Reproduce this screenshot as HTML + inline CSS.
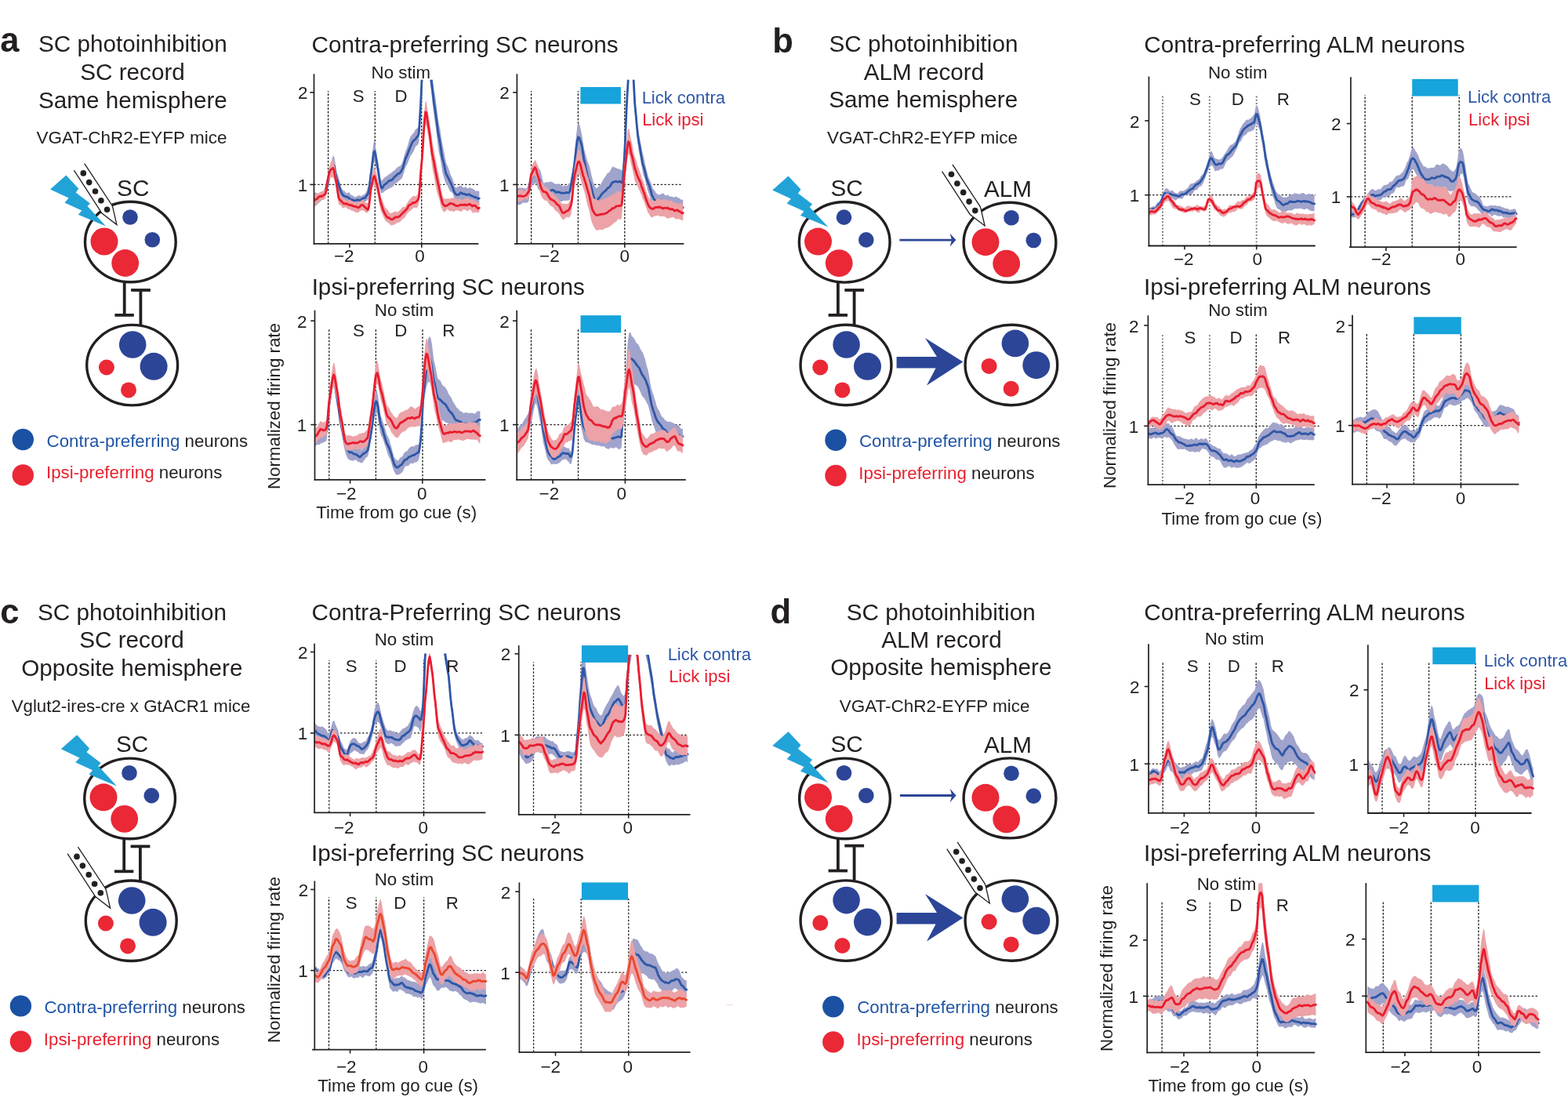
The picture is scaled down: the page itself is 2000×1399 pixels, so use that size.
<!DOCTYPE html>
<html><head><meta charset="utf-8"><title>Figure</title>
<style>html,body{margin:0;padding:0;background:#fff;overflow:hidden}svg{display:block}text{font-family:"Liberation Sans",Arial,Helvetica,sans-serif}</style>
</head><body>
<svg width="2000" height="1399" viewBox="0 0 2000 1399" font-family="Liberation Sans, Arial, Helvetica, sans-serif"><defs><clipPath id="c1"><rect x="400.5" y="101.8" width="219.9" height="209.1"/></clipPath><clipPath id="c2"><rect x="659.4" y="101.8" width="222.9" height="209.1"/></clipPath><clipPath id="c3"><rect x="401.5" y="395.7" width="227.9" height="216.2"/></clipPath><clipPath id="c4"><rect x="659.2" y="395.7" width="225.6" height="216.2"/></clipPath><clipPath id="c5"><rect x="1465.4" y="97.5" width="222.3" height="215.9"/></clipPath><clipPath id="c6"><rect x="1722.9" y="98.2" width="221.7" height="217.0"/></clipPath><clipPath id="c7"><rect x="1464.4" y="402.2" width="222.3" height="215.9"/></clipPath><clipPath id="c8"><rect x="1725.0" y="401.7" width="222.3" height="216.0"/></clipPath><clipPath id="c9"><rect x="401.1" y="833.6" width="228.3" height="202.7"/></clipPath><clipPath id="c10"><rect x="661.7" y="834.9" width="228.7" height="203.9"/></clipPath><clipPath id="c11"><rect x="401.3" y="1123.5" width="228.6" height="215.2"/></clipPath><clipPath id="c12"><rect x="662.4" y="1125.4" width="228.1" height="216.4"/></clipPath><clipPath id="c13"><rect x="1465.0" y="821.2" width="221.6" height="215.7"/></clipPath><clipPath id="c14"><rect x="1744.8" y="822.3" width="218.7" height="214.7"/></clipPath><clipPath id="c15"><rect x="1463.2" y="1126.2" width="224.0" height="216.2"/></clipPath><clipPath id="c16"><rect x="1742.3" y="1126.1" width="232.3" height="216.1"/></clipPath></defs><rect width="2000" height="1399" fill="#fff"/><text x="0.20" y="66.45" font-size="43.5" font-weight="bold" fill="#231f20">a</text>
<text x="48.91" y="66.45" font-size="29.7" fill="#231f20">SC photoinhibition</text>
<text x="102.22" y="102.30" font-size="29.7" fill="#231f20">SC record</text>
<text x="48.92" y="137.50" font-size="29.7" fill="#231f20">Same hemisphere</text>
<text x="46.45" y="183.00" font-size="22.5" fill="#231f20">VGAT-ChR2-EYFP mice</text>
<ellipse cx="166.35" cy="308.50" rx="57.85" ry="51.30" fill="#fff" stroke="#231f20" stroke-width="3.4"/>
<ellipse cx="168.65" cy="465.65" rx="57.95" ry="51.25" fill="#fff" stroke="#231f20" stroke-width="3.4"/>
<line x1="158.70" y1="360.50" x2="158.70" y2="401.90" stroke="#231f20" stroke-width="3.8"/>
<line x1="146.40" y1="401.90" x2="170.80" y2="401.90" stroke="#231f20" stroke-width="3.8"/>
<line x1="179.40" y1="370.00" x2="179.40" y2="414.00" stroke="#231f20" stroke-width="3.8"/>
<line x1="167.10" y1="370.00" x2="191.90" y2="370.00" stroke="#231f20" stroke-width="3.8"/>
<circle cx="133.00" cy="308.00" r="17.50" fill="#ea2836" stroke="none" stroke-width="0"/>
<circle cx="159.70" cy="335.50" r="17.40" fill="#ea2836" stroke="none" stroke-width="0"/>
<circle cx="166.00" cy="277.00" r="9.80" fill="#2c4597" stroke="none" stroke-width="0"/>
<circle cx="194.30" cy="305.80" r="9.80" fill="#2c4597" stroke="none" stroke-width="0"/>
<circle cx="169.20" cy="439.50" r="17.30" fill="#2c4597" stroke="none" stroke-width="0"/>
<circle cx="196.10" cy="467.30" r="17.50" fill="#2c4597" stroke="none" stroke-width="0"/>
<circle cx="135.90" cy="468.50" r="10.00" fill="#ea2836" stroke="none" stroke-width="0"/>
<circle cx="164.00" cy="497.40" r="10.00" fill="#ea2836" stroke="none" stroke-width="0"/>
<polygon points="84.30,223.40 100.30,240.60 96.70,245.50 115.00,259.50 111.50,262.90 135.20,288.60 99.70,273.80 104.30,268.40 82.40,258.50 87.70,252.60 64.00,241.40" fill="#22a3d7" stroke="none" stroke-width="0"/>
<polygon points="94.37,217.15 130.05,272.04 148.90,286.60 144.00,265.20 142.85,261.75 107.75,208.58" fill="#fff" stroke="none" stroke-width="0"/>
<path d="M94.37,217.15 L130.05,272.04 L148.90,286.60 L144.00,265.20 L142.85,261.75 L107.75,208.58" fill="none" stroke="#231f20" stroke-width="1.3" stroke-linejoin="miter"/>
<circle cx="106.30" cy="220.90" r="3.80" fill="#231f20" stroke="none" stroke-width="0"/>
<circle cx="113.70" cy="232.60" r="3.80" fill="#231f20" stroke="none" stroke-width="0"/>
<circle cx="121.50" cy="244.00" r="3.80" fill="#231f20" stroke="none" stroke-width="0"/>
<circle cx="128.90" cy="255.70" r="3.80" fill="#231f20" stroke="none" stroke-width="0"/>
<circle cx="136.60" cy="267.20" r="3.80" fill="#231f20" stroke="none" stroke-width="0"/>
<text x="149.11" y="250.30" font-size="29.7" fill="#231f20">SC</text>
<circle cx="29.30" cy="560.50" r="13.70" fill="#1b51a3" stroke="none" stroke-width="0"/>
<circle cx="29.30" cy="605.90" r="13.70" fill="#ea2836" stroke="none" stroke-width="0"/>
<text x="59.59" y="569.60" font-size="22.3" xml:space="preserve"><tspan fill="#2054a5">Contra-preferring</tspan><tspan fill="#231f20"> neurons</tspan></text>
<text x="58.99" y="610.00" font-size="22.3" xml:space="preserve"><tspan fill="#e8212f">Ipsi-preferring</tspan><tspan fill="#231f20"> neurons</tspan></text>
<text x="397.62" y="66.80" font-size="29.7" fill="#231f20">Contra-preferring SC neurons</text>
<text x="397.63" y="376.30" font-size="29.7" fill="#231f20">Ipsi-preferring SC neurons</text>
<text transform="translate(357.20,517.50) rotate(-90)" x="-106.50" y="0" font-size="22.3" fill="#231f20">Normalized firing rate</text>
<text x="403.25" y="661.10" font-size="22.3" fill="#231f20">Time from go cue (s)</text>
<line x1="418.60" y1="310.90" x2="418.60" y2="115.90" stroke="#1e1e1e" stroke-width="1.3" stroke-dasharray="2.6 1.9"/>
<line x1="478.30" y1="310.90" x2="478.30" y2="115.90" stroke="#1e1e1e" stroke-width="1.3" stroke-dasharray="2.6 1.9"/>
<line x1="537.70" y1="310.90" x2="537.70" y2="115.90" stroke="#1e1e1e" stroke-width="1.3" stroke-dasharray="2.6 1.9"/>
<line x1="400.50" y1="235.40" x2="610.40" y2="235.40" stroke="#1e1e1e" stroke-width="1.3" stroke-dasharray="2.4 2.3"/>
<g clip-path="url(#c1)"><path d="M400.7,245.8 L401.9,245.5 L403.1,245.7 L404.3,246.6 L405.5,247.4 L406.7,247.3 L407.9,247.3 L409.1,246.9 L410.3,247.3 L411.5,245.8 L412.7,244.0 L413.9,240.3 L415.1,235.5 L416.3,230.6 L417.5,227.7 L418.7,223.3 L419.9,217.6 L421.1,211.9 L422.4,207.7 L423.6,202.5 L424.8,198.4 L426.0,199.4 L427.2,205.1 L428.4,213.7 L429.6,220.3 L430.8,223.3 L432.0,226.9 L433.2,232.1 L434.4,236.3 L435.6,240.0 L436.8,241.6 L438.0,243.0 L439.2,243.5 L440.4,244.6 L441.6,246.1 L442.8,246.5 L444.0,245.5 L445.2,245.0 L446.4,246.7 L447.6,248.5 L448.8,249.1 L450.0,249.5 L451.2,250.3 L452.4,251.6 L453.6,251.2 L454.8,250.7 L456.0,249.9 L457.3,249.1 L458.5,249.5 L459.7,249.8 L460.9,250.0 L462.1,249.2 L463.3,248.2 L464.5,248.2 L465.7,246.9 L466.9,244.9 L468.1,241.8 L469.3,238.7 L470.5,233.9 L471.7,223.7 L472.9,213.7 L474.1,205.2 L475.3,191.7 L476.5,182.2 L477.7,179.5 L478.9,185.4 L480.1,193.4 L481.3,201.7 L482.5,207.8 L483.7,217.9 L484.9,226.0 L486.1,230.3 L487.3,230.2 L488.5,228.6 L489.7,227.3 L490.9,226.1 L492.1,225.2 L493.4,224.7 L494.6,223.3 L495.8,222.8 L497.0,221.5 L498.2,221.2 L499.4,220.2 L500.6,219.0 L501.8,218.0 L503.0,217.7 L504.2,215.9 L505.4,215.0 L506.6,213.3 L507.8,212.9 L509.0,212.3 L510.2,211.6 L511.4,210.5 L512.6,208.4 L513.8,205.6 L515.0,201.1 L516.2,196.6 L517.4,192.4 L518.6,190.0 L519.8,186.6 L521.0,182.3 L522.2,178.1 L523.4,174.2 L524.6,172.9 L525.8,171.4 L527.0,170.2 L528.3,168.4 L529.5,166.1 L530.7,164.4 L531.9,163.5 L533.1,163.4 L534.3,158.8 L535.5,136.8 L536.7,116.9 L537.9,89.2 L539.1,76.5 L540.3,64.2 L541.5,52.4 L542.7,43.1 L543.9,40.9 L545.1,44.9 L546.3,54.9 L547.5,66.2 L548.7,75.8 L549.9,82.9 L551.1,93.1 L552.3,104.3 L553.5,114.6 L554.7,120.5 L555.9,128.1 L557.1,137.4 L558.3,147.9 L559.5,156.2 L560.7,161.5 L561.9,167.9 L563.1,177.1 L564.4,184.8 L565.6,189.7 L566.8,196.3 L568.0,202.6 L569.2,208.3 L570.4,210.5 L571.6,213.6 L572.8,216.7 L574.0,220.4 L575.2,224.1 L576.4,225.7 L577.6,229.0 L578.8,232.9 L580.0,237.8 L581.2,239.0 L582.4,239.5 L583.6,238.0 L584.8,238.1 L586.0,237.1 L587.2,237.0 L588.4,236.5 L589.6,237.9 L590.8,239.3 L592.0,239.3 L593.2,238.2 L594.4,238.6 L595.6,239.4 L596.8,240.7 L598.0,239.6 L599.3,239.1 L600.5,239.4 L601.7,240.3 L602.9,240.6 L604.1,241.4 L605.3,242.2 L606.5,244.0 L607.7,243.0 L608.9,243.9 L610.1,243.0 L611.3,244.5 L611.3,262.0 L610.1,262.5 L608.9,261.7 L607.7,261.2 L606.5,260.1 L605.3,259.0 L604.1,259.9 L602.9,258.9 L601.7,258.7 L600.5,257.6 L599.3,258.6 L598.0,259.1 L596.8,258.8 L595.6,256.8 L594.4,256.8 L593.2,257.4 L592.0,257.5 L590.8,257.2 L589.6,255.4 L588.4,255.7 L587.2,254.8 L586.0,255.7 L584.8,256.4 L583.6,257.7 L582.4,258.1 L581.2,257.6 L580.0,254.7 L578.8,250.9 L577.6,247.1 L576.4,245.5 L575.2,244.5 L574.0,244.0 L572.8,241.4 L571.6,239.0 L570.4,236.0 L569.2,234.9 L568.0,232.1 L566.8,228.7 L565.6,224.4 L564.4,219.9 L563.1,212.2 L561.9,203.9 L560.7,198.2 L559.5,192.7 L558.3,183.5 L557.1,173.3 L555.9,163.2 L554.7,155.7 L553.5,147.7 L552.3,137.8 L551.1,126.0 L549.9,116.1 L548.7,108.0 L547.5,97.2 L546.3,83.1 L545.1,70.9 L543.9,63.7 L542.7,66.4 L541.5,76.3 L540.3,90.4 L539.1,102.4 L537.9,115.2 L536.7,143.1 L535.5,161.5 L534.3,181.8 L533.1,184.5 L531.9,185.4 L530.7,186.1 L529.5,188.2 L528.3,191.0 L527.0,194.0 L525.8,195.7 L524.6,197.5 L523.4,199.3 L522.2,202.6 L521.0,205.6 L519.8,208.7 L518.6,210.4 L517.4,213.0 L516.2,216.3 L515.0,220.8 L513.8,224.5 L512.6,227.6 L511.4,228.4 L510.2,229.5 L509.0,230.5 L507.8,231.6 L506.6,232.9 L505.4,233.0 L504.2,234.4 L503.0,235.3 L501.8,237.0 L500.6,238.5 L499.4,239.1 L498.2,239.5 L497.0,240.3 L495.8,240.6 L494.6,241.6 L493.4,242.0 L492.1,242.8 L490.9,243.8 L489.7,244.6 L488.5,246.0 L487.3,246.0 L486.1,246.2 L484.9,242.4 L483.7,235.4 L482.5,226.8 L481.3,221.9 L480.1,215.5 L478.9,209.1 L477.7,205.2 L476.5,208.7 L475.3,216.3 L474.1,226.1 L472.9,232.8 L471.7,242.6 L470.5,251.8 L469.3,255.1 L468.1,255.2 L466.9,256.8 L465.7,257.4 L464.5,258.2 L463.3,258.1 L462.1,258.9 L460.9,260.1 L459.7,261.1 L458.5,260.2 L457.3,259.0 L456.0,258.0 L454.8,259.1 L453.6,258.8 L452.4,258.5 L451.2,257.2 L450.0,257.4 L448.8,257.7 L447.6,258.5 L446.4,258.9 L445.2,259.4 L444.0,258.8 L442.8,259.1 L441.6,258.5 L440.4,258.3 L439.2,256.7 L438.0,256.3 L436.8,255.5 L435.6,254.7 L434.4,252.5 L433.2,248.1 L432.0,244.5 L430.8,240.1 L429.6,237.3 L428.4,232.0 L427.2,227.1 L426.0,222.7 L424.8,221.2 L423.6,221.4 L422.4,224.5 L421.1,226.8 L419.9,232.2 L418.7,237.9 L417.5,243.7 L416.3,246.3 L415.1,250.1 L413.9,252.7 L412.7,254.3 L411.5,254.7 L410.3,255.3 L409.1,256.4 L407.9,257.8 L406.7,258.7 L405.5,259.6 L404.3,261.0 L403.1,262.3 L401.9,262.9 L400.7,262.4Z" fill="#a0a3cb"/><path d="M400.7,255.6 L401.9,255.4 L403.1,254.7 L404.3,254.0 L405.5,252.4 L406.7,251.8 L407.9,251.7 L409.1,251.4 L410.3,250.3 L411.5,249.6 L412.7,249.0 L413.9,247.6 L415.1,243.2 L416.3,239.5 L417.5,236.2 L418.7,231.1 L419.9,225.0 L421.1,219.9 L422.4,217.7 L423.6,213.1 L424.8,210.3 L426.0,210.6 L427.2,216.3 L428.4,223.0 L429.6,228.5 L430.8,231.1 L432.0,234.9 L433.2,239.3 L434.4,243.0 L435.6,246.1 L436.8,247.5 L438.0,249.5 L439.2,249.8 L440.4,250.6 L441.6,250.8 L442.8,251.2 L444.0,251.7 L445.2,252.6 L446.4,253.8 L447.6,254.7 L448.8,254.7 L450.0,255.1 L451.2,255.6 L452.4,255.8 L453.6,255.8 L454.8,254.9 L456.0,255.2 L457.3,254.8 L458.5,255.5 L459.7,255.0 L460.9,254.4 L462.1,253.2 L463.3,253.1 L464.5,252.5 L465.7,252.2 L466.9,250.2 L468.1,248.8 L469.3,247.2 L470.5,243.5 L471.7,233.2 L472.9,223.8 L474.1,215.3 L475.3,204.6 L476.5,195.1 L477.7,192.7 L478.9,196.7 L480.1,203.9 L481.3,211.2 L482.5,217.4 L483.7,226.4 L484.9,234.7 L486.1,239.2 L487.3,240.1 L488.5,238.4 L489.7,236.3 L490.9,235.2 L492.1,234.6 L493.4,233.3 L494.6,232.2 L495.8,230.8 L497.0,230.2 L498.2,230.0 L499.4,230.0 L500.6,228.9 L501.8,227.3 L503.0,225.9 L504.2,224.8 L505.4,223.8 L506.6,222.4 L507.8,221.6 L509.0,221.4 L510.2,220.3 L511.4,219.1 L512.6,216.7 L513.8,214.4 L515.0,210.1 L516.2,205.7 L517.4,201.7 L518.6,199.6 L519.8,196.6 L521.0,193.6 L522.2,190.3 L523.4,187.6 L524.6,184.5 L525.8,181.7 L527.0,179.7 L528.3,178.9 L529.5,177.8 L530.7,176.5 L531.9,174.5 L533.1,173.4 L534.3,169.9 L535.5,150.3 L536.7,131.6 L537.9,104.1 L539.1,90.4 L540.3,77.8 L541.5,63.8 L542.7,54.0 L543.9,51.4 L545.1,57.9 L546.3,69.5 L547.5,82.5 L548.7,92.9 L549.9,99.8 L551.1,109.9 L552.3,120.4 L553.5,131.2 L554.7,137.9 L555.9,146.2 L557.1,155.3 L558.3,165.2 L559.5,172.9 L560.7,178.6 L561.9,185.7 L563.1,194.9 L564.4,202.3 L565.6,206.3 L566.8,211.3 L568.0,217.5 L569.2,222.3 L570.4,224.1 L571.6,226.7 L572.8,229.0 L574.0,231.8 L575.2,233.9 L576.4,236.8 L577.6,239.7 L578.8,243.3 L580.0,245.7 L581.2,247.6 L582.4,248.1 L583.6,248.7 L584.8,248.3 L586.0,247.4 L587.2,246.0 L588.4,245.9 L589.6,246.5 L590.8,247.3 L592.0,247.3 L593.2,247.5 L594.4,248.3 L595.6,248.6 L596.8,248.1 L598.0,247.8 L599.3,248.3 L600.5,249.5 L601.7,249.6 L602.9,250.3 L604.1,250.8 L605.3,251.7 L606.5,251.4 L607.7,252.2 L608.9,252.5 L610.1,253.6 L611.3,252.9" fill="none" stroke="#2e57a7" stroke-width="2.8" stroke-linejoin="round" stroke-linecap="round"/><path d="M400.7,247.6 L401.9,247.4 L403.1,246.2 L404.3,246.9 L405.5,245.9 L406.7,246.4 L407.9,245.1 L409.1,244.7 L410.3,243.9 L411.5,244.0 L412.7,243.3 L413.9,242.3 L415.1,240.3 L416.3,234.0 L417.5,223.9 L418.7,219.4 L419.9,213.8 L421.1,208.8 L422.4,205.9 L423.6,203.1 L424.8,202.6 L426.0,204.3 L427.2,213.9 L428.4,219.2 L429.6,227.5 L430.8,236.1 L432.0,244.6 L433.2,247.4 L434.4,249.4 L435.6,251.1 L436.8,252.0 L438.0,253.2 L439.2,253.2 L440.4,254.5 L441.6,255.3 L442.8,255.8 L444.0,255.4 L445.2,255.0 L446.4,254.3 L447.6,255.4 L448.8,256.2 L450.0,257.6 L451.2,256.9 L452.4,256.9 L453.6,257.3 L454.8,258.2 L456.0,257.7 L457.3,257.0 L458.5,257.0 L459.7,256.7 L460.9,255.7 L462.1,254.4 L463.3,255.1 L464.5,256.9 L465.7,258.1 L466.9,258.7 L468.1,258.8 L469.3,259.0 L470.5,256.1 L471.7,246.0 L472.9,234.7 L474.1,226.7 L475.3,220.8 L476.5,214.6 L477.7,212.8 L478.9,216.7 L480.1,221.3 L481.3,226.0 L482.5,232.6 L483.7,241.5 L484.9,248.9 L486.1,251.9 L487.3,254.1 L488.5,257.6 L489.7,260.7 L490.9,263.9 L492.1,265.5 L493.4,266.5 L494.6,267.9 L495.8,269.5 L497.0,271.4 L498.2,272.0 L499.4,271.8 L500.6,271.3 L501.8,270.5 L503.0,270.1 L504.2,269.6 L505.4,270.2 L506.6,270.3 L507.8,269.9 L509.0,269.0 L510.2,267.8 L511.4,266.7 L512.6,265.0 L513.8,263.9 L515.0,263.8 L516.2,263.9 L517.4,262.4 L518.6,260.5 L519.8,258.3 L521.0,256.5 L522.2,254.6 L523.4,253.2 L524.6,252.3 L525.8,250.8 L527.0,250.1 L528.3,249.7 L529.5,250.3 L530.7,250.4 L531.9,249.1 L533.1,247.3 L534.3,243.8 L535.5,229.8 L536.7,210.0 L537.9,196.9 L539.1,179.9 L540.3,158.0 L541.5,139.1 L542.7,128.7 L543.9,130.1 L545.1,138.6 L546.3,145.7 L547.5,151.6 L548.7,160.6 L549.9,169.0 L551.1,179.0 L552.3,185.7 L553.5,191.7 L554.7,197.4 L555.9,204.2 L557.1,211.2 L558.3,217.9 L559.5,222.3 L560.7,229.1 L561.9,237.1 L563.1,244.5 L564.4,249.8 L565.6,252.7 L566.8,253.3 L568.0,254.1 L569.2,253.0 L570.4,253.7 L571.6,252.6 L572.8,253.8 L574.0,253.3 L575.2,253.3 L576.4,252.3 L577.6,252.6 L578.8,252.6 L580.0,253.0 L581.2,253.0 L582.4,254.2 L583.6,254.1 L584.8,253.9 L586.0,253.1 L587.2,253.7 L588.4,254.8 L589.6,255.2 L590.8,254.2 L592.0,253.7 L593.2,253.2 L594.4,253.0 L595.6,251.7 L596.8,252.3 L598.0,253.5 L599.3,254.6 L600.5,254.4 L601.7,254.3 L602.9,254.1 L604.1,255.5 L605.3,255.6 L606.5,256.8 L607.7,257.0 L608.9,258.2 L610.1,258.2 L611.3,257.5 L611.3,270.4 L610.1,271.3 L608.9,270.9 L607.7,270.9 L606.5,270.2 L605.3,271.2 L604.1,271.6 L602.9,271.3 L601.7,269.8 L600.5,267.8 L599.3,267.2 L598.0,267.9 L596.8,268.8 L595.6,269.4 L594.4,268.2 L593.2,267.5 L592.0,267.3 L590.8,267.4 L589.6,269.1 L588.4,269.4 L587.2,270.0 L586.0,269.0 L584.8,268.6 L583.6,268.4 L582.4,268.3 L581.2,268.5 L580.0,269.3 L578.8,270.1 L577.6,269.6 L576.4,269.2 L575.2,269.1 L574.0,269.6 L572.8,268.5 L571.6,267.2 L570.4,266.4 L569.2,268.3 L568.0,269.5 L566.8,270.8 L565.6,269.6 L564.4,268.4 L563.1,264.8 L561.9,261.1 L560.7,256.1 L559.5,251.8 L558.3,248.2 L557.1,243.9 L555.9,237.9 L554.7,231.2 L553.5,224.2 L552.3,219.3 L551.1,212.2 L549.9,201.8 L548.7,190.2 L547.5,180.3 L546.3,174.1 L545.1,168.3 L543.9,161.0 L542.7,158.8 L541.5,167.4 L540.3,183.9 L539.1,203.7 L537.9,218.3 L536.7,229.5 L535.5,246.0 L534.3,259.5 L533.1,262.9 L531.9,265.2 L530.7,265.3 L529.5,265.0 L528.3,264.7 L527.0,265.2 L525.8,267.0 L524.6,267.5 L523.4,269.1 L522.2,269.4 L521.0,270.8 L519.8,271.9 L518.6,273.3 L517.4,275.8 L516.2,277.4 L515.0,278.7 L513.8,278.9 L512.6,280.5 L511.4,281.4 L510.2,282.9 L509.0,283.6 L507.8,283.7 L506.6,284.6 L505.4,284.6 L504.2,285.9 L503.0,286.4 L501.8,286.5 L500.6,287.5 L499.4,287.0 L498.2,287.4 L497.0,285.4 L495.8,284.5 L494.6,283.6 L493.4,282.7 L492.1,282.2 L490.9,280.1 L489.7,278.1 L488.5,274.9 L487.3,272.3 L486.1,270.0 L484.9,265.9 L483.7,260.1 L482.5,252.3 L481.3,247.1 L480.1,243.0 L478.9,239.8 L477.7,236.4 L476.5,236.0 L475.3,238.6 L474.1,241.8 L472.9,248.7 L471.7,258.5 L470.5,268.0 L469.3,270.8 L468.1,271.5 L466.9,271.5 L465.7,270.3 L464.5,269.2 L463.3,268.0 L462.1,268.5 L460.9,267.9 L459.7,269.0 L458.5,269.6 L457.3,271.3 L456.0,271.2 L454.8,271.1 L453.6,270.4 L452.4,270.5 L451.2,269.0 L450.0,268.9 L448.8,268.6 L447.6,268.3 L446.4,267.3 L445.2,266.8 L444.0,266.7 L442.8,266.0 L441.6,264.5 L440.4,264.2 L439.2,264.8 L438.0,265.8 L436.8,264.9 L435.6,263.1 L434.4,261.6 L433.2,261.7 L432.0,260.1 L430.8,254.1 L429.6,245.5 L428.4,239.5 L427.2,233.4 L426.0,228.2 L424.8,226.6 L423.6,226.4 L422.4,226.0 L421.1,226.3 L419.9,229.6 L418.7,233.5 L417.5,237.7 L416.3,246.2 L415.1,252.4 L413.9,254.2 L412.7,254.5 L411.5,254.9 L410.3,254.8 L409.1,255.6 L407.9,256.5 L406.7,257.0 L405.5,259.1 L404.3,260.2 L403.1,262.2 L401.9,261.9 L400.7,262.7Z" fill="#eca2a7"/><path d="M400.7,254.3 L401.9,255.2 L403.1,253.8 L404.3,253.9 L405.5,252.0 L406.7,251.2 L407.9,250.4 L409.1,250.1 L410.3,250.6 L411.5,249.6 L412.7,248.8 L413.9,248.1 L415.1,247.5 L416.3,241.5 L417.5,232.0 L418.7,226.0 L419.9,220.9 L421.1,217.1 L422.4,216.0 L423.6,215.3 L424.8,214.3 L426.0,217.0 L427.2,223.6 L428.4,229.2 L429.6,235.6 L430.8,244.7 L432.0,252.3 L433.2,254.5 L434.4,255.6 L435.6,256.8 L436.8,258.0 L438.0,259.5 L439.2,259.6 L440.4,259.9 L441.6,259.6 L442.8,260.0 L444.0,260.8 L445.2,261.5 L446.4,261.2 L447.6,261.8 L448.8,261.7 L450.0,262.7 L451.2,262.9 L452.4,263.4 L453.6,263.4 L454.8,263.8 L456.0,264.5 L457.3,264.8 L458.5,264.1 L459.7,262.7 L460.9,261.3 L462.1,261.5 L463.3,261.9 L464.5,263.5 L465.7,264.1 L466.9,265.6 L468.1,266.8 L469.3,267.5 L470.5,264.0 L471.7,253.6 L472.9,242.3 L474.1,235.8 L475.3,230.3 L476.5,225.8 L477.7,224.6 L478.9,228.5 L480.1,233.5 L481.3,237.0 L482.5,242.1 L483.7,248.7 L484.9,255.3 L486.1,259.8 L487.3,263.4 L488.5,267.3 L489.7,270.0 L490.9,272.8 L492.1,274.6 L493.4,276.7 L494.6,277.5 L495.8,277.7 L497.0,278.5 L498.2,279.2 L499.4,279.8 L500.6,279.8 L501.8,279.0 L503.0,277.9 L504.2,277.0 L505.4,277.2 L506.6,276.9 L507.8,276.7 L509.0,276.2 L510.2,275.4 L511.4,274.1 L512.6,272.7 L513.8,271.9 L515.0,270.5 L516.2,269.2 L517.4,268.1 L518.6,266.9 L519.8,265.2 L521.0,262.6 L522.2,261.5 L523.4,261.1 L524.6,260.3 L525.8,259.2 L527.0,258.5 L528.3,258.6 L529.5,258.1 L530.7,257.3 L531.9,256.4 L533.1,254.7 L534.3,251.4 L535.5,237.2 L536.7,219.5 L537.9,207.1 L539.1,191.1 L540.3,170.5 L541.5,153.0 L542.7,143.0 L543.9,143.7 L545.1,152.9 L546.3,160.0 L547.5,166.9 L548.7,175.8 L549.9,186.4 L551.1,195.5 L552.3,201.6 L553.5,206.3 L554.7,213.5 L555.9,219.9 L557.1,226.1 L558.3,231.9 L559.5,236.9 L560.7,243.0 L561.9,248.8 L563.1,254.0 L564.4,258.9 L565.6,260.9 L566.8,262.5 L568.0,262.4 L569.2,262.5 L570.4,262.0 L571.6,261.2 L572.8,260.3 L574.0,259.5 L575.2,259.6 L576.4,259.9 L577.6,259.9 L578.8,260.5 L580.0,261.6 L581.2,262.1 L582.4,262.6 L583.6,262.7 L584.8,262.2 L586.0,261.8 L587.2,261.1 L588.4,261.1 L589.6,261.5 L590.8,261.2 L592.0,261.5 L593.2,260.8 L594.4,261.5 L595.6,261.5 L596.8,261.1 L598.0,260.6 L599.3,260.2 L600.5,261.3 L601.7,262.3 L602.9,262.9 L604.1,262.2 L605.3,261.8 L606.5,262.5 L607.7,264.0 L608.9,265.2 L610.1,266.1 L611.3,265.2" fill="none" stroke="#e91c2e" stroke-width="2.8" stroke-linejoin="round" stroke-linecap="round"/></g>
<line x1="400.50" y1="94.30" x2="400.50" y2="311.70" stroke="#231f20" stroke-width="1.7"/>
<line x1="399.70" y1="310.90" x2="610.40" y2="310.90" stroke="#231f20" stroke-width="1.8"/>
<line x1="395.30" y1="117.90" x2="400.50" y2="117.90" stroke="#231f20" stroke-width="1.6"/>
<line x1="395.30" y1="235.40" x2="400.50" y2="235.40" stroke="#231f20" stroke-width="1.6"/>
<line x1="445.90" y1="310.90" x2="445.90" y2="315.70" stroke="#231f20" stroke-width="1.6"/>
<line x1="537.80" y1="310.90" x2="537.80" y2="315.70" stroke="#231f20" stroke-width="1.6"/>
<text x="380.05" y="126.40" font-size="22.5" fill="#231f20">2</text>
<text x="379.71" y="243.90" font-size="22.5" fill="#231f20">1</text>
<text x="425.88" y="334.20" font-size="22.5" fill="#231f20">−2</text>
<text x="529.20" y="334.20" font-size="22.5" fill="#231f20">0</text>
<text x="473.58" y="99.70" font-size="22.3" fill="#231f20">No stim</text>
<text x="449.83" y="130.40" font-size="22.3" fill="#231f20">S</text>
<text x="503.53" y="130.40" font-size="22.3" fill="#231f20">D</text>
<line x1="677.60" y1="310.90" x2="677.60" y2="115.90" stroke="#1e1e1e" stroke-width="1.3" stroke-dasharray="2.6 1.9"/>
<line x1="737.40" y1="310.90" x2="737.40" y2="115.90" stroke="#1e1e1e" stroke-width="1.3" stroke-dasharray="2.6 1.9"/>
<line x1="796.80" y1="310.90" x2="796.80" y2="115.90" stroke="#1e1e1e" stroke-width="1.3" stroke-dasharray="2.6 1.9"/>
<line x1="659.40" y1="235.40" x2="871.00" y2="235.40" stroke="#1e1e1e" stroke-width="1.3" stroke-dasharray="2.4 2.3"/>
<g clip-path="url(#c2)"><path d="M659.4,240.4 L660.6,239.9 L661.8,239.5 L663.0,239.3 L664.2,239.7 L665.4,239.6 L666.6,239.8 L667.8,239.9 L669.0,240.3 L670.2,240.7 L671.4,240.1 L672.6,238.4 L673.8,236.6 L675.0,230.1 L676.2,222.5 L677.4,218.1 L678.6,216.4 L679.9,213.2 L681.1,210.5 L682.3,209.0 L683.5,207.6 L684.7,208.7 L685.9,210.8 L687.1,214.7 L688.3,216.0 L689.5,218.6 L690.7,223.1 L691.9,228.4 L693.1,233.0 L694.3,233.6 L695.5,233.0 L696.7,232.1 L697.9,232.2 L699.1,232.3 L700.3,232.3 L701.5,231.7 L702.7,231.6 L703.9,232.1 L705.1,232.6 L706.3,233.8 L707.5,234.1 L708.7,235.4 L709.9,234.8 L711.1,234.8 L712.3,235.0 L713.6,235.5 L714.8,235.1 L716.0,235.8 L717.2,236.9 L718.4,237.7 L719.6,236.5 L720.8,236.6 L722.0,237.2 L723.2,237.1 L724.4,235.7 L725.6,234.1 L726.8,233.8 L728.0,228.7 L729.2,222.8 L730.4,215.1 L731.6,208.1 L732.8,196.8 L734.0,182.7 L735.2,170.7 L736.4,161.1 L737.6,156.8 L738.8,157.2 L740.0,162.3 L741.2,167.5 L742.4,173.5 L743.6,180.7 L744.8,189.2 L746.1,193.9 L747.3,198.2 L748.5,202.8 L749.7,206.4 L750.9,209.5 L752.1,212.9 L753.3,218.1 L754.5,223.4 L755.7,227.9 L756.9,233.0 L758.1,235.2 L759.3,238.6 L760.5,239.6 L761.7,239.7 L762.9,238.3 L764.1,237.0 L765.3,235.9 L766.5,234.4 L767.7,232.2 L768.9,229.9 L770.1,227.9 L771.3,226.3 L772.5,224.5 L773.7,222.6 L774.9,220.7 L776.1,220.4 L777.3,219.4 L778.5,217.6 L779.8,214.8 L781.0,212.9 L782.2,212.3 L783.4,213.4 L784.6,213.6 L785.8,214.2 L787.0,214.9 L788.2,215.1 L789.4,215.8 L790.6,215.5 L791.8,217.1 L793.0,216.9 L794.2,215.8 L795.4,200.6 L796.6,183.7 L797.8,159.6 L799.0,130.4 L800.2,108.2 L801.4,89.0 L802.6,73.2 L803.8,70.1 L805.0,68.4 L806.2,69.8 L807.4,76.5 L808.6,99.2 L809.8,121.7 L811.0,134.1 L812.2,148.3 L813.5,161.6 L814.7,169.2 L815.9,174.9 L817.1,182.2 L818.3,189.1 L819.5,194.8 L820.7,198.9 L821.9,204.1 L823.1,210.1 L824.3,215.4 L825.5,219.9 L826.7,224.3 L827.9,227.8 L829.1,230.1 L830.3,233.2 L831.5,236.8 L832.7,240.0 L833.9,242.0 L835.1,242.9 L836.3,245.4 L837.5,246.4 L838.7,247.9 L839.9,248.1 L841.1,248.4 L842.3,248.1 L843.5,247.2 L844.7,246.5 L846.0,246.4 L847.2,247.5 L848.4,248.9 L849.6,249.5 L850.8,248.6 L852.0,248.5 L853.2,249.6 L854.4,251.1 L855.6,250.5 L856.8,250.6 L858.0,250.7 L859.2,251.9 L860.4,251.3 L861.6,250.4 L862.8,250.9 L864.0,251.4 L865.2,252.4 L866.4,252.6 L867.6,253.4 L868.8,254.8 L870.0,254.7 L871.2,254.5 L871.2,276.5 L870.0,275.5 L868.8,275.9 L867.6,275.9 L866.4,274.8 L865.2,273.0 L864.0,272.4 L862.8,273.0 L861.6,273.4 L860.4,272.1 L859.2,271.0 L858.0,270.0 L856.8,271.1 L855.6,271.7 L854.4,272.6 L853.2,271.7 L852.0,271.6 L850.8,270.5 L849.6,270.1 L848.4,269.6 L847.2,269.7 L846.0,269.7 L844.7,268.7 L843.5,269.3 L842.3,268.2 L841.1,267.7 L839.9,266.2 L838.7,266.8 L837.5,267.8 L836.3,267.5 L835.1,265.6 L833.9,263.0 L832.7,261.5 L831.5,259.7 L830.3,255.6 L829.1,251.9 L827.9,247.9 L826.7,245.1 L825.5,240.9 L824.3,235.0 L823.1,230.8 L821.9,226.6 L820.7,224.1 L819.5,218.8 L818.3,210.9 L817.1,204.0 L815.9,197.6 L814.7,193.0 L813.5,183.9 L812.2,170.6 L811.0,155.7 L809.8,145.3 L808.6,123.0 L807.4,100.9 L806.2,93.8 L805.0,92.0 L803.8,93.5 L802.6,95.1 L801.4,110.2 L800.2,129.1 L799.0,152.4 L797.8,183.8 L796.6,208.8 L795.4,228.5 L794.2,245.2 L793.0,247.4 L791.8,248.2 L790.6,247.4 L789.4,248.0 L788.2,247.7 L787.0,249.4 L785.8,248.8 L784.6,249.1 L783.4,249.5 L782.2,250.1 L781.0,251.8 L779.8,253.8 L778.5,255.8 L777.3,257.8 L776.1,258.8 L774.9,260.3 L773.7,261.3 L772.5,261.7 L771.3,261.9 L770.1,262.0 L768.9,262.3 L767.7,263.8 L766.5,264.7 L765.3,266.2 L764.1,267.8 L762.9,268.9 L761.7,270.9 L760.5,271.1 L759.3,270.5 L758.1,268.6 L756.9,264.9 L755.7,261.2 L754.5,257.7 L753.3,253.7 L752.1,250.5 L750.9,247.5 L749.7,244.6 L748.5,237.5 L747.3,229.5 L746.1,224.2 L744.8,219.6 L743.6,211.6 L742.4,204.0 L741.2,199.6 L740.0,196.9 L738.8,193.5 L737.6,193.3 L736.4,196.4 L735.2,203.5 L734.0,212.0 L732.8,221.9 L731.6,230.0 L730.4,235.5 L729.2,241.6 L728.0,248.5 L726.8,254.2 L725.6,255.5 L724.4,255.9 L723.2,255.7 L722.0,256.0 L720.8,255.7 L719.6,256.0 L718.4,255.7 L717.2,257.0 L716.0,256.9 L714.8,256.9 L713.6,256.4 L712.3,256.1 L711.1,255.2 L709.9,253.9 L708.7,252.0 L707.5,251.1 L706.3,250.7 L705.1,251.2 L703.9,251.4 L702.7,251.3 L701.5,251.0 L700.3,252.4 L699.1,254.1 L697.9,255.8 L696.7,255.6 L695.5,255.1 L694.3,254.6 L693.1,253.4 L691.9,251.5 L690.7,248.2 L689.5,245.2 L688.3,243.2 L687.1,242.2 L685.9,239.8 L684.7,235.7 L683.5,234.3 L682.3,233.6 L681.1,235.2 L679.9,235.4 L678.6,236.7 L677.4,239.1 L676.2,244.6 L675.0,253.5 L673.8,258.1 L672.6,258.0 L671.4,259.0 L670.2,258.5 L669.0,258.6 L667.8,258.4 L666.6,258.6 L665.4,259.9 L664.2,260.6 L663.0,261.2 L661.8,261.3 L660.6,261.2 L659.4,261.1Z" fill="#a0a3cb"/><path d="M659.4,251.3 L660.6,250.8 L661.8,249.8 L663.0,249.0 L664.2,249.7 L665.4,249.9 L666.6,249.6 L667.8,248.6 L669.0,248.2 L670.2,248.5 L671.4,248.7 L672.6,248.3 L673.8,247.5 L675.0,241.7 L676.2,233.3 L677.4,228.3 L678.6,226.5 L679.9,224.2 L681.1,223.0 L682.3,221.5 L683.5,220.4 L684.7,221.0 L685.9,224.0 L687.1,227.3 L688.3,229.3 L689.5,231.9 L690.7,235.7 L691.9,239.4 L693.1,243.4 L694.3,245.6 L695.5,245.3 L696.7,244.7 L697.9,244.0 L699.1,244.5 L700.3,244.1 L701.5,243.5 L702.7,242.9 L703.9,242.5 L705.1,242.3 L706.3,242.8 L707.5,243.8 L708.7,245.1 L709.9,245.3 L711.1,244.9 L712.3,244.9 L713.6,245.3 L714.8,245.9 L716.0,246.2 L717.2,246.1 L718.4,246.4 L719.6,246.3 L720.8,246.0 L722.0,245.7 L723.2,245.4 L724.4,246.2 L725.6,245.6 L726.8,244.2 L728.0,238.5 L729.2,231.2 L730.4,224.1 L731.6,218.1 L732.8,208.4 L734.0,197.6 L735.2,186.8 L736.4,179.0 L737.6,175.0 L738.8,175.7 L740.0,179.1 L741.2,182.5 L742.4,186.8 L743.6,194.7 L744.8,203.4 L746.1,208.9 L747.3,214.8 L748.5,220.5 L749.7,226.6 L750.9,229.1 L752.1,232.0 L753.3,235.2 L754.5,239.7 L755.7,245.3 L756.9,249.7 L758.1,253.3 L759.3,254.8 L760.5,256.2 L761.7,255.0 L762.9,253.9 L764.1,252.4 L765.3,250.9 L766.5,249.2 L767.7,247.2 L768.9,246.1 L770.1,244.9 L771.3,244.3 L772.5,242.9 L773.7,241.7 L774.9,239.9 L776.1,239.5 L777.3,238.5 L778.5,237.1 L779.8,234.6 L781.0,232.7 L782.2,232.1 L783.4,232.2 L784.6,231.3 L785.8,231.2 L787.0,231.7 L788.2,232.2 L789.4,231.5 L790.6,231.2 L791.8,232.0 L793.0,232.8 L794.2,231.4 L795.4,216.2 L796.6,197.1 L797.8,172.0 L799.0,141.2 L800.2,118.7 L801.4,99.1 L802.6,83.9 L803.8,81.2 L805.0,79.8 L806.2,80.7 L807.4,87.5 L808.6,111.0 L809.8,133.5 L811.0,145.3 L812.2,159.2 L813.5,172.6 L814.7,180.8 L815.9,185.7 L817.1,193.4 L818.3,200.7 L819.5,208.3 L820.7,211.9 L821.9,215.7 L823.1,220.2 L824.3,225.8 L825.5,230.1 L826.7,233.4 L827.9,235.8 L829.1,240.1 L830.3,243.9 L831.5,248.5 L832.7,251.2 L833.9,253.6 L835.1,254.9 L836.3,256.4 L837.5,257.4 L838.7,257.8 L839.9,257.8 L841.1,258.1 L842.3,258.0 L843.5,258.7 L844.7,259.0 L846.0,259.9 L847.2,259.6 L848.4,259.8 L849.6,260.2 L850.8,260.5 L852.0,260.1 L853.2,259.7 L854.4,260.6 L855.6,260.6 L856.8,260.2 L858.0,259.8 L859.2,260.7 L860.4,261.9 L861.6,261.9 L862.8,262.7 L864.0,262.5 L865.2,263.7 L866.4,263.3 L867.6,263.7 L868.8,263.5 L870.0,264.0 L871.2,264.8" fill="none" stroke="#2e57a7" stroke-width="2.8" stroke-linejoin="round" stroke-linecap="round"/><path d="M659.4,244.2 L660.6,243.5 L661.8,242.3 L663.0,242.1 L664.2,241.6 L665.4,241.6 L666.6,242.5 L667.8,243.5 L669.0,244.0 L670.2,242.7 L671.4,241.3 L672.6,240.5 L673.8,240.2 L675.0,239.3 L676.2,226.2 L677.4,214.6 L678.6,211.4 L679.9,208.4 L681.1,206.6 L682.3,204.1 L683.5,205.3 L684.7,209.1 L685.9,213.3 L687.1,218.1 L688.3,224.7 L689.5,230.8 L690.7,231.5 L691.9,233.2 L693.1,234.8 L694.3,237.4 L695.5,238.3 L696.7,239.0 L697.9,239.8 L699.1,240.9 L700.3,241.6 L701.5,243.0 L702.7,244.4 L703.9,245.9 L705.1,246.2 L706.3,247.8 L707.5,248.7 L708.7,251.2 L709.9,251.1 L711.1,252.9 L712.3,253.7 L713.6,255.7 L714.8,257.6 L716.0,258.6 L717.2,259.9 L718.4,259.8 L719.6,259.8 L720.8,259.9 L722.0,260.1 L723.2,260.2 L724.4,260.0 L725.6,258.0 L726.8,256.3 L728.0,253.6 L729.2,249.2 L730.4,237.5 L731.6,223.4 L732.8,212.6 L734.0,206.0 L735.2,199.6 L736.4,194.5 L737.6,191.1 L738.8,190.5 L740.0,193.5 L741.2,199.2 L742.4,203.4 L743.6,206.5 L744.8,207.9 L746.1,211.7 L747.3,216.3 L748.5,221.0 L749.7,225.3 L750.9,227.8 L752.1,232.7 L753.3,238.1 L754.5,243.8 L755.7,249.3 L756.9,252.4 L758.1,253.7 L759.3,253.4 L760.5,253.5 L761.7,254.7 L762.9,255.5 L764.1,256.2 L765.3,256.2 L766.5,255.4 L767.7,255.0 L768.9,253.3 L770.1,254.1 L771.3,252.8 L772.5,252.8 L773.7,252.4 L774.9,252.0 L776.1,251.0 L777.3,250.0 L778.5,249.5 L779.8,249.8 L781.0,248.3 L782.2,247.6 L783.4,247.0 L784.6,246.2 L785.8,246.0 L787.0,243.8 L788.2,243.8 L789.4,242.6 L790.6,245.0 L791.8,245.1 L793.0,244.0 L794.2,233.4 L795.4,216.9 L796.6,207.1 L797.8,195.5 L799.0,182.3 L800.2,169.5 L801.4,163.4 L802.6,165.1 L803.8,171.7 L805.0,178.4 L806.2,182.9 L807.4,189.2 L808.6,196.2 L809.8,199.9 L811.0,202.8 L812.2,206.5 L813.5,212.1 L814.7,214.7 L815.9,217.9 L817.1,221.2 L818.3,225.4 L819.5,229.1 L820.7,232.2 L821.9,235.8 L823.1,239.6 L824.3,243.4 L825.5,247.6 L826.7,249.8 L827.9,252.4 L829.1,253.5 L830.3,255.5 L831.5,255.4 L832.7,255.6 L833.9,256.1 L835.1,256.3 L836.3,256.1 L837.5,254.4 L838.7,253.5 L839.9,252.4 L841.1,253.9 L842.3,255.0 L843.5,255.1 L844.7,254.6 L846.0,254.2 L847.2,254.2 L848.4,254.0 L849.6,254.5 L850.8,255.6 L852.0,255.5 L853.2,255.8 L854.4,255.4 L855.6,256.1 L856.8,255.8 L858.0,257.3 L859.2,257.8 L860.4,258.7 L861.6,258.3 L862.8,258.2 L864.0,258.8 L865.2,259.4 L866.4,260.4 L867.6,259.8 L868.8,259.3 L870.0,259.5 L871.2,260.6 L871.2,281.8 L870.0,281.2 L868.8,280.3 L867.6,279.9 L866.4,279.4 L865.2,279.0 L864.0,279.4 L862.8,279.6 L861.6,279.3 L860.4,278.1 L859.2,277.5 L858.0,276.6 L856.8,277.8 L855.6,277.2 L854.4,278.5 L853.2,277.9 L852.0,278.8 L850.8,278.5 L849.6,277.4 L848.4,276.6 L847.2,275.8 L846.0,276.0 L844.7,275.8 L843.5,276.0 L842.3,276.3 L841.1,275.4 L839.9,274.8 L838.7,274.7 L837.5,274.9 L836.3,275.7 L835.1,275.2 L833.9,276.2 L832.7,276.4 L831.5,277.7 L830.3,276.5 L829.1,275.3 L827.9,272.7 L826.7,271.7 L825.5,268.3 L824.3,265.1 L823.1,261.5 L821.9,258.0 L820.7,255.3 L819.5,253.1 L818.3,249.3 L817.1,246.9 L815.9,243.1 L814.7,241.5 L813.5,238.2 L812.2,235.5 L811.0,232.7 L809.8,231.2 L808.6,225.7 L807.4,219.4 L806.2,214.0 L805.0,209.7 L803.8,203.4 L802.6,196.7 L801.4,197.0 L800.2,203.5 L799.0,214.9 L797.8,225.9 L796.6,234.5 L795.4,244.9 L794.2,263.6 L793.0,277.2 L791.8,280.2 L790.6,280.3 L789.4,279.2 L788.2,279.6 L787.0,281.4 L785.8,283.0 L784.6,283.1 L783.4,284.3 L782.2,284.9 L781.0,286.6 L779.8,287.0 L778.5,288.3 L777.3,289.3 L776.1,289.8 L774.9,290.5 L773.7,290.8 L772.5,290.8 L771.3,291.4 L770.1,292.0 L768.9,293.6 L767.7,293.1 L766.5,293.1 L765.3,292.6 L764.1,293.3 L762.9,293.4 L761.7,294.0 L760.5,293.4 L759.3,292.2 L758.1,289.9 L756.9,288.2 L755.7,285.4 L754.5,282.2 L753.3,277.0 L752.1,271.6 L750.9,265.9 L749.7,262.8 L748.5,257.9 L747.3,252.4 L746.1,246.8 L744.8,242.4 L743.6,239.1 L742.4,235.1 L741.2,231.1 L740.0,226.4 L738.8,223.4 L737.6,222.7 L736.4,225.2 L735.2,229.0 L734.0,232.9 L732.8,236.2 L731.6,244.2 L730.4,257.8 L729.2,269.3 L728.0,274.6 L726.8,276.4 L725.6,277.6 L724.4,277.1 L723.2,276.8 L722.0,277.0 L720.8,279.0 L719.6,279.6 L718.4,280.2 L717.2,279.5 L716.0,277.5 L714.8,276.0 L713.6,272.9 L712.3,272.1 L711.1,270.2 L709.9,269.6 L708.7,268.8 L707.5,267.5 L706.3,265.6 L705.1,264.0 L703.9,263.4 L702.7,263.0 L701.5,261.5 L700.3,260.3 L699.1,258.2 L697.9,256.6 L696.7,255.6 L695.5,255.6 L694.3,255.5 L693.1,253.7 L691.9,252.8 L690.7,250.3 L689.5,247.9 L688.3,242.7 L687.1,237.0 L685.9,233.0 L684.7,228.6 L683.5,224.9 L682.3,223.9 L681.1,224.7 L679.9,226.1 L678.6,228.7 L677.4,230.5 L676.2,239.5 L675.0,251.0 L673.8,253.4 L672.6,254.7 L671.4,254.4 L670.2,253.5 L669.0,253.8 L667.8,253.9 L666.6,255.4 L665.4,255.5 L664.2,257.0 L663.0,257.0 L661.8,257.2 L660.6,256.6 L659.4,257.2Z" fill="#eca2a7"/><path d="M659.4,250.6 L660.6,250.2 L661.8,250.1 L663.0,249.6 L664.2,249.9 L665.4,250.4 L666.6,250.3 L667.8,250.3 L669.0,250.0 L670.2,249.5 L671.4,248.6 L672.6,246.7 L673.8,245.1 L675.0,242.9 L676.2,231.7 L677.4,222.6 L678.6,221.0 L679.9,217.7 L681.1,215.2 L682.3,213.5 L683.5,215.2 L684.7,219.9 L685.9,223.7 L687.1,227.3 L688.3,232.3 L689.5,237.5 L690.7,240.7 L691.9,242.9 L693.1,244.4 L694.3,244.6 L695.5,244.8 L696.7,245.3 L697.9,247.1 L699.1,248.9 L700.3,251.3 L701.5,252.8 L702.7,254.3 L703.9,254.5 L705.1,255.5 L706.3,256.0 L707.5,257.0 L708.7,258.2 L709.9,259.9 L711.1,261.1 L712.3,261.8 L713.6,263.0 L714.8,265.9 L716.0,268.5 L717.2,271.0 L718.4,271.7 L719.6,271.3 L720.8,270.6 L722.0,269.3 L723.2,269.1 L724.4,268.6 L725.6,267.5 L726.8,265.1 L728.0,262.0 L729.2,257.8 L730.4,246.7 L731.6,232.7 L732.8,223.1 L734.0,219.2 L735.2,214.6 L736.4,209.0 L737.6,206.2 L738.8,206.1 L740.0,209.2 L741.2,213.4 L742.4,218.6 L743.6,223.4 L744.8,226.6 L746.1,230.8 L747.3,234.7 L748.5,239.0 L749.7,243.2 L750.9,246.7 L752.1,251.6 L753.3,257.2 L754.5,262.8 L755.7,267.5 L756.9,269.7 L758.1,271.7 L759.3,273.3 L760.5,274.3 L761.7,274.5 L762.9,274.1 L764.1,274.1 L765.3,273.4 L766.5,273.7 L767.7,272.9 L768.9,273.2 L770.1,273.1 L771.3,272.5 L772.5,272.1 L773.7,271.5 L774.9,271.0 L776.1,269.5 L777.3,268.8 L778.5,268.1 L779.8,267.2 L781.0,265.6 L782.2,265.6 L783.4,265.1 L784.6,264.3 L785.8,263.1 L787.0,263.0 L788.2,262.6 L789.4,262.5 L790.6,262.5 L791.8,262.4 L793.0,261.0 L794.2,250.0 L795.4,232.0 L796.6,219.9 L797.8,209.0 L799.0,197.6 L800.2,186.5 L801.4,180.7 L802.6,181.6 L803.8,188.1 L805.0,195.3 L806.2,198.9 L807.4,203.9 L808.6,209.4 L809.8,215.1 L811.0,217.9 L812.2,222.4 L813.5,225.5 L814.7,228.1 L815.9,230.5 L817.1,233.3 L818.3,237.7 L819.5,240.5 L820.7,244.0 L821.9,247.0 L823.1,251.6 L824.3,254.6 L825.5,258.3 L826.7,260.7 L827.9,263.4 L829.1,264.5 L830.3,265.8 L831.5,266.1 L832.7,266.5 L833.9,265.8 L835.1,264.9 L836.3,264.3 L837.5,264.3 L838.7,264.5 L839.9,263.8 L841.1,264.4 L842.3,264.0 L843.5,265.1 L844.7,265.3 L846.0,266.0 L847.2,265.3 L848.4,265.2 L849.6,265.1 L850.8,265.6 L852.0,265.0 L853.2,266.2 L854.4,266.6 L855.6,267.2 L856.8,266.3 L858.0,266.9 L859.2,267.8 L860.4,268.9 L861.6,268.4 L862.8,268.0 L864.0,267.8 L865.2,269.1 L866.4,269.3 L867.6,270.2 L868.8,270.9 L870.0,272.1 L871.2,271.5" fill="none" stroke="#e91c2e" stroke-width="2.8" stroke-linejoin="round" stroke-linecap="round"/></g>
<rect x="740.40" y="111.00" width="51.50" height="21.50" fill="#17a3db"/>
<line x1="659.40" y1="94.30" x2="659.40" y2="311.70" stroke="#231f20" stroke-width="1.7"/>
<line x1="656.00" y1="310.90" x2="872.30" y2="310.90" stroke="#231f20" stroke-width="1.8"/>
<line x1="654.20" y1="117.90" x2="659.40" y2="117.90" stroke="#231f20" stroke-width="1.6"/>
<line x1="654.20" y1="235.40" x2="659.40" y2="235.40" stroke="#231f20" stroke-width="1.6"/>
<line x1="704.80" y1="310.90" x2="704.80" y2="315.70" stroke="#231f20" stroke-width="1.6"/>
<line x1="796.80" y1="310.90" x2="796.80" y2="315.70" stroke="#231f20" stroke-width="1.6"/>
<text x="637.25" y="126.40" font-size="22.5" fill="#231f20">2</text>
<text x="636.91" y="243.90" font-size="22.5" fill="#231f20">1</text>
<text x="688.12" y="333.75" font-size="22.5" fill="#231f20">−2</text>
<text x="790.60" y="333.75" font-size="22.5" fill="#231f20">0</text>
<text x="818.64" y="131.60" font-size="22.0" fill="#2e57a7">Lick contra</text>
<text x="819.14" y="160.10" font-size="22.0" fill="#e91c2e">Lick ipsi</text>
<line x1="419.80" y1="611.90" x2="419.80" y2="419.30" stroke="#1e1e1e" stroke-width="1.3" stroke-dasharray="2.6 1.9"/>
<line x1="479.40" y1="611.90" x2="479.40" y2="419.30" stroke="#1e1e1e" stroke-width="1.3" stroke-dasharray="2.6 1.9"/>
<line x1="539.00" y1="611.90" x2="539.00" y2="419.30" stroke="#1e1e1e" stroke-width="1.3" stroke-dasharray="2.6 1.9"/>
<line x1="401.50" y1="541.60" x2="612.40" y2="541.60" stroke="#1e1e1e" stroke-width="1.3" stroke-dasharray="2.4 2.3"/>
<g clip-path="url(#c3)"><path d="M401.5,549.1 L402.8,547.4 L404.0,546.5 L405.2,546.0 L406.4,546.2 L407.6,545.2 L408.8,544.0 L410.0,543.7 L411.2,544.1 L412.4,544.3 L413.6,543.0 L414.8,542.0 L416.0,541.9 L417.2,537.1 L418.4,523.5 L419.6,508.0 L420.8,500.1 L422.0,490.9 L423.2,478.4 L424.4,469.0 L425.6,465.6 L426.8,470.8 L428.0,479.9 L429.3,490.2 L430.5,497.6 L431.7,506.3 L432.9,516.3 L434.1,525.6 L435.3,530.4 L436.5,537.6 L437.7,543.5 L438.9,550.4 L440.1,554.5 L441.3,557.9 L442.5,562.1 L443.7,564.4 L444.9,566.7 L446.1,566.2 L447.3,567.0 L448.5,567.5 L449.7,568.3 L450.9,569.0 L452.1,569.0 L453.3,570.3 L454.6,571.8 L455.8,572.7 L457.0,572.0 L458.2,572.3 L459.4,572.5 L460.6,573.8 L461.8,573.3 L463.0,571.7 L464.2,570.2 L465.4,568.4 L466.6,566.8 L467.8,564.6 L469.0,562.2 L470.2,557.6 L471.4,551.1 L472.6,545.0 L473.8,537.2 L475.0,528.0 L476.2,517.7 L477.4,508.4 L478.6,500.9 L479.8,498.0 L481.1,499.6 L482.3,506.6 L483.5,515.7 L484.7,525.7 L485.9,531.1 L487.1,534.0 L488.3,537.6 L489.5,541.1 L490.7,545.3 L491.9,548.9 L493.1,553.7 L494.3,555.7 L495.5,558.4 L496.7,560.8 L497.9,565.8 L499.1,569.6 L500.3,574.6 L501.5,578.7 L502.7,583.0 L503.9,584.4 L505.1,586.1 L506.4,586.8 L507.6,587.6 L508.8,586.3 L510.0,584.1 L511.2,583.5 L512.4,582.5 L513.6,581.6 L514.8,578.7 L516.0,577.1 L517.2,576.0 L518.4,576.0 L519.6,574.4 L520.8,573.0 L522.0,571.2 L523.2,570.3 L524.4,569.7 L525.6,568.8 L526.8,569.6 L528.0,569.1 L529.2,568.8 L530.4,567.1 L531.6,567.4 L532.9,567.0 L534.1,566.9 L535.3,561.1 L536.5,551.7 L537.7,535.0 L538.9,510.5 L540.1,489.3 L541.3,478.1 L542.5,465.2 L543.7,451.4 L544.9,439.4 L546.1,432.6 L547.3,429.4 L548.5,429.6 L549.7,432.4 L550.9,439.0 L552.1,448.7 L553.3,458.3 L554.5,463.8 L555.7,468.8 L556.9,475.9 L558.1,481.7 L559.4,483.7 L560.6,484.4 L561.8,485.5 L563.0,488.5 L564.2,490.8 L565.4,492.0 L566.6,493.3 L567.8,493.4 L569.0,495.9 L570.2,497.2 L571.4,500.8 L572.6,503.0 L573.8,504.7 L575.0,506.3 L576.2,508.4 L577.4,511.5 L578.6,513.6 L579.8,515.1 L581.0,517.2 L582.2,519.5 L583.4,520.4 L584.7,521.6 L585.9,523.1 L587.1,524.6 L588.3,524.8 L589.5,525.2 L590.7,526.7 L591.9,526.8 L593.1,526.4 L594.3,525.6 L595.5,526.6 L596.7,526.5 L597.9,526.9 L599.1,526.4 L600.3,527.1 L601.5,526.2 L602.7,526.8 L603.9,527.2 L605.1,527.7 L606.3,527.2 L607.5,525.3 L608.7,525.2 L609.9,524.0 L611.2,524.4 L612.4,524.0 L612.4,546.5 L611.2,546.3 L609.9,548.3 L608.7,550.6 L607.5,551.7 L606.3,551.7 L605.1,551.0 L603.9,551.2 L602.7,552.9 L601.5,554.0 L600.3,555.3 L599.1,555.2 L597.9,554.4 L596.7,553.8 L595.5,553.6 L594.3,554.5 L593.1,553.9 L591.9,552.9 L590.7,553.0 L589.5,552.7 L588.3,553.3 L587.1,552.5 L585.9,553.6 L584.7,553.3 L583.4,553.3 L582.2,552.6 L581.0,550.7 L579.8,548.4 L578.6,546.1 L577.4,544.5 L576.2,544.7 L575.0,543.7 L573.8,542.9 L572.6,540.4 L571.4,540.3 L570.2,539.1 L569.0,539.4 L567.8,537.9 L566.6,537.5 L565.4,536.3 L564.2,536.5 L563.0,535.7 L561.8,534.5 L560.6,532.7 L559.4,531.5 L558.1,530.6 L556.9,527.0 L555.7,522.3 L554.5,517.2 L553.3,512.2 L552.1,505.3 L550.9,498.4 L549.7,492.4 L548.5,488.7 L547.3,486.7 L546.1,486.9 L544.9,490.1 L543.7,494.9 L542.5,501.9 L541.3,508.3 L540.1,516.5 L538.9,535.0 L537.7,556.4 L536.5,570.8 L535.3,579.9 L534.1,586.2 L532.9,588.3 L531.6,588.8 L530.4,589.5 L529.2,589.4 L528.0,590.5 L526.8,591.2 L525.6,591.2 L524.4,590.6 L523.2,591.4 L522.0,592.7 L520.8,594.3 L519.6,594.3 L518.4,594.2 L517.2,594.6 L516.0,596.0 L514.8,599.1 L513.6,601.5 L512.4,603.0 L511.2,603.5 L510.0,604.8 L508.8,605.1 L507.6,605.6 L506.4,605.8 L505.1,605.2 L503.9,603.5 L502.7,600.8 L501.5,598.0 L500.3,594.4 L499.1,590.0 L497.9,586.3 L496.7,583.7 L495.5,581.4 L494.3,578.6 L493.1,574.5 L491.9,570.1 L490.7,567.1 L489.5,563.1 L488.3,559.7 L487.1,556.9 L485.9,554.7 L484.7,550.6 L483.5,542.4 L482.3,534.8 L481.1,527.6 L479.8,525.8 L478.6,528.2 L477.4,534.2 L476.2,541.6 L475.0,550.2 L473.8,558.3 L472.6,564.9 L471.4,570.5 L470.2,577.5 L469.0,582.2 L467.8,583.0 L466.6,583.8 L465.4,586.0 L464.2,587.3 L463.0,589.5 L461.8,590.1 L460.6,590.8 L459.4,589.5 L458.2,589.3 L457.0,589.3 L455.8,588.6 L454.6,587.1 L453.3,586.1 L452.1,587.4 L450.9,587.2 L449.7,587.8 L448.5,587.3 L447.3,587.4 L446.1,586.6 L444.9,585.9 L443.7,585.1 L442.5,582.7 L441.3,579.5 L440.1,575.4 L438.9,570.5 L437.7,563.9 L436.5,556.8 L435.3,550.1 L434.1,544.9 L432.9,537.3 L431.7,528.6 L430.5,521.6 L429.3,516.2 L428.0,506.6 L426.8,497.2 L425.6,492.8 L424.4,495.4 L423.2,502.7 L422.0,511.2 L420.8,518.6 L419.6,527.4 L418.4,542.8 L417.2,557.6 L416.0,562.5 L414.8,563.2 L413.6,563.5 L412.4,564.2 L411.2,564.9 L410.0,565.6 L408.8,565.7 L407.6,567.0 L406.4,567.2 L405.2,566.9 L404.0,566.9 L402.8,568.5 L401.5,569.6Z" fill="#a0a3cb"/><path d="M401.5,560.4 L402.8,560.3 L404.0,558.7 L405.2,557.5 L406.4,555.5 L407.6,554.2 L408.8,554.3 L410.0,555.1 L411.2,555.6 L412.4,554.6 L413.6,553.3 L414.8,552.0 L416.0,551.0 L417.2,546.9 L418.4,533.0 L419.6,518.1 L420.8,509.2 L422.0,500.1 L423.2,489.6 L424.4,481.5 L425.6,479.9 L426.8,485.0 L428.0,494.2 L429.3,503.5 L430.5,509.5 L431.7,517.4 L432.9,527.8 L434.1,536.8 L435.3,542.1 L436.5,547.8 L437.7,553.9 L438.9,559.6 L440.1,564.5 L441.3,568.3 L442.5,571.1 L443.7,574.1 L444.9,575.8 L446.1,577.1 L447.3,576.6 L448.5,577.1 L449.7,577.5 L450.9,578.8 L452.1,578.9 L453.3,579.6 L454.6,579.7 L455.8,580.7 L457.0,581.6 L458.2,582.8 L459.4,582.6 L460.6,581.6 L461.8,580.2 L463.0,578.9 L464.2,578.4 L465.4,577.6 L466.6,576.9 L467.8,575.6 L469.0,574.3 L470.2,569.3 L471.4,562.1 L472.6,556.5 L473.8,549.1 L475.0,540.3 L476.2,529.8 L477.4,521.5 L478.6,514.6 L479.8,511.7 L481.1,513.8 L482.3,519.7 L483.5,528.9 L484.7,536.7 L485.9,542.1 L487.1,544.7 L488.3,548.1 L489.5,553.2 L490.7,557.2 L491.9,561.2 L493.1,564.8 L494.3,567.0 L495.5,569.7 L496.7,571.8 L497.9,575.7 L499.1,578.9 L500.3,583.8 L501.5,587.8 L502.7,591.9 L503.9,593.6 L505.1,595.5 L506.4,596.2 L507.6,595.9 L508.8,594.8 L510.0,593.9 L511.2,593.2 L512.4,592.5 L513.6,590.4 L514.8,588.6 L516.0,586.9 L517.2,586.1 L518.4,586.0 L519.6,584.7 L520.8,583.6 L522.0,582.6 L523.2,582.4 L524.4,581.6 L525.6,581.2 L526.8,580.4 L528.0,580.6 L529.2,579.7 L530.4,578.9 L531.6,578.1 L532.9,577.1 L534.1,577.1 L535.3,570.8 L536.5,561.6 L537.7,545.0 L538.9,523.0 L540.1,502.7 L541.3,493.5 L542.5,482.8 L543.7,472.4 L544.9,464.0 L546.1,458.8 L547.3,457.3 L548.5,457.5 L549.7,461.7 L550.9,468.8 L552.1,477.4 L553.3,485.0 L554.5,489.7 L555.7,495.6 L556.9,501.6 L558.1,506.2 L559.4,508.5 L560.6,509.0 L561.8,510.1 L563.0,511.3 L564.2,512.5 L565.4,513.8 L566.6,514.4 L567.8,515.6 L569.0,516.8 L570.2,519.0 L571.4,521.0 L572.6,523.6 L573.8,524.4 L575.0,526.4 L576.2,526.7 L577.4,529.1 L578.6,530.6 L579.8,533.5 L581.0,535.0 L582.2,536.2 L583.4,536.2 L584.7,537.0 L585.9,537.5 L587.1,537.7 L588.3,538.4 L589.5,539.4 L590.7,540.5 L591.9,540.6 L593.1,540.1 L594.3,540.1 L595.5,540.4 L596.7,541.4 L597.9,542.0 L599.1,541.1 L600.3,540.7 L601.5,540.0 L602.7,540.2 L603.9,539.3 L605.1,538.6 L606.3,538.4 L607.5,538.1 L608.7,537.3 L609.9,536.1 L611.2,535.3 L612.4,535.4" fill="none" stroke="#2e57a7" stroke-width="2.8" stroke-linejoin="round" stroke-linecap="round"/><path d="M401.5,545.9 L402.8,545.5 L404.0,544.3 L405.2,543.9 L406.4,541.3 L407.6,538.8 L408.8,537.1 L410.0,537.5 L411.2,538.4 L412.4,538.8 L413.6,538.4 L414.8,537.2 L416.0,537.0 L417.2,532.0 L418.4,518.3 L419.6,502.4 L420.8,493.0 L422.0,485.2 L423.2,474.8 L424.4,467.5 L425.6,462.1 L426.8,464.4 L428.0,472.0 L429.3,481.7 L430.5,488.2 L431.7,497.4 L432.9,508.3 L434.1,517.8 L435.3,522.1 L436.5,530.0 L437.7,537.6 L438.9,546.4 L440.1,551.6 L441.3,554.7 L442.5,555.5 L443.7,555.2 L444.9,555.5 L446.1,554.8 L447.3,556.0 L448.5,556.1 L449.7,556.7 L450.9,556.5 L452.1,555.8 L453.3,555.7 L454.6,555.7 L455.8,555.1 L457.0,554.0 L458.2,552.8 L459.4,553.1 L460.6,552.9 L461.8,552.1 L463.0,552.3 L464.2,552.1 L465.4,551.2 L466.6,549.3 L467.8,548.6 L469.0,546.9 L470.2,540.8 L471.4,531.6 L472.6,522.8 L473.8,516.1 L475.0,506.6 L476.2,493.4 L477.4,481.3 L478.6,468.9 L479.8,461.5 L481.1,459.2 L482.3,463.7 L483.5,471.9 L484.7,479.1 L485.9,485.3 L487.1,488.3 L488.3,494.0 L489.5,498.7 L490.7,505.1 L491.9,510.5 L493.1,515.4 L494.3,518.3 L495.5,519.1 L496.7,521.4 L497.9,523.8 L499.1,525.9 L500.3,527.6 L501.5,529.4 L502.7,530.7 L503.9,532.2 L505.1,533.0 L506.4,532.8 L507.6,530.9 L508.8,528.1 L510.0,527.0 L511.2,525.5 L512.4,525.6 L513.6,525.0 L514.8,524.5 L516.0,523.6 L517.2,522.9 L518.4,522.8 L519.6,522.5 L520.8,521.4 L522.0,520.0 L523.2,518.5 L524.4,518.8 L525.6,518.5 L526.8,519.6 L528.0,520.3 L529.2,521.8 L530.4,520.9 L531.6,519.4 L532.9,518.8 L534.1,518.4 L535.3,517.4 L536.5,510.2 L537.7,500.6 L538.9,484.5 L540.1,468.3 L541.3,452.1 L542.5,439.5 L543.7,431.7 L544.9,432.0 L546.1,438.3 L547.3,446.5 L548.5,453.1 L549.7,457.7 L550.9,466.7 L552.1,477.1 L553.3,487.0 L554.5,492.9 L555.7,498.3 L556.9,505.1 L558.1,512.0 L559.4,519.0 L560.6,524.4 L561.8,528.4 L563.0,533.7 L564.2,538.6 L565.4,542.5 L566.6,542.2 L567.8,541.9 L569.0,541.2 L570.2,542.4 L571.4,541.8 L572.6,540.7 L573.8,539.4 L575.0,539.6 L576.2,540.5 L577.4,540.3 L578.6,540.1 L579.8,540.0 L581.0,540.7 L582.2,539.5 L583.4,539.1 L584.7,538.5 L585.9,539.4 L587.1,539.1 L588.3,538.7 L589.5,538.7 L590.7,538.6 L591.9,539.7 L593.1,539.0 L594.3,539.4 L595.5,539.4 L596.7,539.0 L597.9,539.3 L599.1,537.9 L600.3,539.2 L601.5,538.0 L602.7,539.0 L603.9,538.1 L605.1,538.5 L606.3,538.3 L607.5,539.5 L608.7,541.5 L609.9,542.7 L611.2,544.1 L612.4,544.7 L612.4,565.9 L611.2,564.7 L609.9,562.9 L608.7,561.1 L607.5,560.3 L606.3,561.3 L605.1,560.6 L603.9,560.8 L602.7,560.6 L601.5,560.6 L600.3,560.7 L599.1,560.0 L597.9,560.1 L596.7,560.1 L595.5,559.9 L594.3,560.4 L593.1,561.2 L591.9,561.4 L590.7,562.4 L589.5,561.4 L588.3,562.1 L587.1,561.0 L585.9,560.9 L584.7,560.3 L583.4,560.5 L582.2,561.4 L581.0,561.1 L579.8,561.1 L578.6,561.3 L577.4,562.6 L576.2,563.8 L575.0,564.1 L573.8,563.5 L572.6,562.9 L571.4,562.6 L570.2,563.6 L569.0,563.7 L567.8,564.5 L566.6,564.5 L565.4,565.4 L564.2,563.1 L563.0,558.8 L561.8,552.9 L560.6,549.4 L559.4,544.8 L558.1,540.3 L556.9,533.9 L555.7,528.9 L554.5,524.3 L553.3,517.7 L552.1,508.7 L550.9,499.3 L549.7,492.5 L548.5,488.3 L547.3,482.5 L546.1,476.4 L544.9,471.6 L543.7,471.3 L542.5,476.7 L541.3,488.9 L540.1,502.5 L538.9,516.3 L537.7,528.2 L536.5,536.9 L535.3,542.9 L534.1,543.5 L532.9,543.8 L531.6,543.4 L530.4,544.6 L529.2,544.3 L528.0,544.5 L526.8,544.4 L525.6,544.2 L524.4,544.2 L523.2,544.8 L522.0,544.7 L520.8,545.8 L519.6,546.4 L518.4,548.2 L517.2,549.8 L516.0,549.7 L514.8,550.5 L513.6,551.0 L512.4,551.7 L511.2,552.9 L510.0,554.4 L508.8,556.9 L507.6,558.4 L506.4,558.1 L505.1,558.2 L503.9,556.7 L502.7,555.8 L501.5,554.1 L500.3,552.5 L499.1,550.9 L497.9,547.9 L496.7,545.4 L495.5,543.5 L494.3,543.0 L493.1,539.9 L491.9,535.8 L490.7,529.8 L489.5,524.7 L488.3,519.3 L487.1,514.9 L485.9,512.0 L484.7,506.0 L483.5,499.1 L482.3,492.1 L481.1,489.6 L479.8,491.6 L478.6,499.3 L477.4,508.5 L476.2,519.6 L475.0,531.3 L473.8,541.4 L472.6,547.9 L471.4,555.7 L470.2,562.3 L469.0,568.2 L467.8,568.2 L466.6,570.4 L465.4,570.3 L464.2,571.3 L463.0,571.3 L461.8,572.8 L460.6,573.0 L459.4,573.6 L458.2,572.8 L457.0,572.9 L455.8,572.4 L454.6,572.6 L453.3,572.9 L452.1,572.9 L450.9,573.5 L449.7,573.5 L448.5,574.1 L447.3,573.4 L446.1,574.4 L444.9,574.4 L443.7,574.5 L442.5,574.4 L441.3,572.9 L440.1,571.5 L438.9,565.8 L437.7,559.3 L436.5,552.4 L435.3,545.7 L434.1,540.3 L432.9,530.7 L431.7,520.4 L430.5,512.2 L429.3,507.6 L428.0,501.0 L426.8,495.2 L425.6,492.8 L424.4,495.1 L423.2,501.9 L422.0,510.5 L420.8,517.9 L419.6,525.6 L418.4,539.6 L417.2,552.2 L416.0,556.2 L414.8,555.9 L413.6,556.0 L412.4,557.2 L411.2,557.5 L410.0,558.4 L408.8,558.4 L407.6,559.2 L406.4,561.0 L405.2,562.1 L404.0,564.2 L402.8,564.8 L401.5,566.9Z" fill="#eca2a7"/><path d="M401.5,556.6 L402.8,555.9 L404.0,555.2 L405.2,553.2 L406.4,551.0 L407.6,549.3 L408.8,547.3 L410.0,547.8 L411.2,547.9 L412.4,548.9 L413.6,548.7 L414.8,548.3 L416.0,546.6 L417.2,542.0 L418.4,527.9 L419.6,513.5 L420.8,504.7 L422.0,497.7 L423.2,489.0 L424.4,482.0 L425.6,477.9 L426.8,480.1 L428.0,487.3 L429.3,495.6 L430.5,501.5 L431.7,509.6 L432.9,520.7 L434.1,529.5 L435.3,534.3 L436.5,540.3 L437.7,548.3 L438.9,556.5 L440.1,562.2 L441.3,564.7 L442.5,565.8 L443.7,566.4 L444.9,566.1 L446.1,565.4 L447.3,565.4 L448.5,565.2 L449.7,564.7 L450.9,564.5 L452.1,565.0 L453.3,565.0 L454.6,564.9 L455.8,564.9 L457.0,564.5 L458.2,563.6 L459.4,562.8 L460.6,562.8 L461.8,563.3 L463.0,563.5 L464.2,563.0 L465.4,562.1 L466.6,560.8 L467.8,559.6 L469.0,558.1 L470.2,551.6 L471.4,543.2 L472.6,534.1 L473.8,527.5 L475.0,518.5 L476.2,506.4 L477.4,495.2 L478.6,484.3 L479.8,477.7 L481.1,475.5 L482.3,479.3 L483.5,485.6 L484.7,492.8 L485.9,498.2 L487.1,501.7 L488.3,506.7 L489.5,512.2 L490.7,517.8 L491.9,523.1 L493.1,528.2 L494.3,531.0 L495.5,532.4 L496.7,533.1 L497.9,534.9 L499.1,536.5 L500.3,538.9 L501.5,541.5 L502.7,543.8 L503.9,545.5 L505.1,546.0 L506.4,545.8 L507.6,544.4 L508.8,542.0 L510.0,540.2 L511.2,538.6 L512.4,538.8 L513.6,537.8 L514.8,537.3 L516.0,536.1 L517.2,535.7 L518.4,534.7 L519.6,533.5 L520.8,533.2 L522.0,533.2 L523.2,533.6 L524.4,532.7 L525.6,532.3 L526.8,532.6 L528.0,533.7 L529.2,533.8 L530.4,532.7 L531.6,532.4 L532.9,532.1 L534.1,531.8 L535.3,529.9 L536.5,524.1 L537.7,516.2 L538.9,501.8 L540.1,485.8 L541.3,469.9 L542.5,457.7 L543.7,451.5 L544.9,451.6 L546.1,456.7 L547.3,463.8 L548.5,471.0 L549.7,476.2 L550.9,484.3 L552.1,493.2 L553.3,502.6 L554.5,507.6 L555.7,512.4 L556.9,518.3 L558.1,526.0 L559.4,532.9 L560.6,537.5 L561.8,541.2 L563.0,546.0 L564.2,550.4 L565.4,552.8 L566.6,553.5 L567.8,552.9 L569.0,552.4 L570.2,552.1 L571.4,551.8 L572.6,552.1 L573.8,550.8 L575.0,551.3 L576.2,551.2 L577.4,551.4 L578.6,551.0 L579.8,550.2 L581.0,550.7 L582.2,550.9 L583.4,551.3 L584.7,550.7 L585.9,550.7 L587.1,551.1 L588.3,551.6 L589.5,551.9 L590.7,551.0 L591.9,550.6 L593.1,549.8 L594.3,549.9 L595.5,550.2 L596.7,549.9 L597.9,550.2 L599.1,550.1 L600.3,550.9 L601.5,550.2 L602.7,549.5 L603.9,549.0 L605.1,550.3 L606.3,550.4 L607.5,551.7 L608.7,552.3 L609.9,554.1 L611.2,555.3 L612.4,555.6" fill="none" stroke="#e91c2e" stroke-width="2.8" stroke-linejoin="round" stroke-linecap="round"/></g>
<line x1="401.50" y1="395.70" x2="401.50" y2="612.70" stroke="#231f20" stroke-width="1.7"/>
<line x1="400.70" y1="611.90" x2="619.40" y2="611.90" stroke="#231f20" stroke-width="1.8"/>
<line x1="396.30" y1="409.20" x2="401.50" y2="409.20" stroke="#231f20" stroke-width="1.6"/>
<line x1="396.30" y1="541.60" x2="401.50" y2="541.60" stroke="#231f20" stroke-width="1.6"/>
<line x1="446.60" y1="611.90" x2="446.60" y2="616.70" stroke="#231f20" stroke-width="1.6"/>
<line x1="538.80" y1="611.90" x2="538.80" y2="616.70" stroke="#231f20" stroke-width="1.6"/>
<text x="379.00" y="417.70" font-size="22.5" fill="#231f20">2</text>
<text x="378.66" y="550.10" font-size="22.5" fill="#231f20">1</text>
<text x="428.88" y="637.00" font-size="22.5" fill="#231f20">−2</text>
<text x="532.10" y="637.00" font-size="22.5" fill="#231f20">0</text>
<text x="477.83" y="403.20" font-size="22.3" fill="#231f20">No stim</text>
<text x="450.03" y="429.00" font-size="22.3" fill="#231f20">S</text>
<text x="503.13" y="429.00" font-size="22.3" fill="#231f20">D</text>
<text x="564.34" y="429.00" font-size="22.3" fill="#231f20">R</text>
<line x1="677.50" y1="611.90" x2="677.50" y2="419.30" stroke="#1e1e1e" stroke-width="1.3" stroke-dasharray="2.6 1.9"/>
<line x1="737.50" y1="611.90" x2="737.50" y2="419.30" stroke="#1e1e1e" stroke-width="1.3" stroke-dasharray="2.6 1.9"/>
<line x1="797.40" y1="611.90" x2="797.40" y2="419.30" stroke="#1e1e1e" stroke-width="1.3" stroke-dasharray="2.6 1.9"/>
<line x1="659.20" y1="541.60" x2="869.80" y2="541.60" stroke="#1e1e1e" stroke-width="1.3" stroke-dasharray="2.4 2.3"/>
<g clip-path="url(#c4)"><path d="M659.2,547.2 L660.4,545.9 L661.7,544.4 L662.9,543.1 L664.1,542.1 L665.3,541.0 L666.5,539.4 L667.7,537.1 L668.9,534.9 L670.1,533.6 L671.3,531.5 L672.5,529.3 L673.7,527.6 L674.9,521.9 L676.1,514.3 L677.3,505.8 L678.5,502.1 L679.7,495.8 L680.9,487.7 L682.1,480.0 L683.3,474.4 L684.5,475.8 L685.7,482.7 L686.9,492.8 L688.1,501.0 L689.3,505.9 L690.5,513.7 L691.7,524.3 L692.9,533.8 L694.1,540.2 L695.3,545.7 L696.5,553.4 L697.7,559.9 L698.9,564.0 L700.1,565.9 L701.3,568.1 L702.5,571.6 L703.7,573.2 L704.9,574.9 L706.1,575.1 L707.4,576.4 L708.6,575.8 L709.8,574.8 L711.0,572.8 L712.2,572.3 L713.4,572.0 L714.6,571.5 L715.8,571.4 L717.0,570.5 L718.2,570.0 L719.4,569.2 L720.6,569.9 L721.8,570.9 L723.0,571.2 L724.2,571.8 L725.4,571.1 L726.6,573.9 L727.8,575.3 L729.0,576.0 L730.2,568.8 L731.4,554.1 L732.6,537.4 L733.8,527.6 L735.0,516.9 L736.2,504.7 L737.4,494.5 L738.6,494.8 L739.8,504.0 L741.0,514.2 L742.2,519.2 L743.4,526.2 L744.6,531.6 L745.8,533.4 L747.0,535.8 L748.2,537.6 L749.4,538.5 L750.6,538.4 L751.8,538.7 L753.1,540.8 L754.3,542.0 L755.5,542.8 L756.7,542.3 L757.9,542.2 L759.1,542.6 L760.3,543.2 L761.5,544.5 L762.7,545.8 L763.9,546.8 L765.1,547.2 L766.3,547.1 L767.5,546.2 L768.7,544.8 L769.9,543.9 L771.1,544.1 L772.3,544.9 L773.5,545.9 L774.7,546.4 L775.9,546.1 L777.1,545.0 L778.3,545.5 L779.5,545.9 L780.7,545.9 L781.9,544.1 L783.1,544.2 L784.3,543.7 L785.5,544.7 L786.7,542.9 L787.9,543.4 L789.1,542.5 L790.3,543.6 L791.5,542.3 L792.7,540.0 L793.9,520.1 L795.1,500.7 L796.3,491.9 L797.5,478.2 L798.8,461.9 L800.0,445.4 L801.2,432.6 L802.4,424.8 L803.6,423.6 L804.8,425.3 L806.0,429.3 L807.2,429.6 L808.4,431.3 L809.6,432.8 L810.8,435.8 L812.0,437.7 L813.2,438.5 L814.4,439.5 L815.6,442.3 L816.8,445.1 L818.0,446.7 L819.2,449.1 L820.4,450.7 L821.6,454.4 L822.8,457.8 L824.0,463.1 L825.2,467.7 L826.4,471.6 L827.6,477.3 L828.8,484.8 L830.0,491.7 L831.2,496.7 L832.4,500.6 L833.6,503.4 L834.8,508.2 L836.0,511.4 L837.2,516.4 L838.4,520.1 L839.6,522.1 L840.8,523.9 L842.0,526.5 L843.3,529.8 L844.5,531.4 L845.7,532.3 L846.9,533.8 L848.1,535.7 L849.3,536.2 L850.5,537.2 L851.7,537.7 L852.9,538.0 L854.1,537.5 L855.3,538.0 L856.5,538.2 L857.7,538.9 L858.9,539.4 L860.1,540.4 L861.3,540.8 L862.5,541.7 L863.7,541.6 L864.9,542.2 L866.1,543.1 L867.3,545.1 L868.5,546.7 L869.7,546.9 L870.9,546.7 L870.9,567.6 L869.7,568.7 L868.5,569.8 L867.3,569.3 L866.1,567.8 L864.9,568.1 L863.7,568.3 L862.5,569.9 L861.3,568.8 L860.1,568.3 L858.9,567.1 L857.7,568.1 L856.5,567.9 L855.3,568.4 L854.1,566.7 L852.9,566.7 L851.7,565.5 L850.5,565.1 L849.3,562.9 L848.1,561.0 L846.9,560.6 L845.7,560.7 L844.5,560.2 L843.3,557.8 L842.0,556.3 L840.8,556.1 L839.6,556.0 L838.4,555.5 L837.2,553.5 L836.0,549.6 L834.8,546.0 L833.6,542.1 L832.4,539.2 L831.2,535.4 L830.0,530.3 L828.8,525.1 L827.6,520.2 L826.4,516.3 L825.2,514.5 L824.0,511.8 L822.8,509.7 L821.6,507.6 L820.4,506.7 L819.2,504.9 L818.0,503.1 L816.8,499.8 L815.6,497.3 L814.4,494.2 L813.2,492.9 L812.0,491.4 L810.8,491.0 L809.6,489.9 L808.4,489.3 L807.2,487.3 L806.0,486.0 L804.8,486.1 L803.6,488.1 L802.4,491.6 L801.2,496.6 L800.0,504.4 L798.8,514.3 L797.5,523.4 L796.3,530.8 L795.1,536.3 L793.9,552.2 L792.7,570.8 L791.5,572.0 L790.3,572.9 L789.1,573.1 L787.9,571.8 L786.7,571.1 L785.5,570.3 L784.3,571.1 L783.1,571.7 L781.9,571.8 L780.7,571.6 L779.5,570.7 L778.3,571.4 L777.1,572.5 L775.9,572.6 L774.7,572.4 L773.5,571.6 L772.3,571.2 L771.1,569.6 L769.9,569.3 L768.7,569.1 L767.5,569.5 L766.3,569.3 L765.1,568.2 L763.9,568.4 L762.7,567.6 L761.5,568.7 L760.3,567.8 L759.1,567.4 L757.9,567.0 L756.7,567.3 L755.5,566.9 L754.3,566.7 L753.1,565.5 L751.8,565.7 L750.6,564.4 L749.4,564.3 L748.2,564.0 L747.0,564.1 L745.8,562.1 L744.6,559.8 L743.4,554.3 L742.2,548.9 L741.0,543.7 L739.8,531.3 L738.6,517.8 L737.4,516.1 L736.2,523.9 L735.0,535.1 L733.8,544.7 L732.6,554.5 L731.4,570.1 L730.2,583.3 L729.0,590.7 L727.8,591.9 L726.6,591.2 L725.4,588.7 L724.2,588.3 L723.0,586.8 L721.8,585.6 L720.6,585.8 L719.4,585.7 L718.2,586.6 L717.0,586.4 L715.8,588.1 L714.6,589.2 L713.4,590.3 L712.2,591.4 L711.0,591.0 L709.8,592.3 L708.6,591.8 L707.4,592.3 L706.1,591.3 L704.9,592.0 L703.7,592.6 L702.5,591.5 L701.3,589.4 L700.1,587.4 L698.9,586.6 L697.7,584.0 L696.5,579.0 L695.3,573.8 L694.1,568.7 L692.9,564.4 L691.7,556.6 L690.5,548.1 L689.3,539.8 L688.1,534.2 L686.9,528.0 L685.7,520.8 L684.5,516.2 L683.3,514.1 L682.1,517.2 L680.9,522.2 L679.7,529.6 L678.5,535.7 L677.3,539.2 L676.1,544.4 L674.9,550.8 L673.7,556.2 L672.5,559.0 L671.3,560.9 L670.1,562.0 L668.9,563.8 L667.7,565.0 L666.5,566.4 L665.3,568.4 L664.1,569.4 L662.9,570.9 L661.7,571.2 L660.4,573.2 L659.2,574.8Z" fill="#a0a3cb"/><path d="M659.2,562.1 L660.4,560.5 L661.7,558.6 L662.9,557.1 L664.1,555.5 L665.3,554.6 L666.5,552.5 L667.7,551.8 L668.9,550.6 L670.1,549.2 L671.3,547.3 L672.5,544.2 L673.7,542.0 L674.9,536.0 L676.1,529.1 L677.3,522.5 L678.5,518.4 L679.7,512.3 L680.9,504.5 L682.1,498.0 L683.3,494.7 L684.5,495.9 L685.7,501.9 L686.9,510.5 L688.1,517.3 L689.3,523.4 L690.5,530.7 L691.7,540.3 L692.9,548.2 L694.1,554.5 L695.3,560.2 L696.5,566.4 L697.7,571.6 L698.9,575.9 L700.1,578.5 L701.3,580.2 L702.5,581.3 L703.7,582.5 L704.9,584.3 L706.1,585.4 L707.4,585.6 L708.6,585.0 L709.8,584.0 L711.0,583.2 L712.2,582.7 L713.4,581.9 L714.6,581.3 L715.8,579.2 L717.0,578.7 L718.2,577.7 L719.4,577.7 L720.6,578.2 L721.8,578.3 L723.0,578.6 L724.2,578.3 L725.4,578.9 L726.6,581.1 L727.8,582.7 L729.0,581.9 L730.2,576.2 L731.4,562.0 L732.6,546.3 L733.8,536.0 L735.0,526.6 L736.2,515.3 L737.4,505.8 L738.6,505.5 L739.8,516.7 L741.0,528.8 L742.2,534.9 L743.4,540.2 L744.6,544.6 L745.8,546.5 L747.0,549.1 L748.2,551.2 L749.4,551.8 L750.6,551.7 L751.8,551.9 L753.1,552.4 L754.3,553.2 L755.5,553.4 L756.7,554.9 L757.9,555.3 L759.1,555.5 L760.3,555.2 L761.5,555.3 L762.7,555.8 L763.9,556.4 L765.1,556.8 L766.3,557.5 L767.5,557.0 L768.7,557.0 L769.9,557.0 L771.1,557.6 L772.3,558.8 L773.5,558.3 L774.7,558.8 L775.9,558.6 L777.1,559.1 L778.3,558.5 L779.5,558.5 L780.7,558.9 L781.9,559.1 L783.1,558.6 L784.3,558.1 L785.5,557.9 L786.7,557.6 L787.9,556.8 L789.1,556.9 L790.3,557.3 L791.5,557.7 L792.7,556.9 L793.9,538.3 L795.1,519.0 L796.3,509.8 L797.5,498.6 L798.8,486.7 L800.0,474.8 L801.2,465.4 L802.4,460.3 L803.6,457.5 L804.8,457.6 L806.0,457.9 L807.2,458.9 L808.4,460.1 L809.6,461.6 L810.8,463.3 L812.0,465.3 L813.2,466.5 L814.4,468.1 L815.6,469.6 L816.8,472.8 L818.0,475.5 L819.2,477.9 L820.4,479.6 L821.6,481.5 L822.8,483.5 L824.0,486.0 L825.2,489.6 L826.4,492.4 L827.6,497.7 L828.8,504.2 L830.0,510.9 L831.2,517.0 L832.4,520.3 L833.6,524.4 L834.8,527.5 L836.0,531.6 L837.2,534.4 L838.4,536.8 L839.6,538.6 L840.8,539.7 L842.0,541.5 L843.3,542.7 L844.5,545.2 L845.7,546.5 L846.9,547.4 L848.1,548.1 L849.3,549.7 L850.5,551.8 L851.7,552.3 L852.9,552.9 L854.1,552.7 L855.3,553.6 L856.5,553.5 L857.7,553.8 L858.9,554.6 L860.1,555.5 L861.3,556.2 L862.5,556.2 L863.7,556.2 L864.9,555.5 L866.1,554.9 L867.3,555.4 L868.5,556.3 L869.7,557.2 L870.9,556.7" fill="none" stroke="#2e57a7" stroke-width="2.8" stroke-linejoin="round" stroke-linecap="round"/><path d="M659.2,550.3 L660.4,551.2 L661.7,549.9 L662.9,549.9 L664.1,547.7 L665.3,546.0 L666.5,544.5 L667.7,544.0 L668.9,543.5 L670.1,541.9 L671.3,540.1 L672.5,538.9 L673.7,536.4 L674.9,526.9 L676.1,512.7 L677.3,500.7 L678.5,493.9 L679.7,486.8 L680.9,479.6 L682.1,473.3 L683.3,470.3 L684.5,470.1 L685.7,475.5 L686.9,482.9 L688.1,491.1 L689.3,497.2 L690.5,503.6 L691.7,511.9 L692.9,519.6 L694.1,525.7 L695.3,531.4 L696.5,538.6 L697.7,545.3 L698.9,550.6 L700.1,552.6 L701.3,555.3 L702.5,557.7 L703.7,560.1 L704.9,561.3 L706.1,561.4 L707.4,561.4 L708.6,561.1 L709.8,560.5 L711.0,558.7 L712.2,556.7 L713.4,553.4 L714.6,552.8 L715.8,552.2 L717.0,551.5 L718.2,547.8 L719.4,545.5 L720.6,543.1 L721.8,543.5 L723.0,542.4 L724.2,542.2 L725.4,541.1 L726.6,539.4 L727.8,538.4 L729.0,536.3 L730.2,531.5 L731.4,518.8 L732.6,504.5 L733.8,494.7 L735.0,484.3 L736.2,472.4 L737.4,464.6 L738.6,463.8 L739.8,469.8 L741.0,475.5 L742.2,480.1 L743.4,485.6 L744.6,490.5 L745.8,494.1 L747.0,500.1 L748.2,504.1 L749.4,505.1 L750.6,506.7 L751.8,508.9 L753.1,510.5 L754.3,513.1 L755.5,515.4 L756.7,518.4 L757.9,518.8 L759.1,518.9 L760.3,518.0 L761.5,518.6 L762.7,518.3 L763.9,519.4 L765.1,520.7 L766.3,522.3 L767.5,522.5 L768.7,521.9 L769.9,522.7 L771.1,522.7 L772.3,524.0 L773.5,524.1 L774.7,524.4 L775.9,524.8 L777.1,524.5 L778.3,524.6 L779.5,521.9 L780.7,519.5 L781.9,518.5 L783.1,518.6 L784.3,518.5 L785.5,518.0 L786.7,516.4 L787.9,516.1 L789.1,516.5 L790.3,517.4 L791.5,516.0 L792.7,514.8 L793.9,511.6 L795.1,503.9 L796.3,491.1 L797.5,477.7 L798.8,468.6 L800.0,458.5 L801.2,446.7 L802.4,444.5 L803.6,450.0 L804.8,459.3 L806.0,468.8 L807.2,475.3 L808.4,484.1 L809.6,493.9 L810.8,504.0 L812.0,512.7 L813.2,518.3 L814.4,525.6 L815.6,535.1 L816.8,544.2 L818.0,550.4 L819.2,552.3 L820.4,554.2 L821.6,555.4 L822.8,557.9 L824.0,559.1 L825.2,558.9 L826.4,558.5 L827.6,556.4 L828.8,555.2 L830.0,553.3 L831.2,552.9 L832.4,553.6 L833.6,552.8 L834.8,552.3 L836.0,551.3 L837.2,550.8 L838.4,550.7 L839.6,549.6 L840.8,549.2 L842.0,549.4 L843.3,549.0 L844.5,549.0 L845.7,548.4 L846.9,548.7 L848.1,548.9 L849.3,549.9 L850.5,551.6 L851.7,552.3 L852.9,551.0 L854.1,550.3 L855.3,548.5 L856.5,548.6 L857.7,545.9 L858.9,545.9 L860.1,544.3 L861.3,545.6 L862.5,547.4 L863.7,551.1 L864.9,553.5 L866.1,554.5 L867.3,554.6 L868.5,555.2 L869.7,555.4 L870.9,556.6 L870.9,577.6 L869.7,578.1 L868.5,576.2 L867.3,575.6 L866.1,575.6 L864.9,575.6 L863.7,574.5 L862.5,571.7 L861.3,569.2 L860.1,568.0 L858.9,568.3 L857.7,569.9 L856.5,571.5 L855.3,572.9 L854.1,573.3 L852.9,574.7 L851.7,575.4 L850.5,576.3 L849.3,574.5 L848.1,573.0 L846.9,571.8 L845.7,572.2 L844.5,572.6 L843.3,572.0 L842.0,571.9 L840.8,571.2 L839.6,572.5 L838.4,572.9 L837.2,573.9 L836.0,574.3 L834.8,574.3 L833.6,575.4 L832.4,575.5 L831.2,576.9 L830.0,576.4 L828.8,577.4 L827.6,577.6 L826.4,579.0 L825.2,580.4 L824.0,580.4 L822.8,580.8 L821.6,579.5 L820.4,579.8 L819.2,576.8 L818.0,574.7 L816.8,569.4 L815.6,564.2 L814.4,557.3 L813.2,551.6 L812.0,545.7 L810.8,538.1 L809.6,529.5 L808.4,522.9 L807.2,517.3 L806.0,513.9 L804.8,505.7 L803.6,498.4 L802.4,493.8 L801.2,496.9 L800.0,505.2 L798.8,513.7 L797.5,520.8 L796.3,530.6 L795.1,539.7 L793.9,544.7 L792.7,546.9 L791.5,547.4 L790.3,547.2 L789.1,547.5 L787.9,547.3 L786.7,548.7 L785.5,549.0 L784.3,550.5 L783.1,551.7 L781.9,552.8 L780.7,554.2 L779.5,558.8 L778.3,562.3 L777.1,562.6 L775.9,563.3 L774.7,564.1 L773.5,565.7 L772.3,565.2 L771.1,565.0 L769.9,563.7 L768.7,564.3 L767.5,564.6 L766.3,564.8 L765.1,563.3 L763.9,562.9 L762.7,562.7 L761.5,563.4 L760.3,563.0 L759.1,563.2 L757.9,562.4 L756.7,562.7 L755.5,561.4 L754.3,561.9 L753.1,561.5 L751.8,561.8 L750.6,559.4 L749.4,557.6 L748.2,555.7 L747.0,552.4 L745.8,547.6 L744.6,542.7 L743.4,534.6 L742.2,523.8 L741.0,517.3 L739.8,508.4 L738.6,499.0 L737.4,497.1 L736.2,503.8 L735.0,514.9 L733.8,524.6 L732.6,533.2 L731.4,546.2 L730.2,557.5 L729.0,562.2 L727.8,562.1 L726.6,562.6 L725.4,562.5 L724.2,563.6 L723.0,564.2 L721.8,564.8 L720.6,565.9 L719.4,568.3 L718.2,570.0 L717.0,571.9 L715.8,573.1 L714.6,576.1 L713.4,577.8 L712.2,579.8 L711.0,580.9 L709.8,582.4 L708.6,583.6 L707.4,583.7 L706.1,583.6 L704.9,583.6 L703.7,582.4 L702.5,580.5 L701.3,578.1 L700.1,575.5 L698.9,572.3 L697.7,566.8 L696.5,560.5 L695.3,555.2 L694.1,550.2 L692.9,546.0 L691.7,537.5 L690.5,529.4 L689.3,522.0 L688.1,517.6 L686.9,511.9 L685.7,506.4 L684.5,503.0 L683.3,503.2 L682.1,506.0 L680.9,510.1 L679.7,514.7 L678.5,519.9 L677.3,525.4 L676.1,537.8 L674.9,550.1 L673.7,558.9 L672.5,560.9 L671.3,563.4 L670.1,564.9 L668.9,567.6 L667.7,568.8 L666.5,570.6 L665.3,570.6 L664.1,573.0 L662.9,574.4 L661.7,577.0 L660.4,577.5 L659.2,578.0Z" fill="#eca2a7"/><path d="M659.2,564.8 L660.4,564.0 L661.7,563.3 L662.9,562.1 L664.1,560.3 L665.3,558.5 L666.5,557.9 L667.7,556.8 L668.9,555.7 L670.1,553.8 L671.3,552.1 L672.5,550.4 L673.7,547.4 L674.9,539.0 L676.1,525.8 L677.3,514.4 L678.5,508.1 L679.7,501.5 L680.9,494.2 L682.1,488.1 L683.3,485.1 L684.5,486.9 L685.7,493.0 L686.9,499.5 L688.1,505.7 L689.3,510.2 L690.5,517.4 L691.7,525.7 L692.9,532.6 L694.1,537.6 L695.3,542.6 L696.5,550.2 L697.7,557.2 L698.9,562.0 L700.1,564.7 L701.3,567.0 L702.5,569.4 L703.7,570.2 L704.9,571.2 L706.1,572.0 L707.4,572.3 L708.6,572.4 L709.8,571.8 L711.0,570.4 L712.2,568.8 L713.4,566.1 L714.6,564.5 L715.8,563.0 L717.0,561.1 L718.2,558.2 L719.4,555.0 L720.6,553.3 L721.8,553.6 L723.0,553.4 L724.2,552.7 L725.4,551.3 L726.6,550.4 L727.8,549.4 L729.0,547.9 L730.2,543.0 L731.4,531.0 L732.6,517.6 L733.8,508.4 L735.0,499.0 L736.2,488.8 L737.4,481.1 L738.6,480.6 L739.8,487.6 L741.0,495.0 L742.2,501.6 L743.4,510.3 L744.6,518.1 L745.8,522.3 L747.0,526.9 L748.2,529.5 L749.4,531.2 L750.6,533.7 L751.8,535.1 L753.1,535.8 L754.3,536.0 L755.5,537.7 L756.7,539.4 L757.9,540.7 L759.1,541.5 L760.3,541.8 L761.5,541.8 L762.7,542.0 L763.9,541.8 L765.1,542.3 L766.3,542.5 L767.5,543.2 L768.7,543.3 L769.9,544.1 L771.1,543.8 L772.3,544.2 L773.5,544.4 L774.7,545.4 L775.9,545.2 L777.1,545.0 L778.3,543.0 L779.5,541.1 L780.7,536.9 L781.9,535.2 L783.1,533.8 L784.3,532.8 L785.5,533.3 L786.7,532.1 L787.9,531.7 L789.1,530.8 L790.3,530.6 L791.5,530.8 L792.7,530.9 L793.9,529.1 L795.1,522.1 L796.3,511.2 L797.5,499.4 L798.8,491.4 L800.0,482.1 L801.2,473.1 L802.4,471.1 L803.6,475.4 L804.8,482.7 L806.0,490.7 L807.2,495.6 L808.4,502.4 L809.6,511.3 L810.8,520.3 L812.0,528.7 L813.2,533.9 L814.4,541.1 L815.6,548.5 L816.8,556.7 L818.0,561.9 L819.2,565.2 L820.4,566.4 L821.6,568.2 L822.8,568.9 L824.0,569.9 L825.2,569.5 L826.4,568.6 L827.6,567.2 L828.8,566.6 L830.0,565.7 L831.2,565.7 L832.4,564.7 L833.6,564.6 L834.8,563.3 L836.0,562.3 L837.2,561.2 L838.4,561.2 L839.6,560.3 L840.8,560.1 L842.0,559.2 L843.3,559.6 L844.5,559.3 L845.7,559.3 L846.9,559.5 L848.1,561.1 L849.3,562.2 L850.5,563.7 L851.7,563.6 L852.9,563.0 L854.1,561.6 L855.3,559.5 L856.5,558.9 L857.7,557.8 L858.9,557.1 L860.1,556.3 L861.3,557.0 L862.5,559.9 L863.7,562.3 L864.9,565.0 L866.1,565.9 L867.3,566.3 L868.5,566.7 L869.7,567.4 L870.9,567.9" fill="none" stroke="#e91c2e" stroke-width="2.8" stroke-linejoin="round" stroke-linecap="round"/></g>
<rect x="740.50" y="402.20" width="51.70" height="22.10" fill="#17a3db"/>
<line x1="659.20" y1="395.70" x2="659.20" y2="612.70" stroke="#231f20" stroke-width="1.7"/>
<line x1="658.40" y1="611.90" x2="874.80" y2="611.90" stroke="#231f20" stroke-width="1.8"/>
<line x1="654.00" y1="409.20" x2="659.20" y2="409.20" stroke="#231f20" stroke-width="1.6"/>
<line x1="654.00" y1="541.60" x2="659.20" y2="541.60" stroke="#231f20" stroke-width="1.6"/>
<line x1="705.10" y1="611.90" x2="705.10" y2="616.70" stroke="#231f20" stroke-width="1.6"/>
<line x1="797.40" y1="611.90" x2="797.40" y2="616.70" stroke="#231f20" stroke-width="1.6"/>
<text x="637.30" y="417.70" font-size="22.5" fill="#231f20">2</text>
<text x="636.96" y="550.10" font-size="22.5" fill="#231f20">1</text>
<text x="687.62" y="637.00" font-size="22.5" fill="#231f20">−2</text>
<text x="786.60" y="637.00" font-size="22.5" fill="#231f20">0</text>
<text x="985.16" y="66.80" font-size="43.5" font-weight="bold" fill="#231f20">b</text>
<text x="1057.51" y="66.40" font-size="29.7" fill="#231f20">SC photoinhibition</text>
<text x="1101.77" y="101.60" font-size="29.7" fill="#231f20">ALM record</text>
<text x="1057.22" y="137.00" font-size="29.7" fill="#231f20">Same hemisphere</text>
<text x="1054.95" y="183.00" font-size="22.5" fill="#231f20">VGAT-ChR2-EYFP mice</text>
<ellipse cx="1077.20" cy="308.80" rx="57.85" ry="51.30" fill="#fff" stroke="#231f20" stroke-width="3.4"/>
<ellipse cx="1079.00" cy="465.50" rx="57.95" ry="51.25" fill="#fff" stroke="#231f20" stroke-width="3.4"/>
<ellipse cx="1288.00" cy="309.30" rx="58.90" ry="51.00" fill="#fff" stroke="#231f20" stroke-width="3.4"/>
<ellipse cx="1289.90" cy="465.50" rx="58.80" ry="51.20" fill="#fff" stroke="#231f20" stroke-width="3.4"/>
<line x1="1068.90" y1="360.50" x2="1068.90" y2="401.90" stroke="#231f20" stroke-width="3.8"/>
<line x1="1056.60" y1="401.90" x2="1081.00" y2="401.90" stroke="#231f20" stroke-width="3.8"/>
<line x1="1089.60" y1="370.00" x2="1089.60" y2="414.00" stroke="#231f20" stroke-width="3.8"/>
<line x1="1077.30" y1="370.00" x2="1102.10" y2="370.00" stroke="#231f20" stroke-width="3.8"/>
<circle cx="1043.50" cy="308.10" r="17.50" fill="#ea2836" stroke="none" stroke-width="0"/>
<circle cx="1070.20" cy="335.60" r="17.40" fill="#ea2836" stroke="none" stroke-width="0"/>
<circle cx="1076.50" cy="277.10" r="9.80" fill="#2c4597" stroke="none" stroke-width="0"/>
<circle cx="1104.80" cy="305.90" r="9.80" fill="#2c4597" stroke="none" stroke-width="0"/>
<circle cx="1079.60" cy="439.50" r="17.30" fill="#2c4597" stroke="none" stroke-width="0"/>
<circle cx="1106.50" cy="467.30" r="17.50" fill="#2c4597" stroke="none" stroke-width="0"/>
<circle cx="1046.30" cy="468.50" r="10.00" fill="#ea2836" stroke="none" stroke-width="0"/>
<circle cx="1074.40" cy="497.40" r="10.00" fill="#ea2836" stroke="none" stroke-width="0"/>
<circle cx="1257.00" cy="308.70" r="17.50" fill="#ea2836" stroke="none" stroke-width="0"/>
<circle cx="1283.70" cy="336.20" r="17.40" fill="#ea2836" stroke="none" stroke-width="0"/>
<circle cx="1290.00" cy="277.70" r="9.80" fill="#2c4597" stroke="none" stroke-width="0"/>
<circle cx="1318.30" cy="306.50" r="9.80" fill="#2c4597" stroke="none" stroke-width="0"/>
<circle cx="1294.90" cy="437.90" r="17.30" fill="#2c4597" stroke="none" stroke-width="0"/>
<circle cx="1321.80" cy="465.70" r="17.50" fill="#2c4597" stroke="none" stroke-width="0"/>
<circle cx="1261.60" cy="466.90" r="10.00" fill="#ea2836" stroke="none" stroke-width="0"/>
<circle cx="1289.70" cy="495.80" r="10.00" fill="#ea2836" stroke="none" stroke-width="0"/>
<polygon points="1005.50,224.40 1021.50,241.60 1017.90,246.50 1036.20,260.50 1032.70,263.90 1056.40,289.60 1020.90,274.80 1025.50,269.40 1003.60,259.50 1008.90,253.60 985.20,242.40" fill="#22a3d7" stroke="none" stroke-width="0"/>
<polygon points="1201.57,218.55 1237.25,273.44 1256.10,288.00 1251.20,266.60 1250.05,263.15 1214.95,209.98" fill="#fff" stroke="none" stroke-width="0"/>
<path d="M1201.57,218.55 L1237.25,273.44 L1256.10,288.00 L1251.20,266.60 L1250.05,263.15 L1214.95,209.98" fill="none" stroke="#231f20" stroke-width="1.3" stroke-linejoin="miter"/>
<circle cx="1213.50" cy="222.30" r="3.80" fill="#231f20" stroke="none" stroke-width="0"/>
<circle cx="1220.90" cy="234.00" r="3.80" fill="#231f20" stroke="none" stroke-width="0"/>
<circle cx="1228.70" cy="245.40" r="3.80" fill="#231f20" stroke="none" stroke-width="0"/>
<circle cx="1236.10" cy="257.10" r="3.80" fill="#231f20" stroke="none" stroke-width="0"/>
<circle cx="1243.80" cy="268.60" r="3.80" fill="#231f20" stroke="none" stroke-width="0"/>
<text x="1059.52" y="250.00" font-size="29.7" fill="#231f20">SC</text>
<text x="1255.00" y="251.00" font-size="29.7" fill="#231f20">ALM</text>
<line x1="1147.40" y1="306.10" x2="1213.90" y2="306.10" stroke="#2c4597" stroke-width="2.9"/>
<polygon points="1211.50,297.40 1219.40,306.10 1211.50,314.80 1213.40,308.50 1213.40,303.70" fill="#2c4597" stroke="none" stroke-width="0"/>
<polygon points="1143.60,455.00 1195.00,455.00 1180.00,431.00 1228.40,461.60 1182.00,491.40 1193.60,469.60 1143.60,469.60" fill="#2c4597" stroke="none" stroke-width="0"/>
<circle cx="1066.00" cy="561.20" r="13.70" fill="#1b51a3" stroke="none" stroke-width="0"/>
<circle cx="1066.00" cy="606.50" r="13.70" fill="#ea2836" stroke="none" stroke-width="0"/>
<text x="1095.88" y="569.60" font-size="22.3" xml:space="preserve"><tspan fill="#2054a5">Contra-preferring</tspan><tspan fill="#231f20"> neurons</tspan></text>
<text x="1095.29" y="611.00" font-size="22.3" xml:space="preserve"><tspan fill="#e8212f">Ipsi-preferring</tspan><tspan fill="#231f20"> neurons</tspan></text>
<text x="1459.32" y="66.80" font-size="29.7" fill="#231f20">Contra-preferring ALM neurons</text>
<text x="1458.93" y="376.30" font-size="29.7" fill="#231f20">Ipsi-preferring ALM neurons</text>
<text transform="translate(1423.20,516.40) rotate(-90)" x="-106.50" y="0" font-size="22.3" fill="#231f20">Normalized firing rate</text>
<text x="1481.55" y="668.90" font-size="22.3" fill="#231f20">Time from go cue (s)</text>
<line x1="1483.00" y1="313.50" x2="1483.00" y2="121.10" stroke="#7a7a7a" stroke-width="1.9" stroke-dasharray="1.9 2.3"/>
<line x1="1542.80" y1="313.50" x2="1542.80" y2="121.10" stroke="#7a7a7a" stroke-width="1.9" stroke-dasharray="1.9 2.3"/>
<line x1="1602.70" y1="313.50" x2="1602.70" y2="121.10" stroke="#7a7a7a" stroke-width="1.9" stroke-dasharray="1.9 2.3"/>
<line x1="1465.40" y1="248.70" x2="1677.70" y2="248.70" stroke="#1e1e1e" stroke-width="1.3" stroke-dasharray="2.4 2.3"/>
<g clip-path="url(#c5)"><path d="M1465.4,263.5 L1466.6,265.0 L1467.8,264.6 L1469.0,263.9 L1470.2,263.2 L1471.4,263.1 L1472.6,263.8 L1473.8,261.8 L1475.0,260.5 L1476.2,258.1 L1477.4,258.0 L1478.6,256.3 L1479.8,255.6 L1481.0,253.2 L1482.2,251.4 L1483.4,248.2 L1484.6,243.9 L1485.8,241.6 L1487.0,240.3 L1488.2,240.6 L1489.4,240.5 L1490.6,242.0 L1491.8,243.3 L1493.0,243.6 L1494.2,243.1 L1495.4,242.4 L1496.6,244.0 L1497.8,245.0 L1499.0,245.9 L1500.2,246.2 L1501.4,246.7 L1502.6,246.2 L1503.8,244.9 L1505.0,243.2 L1506.2,243.5 L1507.4,243.6 L1508.6,243.6 L1509.8,243.3 L1511.0,242.6 L1512.2,241.7 L1513.4,240.7 L1514.6,240.2 L1515.8,238.5 L1517.0,236.8 L1518.2,234.2 L1519.4,234.4 L1520.6,233.7 L1521.8,234.1 L1523.0,233.0 L1524.2,232.8 L1525.4,231.3 L1526.6,230.2 L1527.8,229.4 L1529.0,229.1 L1530.2,227.7 L1531.4,225.0 L1532.6,223.8 L1533.8,222.0 L1535.0,222.2 L1536.2,219.3 L1537.4,215.7 L1538.6,211.2 L1539.8,207.8 L1541.0,204.5 L1542.2,199.7 L1543.4,195.4 L1544.6,192.3 L1545.8,193.3 L1547.0,196.3 L1548.2,199.5 L1549.4,201.8 L1550.6,202.2 L1551.8,202.6 L1553.0,203.0 L1554.2,203.3 L1555.4,203.7 L1556.6,203.1 L1557.8,202.2 L1559.0,201.1 L1560.2,199.2 L1561.4,197.2 L1562.6,195.5 L1563.8,194.0 L1565.0,191.7 L1566.2,189.8 L1567.4,187.5 L1568.6,186.0 L1569.8,184.7 L1571.0,184.4 L1572.2,183.7 L1573.4,182.9 L1574.6,181.5 L1575.8,180.4 L1577.0,177.9 L1578.2,174.8 L1579.4,170.6 L1580.6,167.3 L1581.8,163.9 L1583.0,162.5 L1584.2,159.9 L1585.4,158.1 L1586.6,156.8 L1587.8,155.2 L1589.0,153.5 L1590.2,152.8 L1591.4,152.6 L1592.6,152.7 L1593.8,151.5 L1595.0,151.2 L1596.2,149.7 L1597.4,148.8 L1598.6,146.8 L1599.8,145.9 L1601.0,140.0 L1602.2,134.3 L1603.4,134.4 L1604.6,137.2 L1605.8,141.7 L1607.0,146.5 L1608.2,153.6 L1609.4,161.6 L1610.6,168.4 L1611.8,173.5 L1613.0,183.3 L1614.2,191.8 L1615.4,197.1 L1616.6,204.8 L1617.8,211.3 L1619.0,216.2 L1620.2,219.7 L1621.4,225.6 L1622.6,229.3 L1623.8,233.2 L1625.0,236.1 L1626.2,240.6 L1627.4,243.7 L1628.6,245.6 L1629.8,246.4 L1631.0,247.7 L1632.2,248.3 L1633.4,249.5 L1634.6,250.0 L1635.8,251.6 L1637.0,251.6 L1638.2,251.7 L1639.4,251.6 L1640.6,251.4 L1641.8,251.0 L1643.0,250.6 L1644.2,249.8 L1645.4,248.8 L1646.6,247.7 L1647.8,248.3 L1649.0,247.7 L1650.2,247.2 L1651.4,246.3 L1652.6,246.8 L1653.8,246.5 L1655.0,247.4 L1656.2,247.1 L1657.4,248.0 L1658.6,247.1 L1659.8,246.4 L1661.0,245.9 L1662.2,246.3 L1663.4,246.6 L1664.6,247.7 L1665.8,247.9 L1667.0,248.7 L1668.2,247.2 L1669.4,246.8 L1670.6,246.8 L1671.8,248.2 L1673.0,248.4 L1674.2,248.9 L1675.4,248.5 L1676.6,249.3 L1676.6,269.5 L1675.4,268.8 L1674.2,269.4 L1673.0,268.9 L1671.8,269.0 L1670.6,268.1 L1669.4,267.9 L1668.2,266.6 L1667.0,266.1 L1665.8,266.2 L1664.6,267.1 L1663.4,267.3 L1662.2,266.8 L1661.0,266.2 L1659.8,266.4 L1658.6,265.5 L1657.4,266.1 L1656.2,265.9 L1655.0,266.4 L1653.8,265.9 L1652.6,266.4 L1651.4,265.8 L1650.2,266.9 L1649.0,267.4 L1647.8,268.3 L1646.6,268.6 L1645.4,268.1 L1644.2,268.6 L1643.0,268.3 L1641.8,269.1 L1640.6,269.7 L1639.4,269.7 L1638.2,270.2 L1637.0,270.8 L1635.8,271.6 L1634.6,270.0 L1633.4,268.4 L1632.2,267.1 L1631.0,266.9 L1629.8,266.2 L1628.6,265.1 L1627.4,262.2 L1626.2,259.1 L1625.0,254.1 L1623.8,251.7 L1622.6,248.6 L1621.4,243.8 L1620.2,237.6 L1619.0,232.6 L1617.8,228.7 L1616.6,221.5 L1615.4,215.2 L1614.2,211.0 L1613.0,203.8 L1611.8,194.0 L1610.6,187.8 L1609.4,179.5 L1608.2,172.2 L1607.0,166.1 L1605.8,163.8 L1604.6,160.8 L1603.4,158.9 L1602.2,158.2 L1601.0,160.8 L1599.8,164.7 L1598.6,165.9 L1597.4,166.5 L1596.2,167.0 L1595.0,167.9 L1593.8,167.8 L1592.6,168.2 L1591.4,168.8 L1590.2,170.7 L1589.0,172.1 L1587.8,172.5 L1586.6,172.9 L1585.4,174.9 L1584.2,176.8 L1583.0,180.2 L1581.8,180.0 L1580.6,182.4 L1579.4,184.7 L1578.2,187.9 L1577.0,190.8 L1575.8,192.7 L1574.6,195.3 L1573.4,197.4 L1572.2,199.3 L1571.0,200.2 L1569.8,201.2 L1568.6,202.6 L1567.4,203.8 L1566.2,204.5 L1565.0,205.3 L1563.8,207.6 L1562.6,210.0 L1561.4,213.1 L1560.2,214.8 L1559.0,215.7 L1557.8,215.5 L1556.6,215.5 L1555.4,217.2 L1554.2,217.2 L1553.0,217.4 L1551.8,217.4 L1550.6,218.4 L1549.4,217.7 L1548.2,214.8 L1547.0,212.0 L1545.8,211.2 L1544.6,211.3 L1543.4,211.9 L1542.2,213.8 L1541.0,217.3 L1539.8,221.4 L1538.6,223.3 L1537.4,226.8 L1536.2,229.5 L1535.0,233.2 L1533.8,234.5 L1532.6,237.2 L1531.4,237.6 L1530.2,237.9 L1529.0,238.9 L1527.8,240.8 L1526.6,242.4 L1525.4,242.2 L1524.2,242.8 L1523.0,243.6 L1521.8,246.0 L1520.6,247.3 L1519.4,248.4 L1518.2,248.0 L1517.0,248.0 L1515.8,247.8 L1514.6,248.6 L1513.4,248.8 L1512.2,249.3 L1511.0,249.3 L1509.8,251.1 L1508.6,252.7 L1507.4,253.7 L1506.2,253.5 L1505.0,253.1 L1503.8,253.3 L1502.6,252.9 L1501.4,254.3 L1500.2,255.4 L1499.0,255.6 L1497.8,254.7 L1496.6,253.4 L1495.4,253.0 L1494.2,253.5 L1493.0,253.1 L1491.8,252.3 L1490.6,251.2 L1489.4,251.4 L1488.2,251.3 L1487.0,250.8 L1485.8,250.6 L1484.6,252.2 L1483.4,254.7 L1482.2,258.1 L1481.0,260.1 L1479.8,262.5 L1478.6,262.6 L1477.4,265.3 L1476.2,266.2 L1475.0,268.7 L1473.8,269.5 L1472.6,270.4 L1471.4,270.3 L1470.2,269.6 L1469.0,270.2 L1467.8,270.7 L1466.6,271.7 L1465.4,272.0Z" fill="#a0a3cb"/><path d="M1465.4,268.2 L1466.6,267.4 L1467.8,267.1 L1469.0,266.8 L1470.2,267.0 L1471.4,266.2 L1472.6,266.5 L1473.8,265.8 L1475.0,265.4 L1476.2,263.6 L1477.4,261.6 L1478.6,260.4 L1479.8,259.5 L1481.0,257.3 L1482.2,254.0 L1483.4,250.0 L1484.6,247.3 L1485.8,246.4 L1487.0,246.7 L1488.2,247.0 L1489.4,247.2 L1490.6,247.1 L1491.8,247.1 L1493.0,247.2 L1494.2,248.0 L1495.4,248.4 L1496.6,248.8 L1497.8,248.8 L1499.0,249.1 L1500.2,249.5 L1501.4,249.7 L1502.6,250.3 L1503.8,250.1 L1505.0,249.8 L1506.2,248.5 L1507.4,248.1 L1508.6,247.7 L1509.8,247.9 L1511.0,247.2 L1512.2,246.7 L1513.4,246.3 L1514.6,244.5 L1515.8,244.0 L1517.0,242.5 L1518.2,242.0 L1519.4,241.1 L1520.6,240.8 L1521.8,240.2 L1523.0,238.2 L1524.2,236.8 L1525.4,235.5 L1526.6,235.2 L1527.8,234.6 L1529.0,233.6 L1530.2,232.9 L1531.4,231.0 L1532.6,229.8 L1533.8,227.5 L1535.0,226.0 L1536.2,223.3 L1537.4,219.7 L1538.6,216.6 L1539.8,213.9 L1541.0,210.4 L1542.2,205.9 L1543.4,203.1 L1544.6,201.4 L1545.8,202.4 L1547.0,204.1 L1548.2,206.5 L1549.4,208.6 L1550.6,210.0 L1551.8,210.2 L1553.0,209.5 L1554.2,209.1 L1555.4,208.6 L1556.6,209.2 L1557.8,208.7 L1559.0,208.1 L1560.2,206.2 L1561.4,203.6 L1562.6,201.3 L1563.8,198.9 L1565.0,197.8 L1566.2,197.0 L1567.4,196.3 L1568.6,195.0 L1569.8,193.4 L1571.0,191.8 L1572.2,190.5 L1573.4,189.1 L1574.6,187.7 L1575.8,186.9 L1577.0,184.6 L1578.2,181.5 L1579.4,177.8 L1580.6,175.4 L1581.8,172.8 L1583.0,170.9 L1584.2,168.5 L1585.4,166.4 L1586.6,164.5 L1587.8,163.5 L1589.0,162.6 L1590.2,161.9 L1591.4,160.3 L1592.6,159.9 L1593.8,159.4 L1595.0,158.7 L1596.2,158.1 L1597.4,156.9 L1598.6,156.9 L1599.8,155.7 L1601.0,150.8 L1602.2,145.8 L1603.4,145.5 L1604.6,148.6 L1605.8,153.3 L1607.0,157.5 L1608.2,163.6 L1609.4,171.0 L1610.6,177.8 L1611.8,182.8 L1613.0,191.9 L1614.2,200.7 L1615.4,205.7 L1616.6,212.6 L1617.8,218.4 L1619.0,223.8 L1620.2,228.6 L1621.4,234.6 L1622.6,238.3 L1623.8,241.3 L1625.0,244.3 L1626.2,248.7 L1627.4,252.1 L1628.6,255.0 L1629.8,255.8 L1631.0,256.5 L1632.2,257.5 L1633.4,258.4 L1634.6,260.1 L1635.8,260.8 L1637.0,261.6 L1638.2,260.9 L1639.4,260.0 L1640.6,259.8 L1641.8,259.8 L1643.0,259.1 L1644.2,257.8 L1645.4,257.0 L1646.6,257.0 L1647.8,257.7 L1649.0,257.2 L1650.2,257.7 L1651.4,257.6 L1652.6,257.4 L1653.8,256.7 L1655.0,256.3 L1656.2,256.4 L1657.4,256.7 L1658.6,256.9 L1659.8,257.4 L1661.0,256.8 L1662.2,256.7 L1663.4,256.5 L1664.6,257.1 L1665.8,256.6 L1667.0,257.1 L1668.2,257.1 L1669.4,257.4 L1670.6,257.7 L1671.8,258.2 L1673.0,259.2 L1674.2,259.4 L1675.4,259.7 L1676.6,260.0" fill="none" stroke="#2e57a7" stroke-width="2.8" stroke-linejoin="round" stroke-linecap="round"/><path d="M1465.4,266.1 L1466.6,266.4 L1467.8,266.6 L1469.0,266.6 L1470.2,267.3 L1471.4,267.0 L1472.6,265.7 L1473.8,265.4 L1475.0,264.1 L1476.2,263.7 L1477.4,261.9 L1478.6,261.5 L1479.8,259.5 L1481.0,258.2 L1482.2,255.5 L1483.4,254.0 L1484.6,250.2 L1485.8,248.8 L1487.0,246.8 L1488.2,246.8 L1489.4,246.5 L1490.6,247.0 L1491.8,248.7 L1493.0,250.1 L1494.2,252.3 L1495.4,253.8 L1496.6,254.6 L1497.8,256.5 L1499.0,257.5 L1500.2,260.6 L1501.4,260.9 L1502.6,261.6 L1503.8,261.6 L1505.0,262.2 L1506.2,263.1 L1507.4,262.8 L1508.6,263.9 L1509.8,264.7 L1511.0,265.6 L1512.2,264.6 L1513.4,263.2 L1514.6,262.7 L1515.8,262.2 L1517.0,262.9 L1518.2,262.4 L1519.4,263.6 L1520.6,263.7 L1521.8,263.8 L1523.0,263.6 L1524.2,263.1 L1525.4,262.5 L1526.6,261.2 L1527.8,261.6 L1529.0,262.2 L1530.2,263.3 L1531.4,263.1 L1532.6,262.9 L1533.8,263.5 L1535.0,263.3 L1536.2,262.6 L1537.4,262.1 L1538.6,259.9 L1539.8,256.8 L1541.0,253.2 L1542.2,250.9 L1543.4,248.4 L1544.6,247.4 L1545.8,248.9 L1547.0,252.1 L1548.2,255.8 L1549.4,258.0 L1550.6,260.4 L1551.8,260.8 L1553.0,262.2 L1554.2,262.9 L1555.4,263.8 L1556.6,265.8 L1557.8,266.1 L1559.0,267.3 L1560.2,267.0 L1561.4,266.5 L1562.6,266.5 L1563.8,266.4 L1565.0,266.6 L1566.2,264.7 L1567.4,262.6 L1568.6,261.3 L1569.8,261.7 L1571.0,261.8 L1572.2,262.0 L1573.4,261.7 L1574.6,261.4 L1575.8,259.8 L1577.0,258.4 L1578.2,256.9 L1579.4,256.8 L1580.6,256.9 L1581.8,257.0 L1583.0,256.2 L1584.2,255.1 L1585.4,255.1 L1586.6,254.9 L1587.8,253.3 L1589.0,251.9 L1590.2,250.5 L1591.4,250.9 L1592.6,249.9 L1593.8,249.4 L1595.0,248.8 L1596.2,247.8 L1597.4,246.8 L1598.6,245.7 L1599.8,244.2 L1601.0,239.5 L1602.2,224.8 L1603.4,221.4 L1604.6,220.9 L1605.8,220.5 L1607.0,221.9 L1608.2,223.2 L1609.4,231.2 L1610.6,240.2 L1611.8,246.1 L1613.0,252.6 L1614.2,257.8 L1615.4,258.7 L1616.6,260.0 L1617.8,261.2 L1619.0,263.3 L1620.2,265.0 L1621.4,266.9 L1622.6,267.6 L1623.8,267.3 L1625.0,267.1 L1626.2,267.5 L1627.4,267.8 L1628.6,269.3 L1629.8,269.2 L1631.0,270.9 L1632.2,271.0 L1633.4,270.9 L1634.6,269.8 L1635.8,269.0 L1637.0,269.6 L1638.2,269.8 L1639.4,270.3 L1640.6,270.7 L1641.8,271.4 L1643.0,271.4 L1644.2,271.4 L1645.4,271.3 L1646.6,271.8 L1647.8,271.6 L1649.0,272.5 L1650.2,273.2 L1651.4,273.6 L1652.6,273.0 L1653.8,271.5 L1655.0,271.6 L1656.2,272.2 L1657.4,272.5 L1658.6,273.0 L1659.8,271.9 L1661.0,272.9 L1662.2,272.2 L1663.4,272.9 L1664.6,273.2 L1665.8,272.9 L1667.0,273.4 L1668.2,273.0 L1669.4,273.4 L1670.6,272.4 L1671.8,272.4 L1673.0,273.1 L1674.2,272.8 L1675.4,271.9 L1676.6,271.0 L1676.6,285.7 L1675.4,286.4 L1674.2,286.6 L1673.0,287.9 L1671.8,287.2 L1670.6,287.2 L1669.4,286.9 L1668.2,287.4 L1667.0,287.5 L1665.8,287.7 L1664.6,286.1 L1663.4,286.1 L1662.2,286.0 L1661.0,286.7 L1659.8,286.9 L1658.6,285.5 L1657.4,285.1 L1656.2,285.9 L1655.0,286.7 L1653.8,287.6 L1652.6,287.3 L1651.4,287.6 L1650.2,286.8 L1649.0,285.6 L1647.8,285.0 L1646.6,284.8 L1645.4,285.6 L1644.2,285.5 L1643.0,285.7 L1641.8,285.5 L1640.6,284.5 L1639.4,284.1 L1638.2,283.6 L1637.0,285.0 L1635.8,284.8 L1634.6,284.8 L1633.4,284.2 L1632.2,283.4 L1631.0,283.0 L1629.8,282.1 L1628.6,281.7 L1627.4,281.6 L1626.2,282.1 L1625.0,282.2 L1623.8,281.8 L1622.6,281.1 L1621.4,280.2 L1620.2,279.0 L1619.0,277.5 L1617.8,277.2 L1616.6,276.0 L1615.4,274.5 L1614.2,272.0 L1613.0,266.7 L1611.8,261.5 L1610.6,256.2 L1609.4,247.5 L1608.2,240.6 L1607.0,239.4 L1605.8,239.2 L1604.6,239.8 L1603.4,241.5 L1602.2,243.3 L1601.0,252.3 L1599.8,254.5 L1598.6,255.4 L1597.4,255.9 L1596.2,257.0 L1595.0,257.1 L1593.8,257.2 L1592.6,257.7 L1591.4,260.1 L1590.2,261.3 L1589.0,261.7 L1587.8,262.5 L1586.6,264.0 L1585.4,266.3 L1584.2,266.2 L1583.0,267.0 L1581.8,266.3 L1580.6,266.4 L1579.4,266.1 L1578.2,266.8 L1577.0,268.4 L1575.8,269.3 L1574.6,270.5 L1573.4,269.7 L1572.2,270.5 L1571.0,270.6 L1569.8,271.6 L1568.6,271.3 L1567.4,271.1 L1566.2,272.8 L1565.0,273.5 L1563.8,274.9 L1562.6,275.6 L1561.4,276.4 L1560.2,276.5 L1559.0,275.7 L1557.8,275.5 L1556.6,274.4 L1555.4,273.7 L1554.2,272.1 L1553.0,270.8 L1551.8,269.1 L1550.6,268.3 L1549.4,268.0 L1548.2,266.5 L1547.0,263.6 L1545.8,261.5 L1544.6,259.2 L1543.4,259.0 L1542.2,258.9 L1541.0,260.1 L1539.8,263.5 L1538.6,266.6 L1537.4,269.5 L1536.2,269.8 L1535.0,269.6 L1533.8,268.7 L1532.6,267.9 L1531.4,269.1 L1530.2,270.3 L1529.0,271.2 L1527.8,271.2 L1526.6,270.4 L1525.4,269.3 L1524.2,268.7 L1523.0,268.6 L1521.8,269.9 L1520.6,269.6 L1519.4,269.7 L1518.2,269.8 L1517.0,269.7 L1515.8,269.9 L1514.6,269.7 L1513.4,270.4 L1512.2,271.5 L1511.0,271.4 L1509.8,271.8 L1508.6,270.4 L1507.4,270.6 L1506.2,269.6 L1505.0,269.4 L1503.8,268.6 L1502.6,268.3 L1501.4,267.6 L1500.2,266.3 L1499.0,266.4 L1497.8,266.5 L1496.6,265.7 L1495.4,264.4 L1494.2,262.6 L1493.0,260.1 L1491.8,257.8 L1490.6,256.2 L1489.4,256.5 L1488.2,256.4 L1487.0,257.0 L1485.8,258.1 L1484.6,259.0 L1483.4,261.0 L1482.2,263.6 L1481.0,266.3 L1479.8,268.5 L1478.6,268.2 L1477.4,269.7 L1476.2,270.0 L1475.0,272.3 L1473.8,273.3 L1472.6,273.6 L1471.4,273.7 L1470.2,273.3 L1469.0,274.3 L1467.8,274.5 L1466.6,274.4 L1465.4,274.2Z" fill="#eca2a7"/><path d="M1465.4,271.1 L1466.6,270.5 L1467.8,269.9 L1469.0,269.5 L1470.2,269.8 L1471.4,270.2 L1472.6,269.8 L1473.8,270.0 L1475.0,268.7 L1476.2,267.7 L1477.4,265.8 L1478.6,264.5 L1479.8,263.6 L1481.0,261.4 L1482.2,259.0 L1483.4,255.5 L1484.6,253.9 L1485.8,253.1 L1487.0,252.3 L1488.2,250.7 L1489.4,250.2 L1490.6,250.6 L1491.8,252.5 L1493.0,254.4 L1494.2,256.1 L1495.4,257.3 L1496.6,258.8 L1497.8,260.9 L1499.0,262.4 L1500.2,263.1 L1501.4,263.9 L1502.6,265.7 L1503.8,266.3 L1505.0,267.3 L1506.2,266.8 L1507.4,267.9 L1508.6,267.1 L1509.8,268.0 L1511.0,268.2 L1512.2,269.0 L1513.4,269.2 L1514.6,268.1 L1515.8,267.9 L1517.0,267.5 L1518.2,267.0 L1519.4,266.5 L1520.6,266.4 L1521.8,266.3 L1523.0,265.8 L1524.2,265.7 L1525.4,266.1 L1526.6,266.8 L1527.8,266.4 L1529.0,266.3 L1530.2,265.4 L1531.4,265.4 L1532.6,266.0 L1533.8,266.3 L1535.0,267.0 L1536.2,266.8 L1537.4,266.7 L1538.6,263.3 L1539.8,258.4 L1541.0,254.6 L1542.2,253.8 L1543.4,254.3 L1544.6,255.6 L1545.8,256.2 L1547.0,258.6 L1548.2,260.8 L1549.4,263.2 L1550.6,264.5 L1551.8,266.4 L1553.0,268.0 L1554.2,268.3 L1555.4,268.2 L1556.6,268.9 L1557.8,270.1 L1559.0,271.1 L1560.2,271.7 L1561.4,271.4 L1562.6,270.7 L1563.8,270.2 L1565.0,269.3 L1566.2,268.2 L1567.4,266.6 L1568.6,266.3 L1569.8,265.7 L1571.0,265.7 L1572.2,264.3 L1573.4,264.2 L1574.6,263.7 L1575.8,263.9 L1577.0,263.2 L1578.2,263.1 L1579.4,263.2 L1580.6,263.5 L1581.8,263.3 L1583.0,262.8 L1584.2,261.5 L1585.4,260.1 L1586.6,258.4 L1587.8,258.1 L1589.0,257.0 L1590.2,256.1 L1591.4,254.8 L1592.6,254.3 L1593.8,254.4 L1595.0,253.5 L1596.2,252.2 L1597.4,250.7 L1598.6,250.4 L1599.8,249.3 L1601.0,245.5 L1602.2,233.4 L1603.4,231.5 L1604.6,230.7 L1605.8,230.6 L1607.0,231.2 L1608.2,233.4 L1609.4,240.4 L1610.6,248.5 L1611.8,253.4 L1613.0,260.1 L1614.2,266.0 L1615.4,267.5 L1616.6,268.4 L1617.8,269.9 L1619.0,271.0 L1620.2,272.1 L1621.4,272.5 L1622.6,273.5 L1623.8,273.9 L1625.0,274.6 L1626.2,274.6 L1627.4,275.2 L1628.6,275.7 L1629.8,276.7 L1631.0,277.1 L1632.2,277.3 L1633.4,276.7 L1634.6,276.7 L1635.8,277.0 L1637.0,277.1 L1638.2,277.0 L1639.4,276.4 L1640.6,276.1 L1641.8,276.0 L1643.0,276.0 L1644.2,276.5 L1645.4,276.6 L1646.6,277.4 L1647.8,278.1 L1649.0,278.3 L1650.2,278.8 L1651.4,278.7 L1652.6,279.4 L1653.8,279.1 L1655.0,279.5 L1656.2,279.6 L1657.4,279.3 L1658.6,279.1 L1659.8,278.7 L1661.0,279.6 L1662.2,279.6 L1663.4,279.7 L1664.6,278.9 L1665.8,279.8 L1667.0,279.8 L1668.2,280.1 L1669.4,280.0 L1670.6,279.9 L1671.8,280.0 L1673.0,279.3 L1674.2,280.0 L1675.4,280.4 L1676.6,281.0" fill="none" stroke="#e91c2e" stroke-width="2.8" stroke-linejoin="round" stroke-linecap="round"/></g>
<line x1="1465.40" y1="97.55" x2="1465.40" y2="314.30" stroke="#231f20" stroke-width="1.7"/>
<line x1="1464.60" y1="313.50" x2="1677.70" y2="313.50" stroke="#231f20" stroke-width="1.8"/>
<line x1="1460.20" y1="154.00" x2="1465.40" y2="154.00" stroke="#231f20" stroke-width="1.6"/>
<line x1="1460.20" y1="248.70" x2="1465.40" y2="248.70" stroke="#231f20" stroke-width="1.6"/>
<line x1="1510.90" y1="313.50" x2="1510.90" y2="318.30" stroke="#231f20" stroke-width="1.6"/>
<line x1="1602.70" y1="313.50" x2="1602.70" y2="318.30" stroke="#231f20" stroke-width="1.6"/>
<text x="1441.10" y="162.50" font-size="22.5" fill="#231f20">2</text>
<text x="1440.76" y="257.20" font-size="22.5" fill="#231f20">1</text>
<text x="1496.88" y="338.25" font-size="22.5" fill="#231f20">−2</text>
<text x="1597.45" y="338.25" font-size="22.5" fill="#231f20">0</text>
<text x="1540.98" y="99.70" font-size="22.3" fill="#231f20">No stim</text>
<text x="1516.93" y="133.60" font-size="22.3" fill="#231f20">S</text>
<text x="1570.83" y="133.60" font-size="22.3" fill="#231f20">D</text>
<text x="1628.64" y="133.60" font-size="22.3" fill="#231f20">R</text>
<line x1="1741.10" y1="315.20" x2="1741.10" y2="121.10" stroke="#1e1e1e" stroke-width="1.3" stroke-dasharray="2.6 1.9"/>
<line x1="1801.20" y1="315.20" x2="1801.20" y2="121.10" stroke="#1e1e1e" stroke-width="1.3" stroke-dasharray="2.6 1.9"/>
<line x1="1861.20" y1="315.20" x2="1861.20" y2="121.10" stroke="#1e1e1e" stroke-width="1.3" stroke-dasharray="2.6 1.9"/>
<line x1="1722.90" y1="250.90" x2="1927.70" y2="250.90" stroke="#1e1e1e" stroke-width="1.3" stroke-dasharray="2.4 2.3"/>
<g clip-path="url(#c6)"><path d="M1722.9,266.9 L1724.1,267.4 L1725.3,268.2 L1726.5,269.2 L1727.7,268.8 L1728.9,269.2 L1730.1,266.9 L1731.3,265.3 L1732.5,262.3 L1733.7,261.0 L1734.9,258.2 L1736.1,256.7 L1737.3,255.4 L1738.5,253.9 L1739.7,252.4 L1740.9,251.3 L1742.1,250.9 L1743.3,250.0 L1744.5,247.0 L1745.7,245.4 L1746.9,243.6 L1748.1,242.7 L1749.3,241.5 L1750.5,240.7 L1751.7,241.5 L1752.9,242.0 L1754.1,243.3 L1755.3,242.9 L1756.5,241.9 L1757.7,241.0 L1758.9,241.6 L1760.1,241.4 L1761.3,241.1 L1762.5,239.0 L1763.7,237.9 L1764.9,236.3 L1766.1,236.2 L1767.3,235.6 L1768.5,236.0 L1769.7,235.1 L1770.9,234.6 L1772.1,232.6 L1773.3,232.1 L1774.5,231.8 L1775.7,231.6 L1776.9,229.6 L1778.1,228.0 L1779.3,226.4 L1780.5,224.8 L1781.7,223.8 L1782.9,223.6 L1784.1,223.9 L1785.3,222.8 L1786.5,222.1 L1787.7,220.7 L1788.9,220.1 L1790.1,217.8 L1791.3,216.1 L1792.5,213.0 L1793.7,210.1 L1794.9,206.4 L1796.1,205.3 L1797.3,201.6 L1798.5,197.9 L1799.7,193.1 L1800.9,190.1 L1802.1,188.4 L1803.3,188.2 L1804.5,190.6 L1805.7,193.0 L1806.9,194.3 L1808.1,196.4 L1809.3,198.7 L1810.5,202.8 L1811.7,205.0 L1812.9,207.6 L1814.1,209.1 L1815.3,211.4 L1816.5,212.5 L1817.7,212.6 L1818.9,212.9 L1820.1,214.1 L1821.3,214.8 L1822.5,214.8 L1823.7,214.1 L1824.9,213.8 L1826.1,213.9 L1827.3,213.9 L1828.5,213.8 L1829.7,213.2 L1830.9,211.3 L1832.1,210.0 L1833.3,209.4 L1834.5,209.9 L1835.7,210.8 L1836.9,210.7 L1838.1,210.1 L1839.3,208.8 L1840.5,208.7 L1841.7,208.6 L1842.9,209.7 L1844.1,209.9 L1845.3,211.3 L1846.5,212.3 L1847.7,213.7 L1848.9,215.7 L1850.1,216.5 L1851.3,218.1 L1852.5,218.2 L1853.7,219.0 L1854.9,217.5 L1856.1,216.0 L1857.3,213.8 L1858.5,207.7 L1859.7,199.8 L1860.9,192.5 L1862.1,189.4 L1863.3,188.7 L1864.5,190.2 L1865.7,192.1 L1866.9,197.7 L1868.1,205.4 L1869.3,212.0 L1870.5,221.0 L1871.7,229.5 L1872.9,234.5 L1874.1,235.9 L1875.3,239.2 L1876.5,241.5 L1877.7,244.5 L1878.9,245.4 L1880.1,246.3 L1881.3,246.4 L1882.5,246.9 L1883.7,249.1 L1884.9,249.3 L1886.1,250.7 L1887.3,251.5 L1888.5,253.8 L1889.7,256.0 L1890.9,259.2 L1892.1,262.0 L1893.3,262.8 L1894.5,262.8 L1895.7,262.8 L1896.9,263.4 L1898.1,263.1 L1899.3,262.5 L1900.5,261.9 L1901.7,261.8 L1902.9,261.9 L1904.1,262.6 L1905.3,261.7 L1906.5,262.3 L1907.7,262.0 L1908.9,262.6 L1910.1,262.9 L1911.3,262.4 L1912.5,262.7 L1913.7,262.6 L1914.9,264.1 L1916.1,264.1 L1917.3,264.8 L1918.5,264.6 L1919.7,266.1 L1920.9,265.5 L1922.1,265.9 L1923.3,266.1 L1924.5,267.3 L1925.7,267.5 L1926.9,267.5 L1928.1,267.3 L1929.3,267.2 L1930.5,266.2 L1931.7,266.2 L1932.9,267.0 L1934.1,268.3 L1934.1,280.8 L1932.9,280.0 L1931.7,279.9 L1930.5,279.5 L1929.3,279.4 L1928.1,278.3 L1926.9,278.2 L1925.7,278.7 L1924.5,278.6 L1923.3,278.4 L1922.1,277.7 L1920.9,277.0 L1919.7,277.3 L1918.5,277.7 L1917.3,277.5 L1916.1,276.0 L1914.9,275.1 L1913.7,275.5 L1912.5,276.1 L1911.3,275.7 L1910.1,275.1 L1908.9,275.1 L1907.7,274.3 L1906.5,273.7 L1905.3,273.7 L1904.1,275.1 L1902.9,276.4 L1901.7,275.0 L1900.5,273.6 L1899.3,272.5 L1898.1,272.9 L1896.9,273.2 L1895.7,273.3 L1894.5,274.1 L1893.3,274.3 L1892.1,275.1 L1890.9,274.7 L1889.7,273.4 L1888.5,271.7 L1887.3,269.6 L1886.1,268.5 L1884.9,267.2 L1883.7,265.7 L1882.5,264.7 L1881.3,263.7 L1880.1,263.2 L1878.9,263.3 L1877.7,263.0 L1876.5,262.9 L1875.3,261.9 L1874.1,260.5 L1872.9,258.9 L1871.7,253.7 L1870.5,246.7 L1869.3,239.7 L1868.1,234.3 L1866.9,226.7 L1865.7,221.7 L1864.5,221.7 L1863.3,222.0 L1862.1,223.2 L1860.9,224.3 L1859.7,228.8 L1858.5,235.1 L1857.3,239.6 L1856.1,242.1 L1854.9,242.6 L1853.7,243.3 L1852.5,243.8 L1851.3,243.8 L1850.1,244.4 L1848.9,243.5 L1847.7,243.1 L1846.5,242.4 L1845.3,241.0 L1844.1,239.5 L1842.9,237.8 L1841.7,238.4 L1840.5,239.2 L1839.3,239.8 L1838.1,239.2 L1836.9,239.6 L1835.7,239.7 L1834.5,240.6 L1833.3,240.2 L1832.1,241.8 L1830.9,241.8 L1829.7,243.0 L1828.5,242.4 L1827.3,242.5 L1826.1,243.1 L1824.9,244.5 L1823.7,246.0 L1822.5,245.5 L1821.3,245.6 L1820.1,244.6 L1818.9,244.6 L1817.7,242.5 L1816.5,241.2 L1815.3,238.7 L1814.1,238.3 L1812.9,236.9 L1811.7,234.8 L1810.5,231.3 L1809.3,228.3 L1808.1,226.3 L1806.9,223.1 L1805.7,221.3 L1804.5,219.0 L1803.3,216.5 L1802.1,215.4 L1800.9,216.1 L1799.7,218.6 L1798.5,221.9 L1797.3,224.7 L1796.1,228.2 L1794.9,228.6 L1793.7,230.0 L1792.5,232.4 L1791.3,236.2 L1790.1,237.6 L1788.9,238.1 L1787.7,237.6 L1786.5,238.2 L1785.3,239.1 L1784.1,239.2 L1782.9,239.2 L1781.7,238.5 L1780.5,240.1 L1779.3,242.9 L1778.1,245.4 L1776.9,246.2 L1775.7,246.8 L1774.5,247.3 L1773.3,248.9 L1772.1,249.9 L1770.9,249.9 L1769.7,251.0 L1768.5,250.8 L1767.3,252.1 L1766.1,251.2 L1764.9,251.7 L1763.7,252.3 L1762.5,253.5 L1761.3,255.2 L1760.1,255.1 L1758.9,255.6 L1757.7,255.6 L1756.5,256.9 L1755.3,256.6 L1754.1,256.0 L1752.9,255.4 L1751.7,254.7 L1750.5,255.0 L1749.3,255.2 L1748.1,256.4 L1746.9,257.5 L1745.7,257.1 L1744.5,258.4 L1743.3,258.5 L1742.1,260.9 L1740.9,261.1 L1739.7,263.0 L1738.5,262.8 L1737.3,265.1 L1736.1,265.6 L1734.9,267.7 L1733.7,268.8 L1732.5,272.6 L1731.3,274.6 L1730.1,276.6 L1728.9,277.1 L1727.7,277.1 L1726.5,278.2 L1725.3,277.1 L1724.1,277.2 L1722.9,275.7Z" fill="#a0a3cb"/><path d="M1722.9,273.0 L1724.1,273.9 L1725.3,273.3 L1726.5,273.1 L1727.7,272.5 L1728.9,272.9 L1730.1,272.2 L1731.3,270.4 L1732.5,267.5 L1733.7,265.3 L1734.9,262.9 L1736.1,261.2 L1737.3,259.1 L1738.5,257.6 L1739.7,256.2 L1740.9,256.0 L1742.1,255.4 L1743.3,255.3 L1744.5,253.3 L1745.7,251.7 L1746.9,249.6 L1748.1,249.1 L1749.3,248.6 L1750.5,248.7 L1751.7,248.6 L1752.9,249.2 L1754.1,250.1 L1755.3,249.8 L1756.5,249.3 L1757.7,249.2 L1758.9,249.1 L1760.1,248.9 L1761.3,248.3 L1762.5,247.4 L1763.7,246.1 L1764.9,245.0 L1766.1,244.2 L1767.3,244.2 L1768.5,243.0 L1769.7,242.1 L1770.9,241.6 L1772.1,241.5 L1773.3,241.6 L1774.5,240.8 L1775.7,239.2 L1776.9,237.7 L1778.1,236.5 L1779.3,235.7 L1780.5,234.4 L1781.7,233.0 L1782.9,231.5 L1784.1,230.3 L1785.3,230.3 L1786.5,229.9 L1787.7,229.8 L1788.9,228.7 L1790.1,228.5 L1791.3,226.9 L1792.5,224.7 L1793.7,222.0 L1794.9,218.8 L1796.1,216.0 L1797.3,212.1 L1798.5,208.4 L1799.7,204.3 L1800.9,202.5 L1802.1,201.6 L1803.3,202.9 L1804.5,203.8 L1805.7,206.6 L1806.9,208.1 L1808.1,211.4 L1809.3,213.8 L1810.5,217.4 L1811.7,219.8 L1812.9,222.3 L1814.1,223.6 L1815.3,225.7 L1816.5,227.3 L1817.7,228.5 L1818.9,228.8 L1820.1,228.7 L1821.3,228.8 L1822.5,228.9 L1823.7,228.3 L1824.9,227.6 L1826.1,226.7 L1827.3,226.8 L1828.5,227.2 L1829.7,227.5 L1830.9,226.9 L1832.1,226.2 L1833.3,225.2 L1834.5,225.3 L1835.7,225.1 L1836.9,225.1 L1838.1,224.0 L1839.3,223.6 L1840.5,224.2 L1841.7,224.6 L1842.9,225.7 L1844.1,225.3 L1845.3,226.3 L1846.5,226.3 L1847.7,227.1 L1848.9,228.2 L1850.1,229.9 L1851.3,231.4 L1852.5,231.3 L1853.7,231.3 L1854.9,229.6 L1856.1,228.8 L1857.3,226.3 L1858.5,221.5 L1859.7,213.9 L1860.9,208.5 L1862.1,207.0 L1863.3,206.5 L1864.5,207.1 L1865.7,207.8 L1866.9,213.4 L1868.1,221.0 L1869.3,226.5 L1870.5,234.1 L1871.7,241.5 L1872.9,246.5 L1874.1,248.4 L1875.3,250.9 L1876.5,253.4 L1877.7,254.4 L1878.9,255.1 L1880.1,256.0 L1881.3,256.5 L1882.5,257.0 L1883.7,256.9 L1884.9,257.8 L1886.1,258.9 L1887.3,260.5 L1888.5,262.6 L1889.7,264.2 L1890.9,266.0 L1892.1,267.2 L1893.3,267.6 L1894.5,267.9 L1895.7,268.3 L1896.9,268.9 L1898.1,269.3 L1899.3,269.2 L1900.5,269.0 L1901.7,267.8 L1902.9,266.8 L1904.1,266.9 L1905.3,267.9 L1906.5,268.3 L1907.7,267.8 L1908.9,267.9 L1910.1,268.5 L1911.3,269.3 L1912.5,268.9 L1913.7,269.3 L1914.9,269.7 L1916.1,270.6 L1917.3,271.3 L1918.5,271.0 L1919.7,271.5 L1920.9,271.2 L1922.1,272.0 L1923.3,271.6 L1924.5,272.4 L1925.7,272.6 L1926.9,272.4 L1928.1,272.1 L1929.3,271.9 L1930.5,272.0 L1931.7,271.6 L1932.9,272.0 L1934.1,272.6" fill="none" stroke="#2e57a7" stroke-width="2.8" stroke-linejoin="round" stroke-linecap="round"/><path d="M1722.9,255.6 L1724.1,256.5 L1725.3,258.1 L1726.5,259.2 L1727.7,261.3 L1728.9,263.4 L1730.1,265.8 L1731.3,267.2 L1732.5,268.3 L1733.7,267.5 L1734.9,266.0 L1736.1,262.8 L1737.3,259.9 L1738.5,258.1 L1739.7,255.5 L1740.9,253.8 L1742.1,250.2 L1743.3,248.8 L1744.5,246.5 L1745.7,246.7 L1746.9,247.5 L1748.1,248.8 L1749.3,250.9 L1750.5,251.8 L1751.7,252.3 L1752.9,252.2 L1754.1,252.1 L1755.3,253.3 L1756.5,254.1 L1757.7,254.9 L1758.9,255.6 L1760.1,255.9 L1761.3,257.1 L1762.5,257.3 L1763.7,257.3 L1764.9,257.7 L1766.1,257.0 L1767.3,257.4 L1768.5,256.3 L1769.7,258.0 L1770.9,258.5 L1772.1,259.7 L1773.3,259.4 L1774.5,258.3 L1775.7,258.0 L1776.9,256.0 L1778.1,256.7 L1779.3,256.2 L1780.5,256.1 L1781.7,255.6 L1782.9,254.8 L1784.1,254.4 L1785.3,253.2 L1786.5,252.6 L1787.7,252.7 L1788.9,254.1 L1790.1,255.4 L1791.3,255.9 L1792.5,255.7 L1793.7,254.2 L1794.9,253.4 L1796.1,252.4 L1797.3,251.1 L1798.5,248.8 L1799.7,240.6 L1800.9,233.4 L1802.1,227.0 L1803.3,226.5 L1804.5,225.2 L1805.7,225.5 L1806.9,223.9 L1808.1,223.6 L1809.3,223.0 L1810.5,225.7 L1811.7,227.3 L1812.9,228.4 L1814.1,227.7 L1815.3,227.6 L1816.5,229.2 L1817.7,231.7 L1818.9,233.9 L1820.1,234.8 L1821.3,235.2 L1822.5,234.2 L1823.7,235.0 L1824.9,234.7 L1826.1,235.1 L1827.3,236.1 L1828.5,236.8 L1829.7,238.6 L1830.9,238.3 L1832.1,238.4 L1833.3,237.0 L1834.5,236.9 L1835.7,237.5 L1836.9,238.4 L1838.1,238.8 L1839.3,238.3 L1840.5,238.5 L1841.7,238.2 L1842.9,238.5 L1844.1,239.0 L1845.3,239.7 L1846.5,241.1 L1847.7,244.2 L1848.9,247.2 L1850.1,248.3 L1851.3,247.5 L1852.5,244.9 L1853.7,243.6 L1854.9,241.3 L1856.1,241.0 L1857.3,237.1 L1858.5,232.9 L1859.7,228.4 L1860.9,225.9 L1862.1,225.7 L1863.3,228.0 L1864.5,231.5 L1865.7,236.7 L1866.9,242.5 L1868.1,247.3 L1869.3,252.6 L1870.5,263.2 L1871.7,266.4 L1872.9,268.9 L1874.1,270.7 L1875.3,273.0 L1876.5,273.4 L1877.7,273.8 L1878.9,272.4 L1880.1,272.3 L1881.3,272.4 L1882.5,272.3 L1883.7,272.5 L1884.9,271.7 L1886.1,272.1 L1887.3,272.6 L1888.5,273.6 L1889.7,272.8 L1890.9,271.9 L1892.1,270.8 L1893.3,270.5 L1894.5,270.0 L1895.7,270.5 L1896.9,272.0 L1898.1,273.6 L1899.3,274.0 L1900.5,275.5 L1901.7,276.5 L1902.9,277.4 L1904.1,277.7 L1905.3,278.6 L1906.5,280.2 L1907.7,280.7 L1908.9,280.3 L1910.1,280.3 L1911.3,280.1 L1912.5,280.3 L1913.7,279.5 L1914.9,279.3 L1916.1,278.9 L1917.3,278.8 L1918.5,278.6 L1919.7,277.7 L1920.9,277.2 L1922.1,277.4 L1923.3,277.6 L1924.5,277.9 L1925.7,277.3 L1926.9,276.8 L1928.1,276.4 L1929.3,276.0 L1930.5,274.5 L1931.7,273.2 L1932.9,271.5 L1934.1,271.7 L1934.1,285.1 L1932.9,286.1 L1931.7,287.9 L1930.5,289.0 L1929.3,291.2 L1928.1,293.0 L1926.9,293.7 L1925.7,293.8 L1924.5,293.3 L1923.3,293.1 L1922.1,292.1 L1920.9,292.0 L1919.7,293.1 L1918.5,293.1 L1917.3,294.2 L1916.1,294.3 L1914.9,295.8 L1913.7,296.1 L1912.5,296.1 L1911.3,295.7 L1910.1,295.2 L1908.9,295.5 L1907.7,295.3 L1906.5,295.2 L1905.3,295.0 L1904.1,294.2 L1902.9,293.1 L1901.7,291.1 L1900.5,290.1 L1899.3,289.4 L1898.1,289.7 L1896.9,289.3 L1895.7,288.4 L1894.5,287.3 L1893.3,286.4 L1892.1,285.4 L1890.9,285.4 L1889.7,287.0 L1888.5,288.6 L1887.3,290.1 L1886.1,290.4 L1884.9,290.0 L1883.7,289.1 L1882.5,288.7 L1881.3,288.9 L1880.1,288.7 L1878.9,288.9 L1877.7,288.9 L1876.5,289.2 L1875.3,288.9 L1874.1,288.6 L1872.9,286.8 L1871.7,285.0 L1870.5,281.5 L1869.3,272.7 L1868.1,267.7 L1866.9,263.7 L1865.7,260.4 L1864.5,257.0 L1863.3,256.5 L1862.1,255.3 L1860.9,256.2 L1859.7,257.9 L1858.5,262.4 L1857.3,267.5 L1856.1,270.1 L1854.9,271.0 L1853.7,271.2 L1852.5,272.9 L1851.3,274.6 L1850.1,275.4 L1848.9,276.9 L1847.7,276.2 L1846.5,275.2 L1845.3,273.0 L1844.1,272.4 L1842.9,272.9 L1841.7,274.0 L1840.5,272.8 L1839.3,272.9 L1838.1,271.8 L1836.9,271.8 L1835.7,271.7 L1834.5,271.3 L1833.3,271.5 L1832.1,270.5 L1830.9,270.3 L1829.7,270.5 L1828.5,271.2 L1827.3,271.6 L1826.1,272.6 L1824.9,272.8 L1823.7,272.4 L1822.5,271.0 L1821.3,270.1 L1820.1,270.7 L1818.9,269.7 L1817.7,268.2 L1816.5,266.8 L1815.3,266.2 L1814.1,265.8 L1812.9,265.5 L1811.7,264.2 L1810.5,262.2 L1809.3,259.5 L1808.1,258.2 L1806.9,257.9 L1805.7,258.3 L1804.5,260.1 L1803.3,260.9 L1802.1,262.3 L1800.9,262.7 L1799.7,265.9 L1798.5,266.8 L1797.3,268.2 L1796.1,268.6 L1794.9,269.1 L1793.7,270.3 L1792.5,270.4 L1791.3,271.0 L1790.1,269.4 L1788.9,268.5 L1787.7,267.6 L1786.5,267.2 L1785.3,267.4 L1784.1,268.7 L1782.9,269.9 L1781.7,271.1 L1780.5,270.9 L1779.3,271.8 L1778.1,271.2 L1776.9,272.4 L1775.7,271.7 L1774.5,272.7 L1773.3,271.6 L1772.1,272.2 L1770.9,272.2 L1769.7,273.9 L1768.5,274.0 L1767.3,274.4 L1766.1,272.5 L1764.9,272.7 L1763.7,272.5 L1762.5,272.2 L1761.3,271.0 L1760.1,270.3 L1758.9,271.4 L1757.7,270.5 L1756.5,269.3 L1755.3,267.6 L1754.1,267.5 L1752.9,266.7 L1751.7,266.3 L1750.5,266.4 L1749.3,265.5 L1748.1,264.3 L1746.9,262.3 L1745.7,260.7 L1744.5,260.2 L1743.3,261.8 L1742.1,264.6 L1740.9,268.1 L1739.7,269.7 L1738.5,271.7 L1737.3,273.4 L1736.1,274.9 L1734.9,277.6 L1733.7,278.5 L1732.5,280.1 L1731.3,279.0 L1730.1,278.0 L1728.9,275.6 L1727.7,273.5 L1726.5,271.4 L1725.3,268.9 L1724.1,267.3 L1722.9,267.1Z" fill="#eca2a7"/><path d="M1722.9,263.1 L1724.1,263.4 L1725.3,264.3 L1726.5,264.7 L1727.7,265.7 L1728.9,267.7 L1730.1,271.2 L1731.3,272.7 L1732.5,273.7 L1733.7,271.8 L1734.9,271.2 L1736.1,268.4 L1737.3,267.1 L1738.5,265.2 L1739.7,263.0 L1740.9,259.9 L1742.1,256.8 L1743.3,254.6 L1744.5,253.4 L1745.7,253.3 L1746.9,255.2 L1748.1,257.2 L1749.3,258.5 L1750.5,258.9 L1751.7,259.3 L1752.9,259.8 L1754.1,261.1 L1755.3,261.8 L1756.5,262.1 L1757.7,262.1 L1758.9,261.9 L1760.1,263.0 L1761.3,262.9 L1762.5,264.1 L1763.7,263.6 L1764.9,265.0 L1766.1,264.6 L1767.3,265.5 L1768.5,265.7 L1769.7,266.7 L1770.9,267.1 L1772.1,266.2 L1773.3,265.7 L1774.5,264.7 L1775.7,264.3 L1776.9,263.6 L1778.1,264.0 L1779.3,263.4 L1780.5,263.1 L1781.7,261.8 L1782.9,262.1 L1784.1,261.2 L1785.3,260.7 L1786.5,261.0 L1787.7,261.4 L1788.9,262.8 L1790.1,262.9 L1791.3,263.2 L1792.5,262.3 L1793.7,262.5 L1794.9,261.8 L1796.1,261.7 L1797.3,259.7 L1798.5,258.9 L1799.7,253.2 L1800.9,248.5 L1802.1,244.3 L1803.3,243.8 L1804.5,243.1 L1805.7,241.9 L1806.9,242.0 L1808.1,241.8 L1809.3,243.5 L1810.5,244.0 L1811.7,246.1 L1812.9,247.1 L1814.1,248.1 L1815.3,248.1 L1816.5,249.3 L1817.7,250.6 L1818.9,252.6 L1820.1,253.5 L1821.3,254.4 L1822.5,254.3 L1823.7,253.7 L1824.9,253.9 L1826.1,254.1 L1827.3,254.1 L1828.5,253.2 L1829.7,252.5 L1830.9,252.8 L1832.1,253.8 L1833.3,254.8 L1834.5,255.5 L1835.7,255.2 L1836.9,255.6 L1838.1,255.1 L1839.3,255.1 L1840.5,254.8 L1841.7,255.3 L1842.9,256.4 L1844.1,257.4 L1845.3,258.4 L1846.5,259.2 L1847.7,260.6 L1848.9,261.2 L1850.1,261.3 L1851.3,260.4 L1852.5,258.9 L1853.7,257.7 L1854.9,256.6 L1856.1,256.0 L1857.3,252.2 L1858.5,247.4 L1859.7,243.5 L1860.9,241.9 L1862.1,241.9 L1863.3,243.6 L1864.5,245.2 L1865.7,248.0 L1866.9,252.6 L1868.1,257.2 L1869.3,262.8 L1870.5,272.8 L1871.7,275.4 L1872.9,277.2 L1874.1,278.5 L1875.3,279.4 L1876.5,280.1 L1877.7,280.9 L1878.9,281.8 L1880.1,282.3 L1881.3,282.0 L1882.5,282.4 L1883.7,281.3 L1884.9,280.9 L1886.1,279.8 L1887.3,280.5 L1888.5,279.9 L1889.7,280.0 L1890.9,279.5 L1892.1,278.7 L1893.3,278.5 L1894.5,278.1 L1895.7,278.9 L1896.9,279.8 L1898.1,281.2 L1899.3,282.4 L1900.5,283.6 L1901.7,283.9 L1902.9,284.3 L1904.1,284.9 L1905.3,286.4 L1906.5,287.9 L1907.7,288.4 L1908.9,288.5 L1910.1,288.2 L1911.3,287.8 L1912.5,287.5 L1913.7,287.7 L1914.9,287.9 L1916.1,287.3 L1917.3,286.0 L1918.5,285.1 L1919.7,284.8 L1920.9,285.5 L1922.1,286.0 L1923.3,286.4 L1924.5,285.6 L1925.7,285.1 L1926.9,284.2 L1928.1,284.0 L1929.3,283.2 L1930.5,282.5 L1931.7,281.0 L1932.9,279.1 L1934.1,278.8" fill="none" stroke="#e91c2e" stroke-width="2.8" stroke-linejoin="round" stroke-linecap="round"/></g>
<rect x="1801.20" y="100.80" width="58.50" height="21.80" fill="#17a3db"/>
<line x1="1722.90" y1="98.20" x2="1722.90" y2="316.00" stroke="#231f20" stroke-width="1.7"/>
<line x1="1721.00" y1="315.20" x2="1934.60" y2="315.20" stroke="#231f20" stroke-width="1.8"/>
<line x1="1717.70" y1="157.60" x2="1722.90" y2="157.60" stroke="#231f20" stroke-width="1.6"/>
<line x1="1717.70" y1="250.90" x2="1722.90" y2="250.90" stroke="#231f20" stroke-width="1.6"/>
<line x1="1767.90" y1="315.20" x2="1767.90" y2="320.00" stroke="#231f20" stroke-width="1.6"/>
<line x1="1861.20" y1="315.20" x2="1861.20" y2="320.00" stroke="#231f20" stroke-width="1.6"/>
<text x="1698.10" y="166.10" font-size="22.5" fill="#231f20">2</text>
<text x="1697.76" y="259.40" font-size="22.5" fill="#231f20">1</text>
<text x="1748.88" y="338.25" font-size="22.5" fill="#231f20">−2</text>
<text x="1856.45" y="338.25" font-size="22.5" fill="#231f20">0</text>
<text x="1871.94" y="131.20" font-size="22.0" fill="#2e57a7">Lick contra</text>
<text x="1873.04" y="159.50" font-size="22.0" fill="#e91c2e">Lick ipsi</text>
<line x1="1482.90" y1="618.10" x2="1482.90" y2="425.30" stroke="#7a7a7a" stroke-width="1.9" stroke-dasharray="1.9 2.3"/>
<line x1="1542.90" y1="618.10" x2="1542.90" y2="425.30" stroke="#7a7a7a" stroke-width="1.9" stroke-dasharray="1.9 2.3"/>
<line x1="1602.30" y1="618.10" x2="1602.30" y2="425.30" stroke="#1e1e1e" stroke-width="1.3" stroke-dasharray="2.6 1.9"/>
<line x1="1464.40" y1="543.30" x2="1682.70" y2="543.30" stroke="#1e1e1e" stroke-width="1.3" stroke-dasharray="2.4 2.3"/>
<g clip-path="url(#c7)"><path d="M1464.4,545.4 L1465.6,545.7 L1466.8,545.8 L1468.0,545.4 L1469.2,545.8 L1470.4,545.1 L1471.6,545.6 L1472.8,544.7 L1474.0,545.0 L1475.3,545.2 L1476.5,545.7 L1477.7,546.8 L1478.9,546.3 L1480.1,545.1 L1481.3,544.3 L1482.5,544.1 L1483.7,543.5 L1484.9,541.4 L1486.1,540.6 L1487.3,540.5 L1488.5,539.9 L1489.7,539.9 L1490.9,539.8 L1492.1,542.2 L1493.3,543.0 L1494.5,544.8 L1495.7,545.6 L1496.9,547.5 L1498.1,550.5 L1499.3,553.7 L1500.5,555.5 L1501.7,556.4 L1502.9,555.8 L1504.1,556.7 L1505.3,556.2 L1506.6,557.8 L1507.8,558.1 L1509.0,559.1 L1510.2,559.2 L1511.4,559.5 L1512.6,559.7 L1513.8,559.9 L1515.0,560.2 L1516.2,560.7 L1517.4,560.3 L1518.6,559.8 L1519.8,559.2 L1521.0,560.3 L1522.2,560.8 L1523.4,560.3 L1524.6,558.7 L1525.8,558.5 L1527.0,559.2 L1528.2,560.5 L1529.4,560.9 L1530.6,559.9 L1531.8,559.3 L1533.0,559.3 L1534.2,560.2 L1535.4,560.4 L1536.6,559.3 L1537.9,559.3 L1539.1,559.5 L1540.3,561.7 L1541.5,563.7 L1542.7,565.7 L1543.9,566.3 L1545.1,567.1 L1546.3,567.3 L1547.5,568.9 L1548.7,568.8 L1549.9,569.4 L1551.1,569.9 L1552.3,571.2 L1553.5,572.0 L1554.7,571.8 L1555.9,572.1 L1557.1,573.0 L1558.3,575.4 L1559.5,576.6 L1560.7,578.2 L1561.9,577.8 L1563.1,578.4 L1564.3,578.0 L1565.5,578.9 L1566.7,579.8 L1567.9,581.0 L1569.2,580.6 L1570.4,579.6 L1571.6,579.6 L1572.8,580.4 L1574.0,582.1 L1575.2,582.1 L1576.4,581.5 L1577.6,580.6 L1578.8,579.7 L1580.0,579.9 L1581.2,579.2 L1582.4,579.6 L1583.6,579.6 L1584.8,578.6 L1586.0,578.2 L1587.2,577.9 L1588.4,577.8 L1589.6,577.2 L1590.8,576.7 L1592.0,576.8 L1593.2,575.4 L1594.4,574.4 L1595.6,574.0 L1596.8,573.3 L1598.0,571.9 L1599.2,569.4 L1600.5,567.7 L1601.7,566.8 L1602.9,564.2 L1604.1,561.2 L1605.3,556.7 L1606.5,554.8 L1607.7,553.0 L1608.9,551.2 L1610.1,549.9 L1611.3,548.7 L1612.5,547.7 L1613.7,546.3 L1614.9,545.9 L1616.1,546.4 L1617.3,545.9 L1618.5,544.8 L1619.7,542.9 L1620.9,541.6 L1622.1,540.0 L1623.3,538.9 L1624.5,538.2 L1625.7,539.2 L1626.9,539.6 L1628.1,539.2 L1629.3,539.8 L1630.5,540.8 L1631.8,541.5 L1633.0,541.2 L1634.2,540.4 L1635.4,541.7 L1636.6,542.0 L1637.8,544.1 L1639.0,544.9 L1640.2,546.7 L1641.4,547.1 L1642.6,546.9 L1643.8,546.2 L1645.0,546.5 L1646.2,546.0 L1647.4,546.5 L1648.6,546.3 L1649.8,545.9 L1651.0,545.0 L1652.2,543.9 L1653.4,543.3 L1654.6,542.5 L1655.8,542.4 L1657.0,542.4 L1658.2,542.6 L1659.4,542.4 L1660.6,544.2 L1661.8,545.9 L1663.1,546.1 L1664.3,545.8 L1665.5,545.0 L1666.7,544.9 L1667.9,544.4 L1669.1,544.8 L1670.3,544.7 L1671.5,545.9 L1672.7,545.3 L1673.9,545.8 L1675.1,545.8 L1676.3,545.5 L1676.3,560.8 L1675.1,561.1 L1673.9,561.8 L1672.7,561.0 L1671.5,561.2 L1670.3,561.5 L1669.1,561.1 L1667.9,561.2 L1666.7,560.2 L1665.5,561.1 L1664.3,560.9 L1663.1,561.3 L1661.8,560.7 L1660.6,560.8 L1659.4,560.1 L1658.2,561.3 L1657.0,560.6 L1655.8,561.4 L1654.6,561.1 L1653.4,561.9 L1652.2,562.0 L1651.0,562.4 L1649.8,563.4 L1648.6,563.9 L1647.4,564.8 L1646.2,565.4 L1645.0,565.0 L1643.8,563.9 L1642.6,563.3 L1641.4,564.6 L1640.2,564.6 L1639.0,564.9 L1637.8,563.3 L1636.6,563.9 L1635.4,563.6 L1634.2,563.2 L1633.0,562.1 L1631.8,562.3 L1630.5,562.1 L1629.3,562.4 L1628.1,560.9 L1626.9,560.9 L1625.7,560.8 L1624.5,561.4 L1623.3,562.3 L1622.1,562.4 L1620.9,563.2 L1619.7,563.4 L1618.5,564.7 L1617.3,566.0 L1616.1,566.6 L1614.9,567.5 L1613.7,567.0 L1612.5,568.8 L1611.3,568.1 L1610.1,569.5 L1608.9,569.9 L1607.7,571.5 L1606.5,572.0 L1605.3,573.0 L1604.1,576.7 L1602.9,580.6 L1601.7,584.6 L1600.5,585.5 L1599.2,587.4 L1598.0,587.5 L1596.8,589.0 L1595.6,589.5 L1594.4,590.7 L1593.2,591.2 L1592.0,590.5 L1590.8,590.2 L1589.6,590.6 L1588.4,592.0 L1587.2,592.8 L1586.0,593.7 L1584.8,594.5 L1583.6,595.8 L1582.4,595.6 L1581.2,596.6 L1580.0,596.3 L1578.8,596.9 L1577.6,596.5 L1576.4,596.6 L1575.2,596.3 L1574.0,595.3 L1572.8,596.0 L1571.6,596.5 L1570.4,596.7 L1569.2,595.1 L1567.9,594.6 L1566.7,594.6 L1565.5,595.7 L1564.3,595.8 L1563.1,596.7 L1561.9,596.2 L1560.7,595.9 L1559.5,593.9 L1558.3,592.2 L1557.1,589.3 L1555.9,587.8 L1554.7,585.9 L1553.5,586.3 L1552.3,586.4 L1551.1,585.9 L1549.9,584.9 L1548.7,583.5 L1547.5,582.8 L1546.3,582.6 L1545.1,582.5 L1543.9,581.5 L1542.7,579.7 L1541.5,577.3 L1540.3,576.2 L1539.1,573.6 L1537.9,573.4 L1536.6,572.7 L1535.4,572.7 L1534.2,571.9 L1533.0,572.2 L1531.8,573.9 L1530.6,575.4 L1529.4,576.9 L1528.2,576.0 L1527.0,576.1 L1525.8,575.9 L1524.6,577.3 L1523.4,576.3 L1522.2,576.1 L1521.0,575.5 L1519.8,575.8 L1518.6,576.6 L1517.4,575.9 L1516.2,575.8 L1515.0,575.0 L1513.8,574.4 L1512.6,573.5 L1511.4,572.8 L1510.2,572.6 L1509.0,573.3 L1507.8,572.8 L1506.6,573.1 L1505.3,572.6 L1504.1,573.0 L1502.9,573.0 L1501.7,572.6 L1500.5,571.0 L1499.3,569.1 L1498.1,567.3 L1496.9,564.9 L1495.7,563.1 L1494.5,560.8 L1493.3,560.2 L1492.1,557.9 L1490.9,557.9 L1489.7,557.6 L1488.5,558.7 L1487.3,557.9 L1486.1,556.9 L1484.9,557.2 L1483.7,558.5 L1482.5,559.3 L1481.3,558.9 L1480.1,558.4 L1478.9,558.6 L1477.7,558.1 L1476.5,558.4 L1475.3,559.1 L1474.0,559.4 L1472.8,558.4 L1471.6,557.6 L1470.4,558.6 L1469.2,559.7 L1468.0,559.8 L1466.8,559.0 L1465.6,559.0 L1464.4,558.8Z" fill="#a0a3cb"/><path d="M1464.4,552.8 L1465.6,553.2 L1466.8,553.8 L1468.0,553.9 L1469.2,553.4 L1470.4,552.9 L1471.6,552.6 L1472.8,551.9 L1474.0,552.1 L1475.3,552.3 L1476.5,553.3 L1477.7,553.4 L1478.9,553.2 L1480.1,552.6 L1481.3,552.3 L1482.5,552.1 L1483.7,551.8 L1484.9,550.5 L1486.1,549.1 L1487.3,547.8 L1488.5,547.2 L1489.7,548.3 L1490.9,549.1 L1492.1,551.4 L1493.3,552.4 L1494.5,553.9 L1495.7,553.8 L1496.9,555.3 L1498.1,557.6 L1499.3,559.6 L1500.5,561.5 L1501.7,562.1 L1502.9,563.7 L1504.1,564.3 L1505.3,564.2 L1506.6,564.5 L1507.8,565.5 L1509.0,566.0 L1510.2,566.6 L1511.4,567.1 L1512.6,568.4 L1513.8,568.7 L1515.0,568.7 L1516.2,568.7 L1517.4,568.1 L1518.6,568.3 L1519.8,567.9 L1521.0,568.1 L1522.2,567.5 L1523.4,566.9 L1524.6,567.3 L1525.8,567.7 L1527.0,567.4 L1528.2,566.9 L1529.4,565.8 L1530.6,566.3 L1531.8,565.6 L1533.0,566.6 L1534.2,566.1 L1535.4,566.5 L1536.6,565.6 L1537.9,566.4 L1539.1,566.5 L1540.3,568.0 L1541.5,569.0 L1542.7,571.7 L1543.9,573.2 L1545.1,574.6 L1546.3,574.7 L1547.5,575.0 L1548.7,575.1 L1549.9,575.4 L1551.1,576.1 L1552.3,576.8 L1553.5,578.0 L1554.7,579.1 L1555.9,580.0 L1557.1,581.5 L1558.3,583.3 L1559.5,585.1 L1560.7,586.3 L1561.9,586.5 L1563.1,586.2 L1564.3,585.6 L1565.5,586.6 L1566.7,587.6 L1567.9,587.7 L1569.2,587.2 L1570.4,586.8 L1571.6,587.9 L1572.8,588.2 L1574.0,589.0 L1575.2,588.2 L1576.4,587.9 L1577.6,587.4 L1578.8,588.0 L1580.0,588.2 L1581.2,588.4 L1582.4,588.0 L1583.6,587.4 L1584.8,586.8 L1586.0,586.3 L1587.2,586.1 L1588.4,584.7 L1589.6,583.5 L1590.8,582.1 L1592.0,582.3 L1593.2,581.9 L1594.4,581.4 L1595.6,580.3 L1596.8,579.5 L1598.0,579.1 L1599.2,578.1 L1600.5,576.7 L1601.7,575.3 L1602.9,573.0 L1604.1,569.7 L1605.3,566.0 L1606.5,562.9 L1607.7,562.2 L1608.9,560.7 L1610.1,559.8 L1611.3,557.9 L1612.5,557.6 L1613.7,557.3 L1614.9,556.5 L1616.1,555.8 L1617.3,555.1 L1618.5,555.0 L1619.7,553.5 L1620.9,552.7 L1622.1,551.3 L1623.3,550.9 L1624.5,549.6 L1625.7,550.0 L1626.9,550.2 L1628.1,551.2 L1629.3,551.1 L1630.5,550.9 L1631.8,550.8 L1633.0,550.7 L1634.2,551.1 L1635.4,551.9 L1636.6,552.2 L1637.8,553.2 L1639.0,552.9 L1640.2,554.5 L1641.4,555.9 L1642.6,556.4 L1643.8,556.3 L1645.0,556.4 L1646.2,556.6 L1647.4,556.2 L1648.6,555.7 L1649.8,555.9 L1651.0,555.3 L1652.2,554.2 L1653.4,553.4 L1654.6,552.9 L1655.8,551.9 L1657.0,551.3 L1658.2,551.8 L1659.4,553.2 L1660.6,553.5 L1661.8,553.4 L1663.1,552.9 L1664.3,553.2 L1665.5,552.8 L1666.7,553.5 L1667.9,553.9 L1669.1,553.9 L1670.3,552.8 L1671.5,552.0 L1672.7,552.1 L1673.9,553.0 L1675.1,553.7 L1676.3,554.2" fill="none" stroke="#2e57a7" stroke-width="2.8" stroke-linejoin="round" stroke-linecap="round"/><path d="M1464.4,536.0 L1465.6,535.7 L1466.8,534.3 L1468.0,532.8 L1469.2,532.1 L1470.4,531.3 L1471.6,531.8 L1472.8,532.3 L1474.0,531.8 L1475.3,532.3 L1476.5,531.6 L1477.7,534.4 L1478.9,533.9 L1480.1,534.3 L1481.3,532.0 L1482.5,529.9 L1483.7,528.0 L1484.9,526.4 L1486.1,525.8 L1487.3,522.7 L1488.5,521.3 L1489.7,519.5 L1490.9,520.2 L1492.1,520.4 L1493.3,521.2 L1494.5,521.2 L1495.7,521.9 L1496.9,521.7 L1498.1,521.9 L1499.3,521.8 L1500.5,522.8 L1501.7,522.5 L1502.9,522.3 L1504.1,522.7 L1505.3,523.6 L1506.6,523.6 L1507.8,523.6 L1509.0,524.2 L1510.2,525.5 L1511.4,526.1 L1512.6,526.6 L1513.8,526.6 L1515.0,525.7 L1516.2,525.3 L1517.4,525.5 L1518.6,525.3 L1519.8,525.1 L1521.0,522.9 L1522.2,520.7 L1523.4,518.5 L1524.6,517.7 L1525.8,517.5 L1527.0,516.9 L1528.2,514.8 L1529.4,513.1 L1530.6,511.3 L1531.8,510.7 L1533.0,509.1 L1534.2,508.1 L1535.4,507.2 L1536.6,506.2 L1537.9,505.8 L1539.1,505.5 L1540.3,505.3 L1541.5,505.4 L1542.7,504.8 L1543.9,504.2 L1545.1,504.5 L1546.3,505.1 L1547.5,506.0 L1548.7,506.1 L1549.9,507.3 L1551.1,508.1 L1552.3,508.8 L1553.5,507.5 L1554.7,507.6 L1555.9,507.7 L1557.1,509.2 L1558.3,509.6 L1559.5,508.4 L1560.7,507.6 L1561.9,504.8 L1563.1,504.7 L1564.3,503.3 L1565.5,504.5 L1566.7,504.5 L1567.9,504.7 L1569.2,502.9 L1570.4,502.1 L1571.6,500.7 L1572.8,501.0 L1574.0,499.4 L1575.2,498.8 L1576.4,497.2 L1577.6,497.0 L1578.8,496.0 L1580.0,495.6 L1581.2,495.1 L1582.4,494.5 L1583.6,494.1 L1584.8,493.6 L1586.0,493.9 L1587.2,494.0 L1588.4,493.8 L1589.6,492.9 L1590.8,491.5 L1592.0,491.3 L1593.2,492.1 L1594.4,491.8 L1595.6,490.5 L1596.8,487.5 L1598.0,485.9 L1599.2,484.6 L1600.5,481.9 L1601.7,479.6 L1602.9,476.1 L1604.1,473.6 L1605.3,468.3 L1606.5,466.2 L1607.7,465.4 L1608.9,466.0 L1610.1,466.7 L1611.3,466.2 L1612.5,467.2 L1613.7,468.9 L1614.9,474.3 L1616.1,479.0 L1617.3,482.9 L1618.5,486.3 L1619.7,491.0 L1620.9,495.3 L1622.1,498.5 L1623.3,502.8 L1624.5,505.8 L1625.7,507.2 L1626.9,507.6 L1628.1,509.8 L1629.3,511.7 L1630.5,513.8 L1631.8,513.9 L1633.0,516.0 L1634.2,515.9 L1635.4,517.7 L1636.6,517.4 L1637.8,519.7 L1639.0,520.3 L1640.2,521.9 L1641.4,522.6 L1642.6,523.0 L1643.8,524.2 L1645.0,523.7 L1646.2,523.7 L1647.4,523.0 L1648.6,523.5 L1649.8,524.7 L1651.0,524.6 L1652.2,525.8 L1653.4,526.5 L1654.6,528.0 L1655.8,528.5 L1657.0,527.5 L1658.2,527.6 L1659.4,527.5 L1660.6,527.9 L1661.8,527.6 L1663.1,526.7 L1664.3,528.2 L1665.5,528.5 L1666.7,529.7 L1667.9,528.8 L1669.1,529.4 L1670.3,529.8 L1671.5,530.5 L1672.7,530.4 L1673.9,529.8 L1675.1,530.6 L1676.3,531.1 L1676.3,546.5 L1675.1,547.2 L1673.9,547.7 L1672.7,545.8 L1671.5,544.5 L1670.3,544.5 L1669.1,544.7 L1667.9,545.1 L1666.7,543.8 L1665.5,544.8 L1664.3,544.0 L1663.1,544.1 L1661.8,543.8 L1660.6,544.4 L1659.4,544.2 L1658.2,544.3 L1657.0,544.9 L1655.8,545.4 L1654.6,545.3 L1653.4,543.9 L1652.2,542.9 L1651.0,541.9 L1649.8,542.4 L1648.6,542.3 L1647.4,541.6 L1646.2,541.2 L1645.0,540.5 L1643.8,540.9 L1642.6,539.9 L1641.4,540.0 L1640.2,539.4 L1639.0,540.2 L1637.8,540.8 L1636.6,540.2 L1635.4,539.6 L1634.2,538.4 L1633.0,537.4 L1631.8,535.1 L1630.5,534.5 L1629.3,533.1 L1628.1,532.0 L1626.9,528.7 L1625.7,527.2 L1624.5,523.7 L1623.3,520.8 L1622.1,517.5 L1620.9,515.3 L1619.7,511.0 L1618.5,507.5 L1617.3,505.7 L1616.1,503.9 L1614.9,500.8 L1613.7,497.3 L1612.5,496.0 L1611.3,495.1 L1610.1,494.7 L1608.9,494.4 L1607.7,494.8 L1606.5,495.3 L1605.3,495.5 L1604.1,496.9 L1602.9,498.0 L1601.7,498.9 L1600.5,500.8 L1599.2,502.6 L1598.0,503.6 L1596.8,504.9 L1595.6,504.8 L1594.4,505.4 L1593.2,504.6 L1592.0,505.5 L1590.8,505.4 L1589.6,505.9 L1588.4,505.9 L1587.2,507.1 L1586.0,507.8 L1584.8,508.5 L1583.6,508.6 L1582.4,508.8 L1581.2,510.3 L1580.0,512.1 L1578.8,514.1 L1577.6,514.2 L1576.4,515.2 L1575.2,516.2 L1574.0,518.2 L1572.8,517.3 L1571.6,516.6 L1570.4,516.3 L1569.2,516.7 L1567.9,517.2 L1566.7,517.6 L1565.5,518.7 L1564.3,519.1 L1563.1,518.7 L1561.9,519.9 L1560.7,521.5 L1559.5,522.7 L1558.3,523.0 L1557.1,523.2 L1555.9,523.7 L1554.7,524.0 L1553.5,523.6 L1552.3,523.0 L1551.1,521.6 L1549.9,521.1 L1548.7,521.3 L1547.5,522.5 L1546.3,523.6 L1545.1,523.2 L1543.9,522.0 L1542.7,521.2 L1541.5,522.0 L1540.3,522.6 L1539.1,524.2 L1537.9,525.1 L1536.6,526.2 L1535.4,526.7 L1534.2,527.9 L1533.0,529.9 L1531.8,530.5 L1530.6,531.7 L1529.4,531.0 L1528.2,531.5 L1527.0,531.8 L1525.8,532.9 L1524.6,534.7 L1523.4,534.8 L1522.2,536.1 L1521.0,536.8 L1519.8,539.8 L1518.6,541.6 L1517.4,542.9 L1516.2,543.1 L1515.0,543.2 L1513.8,543.2 L1512.6,542.0 L1511.4,541.2 L1510.2,540.7 L1509.0,540.6 L1507.8,539.2 L1506.6,538.4 L1505.3,537.6 L1504.1,537.4 L1502.9,536.8 L1501.7,536.3 L1500.5,537.2 L1499.3,537.4 L1498.1,537.8 L1496.9,538.4 L1495.7,539.4 L1494.5,539.6 L1493.3,538.9 L1492.1,537.2 L1490.9,536.5 L1489.7,536.1 L1488.5,538.4 L1487.3,540.7 L1486.1,542.5 L1484.9,543.7 L1483.7,544.4 L1482.5,545.7 L1481.3,547.1 L1480.1,547.9 L1478.9,549.0 L1477.7,548.0 L1476.5,546.2 L1475.3,545.1 L1474.0,545.0 L1472.8,545.0 L1471.6,543.9 L1470.4,542.3 L1469.2,542.8 L1468.0,543.5 L1466.8,545.1 L1465.6,546.0 L1464.4,546.9Z" fill="#eca2a7"/><path d="M1464.4,540.8 L1465.6,539.6 L1466.8,538.0 L1468.0,537.0 L1469.2,536.2 L1470.4,536.1 L1471.6,535.8 L1472.8,536.8 L1474.0,537.8 L1475.3,538.5 L1476.5,539.3 L1477.7,540.2 L1478.9,541.3 L1480.1,540.8 L1481.3,539.2 L1482.5,537.0 L1483.7,534.8 L1484.9,534.0 L1486.1,532.3 L1487.3,530.9 L1488.5,529.8 L1489.7,529.6 L1490.9,529.0 L1492.1,529.0 L1493.3,529.4 L1494.5,530.2 L1495.7,530.4 L1496.9,531.1 L1498.1,531.1 L1499.3,531.0 L1500.5,530.7 L1501.7,531.0 L1502.9,531.3 L1504.1,530.9 L1505.3,530.7 L1506.6,531.0 L1507.8,531.1 L1509.0,531.9 L1510.2,531.9 L1511.4,532.7 L1512.6,533.1 L1513.8,534.4 L1515.0,534.8 L1516.2,534.7 L1517.4,534.0 L1518.6,532.7 L1519.8,531.5 L1521.0,529.5 L1522.2,528.4 L1523.4,527.4 L1524.6,527.2 L1525.8,526.4 L1527.0,524.8 L1528.2,523.2 L1529.4,522.2 L1530.6,521.1 L1531.8,519.9 L1533.0,519.0 L1534.2,518.9 L1535.4,518.5 L1536.6,516.8 L1537.9,515.9 L1539.1,514.4 L1540.3,514.2 L1541.5,514.0 L1542.7,513.9 L1543.9,514.2 L1545.1,514.3 L1546.3,515.1 L1547.5,515.5 L1548.7,515.4 L1549.9,514.5 L1551.1,514.4 L1552.3,514.2 L1553.5,515.2 L1554.7,515.8 L1555.9,515.8 L1557.1,515.7 L1558.3,516.0 L1559.5,516.8 L1560.7,515.6 L1561.9,513.4 L1563.1,511.6 L1564.3,511.2 L1565.5,511.6 L1566.7,511.7 L1567.9,512.0 L1569.2,511.7 L1570.4,510.5 L1571.6,510.3 L1572.8,509.1 L1574.0,508.6 L1575.2,507.3 L1576.4,506.3 L1577.6,505.4 L1578.8,505.2 L1580.0,504.2 L1581.2,503.2 L1582.4,501.5 L1583.6,501.4 L1584.8,501.6 L1586.0,501.3 L1587.2,500.5 L1588.4,499.4 L1589.6,499.5 L1590.8,499.6 L1592.0,499.4 L1593.2,499.0 L1594.4,498.7 L1595.6,497.9 L1596.8,496.3 L1598.0,495.0 L1599.2,494.3 L1600.5,492.2 L1601.7,488.5 L1602.9,486.3 L1604.1,484.2 L1605.3,481.8 L1606.5,480.4 L1607.7,480.1 L1608.9,480.3 L1610.1,479.9 L1611.3,480.2 L1612.5,481.2 L1613.7,483.2 L1614.9,487.3 L1616.1,491.5 L1617.3,494.7 L1618.5,497.3 L1619.7,502.2 L1620.9,505.9 L1622.1,508.2 L1623.3,510.9 L1624.5,515.0 L1625.7,518.3 L1626.9,519.8 L1628.1,521.9 L1629.3,524.1 L1630.5,525.4 L1631.8,526.2 L1633.0,526.7 L1634.2,528.0 L1635.4,528.1 L1636.6,527.9 L1637.8,528.7 L1639.0,529.5 L1640.2,531.2 L1641.4,531.9 L1642.6,533.1 L1643.8,533.3 L1645.0,533.6 L1646.2,534.0 L1647.4,534.7 L1648.6,535.3 L1649.8,535.7 L1651.0,535.1 L1652.2,535.5 L1653.4,534.9 L1654.6,535.1 L1655.8,535.4 L1657.0,536.2 L1658.2,537.3 L1659.4,536.7 L1660.6,536.1 L1661.8,535.0 L1663.1,535.6 L1664.3,536.5 L1665.5,536.9 L1666.7,536.7 L1667.9,535.9 L1669.1,537.0 L1670.3,537.0 L1671.5,537.7 L1672.7,537.7 L1673.9,538.4 L1675.1,539.1 L1676.3,539.6" fill="none" stroke="#e91c2e" stroke-width="2.8" stroke-linejoin="round" stroke-linecap="round"/></g>
<line x1="1464.40" y1="402.20" x2="1464.40" y2="618.90" stroke="#231f20" stroke-width="1.7"/>
<line x1="1463.60" y1="618.10" x2="1676.70" y2="618.10" stroke="#231f20" stroke-width="1.8"/>
<line x1="1459.20" y1="415.00" x2="1464.40" y2="415.00" stroke="#231f20" stroke-width="1.6"/>
<line x1="1459.20" y1="543.30" x2="1464.40" y2="543.30" stroke="#231f20" stroke-width="1.6"/>
<line x1="1510.70" y1="618.10" x2="1510.70" y2="622.90" stroke="#231f20" stroke-width="1.6"/>
<line x1="1602.30" y1="618.10" x2="1602.30" y2="622.90" stroke="#231f20" stroke-width="1.6"/>
<text x="1440.00" y="423.50" font-size="22.5" fill="#231f20">2</text>
<text x="1439.66" y="551.80" font-size="22.5" fill="#231f20">1</text>
<text x="1498.12" y="643.00" font-size="22.5" fill="#231f20">−2</text>
<text x="1594.70" y="643.00" font-size="22.5" fill="#231f20">0</text>
<text x="1541.18" y="403.20" font-size="22.3" fill="#231f20">No stim</text>
<text x="1510.53" y="437.60" font-size="22.3" fill="#231f20">S</text>
<text x="1568.53" y="437.60" font-size="22.3" fill="#231f20">D</text>
<text x="1629.94" y="437.60" font-size="22.3" fill="#231f20">R</text>
<line x1="1743.30" y1="617.70" x2="1743.30" y2="425.30" stroke="#1e1e1e" stroke-width="1.3" stroke-dasharray="2.6 1.9"/>
<line x1="1803.30" y1="617.70" x2="1803.30" y2="425.30" stroke="#1e1e1e" stroke-width="1.3" stroke-dasharray="2.6 1.9"/>
<line x1="1863.40" y1="617.70" x2="1863.40" y2="425.30" stroke="#1e1e1e" stroke-width="1.3" stroke-dasharray="2.6 1.9"/>
<line x1="1725.00" y1="542.60" x2="1937.30" y2="542.60" stroke="#1e1e1e" stroke-width="1.3" stroke-dasharray="2.4 2.3"/>
<g clip-path="url(#c8)"><path d="M1725.0,535.1 L1726.2,535.0 L1727.4,535.0 L1728.7,533.9 L1729.9,532.9 L1731.1,532.2 L1732.3,532.9 L1733.5,532.2 L1734.7,531.4 L1735.9,531.4 L1737.1,532.5 L1738.3,532.5 L1739.5,532.3 L1740.7,531.6 L1741.9,531.1 L1743.1,528.4 L1744.3,526.5 L1745.5,525.1 L1746.7,524.8 L1748.0,524.4 L1749.2,523.1 L1750.4,522.9 L1751.6,521.9 L1752.8,522.5 L1754.0,521.7 L1755.2,522.9 L1756.4,523.2 L1757.6,525.0 L1758.8,526.4 L1760.0,529.6 L1761.2,531.2 L1762.4,533.9 L1763.6,535.6 L1764.8,539.2 L1766.0,540.6 L1767.3,542.0 L1768.5,544.1 L1769.7,544.1 L1770.9,544.4 L1772.1,544.0 L1773.3,545.3 L1774.5,547.3 L1775.7,549.2 L1776.9,550.0 L1778.1,550.4 L1779.3,551.4 L1780.5,552.4 L1781.7,551.8 L1782.9,550.3 L1784.1,548.1 L1785.4,547.0 L1786.6,545.0 L1787.8,543.8 L1789.0,542.4 L1790.2,542.9 L1791.4,542.5 L1792.6,542.6 L1793.8,542.2 L1795.0,543.7 L1796.2,545.2 L1797.4,547.2 L1798.6,548.3 L1799.8,548.9 L1801.0,548.5 L1802.2,548.8 L1803.4,549.6 L1804.7,548.9 L1805.9,548.0 L1807.1,545.8 L1808.3,545.7 L1809.5,544.7 L1810.7,541.3 L1811.9,537.3 L1813.1,534.0 L1814.3,531.4 L1815.5,527.1 L1816.7,524.4 L1817.9,523.3 L1819.1,522.7 L1820.3,521.3 L1821.5,519.7 L1822.7,519.2 L1824.0,517.7 L1825.2,518.4 L1826.4,516.4 L1827.6,516.6 L1828.8,515.0 L1830.0,515.9 L1831.2,515.8 L1832.4,516.8 L1833.6,517.3 L1834.8,518.1 L1836.0,516.8 L1837.2,514.9 L1838.4,511.8 L1839.6,510.2 L1840.8,507.3 L1842.0,504.2 L1843.3,502.1 L1844.5,501.0 L1845.7,499.7 L1846.9,499.3 L1848.1,498.8 L1849.3,499.7 L1850.5,498.5 L1851.7,498.5 L1852.9,497.7 L1854.1,499.3 L1855.3,499.6 L1856.5,500.3 L1857.7,498.5 L1858.9,497.9 L1860.1,496.7 L1861.3,497.1 L1862.6,496.1 L1863.8,495.9 L1865.0,493.5 L1866.2,492.1 L1867.4,489.6 L1868.6,488.8 L1869.8,487.8 L1871.0,487.2 L1872.2,488.5 L1873.4,490.7 L1874.6,492.5 L1875.8,492.4 L1877.0,493.6 L1878.2,496.6 L1879.4,500.0 L1880.6,503.3 L1881.9,505.1 L1883.1,507.1 L1884.3,509.8 L1885.5,512.1 L1886.7,514.9 L1887.9,515.3 L1889.1,515.7 L1890.3,517.1 L1891.5,519.8 L1892.7,523.0 L1893.9,523.7 L1895.1,524.5 L1896.3,523.9 L1897.5,525.0 L1898.7,525.2 L1899.9,526.2 L1901.2,526.1 L1902.4,525.5 L1903.6,524.9 L1904.8,524.2 L1906.0,523.9 L1907.2,524.1 L1908.4,523.1 L1909.6,521.6 L1910.8,519.2 L1912.0,517.5 L1913.2,516.7 L1914.4,515.8 L1915.6,517.3 L1916.8,516.7 L1918.0,517.6 L1919.3,517.9 L1920.5,518.8 L1921.7,519.0 L1922.9,518.3 L1924.1,519.0 L1925.3,519.6 L1926.5,519.7 L1927.7,520.4 L1928.9,520.7 L1930.1,521.6 L1931.3,522.8 L1932.5,525.4 L1933.7,528.1 L1934.9,528.9 L1936.1,529.8 L1937.3,529.4 L1937.3,548.1 L1936.1,547.7 L1934.9,546.8 L1933.7,547.0 L1932.5,545.2 L1931.3,543.8 L1930.1,542.1 L1928.9,540.1 L1927.7,537.9 L1926.5,537.3 L1925.3,538.6 L1924.1,538.6 L1922.9,538.6 L1921.7,538.2 L1920.5,539.3 L1919.3,538.6 L1918.0,538.0 L1916.8,536.4 L1915.6,536.8 L1914.4,536.4 L1913.2,536.4 L1912.0,536.1 L1910.8,536.7 L1909.6,539.7 L1908.4,542.2 L1907.2,543.1 L1906.0,542.5 L1904.8,542.7 L1903.6,543.5 L1902.4,543.9 L1901.2,543.6 L1899.9,544.1 L1898.7,543.9 L1897.5,544.5 L1896.3,544.2 L1895.1,544.8 L1893.9,544.0 L1892.7,542.5 L1891.5,540.8 L1890.3,537.6 L1889.1,536.2 L1887.9,534.1 L1886.7,532.8 L1885.5,530.0 L1884.3,527.8 L1883.1,526.4 L1881.9,524.9 L1880.6,523.1 L1879.4,519.4 L1878.2,516.3 L1877.0,513.5 L1875.8,511.8 L1874.6,510.0 L1873.4,508.9 L1872.2,507.6 L1871.0,507.9 L1869.8,508.3 L1868.6,509.7 L1867.4,510.2 L1866.2,510.4 L1865.0,511.1 L1863.8,512.5 L1862.6,514.3 L1861.3,515.7 L1860.1,515.6 L1858.9,515.9 L1857.7,516.7 L1856.5,517.1 L1855.3,517.8 L1854.1,516.4 L1852.9,517.5 L1851.7,515.9 L1850.5,516.4 L1849.3,514.9 L1848.1,516.5 L1846.9,517.2 L1845.7,519.0 L1844.5,518.9 L1843.3,519.9 L1842.0,520.8 L1840.8,524.7 L1839.6,527.2 L1838.4,531.3 L1837.2,532.8 L1836.0,533.9 L1834.8,533.1 L1833.6,532.4 L1832.4,532.2 L1831.2,532.2 L1830.0,532.2 L1828.8,532.6 L1827.6,533.7 L1826.4,534.6 L1825.2,535.9 L1824.0,535.7 L1822.7,536.6 L1821.5,537.3 L1820.3,538.0 L1819.1,539.7 L1817.9,539.8 L1816.7,540.8 L1815.5,542.3 L1814.3,545.6 L1813.1,549.0 L1811.9,552.4 L1810.7,555.7 L1809.5,557.9 L1808.3,559.0 L1807.1,560.4 L1805.9,562.4 L1804.7,563.9 L1803.4,564.3 L1802.2,563.9 L1801.0,563.9 L1799.8,564.2 L1798.6,563.8 L1797.4,563.1 L1796.2,562.3 L1795.0,561.7 L1793.8,560.5 L1792.6,559.7 L1791.4,559.5 L1790.2,559.8 L1789.0,560.1 L1787.8,560.9 L1786.6,561.6 L1785.4,563.4 L1784.1,564.3 L1782.9,566.3 L1781.7,567.9 L1780.5,568.2 L1779.3,568.5 L1778.1,567.6 L1776.9,566.8 L1775.7,564.5 L1774.5,564.0 L1773.3,563.0 L1772.1,563.5 L1770.9,561.7 L1769.7,561.2 L1768.5,560.1 L1767.3,559.9 L1766.0,560.1 L1764.8,559.2 L1763.6,556.5 L1762.4,554.4 L1761.2,552.4 L1760.0,550.9 L1758.8,550.2 L1757.6,549.9 L1756.4,549.9 L1755.2,549.0 L1754.0,547.7 L1752.8,546.5 L1751.6,545.3 L1750.4,543.6 L1749.2,543.3 L1748.0,542.6 L1746.7,544.3 L1745.5,544.6 L1744.3,546.5 L1743.1,547.1 L1741.9,548.9 L1740.7,549.5 L1739.5,549.2 L1738.3,548.3 L1737.1,548.7 L1735.9,549.6 L1734.7,551.2 L1733.5,550.7 L1732.3,550.3 L1731.1,550.1 L1729.9,550.4 L1728.7,551.4 L1727.4,551.6 L1726.2,552.3 L1725.0,551.1Z" fill="#a0a3cb"/><path d="M1725.0,541.7 L1726.2,541.7 L1727.4,541.4 L1728.7,540.6 L1729.9,541.2 L1731.1,541.7 L1732.3,541.7 L1733.5,541.4 L1734.7,541.6 L1735.9,541.4 L1737.1,540.2 L1738.3,539.0 L1739.5,538.2 L1740.7,538.7 L1741.9,538.2 L1743.1,537.5 L1744.3,536.4 L1745.5,535.8 L1746.7,535.6 L1748.0,534.2 L1749.2,533.6 L1750.4,533.6 L1751.6,534.6 L1752.8,535.2 L1754.0,535.3 L1755.2,535.7 L1756.4,536.3 L1757.6,536.9 L1758.8,538.2 L1760.0,539.8 L1761.2,542.2 L1762.4,543.4 L1763.6,545.7 L1764.8,548.0 L1766.0,550.7 L1767.3,550.8 L1768.5,551.8 L1769.7,552.7 L1770.9,554.4 L1772.1,554.9 L1773.3,555.2 L1774.5,555.8 L1775.7,556.6 L1776.9,556.9 L1778.1,557.3 L1779.3,558.3 L1780.5,559.1 L1781.7,560.1 L1782.9,559.9 L1784.1,558.7 L1785.4,556.6 L1786.6,554.4 L1787.8,553.1 L1789.0,551.4 L1790.2,550.8 L1791.4,550.1 L1792.6,550.4 L1793.8,550.7 L1795.0,551.9 L1796.2,552.9 L1797.4,554.0 L1798.6,554.1 L1799.8,555.0 L1801.0,556.0 L1802.2,557.5 L1803.4,557.9 L1804.7,556.9 L1805.9,555.4 L1807.1,553.0 L1808.3,552.3 L1809.5,551.0 L1810.7,548.8 L1811.9,544.1 L1813.1,541.1 L1814.3,537.8 L1815.5,535.3 L1816.7,532.8 L1817.9,531.5 L1819.1,531.1 L1820.3,529.6 L1821.5,528.8 L1822.7,527.5 L1824.0,526.9 L1825.2,527.2 L1826.4,525.8 L1827.6,525.7 L1828.8,525.0 L1830.0,525.0 L1831.2,523.9 L1832.4,524.0 L1833.6,523.9 L1834.8,524.3 L1836.0,523.3 L1837.2,522.8 L1838.4,521.4 L1839.6,519.3 L1840.8,516.5 L1842.0,513.4 L1843.3,511.7 L1844.5,511.0 L1845.7,510.2 L1846.9,509.7 L1848.1,509.2 L1849.3,508.2 L1850.5,508.2 L1851.7,507.5 L1852.9,507.6 L1854.1,507.6 L1855.3,507.5 L1856.5,508.3 L1857.7,508.2 L1858.9,508.5 L1860.1,507.0 L1861.3,505.7 L1862.6,504.1 L1863.8,503.3 L1865.0,502.2 L1866.2,500.8 L1867.4,499.1 L1868.6,497.7 L1869.8,497.8 L1871.0,498.1 L1872.2,498.4 L1873.4,498.7 L1874.6,499.8 L1875.8,501.3 L1877.0,504.5 L1878.2,507.6 L1879.4,511.7 L1880.6,514.9 L1881.9,517.0 L1883.1,518.0 L1884.3,519.9 L1885.5,521.6 L1886.7,523.3 L1887.9,524.2 L1889.1,525.0 L1890.3,526.9 L1891.5,528.3 L1892.7,531.2 L1893.9,533.0 L1895.1,533.7 L1896.3,533.4 L1897.5,533.8 L1898.7,534.7 L1899.9,535.2 L1901.2,534.9 L1902.4,534.4 L1903.6,534.0 L1904.8,533.1 L1906.0,532.3 L1907.2,531.6 L1908.4,530.8 L1909.6,529.6 L1910.8,528.0 L1912.0,526.9 L1913.2,526.3 L1914.4,527.0 L1915.6,527.7 L1916.8,528.6 L1918.0,528.7 L1919.3,529.3 L1920.5,529.3 L1921.7,528.5 L1922.9,527.8 L1924.1,527.1 L1925.3,527.9 L1926.5,528.2 L1927.7,529.2 L1928.9,529.6 L1930.1,531.7 L1931.3,533.0 L1932.5,534.6 L1933.7,535.5 L1934.9,536.9 L1936.1,538.0 L1937.3,539.0" fill="none" stroke="#2e57a7" stroke-width="2.8" stroke-linejoin="round" stroke-linecap="round"/><path d="M1725.0,535.1 L1726.2,535.7 L1727.4,536.4 L1728.7,535.3 L1729.9,535.8 L1731.1,536.7 L1732.3,537.2 L1733.5,536.7 L1734.7,535.6 L1735.9,537.1 L1737.1,537.4 L1738.3,538.1 L1739.5,538.9 L1740.7,540.5 L1741.9,541.4 L1743.1,539.9 L1744.3,539.3 L1745.5,537.8 L1746.7,537.4 L1748.0,535.8 L1749.2,535.4 L1750.4,535.5 L1751.6,534.9 L1752.8,534.5 L1754.0,533.1 L1755.2,532.4 L1756.4,532.9 L1757.6,534.3 L1758.8,535.8 L1760.0,535.9 L1761.2,534.9 L1762.4,534.9 L1763.6,535.4 L1764.8,534.9 L1766.0,533.5 L1767.3,532.1 L1768.5,532.5 L1769.7,532.1 L1770.9,531.7 L1772.1,530.4 L1773.3,530.2 L1774.5,529.6 L1775.7,528.6 L1776.9,528.7 L1778.1,528.6 L1779.3,530.5 L1780.5,530.8 L1781.7,531.9 L1782.9,531.6 L1784.1,531.8 L1785.4,531.3 L1786.6,530.9 L1787.8,529.9 L1789.0,528.0 L1790.2,526.8 L1791.4,525.3 L1792.6,525.2 L1793.8,523.4 L1795.0,522.0 L1796.2,519.3 L1797.4,517.3 L1798.6,515.2 L1799.8,513.0 L1801.0,512.0 L1802.2,512.2 L1803.4,512.9 L1804.7,513.1 L1805.9,513.7 L1807.1,515.2 L1808.3,514.7 L1809.5,514.1 L1810.7,509.7 L1811.9,505.5 L1813.1,500.8 L1814.3,498.1 L1815.5,497.8 L1816.7,497.7 L1817.9,498.8 L1819.1,499.9 L1820.3,501.6 L1821.5,502.3 L1822.7,504.0 L1824.0,505.5 L1825.2,507.5 L1826.4,506.0 L1827.6,503.7 L1828.8,499.6 L1830.0,496.6 L1831.2,494.4 L1832.4,493.4 L1833.6,492.1 L1834.8,489.4 L1836.0,486.8 L1837.2,486.0 L1838.4,485.2 L1839.6,484.7 L1840.8,483.2 L1842.0,481.9 L1843.3,480.9 L1844.5,479.0 L1845.7,479.0 L1846.9,478.6 L1848.1,479.5 L1849.3,479.4 L1850.5,478.6 L1851.7,477.7 L1852.9,476.8 L1854.1,477.2 L1855.3,477.7 L1856.5,479.0 L1857.7,482.7 L1858.9,485.2 L1860.1,485.6 L1861.3,484.3 L1862.6,483.8 L1863.8,482.6 L1865.0,480.2 L1866.2,475.5 L1867.4,470.2 L1868.6,466.5 L1869.8,463.6 L1871.0,462.5 L1872.2,462.7 L1873.4,464.2 L1874.6,466.4 L1875.8,473.3 L1877.0,480.7 L1878.2,483.9 L1879.4,487.0 L1880.6,489.8 L1881.9,492.2 L1883.1,495.4 L1884.3,496.0 L1885.5,497.4 L1886.7,498.2 L1887.9,501.3 L1889.1,504.0 L1890.3,505.0 L1891.5,505.8 L1892.7,505.3 L1893.9,507.2 L1895.1,507.5 L1896.3,508.9 L1897.5,510.4 L1898.7,512.9 L1899.9,517.0 L1901.2,520.7 L1902.4,523.8 L1903.6,526.2 L1904.8,528.7 L1906.0,530.4 L1907.2,530.4 L1908.4,529.1 L1909.6,529.4 L1910.8,529.0 L1912.0,529.2 L1913.2,528.6 L1914.4,529.0 L1915.6,528.7 L1916.8,529.8 L1918.0,530.0 L1919.3,529.6 L1920.5,528.5 L1921.7,526.9 L1922.9,526.1 L1924.1,526.3 L1925.3,526.0 L1926.5,526.2 L1927.7,525.1 L1928.9,525.4 L1930.1,525.6 L1931.3,526.3 L1932.5,528.5 L1933.7,529.6 L1934.9,531.3 L1936.1,530.9 L1937.3,532.5 L1937.3,552.2 L1936.1,552.4 L1934.9,550.1 L1933.7,548.6 L1932.5,546.9 L1931.3,546.5 L1930.1,546.3 L1928.9,545.8 L1927.7,545.1 L1926.5,544.9 L1925.3,546.0 L1924.1,547.3 L1922.9,547.0 L1921.7,547.6 L1920.5,547.1 L1919.3,547.4 L1918.0,547.7 L1916.8,547.8 L1915.6,548.3 L1914.4,547.5 L1913.2,548.8 L1912.0,549.9 L1910.8,550.5 L1909.6,551.6 L1908.4,552.5 L1907.2,553.9 L1906.0,553.2 L1904.8,552.2 L1903.6,550.4 L1902.4,549.1 L1901.2,546.8 L1899.9,543.6 L1898.7,539.9 L1897.5,537.1 L1896.3,535.9 L1895.1,534.9 L1893.9,533.3 L1892.7,530.7 L1891.5,528.5 L1890.3,527.5 L1889.1,526.1 L1887.9,525.2 L1886.7,522.3 L1885.5,521.3 L1884.3,518.8 L1883.1,518.5 L1881.9,516.6 L1880.6,513.9 L1879.4,509.7 L1878.2,506.0 L1877.0,504.6 L1875.8,498.7 L1874.6,494.2 L1873.4,492.0 L1872.2,492.1 L1871.0,491.1 L1869.8,490.4 L1868.6,492.1 L1867.4,495.0 L1866.2,499.6 L1865.0,502.1 L1863.8,504.0 L1862.6,505.4 L1861.3,507.2 L1860.1,508.1 L1858.9,508.7 L1857.7,506.7 L1856.5,503.8 L1855.3,501.7 L1854.1,502.0 L1852.9,501.7 L1851.7,502.7 L1850.5,502.1 L1849.3,502.9 L1848.1,502.5 L1846.9,501.5 L1845.7,501.4 L1844.5,501.5 L1843.3,503.7 L1842.0,505.3 L1840.8,507.0 L1839.6,507.4 L1838.4,507.6 L1837.2,509.6 L1836.0,511.1 L1834.8,513.0 L1833.6,513.4 L1832.4,515.1 L1831.2,517.4 L1830.0,520.7 L1828.8,522.4 L1827.6,524.5 L1826.4,525.3 L1825.2,526.4 L1824.0,524.0 L1822.7,522.7 L1821.5,521.5 L1820.3,521.6 L1819.1,519.7 L1817.9,517.4 L1816.7,516.6 L1815.5,516.9 L1814.3,518.2 L1813.1,520.2 L1811.9,523.2 L1810.7,528.0 L1809.5,531.0 L1808.3,532.6 L1807.1,531.0 L1805.9,529.5 L1804.7,528.5 L1803.4,528.5 L1802.2,529.0 L1801.0,530.3 L1799.8,533.2 L1798.6,535.5 L1797.4,536.3 L1796.2,536.4 L1795.0,536.8 L1793.8,537.3 L1792.6,538.5 L1791.4,540.1 L1790.2,541.9 L1789.0,542.6 L1787.8,542.6 L1786.6,543.5 L1785.4,545.3 L1784.1,546.2 L1782.9,546.6 L1781.7,545.0 L1780.5,544.7 L1779.3,542.5 L1778.1,542.7 L1776.9,541.7 L1775.7,542.3 L1774.5,541.5 L1773.3,541.7 L1772.1,542.8 L1770.9,543.3 L1769.7,544.3 L1768.5,543.9 L1767.3,545.6 L1766.0,547.3 L1764.8,548.5 L1763.6,548.1 L1762.4,547.7 L1761.2,548.2 L1760.0,549.1 L1758.8,548.6 L1757.6,547.9 L1756.4,546.6 L1755.2,546.2 L1754.0,545.7 L1752.8,546.0 L1751.6,546.5 L1750.4,547.1 L1749.2,547.2 L1748.0,547.7 L1746.7,547.9 L1745.5,549.1 L1744.3,551.0 L1743.1,553.3 L1741.9,554.6 L1740.7,553.6 L1739.5,553.0 L1738.3,552.4 L1737.1,552.2 L1735.9,551.9 L1734.7,551.3 L1733.5,550.3 L1732.3,548.4 L1731.1,547.6 L1729.9,548.8 L1728.7,549.6 L1727.4,550.1 L1726.2,549.3 L1725.0,549.4Z" fill="#eca2a7"/><path d="M1725.0,542.8 L1726.2,542.6 L1727.4,542.8 L1728.7,542.7 L1729.9,543.0 L1731.1,542.8 L1732.3,542.6 L1733.5,542.8 L1734.7,543.1 L1735.9,544.4 L1737.1,545.0 L1738.3,545.2 L1739.5,546.2 L1740.7,546.5 L1741.9,546.6 L1743.1,545.4 L1744.3,545.5 L1745.5,544.6 L1746.7,543.3 L1748.0,542.1 L1749.2,541.4 L1750.4,541.5 L1751.6,540.3 L1752.8,540.6 L1754.0,540.7 L1755.2,541.3 L1756.4,541.0 L1757.6,540.3 L1758.8,540.9 L1760.0,541.2 L1761.2,542.2 L1762.4,541.6 L1763.6,541.1 L1764.8,540.3 L1766.0,540.2 L1767.3,540.4 L1768.5,539.1 L1769.7,537.8 L1770.9,536.5 L1772.1,536.6 L1773.3,535.4 L1774.5,535.1 L1775.7,534.5 L1776.9,535.7 L1778.1,536.4 L1779.3,537.0 L1780.5,537.5 L1781.7,538.0 L1782.9,537.8 L1784.1,537.3 L1785.4,536.3 L1786.6,535.8 L1787.8,534.8 L1789.0,533.9 L1790.2,533.1 L1791.4,532.8 L1792.6,531.9 L1793.8,531.4 L1795.0,529.2 L1796.2,527.9 L1797.4,526.4 L1798.6,525.9 L1799.8,523.7 L1801.0,521.0 L1802.2,519.9 L1803.4,520.2 L1804.7,521.8 L1805.9,523.2 L1807.1,523.8 L1808.3,523.8 L1809.5,521.8 L1810.7,519.2 L1811.9,515.5 L1813.1,512.0 L1814.3,509.4 L1815.5,507.5 L1816.7,507.3 L1817.9,507.8 L1819.1,509.1 L1820.3,510.6 L1821.5,511.1 L1822.7,512.2 L1824.0,514.1 L1825.2,515.1 L1826.4,514.8 L1827.6,512.6 L1828.8,510.9 L1830.0,508.2 L1831.2,506.1 L1832.4,504.7 L1833.6,503.7 L1834.8,502.2 L1836.0,499.6 L1837.2,497.8 L1838.4,496.9 L1839.6,496.1 L1840.8,494.7 L1842.0,492.8 L1843.3,492.1 L1844.5,491.5 L1845.7,491.5 L1846.9,490.4 L1848.1,490.4 L1849.3,489.7 L1850.5,489.9 L1851.7,490.1 L1852.9,490.2 L1854.1,490.4 L1855.3,490.4 L1856.5,491.5 L1857.7,494.0 L1858.9,496.5 L1860.1,496.3 L1861.3,495.8 L1862.6,493.6 L1863.8,491.9 L1865.0,490.0 L1866.2,486.2 L1867.4,482.0 L1868.6,478.2 L1869.8,476.8 L1871.0,476.2 L1872.2,477.4 L1873.4,478.9 L1874.6,481.1 L1875.8,486.7 L1877.0,492.2 L1878.2,495.6 L1879.4,498.9 L1880.6,501.6 L1881.9,503.6 L1883.1,505.1 L1884.3,507.3 L1885.5,509.1 L1886.7,512.0 L1887.9,514.1 L1889.1,515.5 L1890.3,515.8 L1891.5,516.4 L1892.7,517.7 L1893.9,519.6 L1895.1,520.6 L1896.3,522.4 L1897.5,523.9 L1898.7,527.1 L1899.9,530.8 L1901.2,534.0 L1902.4,537.1 L1903.6,538.7 L1904.8,541.0 L1906.0,542.5 L1907.2,542.6 L1908.4,542.4 L1909.6,542.0 L1910.8,541.5 L1912.0,540.7 L1913.2,540.4 L1914.4,540.6 L1915.6,540.1 L1916.8,539.6 L1918.0,538.4 L1919.3,538.0 L1920.5,537.3 L1921.7,537.1 L1922.9,536.4 L1924.1,536.1 L1925.3,536.2 L1926.5,536.7 L1927.7,536.0 L1928.9,535.5 L1930.1,535.1 L1931.3,536.4 L1932.5,537.3 L1933.7,538.5 L1934.9,539.4 L1936.1,540.6 L1937.3,541.6" fill="none" stroke="#e91c2e" stroke-width="2.8" stroke-linejoin="round" stroke-linecap="round"/></g>
<rect x="1803.30" y="404.30" width="60.50" height="21.90" fill="#17a3db"/>
<line x1="1725.00" y1="401.70" x2="1725.00" y2="618.50" stroke="#231f20" stroke-width="1.7"/>
<line x1="1724.20" y1="617.70" x2="1937.30" y2="617.70" stroke="#231f20" stroke-width="1.8"/>
<line x1="1719.80" y1="415.00" x2="1725.00" y2="415.00" stroke="#231f20" stroke-width="1.6"/>
<line x1="1719.80" y1="542.60" x2="1725.00" y2="542.60" stroke="#231f20" stroke-width="1.6"/>
<line x1="1769.00" y1="617.70" x2="1769.00" y2="622.50" stroke="#231f20" stroke-width="1.6"/>
<line x1="1863.40" y1="617.70" x2="1863.40" y2="622.50" stroke="#231f20" stroke-width="1.6"/>
<text x="1703.40" y="423.50" font-size="22.5" fill="#231f20">2</text>
<text x="1703.06" y="551.10" font-size="22.5" fill="#231f20">1</text>
<text x="1748.88" y="643.00" font-size="22.5" fill="#231f20">−2</text>
<text x="1856.80" y="643.00" font-size="22.5" fill="#231f20">0</text>
<text x="0.26" y="794.50" font-size="43.5" font-weight="bold" fill="#231f20">c</text>
<text x="48.02" y="790.80" font-size="29.7" fill="#231f20">SC photoinhibition</text>
<text x="101.22" y="826.20" font-size="29.7" fill="#231f20">SC record</text>
<text x="27.28" y="862.20" font-size="29.7" fill="#231f20">Opposite hemisphere</text>
<text x="14.63" y="907.80" font-size="22.3" fill="#231f20">Vglut2-ires-cre x GtACR1 mice</text>
<ellipse cx="165.60" cy="1018.40" rx="57.85" ry="51.30" fill="#fff" stroke="#231f20" stroke-width="3.4"/>
<ellipse cx="167.25" cy="1174.30" rx="57.95" ry="51.25" fill="#fff" stroke="#231f20" stroke-width="3.4"/>
<line x1="158.20" y1="1069.90" x2="158.20" y2="1111.30" stroke="#231f20" stroke-width="3.8"/>
<line x1="145.90" y1="1111.30" x2="170.30" y2="1111.30" stroke="#231f20" stroke-width="3.8"/>
<line x1="178.90" y1="1079.40" x2="178.90" y2="1123.40" stroke="#231f20" stroke-width="3.8"/>
<line x1="166.60" y1="1079.40" x2="191.40" y2="1079.40" stroke="#231f20" stroke-width="3.8"/>
<circle cx="132.00" cy="1016.80" r="17.50" fill="#ea2836" stroke="none" stroke-width="0"/>
<circle cx="158.70" cy="1044.30" r="17.40" fill="#ea2836" stroke="none" stroke-width="0"/>
<circle cx="165.00" cy="985.80" r="9.80" fill="#2c4597" stroke="none" stroke-width="0"/>
<circle cx="193.30" cy="1014.60" r="9.80" fill="#2c4597" stroke="none" stroke-width="0"/>
<circle cx="168.20" cy="1148.50" r="17.30" fill="#2c4597" stroke="none" stroke-width="0"/>
<circle cx="195.10" cy="1176.30" r="17.50" fill="#2c4597" stroke="none" stroke-width="0"/>
<circle cx="134.90" cy="1177.50" r="10.00" fill="#ea2836" stroke="none" stroke-width="0"/>
<circle cx="163.00" cy="1206.40" r="10.00" fill="#ea2836" stroke="none" stroke-width="0"/>
<polygon points="98.10,937.20 114.10,954.40 110.50,959.30 128.80,973.30 125.30,976.70 149.00,1002.40 113.50,987.60 118.10,982.20 96.20,972.30 101.50,966.40 77.80,955.20" fill="#22a3d7" stroke="none" stroke-width="0"/>
<polygon points="86.07,1088.65 121.75,1143.54 140.60,1158.10 135.70,1136.70 134.55,1133.25 99.45,1080.08" fill="#fff" stroke="none" stroke-width="0"/>
<path d="M86.07,1088.65 L121.75,1143.54 L140.60,1158.10 L135.70,1136.70 L134.55,1133.25 L99.45,1080.08" fill="none" stroke="#231f20" stroke-width="1.3" stroke-linejoin="miter"/>
<circle cx="98.00" cy="1092.40" r="3.80" fill="#231f20" stroke="none" stroke-width="0"/>
<circle cx="105.40" cy="1104.10" r="3.80" fill="#231f20" stroke="none" stroke-width="0"/>
<circle cx="113.20" cy="1115.50" r="3.80" fill="#231f20" stroke="none" stroke-width="0"/>
<circle cx="120.60" cy="1127.20" r="3.80" fill="#231f20" stroke="none" stroke-width="0"/>
<circle cx="128.30" cy="1138.70" r="3.80" fill="#231f20" stroke="none" stroke-width="0"/>
<text x="148.01" y="959.20" font-size="29.7" fill="#231f20">SC</text>
<circle cx="26.40" cy="1282.90" r="13.70" fill="#1b51a3" stroke="none" stroke-width="0"/>
<circle cx="26.40" cy="1328.20" r="13.70" fill="#ea2836" stroke="none" stroke-width="0"/>
<text x="56.38" y="1291.65" font-size="22.3" xml:space="preserve"><tspan fill="#2054a5">Contra-preferring</tspan><tspan fill="#231f20"> neurons</tspan></text>
<text x="55.79" y="1333.00" font-size="22.3" xml:space="preserve"><tspan fill="#e8212f">Ipsi-preferring</tspan><tspan fill="#231f20"> neurons</tspan></text>
<text x="397.62" y="791.10" font-size="29.7" fill="#231f20">Contra-Preferring SC neurons</text>
<text x="397.03" y="1098.40" font-size="29.7" fill="#231f20">Ipsi-preferring SC neurons</text>
<text transform="translate(357.00,1223.60) rotate(-90)" x="-106.50" y="0" font-size="22.3" fill="#231f20">Normalized firing rate</text>
<text x="405.15" y="1391.70" font-size="22.3" fill="#231f20">Time from go cue (s)</text>
<line x1="419.80" y1="1036.30" x2="419.80" y2="841.80" stroke="#1e1e1e" stroke-width="1.3" stroke-dasharray="2.6 1.9"/>
<line x1="479.80" y1="1036.30" x2="479.80" y2="841.80" stroke="#1e1e1e" stroke-width="1.3" stroke-dasharray="2.6 1.9"/>
<line x1="540.50" y1="1036.30" x2="540.50" y2="841.80" stroke="#1e1e1e" stroke-width="1.3" stroke-dasharray="2.6 1.9"/>
<line x1="401.10" y1="934.90" x2="615.60" y2="934.90" stroke="#1e1e1e" stroke-width="1.3" stroke-dasharray="2.4 2.3"/>
<g clip-path="url(#c9)"><path d="M401.1,922.3 L402.3,922.6 L403.5,924.3 L404.7,925.6 L405.9,926.1 L407.1,926.4 L408.3,926.7 L409.6,926.9 L410.8,926.3 L412.0,927.0 L413.2,928.1 L414.4,929.0 L415.6,929.9 L416.8,931.9 L418.0,935.0 L419.2,935.6 L420.4,934.2 L421.6,930.0 L422.8,926.0 L424.0,921.1 L425.2,919.3 L426.4,919.3 L427.6,923.0 L428.8,925.9 L430.0,928.8 L431.2,931.0 L432.4,936.8 L433.6,941.8 L434.9,945.9 L436.1,947.6 L437.3,950.3 L438.5,953.2 L439.7,954.9 L440.9,955.7 L442.1,956.0 L443.3,954.6 L444.5,951.3 L445.7,947.8 L446.9,944.5 L448.1,943.4 L449.3,941.7 L450.5,941.8 L451.7,941.0 L452.9,941.4 L454.1,942.1 L455.3,944.1 L456.5,946.0 L457.7,947.4 L458.9,947.5 L460.2,947.9 L461.4,947.6 L462.6,947.1 L463.8,946.1 L465.0,945.8 L466.2,945.3 L467.4,943.4 L468.6,941.1 L469.8,939.0 L471.0,936.5 L472.2,932.4 L473.4,928.1 L474.6,924.1 L475.8,917.1 L477.0,909.1 L478.2,902.9 L479.4,900.4 L480.6,897.5 L481.8,895.6 L483.0,896.4 L484.3,900.8 L485.5,906.4 L486.7,912.2 L487.9,915.8 L489.1,920.1 L490.3,923.5 L491.5,927.2 L492.7,929.6 L493.9,931.1 L495.1,932.0 L496.3,931.5 L497.5,930.9 L498.7,931.5 L499.9,932.6 L501.1,932.7 L502.3,932.5 L503.5,932.9 L504.7,934.7 L505.9,936.2 L507.1,935.5 L508.3,935.2 L509.6,934.0 L510.8,932.5 L512.0,931.2 L513.2,929.3 L514.4,929.3 L515.6,928.8 L516.8,927.7 L518.0,927.3 L519.2,926.0 L520.4,925.3 L521.6,922.6 L522.8,920.9 L524.0,917.6 L525.2,914.6 L526.4,909.5 L527.6,905.8 L528.8,902.5 L530.0,900.9 L531.2,900.3 L532.4,900.3 L533.6,901.7 L534.9,904.0 L536.1,907.0 L537.3,906.5 L538.5,898.7 L539.7,885.9 L540.9,859.2 L542.1,829.7 L543.3,813.7 L544.5,797.7 L545.7,783.9 L546.9,782.7 L548.1,781.9 L549.3,781.7 L550.5,780.8 L551.7,779.5 L552.9,778.8 L554.1,779.7 L555.3,780.0 L556.5,781.5 L557.7,780.1 L558.9,781.3 L560.2,781.2 L561.4,783.2 L562.6,782.9 L563.8,786.7 L565.0,798.0 L566.2,811.9 L567.4,821.4 L568.6,828.2 L569.8,836.4 L571.0,844.2 L572.2,851.6 L573.4,864.9 L574.6,880.9 L575.8,892.6 L577.0,901.6 L578.2,911.1 L579.4,920.2 L580.6,925.6 L581.8,930.2 L583.0,934.6 L584.2,936.8 L585.5,939.0 L586.7,939.5 L587.9,941.4 L589.1,942.2 L590.3,943.4 L591.5,942.6 L592.7,941.9 L593.9,941.0 L595.1,941.3 L596.3,940.4 L597.5,938.9 L598.7,937.5 L599.9,937.7 L601.1,938.4 L602.3,939.3 L603.5,940.7 L604.7,942.4 L605.9,943.9 L607.1,944.3 L608.3,944.0 L609.5,943.8 L610.8,944.4 L612.0,945.9 L613.2,947.2 L614.4,947.7 L615.6,947.7 L615.6,959.3 L614.4,959.2 L613.2,958.4 L612.0,958.2 L610.8,959.1 L609.5,958.4 L608.3,958.6 L607.1,957.8 L605.9,957.4 L604.7,956.6 L603.5,955.5 L602.3,954.4 L601.1,953.2 L599.9,952.9 L598.7,953.2 L597.5,954.3 L596.3,955.8 L595.1,956.5 L593.9,956.5 L592.7,957.1 L591.5,958.0 L590.3,959.0 L589.1,956.9 L587.9,956.7 L586.7,954.3 L585.5,954.1 L584.2,950.6 L583.0,948.3 L581.8,944.4 L580.6,941.5 L579.4,936.0 L578.2,926.8 L577.0,915.7 L575.8,907.1 L574.6,896.3 L573.4,881.1 L572.2,868.4 L571.0,860.4 L569.8,854.6 L568.6,847.2 L567.4,842.1 L566.2,832.9 L565.0,819.4 L563.8,807.4 L562.6,802.7 L561.4,803.0 L560.2,801.9 L558.9,800.9 L557.7,799.3 L556.5,798.9 L555.3,798.9 L554.1,800.0 L552.9,799.9 L551.7,800.0 L550.5,800.2 L549.3,800.0 L548.1,801.6 L546.9,801.4 L545.7,803.1 L544.5,815.5 L543.3,833.5 L542.1,850.8 L540.9,882.5 L539.7,909.1 L538.5,922.3 L537.3,931.3 L536.1,933.4 L534.9,930.8 L533.6,928.0 L532.4,927.5 L531.2,926.4 L530.0,926.2 L528.8,925.7 L527.6,928.3 L526.4,932.4 L525.2,937.1 L524.0,940.8 L522.8,941.7 L521.6,942.5 L520.4,942.4 L519.2,943.6 L518.0,943.9 L516.8,944.5 L515.6,946.4 L514.4,946.7 L513.2,948.5 L512.0,949.4 L510.8,951.0 L509.6,951.2 L508.3,951.4 L507.1,951.3 L505.9,952.3 L504.7,951.4 L503.5,951.5 L502.3,949.3 L501.1,949.4 L499.9,948.0 L498.7,948.0 L497.5,948.0 L496.3,949.3 L495.1,949.0 L493.9,948.4 L492.7,947.4 L491.5,946.6 L490.3,942.9 L489.1,938.1 L487.9,934.4 L486.7,930.9 L485.5,927.5 L484.3,923.4 L483.0,921.6 L481.8,920.6 L480.6,921.7 L479.4,921.8 L478.2,923.8 L477.0,927.5 L475.8,934.3 L474.6,940.6 L473.4,944.3 L472.2,948.0 L471.0,950.9 L469.8,954.4 L468.6,956.1 L467.4,957.4 L466.2,958.7 L465.0,961.1 L463.8,962.3 L462.6,962.0 L461.4,961.0 L460.2,961.4 L458.9,961.4 L457.7,960.2 L456.5,959.1 L455.3,958.4 L454.1,958.2 L452.9,956.8 L451.7,957.1 L450.5,957.9 L449.3,959.6 L448.1,959.7 L446.9,960.8 L445.7,962.9 L444.5,966.1 L443.3,968.1 L442.1,970.0 L440.9,970.5 L439.7,969.7 L438.5,968.6 L437.3,966.5 L436.1,966.1 L434.9,963.1 L433.6,960.1 L432.4,954.7 L431.2,950.4 L430.0,948.0 L428.8,946.4 L427.6,945.1 L426.4,942.7 L425.2,941.9 L424.0,943.2 L422.8,946.8 L421.6,950.6 L420.4,953.3 L419.2,953.3 L418.0,951.7 L416.8,950.4 L415.6,948.7 L414.4,949.1 L413.2,947.4 L412.0,947.4 L410.8,946.1 L409.6,947.2 L408.3,947.6 L407.1,946.9 L405.9,945.0 L404.7,943.1 L403.5,942.9 L402.3,942.1 L401.1,942.1Z" fill="#a0a3cb"/><path d="M401.1,931.8 L402.3,932.0 L403.5,933.6 L404.7,935.1 L405.9,935.8 L407.1,936.4 L408.3,936.9 L409.6,937.9 L410.8,938.5 L412.0,938.1 L413.2,938.8 L414.4,939.1 L415.6,940.2 L416.8,941.4 L418.0,943.3 L419.2,944.9 L420.4,943.8 L421.6,939.5 L422.8,934.7 L424.0,931.1 L425.2,931.3 L426.4,932.7 L427.6,935.8 L428.8,937.2 L430.0,938.7 L431.2,940.4 L432.4,945.7 L433.6,950.2 L434.9,954.1 L436.1,955.3 L437.3,957.0 L438.5,959.6 L439.7,961.9 L440.9,963.4 L442.1,963.2 L443.3,960.9 L444.5,957.2 L445.7,953.4 L446.9,950.6 L448.1,949.4 L449.3,948.7 L450.5,948.8 L451.7,948.7 L452.9,949.4 L454.1,950.0 L455.3,951.1 L456.5,951.3 L457.7,951.7 L458.9,952.9 L460.2,954.4 L461.4,955.4 L462.6,955.1 L463.8,954.3 L465.0,953.5 L466.2,952.0 L467.4,950.8 L468.6,948.8 L469.8,946.7 L471.0,942.6 L472.2,938.4 L473.4,935.2 L474.6,932.2 L475.8,926.1 L477.0,918.7 L478.2,914.3 L479.4,911.4 L480.6,909.2 L481.8,907.6 L483.0,908.4 L484.3,911.6 L485.5,916.6 L486.7,921.8 L487.9,925.3 L489.1,929.0 L490.3,933.8 L491.5,938.5 L492.7,939.8 L493.9,940.1 L495.1,939.8 L496.3,940.3 L497.5,940.1 L498.7,940.5 L499.9,940.4 L501.1,941.5 L502.3,942.1 L503.5,942.6 L504.7,943.1 L505.9,943.3 L507.1,943.6 L508.3,943.5 L509.6,943.5 L510.8,942.4 L512.0,940.5 L513.2,938.7 L514.4,938.2 L515.6,938.1 L516.8,936.5 L518.0,935.7 L519.2,934.4 L520.4,934.0 L521.6,932.9 L522.8,931.6 L524.0,929.2 L525.2,924.7 L526.4,919.9 L527.6,915.7 L528.8,913.8 L530.0,912.8 L531.2,913.0 L532.4,914.0 L533.6,914.8 L534.9,916.6 L536.1,918.0 L537.3,917.4 L538.5,909.9 L539.7,897.6 L540.9,871.3 L542.1,839.9 L543.3,823.5 L544.5,805.9 L545.7,793.4 L546.9,792.5 L548.1,792.4 L549.3,791.9 L550.5,791.0 L551.7,789.9 L552.9,788.8 L554.1,789.2 L555.3,790.0 L556.5,791.0 L557.7,791.2 L558.9,791.1 L560.2,790.7 L561.4,791.1 L562.6,791.5 L563.8,796.0 L565.0,808.4 L566.2,822.7 L567.4,832.7 L568.6,839.5 L569.8,847.6 L571.0,855.2 L572.2,861.6 L573.4,874.5 L574.6,888.8 L575.8,900.2 L577.0,907.8 L578.2,918.5 L579.4,928.5 L580.6,934.1 L581.8,937.8 L583.0,941.0 L584.2,943.4 L585.5,945.4 L586.7,947.1 L587.9,949.3 L589.1,950.4 L590.3,950.6 L591.5,950.3 L592.7,950.0 L593.9,949.5 L595.1,949.1 L596.3,948.4 L597.5,946.5 L598.7,944.7 L599.9,944.5 L601.1,945.8 L602.3,947.4 L603.5,948.6 L604.7,949.6 L605.9,951.0 L607.1,951.0 L608.3,951.5 L609.5,951.0 L610.8,951.7 L612.0,951.7 L613.2,952.1 L614.4,951.6 L615.6,951.8" fill="none" stroke="#2e57a7" stroke-width="2.8" stroke-linejoin="round" stroke-linecap="round"/><path d="M401.1,937.0 L402.3,937.6 L403.5,938.9 L404.7,939.1 L405.9,938.9 L407.1,939.7 L408.3,939.7 L409.6,940.0 L410.8,940.4 L412.0,942.0 L413.2,942.7 L414.4,942.2 L415.6,941.5 L416.8,942.8 L418.0,943.6 L419.2,943.9 L420.4,943.2 L421.6,939.4 L422.8,935.8 L424.0,931.5 L425.2,930.4 L426.4,930.5 L427.6,931.8 L428.8,933.3 L430.0,935.9 L431.2,940.0 L432.4,948.8 L433.6,956.0 L434.9,958.6 L436.1,960.1 L437.3,960.9 L438.5,962.4 L439.7,962.1 L440.9,962.3 L442.1,962.1 L443.3,962.4 L444.5,962.9 L445.7,964.1 L446.9,965.5 L448.1,966.2 L449.3,967.2 L450.5,967.8 L451.7,968.7 L452.9,968.2 L454.1,967.1 L455.3,966.9 L456.5,967.1 L457.7,968.3 L458.9,966.8 L460.2,967.3 L461.4,965.6 L462.6,966.4 L463.8,965.9 L465.0,966.2 L466.2,966.2 L467.4,966.1 L468.6,965.2 L469.8,964.6 L471.0,963.8 L472.2,963.7 L473.4,961.8 L474.6,959.7 L475.8,957.1 L477.0,954.8 L478.2,950.1 L479.4,945.4 L480.6,941.7 L481.8,938.8 L483.0,934.8 L484.3,930.6 L485.5,928.7 L486.7,931.5 L487.9,936.0 L489.1,943.0 L490.3,946.3 L491.5,951.0 L492.7,954.5 L493.9,957.7 L495.1,958.1 L496.3,958.1 L497.5,959.4 L498.7,959.9 L499.9,962.1 L501.1,962.3 L502.3,963.3 L503.5,962.7 L504.7,963.2 L505.9,964.3 L507.1,963.8 L508.3,963.5 L509.6,962.8 L510.8,963.4 L512.0,964.2 L513.2,963.9 L514.4,963.7 L515.6,962.8 L516.8,962.0 L518.0,961.0 L519.2,959.8 L520.4,959.0 L521.6,959.3 L522.8,959.4 L524.0,958.6 L525.2,957.6 L526.4,956.4 L527.6,956.4 L528.8,956.2 L530.0,956.6 L531.2,958.3 L532.4,959.7 L533.6,961.6 L534.9,961.2 L536.1,959.5 L537.3,951.1 L538.5,935.5 L539.7,923.3 L540.9,907.5 L542.1,889.1 L543.3,878.8 L544.5,863.0 L545.7,847.2 L546.9,834.6 L548.1,831.1 L549.3,836.1 L550.5,844.5 L551.7,852.1 L552.9,865.3 L554.1,877.5 L555.3,885.7 L556.5,897.2 L557.7,909.5 L558.9,917.0 L560.2,921.3 L561.4,925.3 L562.6,928.1 L563.8,930.5 L565.0,933.3 L566.2,936.6 L567.4,938.4 L568.6,940.9 L569.8,942.2 L571.0,945.6 L572.2,946.1 L573.4,948.2 L574.6,949.5 L575.8,950.8 L577.0,951.1 L578.2,950.3 L579.4,951.3 L580.6,952.6 L581.8,954.4 L583.0,954.0 L584.2,953.9 L585.5,953.3 L586.7,953.5 L587.9,953.2 L589.1,953.1 L590.3,954.2 L591.5,955.5 L592.7,956.0 L593.9,955.0 L595.1,953.9 L596.3,954.0 L597.5,953.4 L598.7,952.6 L599.9,952.3 L601.1,952.3 L602.3,953.4 L603.5,951.6 L604.7,950.6 L605.9,948.7 L607.1,949.1 L608.3,950.1 L609.5,950.5 L610.8,949.9 L612.0,949.2 L613.2,948.8 L614.4,949.6 L615.6,949.5 L615.6,967.9 L614.4,968.4 L613.2,969.2 L612.0,969.6 L610.8,969.7 L609.5,969.6 L608.3,970.0 L607.1,969.9 L605.9,969.5 L604.7,969.4 L603.5,970.3 L602.3,971.3 L601.1,972.6 L599.9,973.6 L598.7,974.1 L597.5,975.1 L596.3,974.8 L595.1,974.1 L593.9,973.4 L592.7,972.6 L591.5,973.3 L590.3,973.9 L589.1,974.4 L587.9,974.5 L586.7,973.3 L585.5,974.3 L584.2,973.7 L583.0,973.9 L581.8,972.8 L580.6,973.5 L579.4,972.8 L578.2,972.6 L577.0,972.0 L575.8,970.6 L574.6,968.7 L573.4,967.0 L572.2,966.5 L571.0,965.8 L569.8,962.9 L568.6,959.3 L567.4,955.4 L566.2,953.1 L565.0,951.2 L563.8,948.9 L562.6,947.0 L561.4,945.4 L560.2,942.4 L558.9,939.1 L557.7,931.2 L556.5,919.2 L555.3,905.7 L554.1,896.1 L552.9,881.5 L551.7,867.4 L550.5,859.5 L549.3,850.5 L548.1,844.5 L546.9,847.8 L545.7,859.8 L544.5,876.9 L543.3,892.4 L542.1,904.2 L540.9,922.3 L539.7,938.9 L538.5,951.5 L537.3,966.9 L536.1,975.4 L534.9,975.1 L533.6,974.6 L532.4,972.9 L531.2,972.2 L530.0,972.2 L528.8,971.3 L527.6,972.1 L526.4,971.7 L525.2,973.4 L524.0,972.8 L522.8,974.8 L521.6,975.3 L520.4,976.3 L519.2,975.1 L518.0,974.4 L516.8,975.0 L515.6,976.6 L514.4,978.1 L513.2,978.3 L512.0,978.0 L510.8,978.1 L509.6,978.6 L508.3,979.8 L507.1,980.0 L505.9,979.4 L504.7,979.1 L503.5,978.8 L502.3,979.4 L501.1,979.3 L499.9,978.1 L498.7,977.7 L497.5,976.1 L496.3,976.6 L495.1,975.5 L493.9,975.9 L492.7,973.6 L491.5,971.1 L490.3,968.3 L489.1,965.3 L487.9,959.2 L486.7,955.2 L485.5,952.7 L484.3,955.4 L483.0,956.7 L481.8,958.8 L480.6,960.2 L479.4,963.2 L478.2,967.4 L477.0,969.8 L475.8,970.8 L474.6,971.6 L473.4,972.7 L472.2,974.4 L471.0,975.7 L469.8,976.8 L468.6,978.1 L467.4,978.8 L466.2,978.0 L465.0,977.1 L463.8,976.1 L462.6,977.4 L461.4,978.1 L460.2,978.9 L458.9,978.6 L457.7,978.7 L456.5,979.8 L455.3,980.8 L454.1,981.0 L452.9,980.7 L451.7,979.2 L450.5,978.5 L449.3,977.5 L448.1,977.0 L446.9,976.8 L445.7,975.6 L444.5,975.5 L443.3,975.5 L442.1,975.4 L440.9,975.1 L439.7,975.5 L438.5,975.9 L437.3,975.0 L436.1,973.4 L434.9,971.4 L433.6,969.1 L432.4,962.5 L431.2,955.0 L430.0,950.6 L428.8,948.3 L427.6,946.7 L426.4,945.7 L425.2,946.6 L424.0,949.4 L422.8,952.4 L421.6,955.2 L420.4,957.9 L419.2,960.0 L418.0,959.3 L416.8,957.6 L415.6,956.4 L414.4,956.1 L413.2,956.8 L412.0,955.4 L410.8,955.1 L409.6,954.6 L408.3,954.8 L407.1,955.3 L405.9,954.9 L404.7,954.2 L403.5,953.3 L402.3,952.4 L401.1,951.8Z" fill="#eca2a7"/><path d="M401.1,945.6 L402.3,946.2 L403.5,946.9 L404.7,947.0 L405.9,946.7 L407.1,946.6 L408.3,947.3 L409.6,947.9 L410.8,948.8 L412.0,948.3 L413.2,949.1 L414.4,948.5 L415.6,949.6 L416.8,950.0 L418.0,951.3 L419.2,951.1 L420.4,951.0 L421.6,948.5 L422.8,945.0 L424.0,940.5 L425.2,938.3 L426.4,938.0 L427.6,939.8 L428.8,941.7 L430.0,943.4 L431.2,947.1 L432.4,954.5 L433.6,961.6 L434.9,964.5 L436.1,965.2 L437.3,966.2 L438.5,968.1 L439.7,968.8 L440.9,969.3 L442.1,968.9 L443.3,968.9 L444.5,970.0 L445.7,970.7 L446.9,971.6 L448.1,972.1 L449.3,972.7 L450.5,973.3 L451.7,972.9 L452.9,973.3 L454.1,973.1 L455.3,974.3 L456.5,974.4 L457.7,974.9 L458.9,973.3 L460.2,972.8 L461.4,972.4 L462.6,973.2 L463.8,972.6 L465.0,971.9 L466.2,971.7 L467.4,971.5 L468.6,971.5 L469.8,970.8 L471.0,969.7 L472.2,968.4 L473.4,967.3 L474.6,967.0 L475.8,965.4 L477.0,963.0 L478.2,958.7 L479.4,954.3 L480.6,950.2 L481.8,948.0 L483.0,945.7 L484.3,943.0 L485.5,940.6 L486.7,941.7 L487.9,946.1 L489.1,952.2 L490.3,955.3 L491.5,958.6 L492.7,961.5 L493.9,965.0 L495.1,966.9 L496.3,968.4 L497.5,968.7 L498.7,968.5 L499.9,969.1 L501.1,969.6 L502.3,970.6 L503.5,970.0 L504.7,970.1 L505.9,970.6 L507.1,971.0 L508.3,971.3 L509.6,970.2 L510.8,970.5 L512.0,970.6 L513.2,971.2 L514.4,969.9 L515.6,969.2 L516.8,968.1 L518.0,967.5 L519.2,967.0 L520.4,966.9 L521.6,967.0 L522.8,966.7 L524.0,965.7 L525.2,964.9 L526.4,963.5 L527.6,963.0 L528.8,962.5 L530.0,963.4 L531.2,965.0 L532.4,966.7 L533.6,967.7 L534.9,968.4 L536.1,967.4 L537.3,959.6 L538.5,943.4 L539.7,930.9 L540.9,913.9 L542.1,895.2 L543.3,883.6 L544.5,869.6 L545.7,853.2 L546.9,841.6 L548.1,837.7 L549.3,843.9 L550.5,852.4 L551.7,860.3 L552.9,872.9 L554.1,886.6 L555.3,895.5 L556.5,908.3 L557.7,921.4 L558.9,928.8 L560.2,931.5 L561.4,934.4 L562.6,937.0 L563.8,940.5 L565.0,943.1 L566.2,945.6 L567.4,948.6 L568.6,951.7 L569.8,954.1 L571.0,955.2 L572.2,956.1 L573.4,957.7 L574.6,960.0 L575.8,960.7 L577.0,960.7 L578.2,960.7 L579.4,961.0 L580.6,962.0 L581.8,962.3 L583.0,963.8 L584.2,965.0 L585.5,966.0 L586.7,965.7 L587.9,965.6 L589.1,965.8 L590.3,965.5 L591.5,964.8 L592.7,964.0 L593.9,963.6 L595.1,963.9 L596.3,963.6 L597.5,963.5 L598.7,963.2 L599.9,963.2 L601.1,962.4 L602.3,961.8 L603.5,960.5 L604.7,960.3 L605.9,959.1 L607.1,959.4 L608.3,959.2 L609.5,959.3 L610.8,959.3 L612.0,959.7 L613.2,959.7 L614.4,959.7 L615.6,958.8" fill="none" stroke="#e91c2e" stroke-width="2.8" stroke-linejoin="round" stroke-linecap="round"/></g>
<line x1="401.10" y1="820.80" x2="401.10" y2="1037.10" stroke="#231f20" stroke-width="1.7"/>
<line x1="400.30" y1="1036.30" x2="619.40" y2="1036.30" stroke="#231f20" stroke-width="1.8"/>
<line x1="395.90" y1="831.50" x2="401.10" y2="831.50" stroke="#231f20" stroke-width="1.6"/>
<line x1="395.90" y1="934.90" x2="401.10" y2="934.90" stroke="#231f20" stroke-width="1.6"/>
<line x1="446.60" y1="1036.30" x2="446.60" y2="1041.10" stroke="#231f20" stroke-width="1.6"/>
<line x1="540.50" y1="1036.30" x2="540.50" y2="1041.10" stroke="#231f20" stroke-width="1.6"/>
<text x="380.10" y="840.00" font-size="22.5" fill="#231f20">2</text>
<text x="379.76" y="943.40" font-size="22.5" fill="#231f20">1</text>
<text x="425.88" y="1063.25" font-size="22.5" fill="#231f20">−2</text>
<text x="533.45" y="1063.25" font-size="22.5" fill="#231f20">0</text>
<text x="477.78" y="822.50" font-size="22.3" fill="#231f20">No stim</text>
<text x="440.83" y="856.60" font-size="22.3" fill="#231f20">S</text>
<text x="502.43" y="856.60" font-size="22.3" fill="#231f20">D</text>
<text x="569.24" y="856.60" font-size="22.3" fill="#231f20">R</text>
<line x1="680.50" y1="1038.80" x2="680.50" y2="844.20" stroke="#1e1e1e" stroke-width="1.3" stroke-dasharray="2.6 1.9"/>
<line x1="741.00" y1="1038.80" x2="741.00" y2="844.20" stroke="#1e1e1e" stroke-width="1.3" stroke-dasharray="2.6 1.9"/>
<line x1="801.70" y1="1038.80" x2="801.70" y2="844.20" stroke="#1e1e1e" stroke-width="1.3" stroke-dasharray="2.6 1.9"/>
<line x1="661.70" y1="937.30" x2="877.10" y2="937.30" stroke="#1e1e1e" stroke-width="1.3" stroke-dasharray="2.4 2.3"/>
<g clip-path="url(#c10)"><path d="M661.7,939.1 L662.9,940.9 L664.1,943.6 L665.3,946.9 L666.5,947.7 L667.7,949.7 L668.9,952.4 L670.1,955.6 L671.3,957.5 L672.5,958.2 L673.7,958.4 L674.9,958.6 L676.1,956.8 L677.3,954.3 L678.5,951.8 L679.7,948.4 L680.9,945.3 L682.1,941.6 L683.3,939.8 L684.5,939.3 L685.7,938.6 L686.9,938.7 L688.1,938.9 L689.4,940.0 L690.6,940.6 L691.8,939.7 L693.0,939.5 L694.2,938.8 L695.4,939.7 L696.6,941.6 L697.8,942.9 L699.0,943.2 L700.2,943.8 L701.4,944.3 L702.6,945.5 L703.8,945.0 L705.0,944.9 L706.2,946.4 L707.4,948.0 L708.6,948.5 L709.8,948.8 L711.0,950.9 L712.2,954.3 L713.4,956.8 L714.6,957.9 L715.8,958.5 L717.0,958.5 L718.2,958.9 L719.4,959.0 L720.6,959.3 L721.8,958.6 L723.0,958.4 L724.3,957.7 L725.5,958.4 L726.7,957.7 L727.9,959.0 L729.1,958.8 L730.3,959.9 L731.5,959.2 L732.7,959.1 L733.9,956.8 L735.1,947.2 L736.3,929.6 L737.5,914.8 L738.7,896.8 L739.9,873.1 L741.1,857.2 L742.3,840.6 L743.5,825.9 L744.7,824.6 L745.9,836.9 L747.1,850.9 L748.3,858.6 L749.5,867.4 L750.7,875.6 L751.9,882.5 L753.1,886.9 L754.3,889.4 L755.5,893.8 L756.7,897.6 L758.0,900.5 L759.2,902.0 L760.4,903.2 L761.6,905.8 L762.8,908.7 L764.0,910.0 L765.2,912.0 L766.4,912.3 L767.6,911.8 L768.8,908.9 L770.0,905.8 L771.2,903.1 L772.4,901.1 L773.6,898.8 L774.8,896.7 L776.0,895.0 L777.2,892.7 L778.4,890.1 L779.6,888.0 L780.8,886.1 L782.0,884.0 L783.2,881.2 L784.4,879.3 L785.6,877.1 L786.8,875.3 L788.0,873.6 L789.2,874.6 L790.4,877.5 L791.7,882.0 L792.9,884.6 L794.1,886.3 L795.3,887.5 L796.5,886.6 L797.7,883.4 L798.9,868.2 L800.1,851.6 L801.3,839.4 L802.5,824.7 L803.7,817.6 L804.9,813.5 L806.1,807.6 L807.3,800.6 L808.5,792.8 L809.7,785.5 L810.9,778.9 L812.1,773.1 L813.3,770.4 L814.5,770.9 L815.7,773.8 L816.9,777.4 L818.1,783.4 L819.3,790.2 L820.5,798.9 L821.7,805.6 L822.9,811.4 L824.1,817.5 L825.4,821.9 L826.6,827.5 L827.8,835.2 L829.0,843.9 L830.2,849.7 L831.4,855.0 L832.6,864.2 L833.8,874.1 L835.0,881.5 L836.2,888.7 L837.4,897.8 L838.6,905.7 L839.8,909.8 L841.0,914.7 L842.2,921.3 L843.4,926.1 L844.6,930.0 L845.8,934.1 L847.0,941.1 L848.2,946.1 L849.4,951.1 L850.6,953.2 L851.8,954.5 L853.0,954.8 L854.2,955.1 L855.4,957.4 L856.6,958.5 L857.8,959.9 L859.1,958.2 L860.3,957.4 L861.5,956.7 L862.7,956.3 L863.9,955.8 L865.1,955.2 L866.3,956.3 L867.5,955.8 L868.7,954.9 L869.9,953.3 L871.1,953.6 L872.3,954.1 L873.5,953.9 L874.7,952.9 L875.9,952.5 L877.1,953.4 L877.1,972.0 L875.9,971.6 L874.7,970.5 L873.5,972.1 L872.3,972.0 L871.1,973.5 L869.9,973.4 L868.7,974.1 L867.5,974.5 L866.3,974.9 L865.1,975.6 L863.9,975.1 L862.7,975.2 L861.5,975.3 L860.3,976.1 L859.1,975.9 L857.8,975.4 L856.6,975.1 L855.4,976.0 L854.2,977.3 L853.0,976.3 L851.8,974.8 L850.6,972.8 L849.4,970.1 L848.2,966.0 L847.0,960.7 L845.8,956.0 L844.6,951.5 L843.4,948.2 L842.2,941.6 L841.0,935.1 L839.8,928.8 L838.6,925.0 L837.4,916.5 L836.2,908.5 L835.0,902.2 L833.8,894.7 L832.6,885.3 L831.4,875.6 L830.2,870.8 L829.0,863.6 L827.8,855.4 L826.6,847.7 L825.4,843.7 L824.1,839.2 L822.9,833.0 L821.7,826.6 L820.5,819.8 L819.3,813.9 L818.1,807.3 L816.9,802.0 L815.7,798.0 L814.5,796.6 L813.3,796.8 L812.1,799.7 L810.9,804.2 L809.7,809.9 L808.5,816.6 L807.3,825.2 L806.1,834.3 L804.9,841.3 L803.7,845.2 L802.5,851.4 L801.3,868.5 L800.1,882.0 L798.9,898.5 L797.7,913.7 L796.5,916.7 L795.3,916.2 L794.1,913.8 L792.9,912.3 L791.7,911.4 L790.4,909.7 L789.2,909.4 L788.0,909.3 L786.8,909.5 L785.6,909.4 L784.4,910.3 L783.2,911.9 L782.0,914.0 L780.8,916.3 L779.6,918.3 L778.4,920.1 L777.2,922.8 L776.0,924.7 L774.8,925.5 L773.6,927.0 L772.4,929.9 L771.2,932.2 L770.0,934.3 L768.8,935.7 L767.6,937.2 L766.4,938.0 L765.2,937.6 L764.0,938.0 L762.8,936.7 L761.6,936.3 L760.4,933.7 L759.2,933.4 L758.0,932.3 L756.7,930.8 L755.5,927.7 L754.3,925.3 L753.1,922.5 L751.9,919.8 L750.7,913.1 L749.5,907.8 L748.3,901.6 L747.1,897.0 L745.9,885.4 L744.7,875.8 L743.5,878.0 L742.3,891.4 L741.1,905.1 L739.9,914.4 L738.7,928.8 L737.5,940.9 L736.3,952.7 L735.1,966.4 L733.9,971.7 L732.7,973.0 L731.5,972.9 L730.3,974.6 L729.1,974.4 L727.9,975.4 L726.7,974.8 L725.5,973.9 L724.3,973.3 L723.0,972.1 L721.8,972.1 L720.6,971.7 L719.4,972.5 L718.2,972.9 L717.0,972.4 L715.8,972.0 L714.6,972.2 L713.4,971.2 L712.2,970.2 L711.0,968.6 L709.8,967.3 L708.6,965.8 L707.4,964.0 L706.2,963.4 L705.0,962.3 L703.8,961.5 L702.6,961.6 L701.4,961.7 L700.2,962.3 L699.0,960.6 L697.8,961.0 L696.6,960.0 L695.4,960.5 L694.2,959.5 L693.0,959.4 L691.8,959.4 L690.6,960.3 L689.4,960.1 L688.1,960.1 L686.9,958.8 L685.7,959.2 L684.5,958.5 L683.3,959.2 L682.1,961.4 L680.9,965.1 L679.7,968.6 L678.5,970.3 L677.3,971.8 L676.1,972.2 L674.9,973.7 L673.7,973.0 L672.5,974.1 L671.3,974.3 L670.1,973.6 L668.9,972.0 L667.7,969.6 L666.5,968.7 L665.3,966.8 L664.1,964.3 L662.9,962.1 L661.7,959.6Z" fill="#a0a3cb"/><path d="M661.7,949.0 L662.9,950.7 L664.1,953.1 L665.3,955.3 L666.5,957.5 L667.7,959.4 L668.9,961.4 L670.1,963.5 L671.3,965.6 L672.5,965.8 L673.7,965.5 L674.9,963.9 L676.1,963.4 L677.3,962.9 L678.5,961.8 L679.7,959.9 L680.9,956.6 L682.1,953.0 L683.3,949.5 L684.5,948.5 L685.7,948.1 L686.9,948.8 L688.1,949.1 L689.4,949.5 L690.6,950.0 L691.8,950.5 L693.0,951.0 L694.2,950.4 L695.4,950.3 L696.6,950.7 L697.8,951.8 L699.0,951.7 L700.2,952.4 L701.4,952.4 L702.6,953.7 L703.8,954.0 L705.0,954.1 L706.2,953.9 L707.4,955.0 L708.6,956.4 L709.8,958.0 L711.0,960.2 L712.2,962.2 L713.4,964.4 L714.6,965.0 L715.8,965.2 L717.0,965.0 L718.2,965.4 L719.4,965.4 L720.6,965.7 L721.8,964.8 L723.0,964.7 L724.3,964.4 L725.5,965.1 L726.7,965.7 L727.9,965.9 L729.1,966.9 L730.3,966.9 L731.5,967.2 L732.7,966.0 L733.9,964.2 L735.1,956.3 L736.3,940.7 L737.5,928.0 L738.7,912.7 L739.9,893.4 L741.1,880.1 L742.3,865.5 L743.5,852.1 L744.7,852.1 L745.9,863.1 L747.1,875.1 L748.3,880.4 L749.5,886.7 L750.7,894.1 L751.9,900.3 L753.1,904.8 L754.3,907.5 L755.5,910.4 L756.7,913.3 L758.0,916.5 L759.2,918.3 L760.4,919.8 L761.6,920.8 L762.8,922.8 L764.0,924.0 L765.2,925.6 L766.4,926.2 L767.6,925.6 L768.8,923.7 L770.0,921.4 L771.2,918.0 L772.4,915.6 L773.6,912.7 L774.8,912.2 L776.0,910.4 L777.2,909.1 L778.4,905.6 L779.6,903.7 L780.8,900.5 L782.0,898.2 L783.2,895.8 L784.4,895.1 L785.6,894.1 L786.8,892.7 L788.0,891.6 L789.2,891.4 L790.4,893.4 L791.7,895.4 L792.9,898.2 L794.1,899.5 L795.3,901.9 L796.5,902.0 L797.7,898.5 L798.9,883.4 L800.1,866.1 L801.3,854.9 L802.5,838.6 L803.7,831.2 L804.9,826.0 L806.1,820.5 L807.3,813.9 L808.5,805.4 L809.7,797.7 L810.9,790.4 L812.1,785.8 L813.3,782.7 L814.5,783.3 L815.7,785.7 L816.9,789.6 L818.1,795.2 L819.3,801.6 L820.5,808.7 L821.7,814.9 L822.9,821.3 L824.1,827.5 L825.4,831.8 L826.6,836.4 L827.8,843.5 L829.0,852.3 L830.2,858.7 L831.4,865.0 L832.6,874.4 L833.8,885.3 L835.0,892.1 L836.2,898.4 L837.4,906.6 L838.6,914.3 L839.8,918.8 L841.0,923.8 L842.2,930.5 L843.4,935.8 L844.6,939.3 L845.8,943.8 L847.0,950.3 L848.2,956.7 L849.4,961.8 L850.6,963.5 L851.8,963.8 L853.0,964.5 L854.2,965.8 L855.4,966.4 L856.6,966.7 L857.8,967.3 L859.1,967.5 L860.3,966.9 L861.5,965.6 L862.7,965.2 L863.9,965.5 L865.1,965.7 L866.3,965.1 L867.5,964.6 L868.7,964.3 L869.9,964.3 L871.1,963.7 L872.3,962.9 L873.5,962.9 L874.7,962.6 L875.9,962.4 L877.1,961.8" fill="none" stroke="#2e57a7" stroke-width="2.8" stroke-linejoin="round" stroke-linecap="round"/><path d="M661.7,936.5 L662.9,937.6 L664.1,938.2 L665.3,938.6 L666.5,940.3 L667.7,942.3 L668.9,943.4 L670.1,943.9 L671.3,943.6 L672.5,943.3 L673.7,942.9 L674.9,943.2 L676.1,943.1 L677.3,941.5 L678.5,941.6 L679.7,941.3 L680.9,942.7 L682.1,942.1 L683.3,942.1 L684.5,941.1 L685.7,941.6 L686.9,941.4 L688.1,941.0 L689.4,939.0 L690.6,938.0 L691.8,938.7 L693.0,943.1 L694.2,947.2 L695.4,950.2 L696.6,952.1 L697.8,955.0 L699.0,959.7 L700.2,963.2 L701.4,967.4 L702.6,968.6 L703.8,969.5 L705.0,969.0 L706.2,968.6 L707.4,967.5 L708.6,967.9 L709.8,967.5 L711.0,968.3 L712.2,967.6 L713.4,967.2 L714.6,967.2 L715.8,966.5 L717.0,965.7 L718.2,964.3 L719.4,963.7 L720.6,964.0 L721.8,964.7 L723.0,965.7 L724.3,966.7 L725.5,967.1 L726.7,967.0 L727.9,967.0 L729.1,967.9 L730.3,967.0 L731.5,965.3 L732.7,963.7 L733.9,963.2 L735.1,956.5 L736.3,940.2 L737.5,926.2 L738.7,914.7 L739.9,901.0 L741.1,889.3 L742.3,881.9 L743.5,870.8 L744.7,864.3 L745.9,864.1 L747.1,874.0 L748.3,882.6 L749.5,889.5 L750.7,897.3 L751.9,905.2 L753.1,910.1 L754.3,911.8 L755.5,914.0 L756.7,915.2 L758.0,916.5 L759.2,917.7 L760.4,919.4 L761.6,922.4 L762.8,924.3 L764.0,925.8 L765.2,926.8 L766.4,926.7 L767.6,925.6 L768.8,924.2 L770.0,923.8 L771.2,922.2 L772.4,920.6 L773.6,918.2 L774.8,917.4 L776.0,916.1 L777.2,913.4 L778.4,909.7 L779.6,905.1 L780.8,902.8 L782.0,900.4 L783.2,899.9 L784.4,897.8 L785.6,897.6 L786.8,898.1 L788.0,899.1 L789.2,900.1 L790.4,900.5 L791.7,901.5 L792.9,901.0 L794.1,900.1 L795.3,898.7 L796.5,897.5 L797.7,892.3 L798.9,873.5 L800.1,851.7 L801.3,839.9 L802.5,826.0 L803.7,815.6 L804.9,800.7 L806.1,786.1 L807.3,780.4 L808.5,785.3 L809.7,796.2 L810.9,807.6 L812.1,817.8 L813.3,825.5 L814.5,841.1 L815.7,851.9 L816.9,865.2 L818.1,880.9 L819.3,891.6 L820.5,899.1 L821.7,909.0 L822.9,916.7 L824.1,922.4 L825.4,923.8 L826.6,924.9 L827.8,925.1 L829.0,925.0 L830.2,924.8 L831.4,925.5 L832.6,927.0 L833.8,928.4 L835.0,929.6 L836.2,930.3 L837.4,931.8 L838.6,933.1 L839.8,934.7 L841.0,936.3 L842.2,936.7 L843.4,938.2 L844.6,938.6 L845.8,938.5 L847.0,935.7 L848.2,933.0 L849.4,929.1 L850.6,924.9 L851.8,921.3 L853.0,919.6 L854.2,920.1 L855.4,922.5 L856.6,925.1 L857.8,927.5 L859.1,929.2 L860.3,930.0 L861.5,932.1 L862.7,932.8 L863.9,935.2 L865.1,935.5 L866.3,936.1 L867.5,936.4 L868.7,937.3 L869.9,938.0 L871.1,937.7 L872.3,938.1 L873.5,938.1 L874.7,938.3 L875.9,937.9 L877.1,938.8 L877.1,964.1 L875.9,963.5 L874.7,962.7 L873.5,962.7 L872.3,963.0 L871.1,963.8 L869.9,962.8 L868.7,962.0 L867.5,961.7 L866.3,961.6 L865.1,960.9 L863.9,958.9 L862.7,958.6 L861.5,958.5 L860.3,957.3 L859.1,956.6 L857.8,955.6 L856.6,953.5 L855.4,950.6 L854.2,947.3 L853.0,946.3 L851.8,947.3 L850.6,950.6 L849.4,954.1 L848.2,957.2 L847.0,960.2 L845.8,963.2 L844.6,964.7 L843.4,964.2 L842.2,964.2 L841.0,961.6 L839.8,959.7 L838.6,957.7 L837.4,957.3 L836.2,957.4 L835.0,956.5 L833.8,954.8 L832.6,953.1 L831.4,952.0 L830.2,950.7 L829.0,950.0 L827.8,948.8 L826.6,948.9 L825.4,948.1 L824.1,947.2 L822.9,942.9 L821.7,934.6 L820.5,925.2 L819.3,918.6 L818.1,908.0 L816.9,892.9 L815.7,878.4 L814.5,867.3 L813.3,850.9 L812.1,842.4 L810.9,832.9 L809.7,821.7 L808.5,811.5 L807.3,806.8 L806.1,812.6 L804.9,827.2 L803.7,840.8 L802.5,850.5 L801.3,867.7 L800.1,883.5 L798.9,909.0 L797.7,929.6 L796.5,934.8 L795.3,936.9 L794.1,938.5 L792.9,939.5 L791.7,939.6 L790.4,940.0 L789.2,940.0 L788.0,940.4 L786.8,940.6 L785.6,938.8 L784.4,938.3 L783.2,939.4 L782.0,941.4 L780.8,944.1 L779.6,946.3 L778.4,950.8 L777.2,954.3 L776.0,957.3 L774.8,958.8 L773.6,959.8 L772.4,960.3 L771.2,961.9 L770.0,963.7 L768.8,965.5 L767.6,966.0 L766.4,965.9 L765.2,965.8 L764.0,964.9 L762.8,964.2 L761.6,963.0 L760.4,961.4 L759.2,959.6 L758.0,957.5 L756.7,956.3 L755.5,954.6 L754.3,952.9 L753.1,950.2 L751.9,945.0 L750.7,936.6 L749.5,928.0 L748.3,923.4 L747.1,914.9 L745.9,905.7 L744.7,903.9 L743.5,910.3 L742.3,919.1 L741.1,925.7 L739.9,932.3 L738.7,942.6 L737.5,949.1 L736.3,960.8 L735.1,973.5 L733.9,981.1 L732.7,982.7 L731.5,983.6 L730.3,983.6 L729.1,983.2 L727.9,984.9 L726.7,986.1 L725.5,987.1 L724.3,985.2 L723.0,984.5 L721.8,983.1 L720.6,983.4 L719.4,981.9 L718.2,982.5 L717.0,982.7 L715.8,984.0 L714.6,984.1 L713.4,985.0 L712.2,985.6 L711.0,986.6 L709.8,985.7 L708.6,985.8 L707.4,984.9 L706.2,985.9 L705.0,985.7 L703.8,986.1 L702.6,986.1 L701.4,985.8 L700.2,983.6 L699.0,979.7 L697.8,975.6 L696.6,972.0 L695.4,969.6 L694.2,967.4 L693.0,964.0 L691.8,961.0 L690.6,959.4 L689.4,958.5 L688.1,959.5 L686.9,958.6 L685.7,959.5 L684.5,959.3 L683.3,959.8 L682.1,960.5 L680.9,961.2 L679.7,961.5 L678.5,961.2 L677.3,961.6 L676.1,963.0 L674.9,964.6 L673.7,963.6 L672.5,962.8 L671.3,962.7 L670.1,963.0 L668.9,964.3 L667.7,962.8 L666.5,961.3 L665.3,958.0 L664.1,956.1 L662.9,955.9 L661.7,956.0Z" fill="#eca2a7"/><path d="M661.7,946.0 L662.9,946.7 L664.1,947.9 L665.3,949.8 L666.5,951.2 L667.7,953.5 L668.9,954.0 L670.1,954.5 L671.3,954.1 L672.5,954.2 L673.7,953.1 L674.9,951.7 L676.1,950.7 L677.3,950.9 L678.5,951.1 L679.7,950.8 L680.9,950.9 L682.1,950.5 L683.3,950.2 L684.5,949.7 L685.7,949.3 L686.9,949.7 L688.1,949.5 L689.4,950.2 L690.6,949.7 L691.8,950.9 L693.0,953.6 L694.2,958.0 L695.4,960.9 L696.6,963.2 L697.8,966.6 L699.0,970.3 L700.2,972.9 L701.4,975.1 L702.6,975.8 L703.8,976.8 L705.0,977.3 L706.2,978.1 L707.4,977.3 L708.6,975.9 L709.8,975.8 L711.0,975.9 L712.2,975.9 L713.4,975.1 L714.6,974.6 L715.8,974.5 L717.0,973.8 L718.2,974.1 L719.4,974.4 L720.6,975.2 L721.8,975.9 L723.0,975.7 L724.3,975.7 L725.5,975.4 L726.7,975.2 L727.9,975.3 L729.1,974.7 L730.3,975.2 L731.5,974.1 L732.7,973.1 L733.9,970.9 L735.1,964.2 L736.3,949.9 L737.5,938.3 L738.7,928.9 L739.9,916.9 L741.1,907.6 L742.3,900.1 L743.5,890.8 L744.7,883.1 L745.9,884.3 L747.1,894.2 L748.3,904.5 L749.5,910.2 L750.7,918.0 L751.9,925.0 L753.1,929.3 L754.3,930.5 L755.5,933.3 L756.7,935.9 L758.0,938.0 L759.2,938.5 L760.4,939.7 L761.6,941.4 L762.8,943.5 L764.0,945.6 L765.2,946.8 L766.4,948.1 L767.6,946.4 L768.8,945.9 L770.0,943.5 L771.2,942.6 L772.4,940.2 L773.6,938.0 L774.8,935.9 L776.0,934.3 L777.2,933.1 L778.4,930.6 L779.6,927.0 L780.8,923.3 L782.0,921.0 L783.2,919.9 L784.4,919.1 L785.6,918.1 L786.8,919.0 L788.0,919.4 L789.2,920.4 L790.4,920.1 L791.7,920.4 L792.9,920.6 L794.1,920.2 L795.3,918.9 L796.5,916.8 L797.7,911.8 L798.9,890.7 L800.1,866.8 L801.3,852.9 L802.5,838.3 L803.7,828.5 L804.9,814.0 L806.1,800.0 L807.3,794.1 L808.5,797.7 L809.7,807.9 L810.9,819.8 L812.1,829.9 L813.3,838.4 L814.5,854.1 L815.7,865.6 L816.9,878.6 L818.1,893.0 L819.3,904.0 L820.5,911.9 L821.7,921.7 L822.9,930.1 L824.1,934.4 L825.4,935.9 L826.6,936.5 L827.8,937.2 L829.0,937.2 L830.2,938.3 L831.4,938.8 L832.6,940.7 L833.8,942.0 L835.0,943.7 L836.2,944.2 L837.4,945.0 L838.6,945.7 L839.8,947.9 L841.0,949.7 L842.2,950.7 L843.4,951.0 L844.6,950.0 L845.8,949.3 L847.0,947.5 L848.2,945.9 L849.4,943.0 L850.6,939.5 L851.8,936.5 L853.0,934.8 L854.2,935.8 L855.4,937.5 L856.6,940.0 L857.8,940.9 L859.1,942.1 L860.3,942.8 L861.5,944.2 L862.7,945.4 L863.9,947.7 L865.1,948.9 L866.3,949.6 L867.5,949.8 L868.7,950.7 L869.9,951.5 L871.1,951.8 L872.3,951.5 L873.5,950.9 L874.7,950.9 L875.9,951.1 L877.1,951.6" fill="none" stroke="#e91c2e" stroke-width="2.8" stroke-linejoin="round" stroke-linecap="round"/></g>
<rect x="741.90" y="823.10" width="59.20" height="21.80" fill="#17a3db"/>
<line x1="661.70" y1="823.10" x2="661.70" y2="1039.60" stroke="#231f20" stroke-width="1.7"/>
<line x1="660.90" y1="1038.80" x2="880.40" y2="1038.80" stroke="#231f20" stroke-width="1.8"/>
<line x1="656.50" y1="833.80" x2="661.70" y2="833.80" stroke="#231f20" stroke-width="1.6"/>
<line x1="656.50" y1="937.30" x2="661.70" y2="937.30" stroke="#231f20" stroke-width="1.6"/>
<line x1="708.00" y1="1038.80" x2="708.00" y2="1043.60" stroke="#231f20" stroke-width="1.6"/>
<line x1="801.70" y1="1038.80" x2="801.70" y2="1043.60" stroke="#231f20" stroke-width="1.6"/>
<text x="638.70" y="842.30" font-size="22.5" fill="#231f20">2</text>
<text x="638.36" y="945.80" font-size="22.5" fill="#231f20">1</text>
<text x="689.38" y="1063.25" font-size="22.5" fill="#231f20">−2</text>
<text x="794.60" y="1063.25" font-size="22.5" fill="#231f20">0</text>
<text x="851.64" y="841.70" font-size="22.0" fill="#2e57a7">Lick contra</text>
<text x="853.14" y="870.00" font-size="22.0" fill="#e91c2e">Lick ipsi</text>
<line x1="419.50" y1="1338.70" x2="419.50" y2="1144.30" stroke="#1e1e1e" stroke-width="1.3" stroke-dasharray="2.6 1.9"/>
<line x1="479.80" y1="1338.70" x2="479.80" y2="1144.30" stroke="#1e1e1e" stroke-width="1.3" stroke-dasharray="2.6 1.9"/>
<line x1="540.60" y1="1338.70" x2="540.60" y2="1144.30" stroke="#1e1e1e" stroke-width="1.3" stroke-dasharray="2.6 1.9"/>
<line x1="401.30" y1="1237.60" x2="619.90" y2="1237.60" stroke="#1e1e1e" stroke-width="1.3" stroke-dasharray="2.4 2.3"/>
<g clip-path="url(#c11)"><path d="M401.3,1230.8 L402.5,1232.8 L403.7,1233.0 L404.9,1234.9 L406.1,1235.1 L407.3,1236.6 L408.5,1237.8 L409.7,1239.7 L410.9,1239.7 L412.1,1240.4 L413.3,1239.1 L414.5,1238.6 L415.7,1236.4 L416.9,1234.4 L418.1,1232.6 L419.3,1230.4 L420.5,1228.4 L421.7,1222.8 L422.9,1217.6 L424.1,1212.5 L425.3,1211.3 L426.5,1209.5 L427.7,1209.2 L428.9,1207.8 L430.1,1208.4 L431.3,1209.7 L432.5,1211.7 L433.7,1212.1 L434.9,1213.3 L436.1,1215.3 L437.3,1218.2 L438.5,1220.0 L439.7,1221.7 L440.9,1224.8 L442.1,1229.1 L443.3,1231.8 L444.5,1233.2 L445.7,1232.5 L446.9,1232.6 L448.1,1232.7 L449.3,1233.3 L450.5,1233.6 L451.7,1234.2 L452.9,1233.5 L454.2,1233.0 L455.4,1231.5 L456.6,1231.3 L457.8,1231.6 L459.0,1231.7 L460.2,1232.8 L461.4,1232.7 L462.6,1232.3 L463.8,1231.7 L465.0,1232.6 L466.2,1233.0 L467.4,1232.2 L468.6,1231.7 L469.8,1230.4 L471.0,1229.7 L472.2,1228.6 L473.4,1228.5 L474.6,1227.5 L475.8,1223.7 L477.0,1217.7 L478.2,1212.2 L479.4,1207.7 L480.6,1202.0 L481.8,1193.5 L483.0,1183.9 L484.2,1177.2 L485.4,1174.6 L486.6,1178.5 L487.8,1184.9 L489.0,1190.8 L490.2,1197.1 L491.4,1206.4 L492.6,1213.8 L493.8,1219.0 L495.0,1228.2 L496.2,1236.3 L497.4,1243.0 L498.6,1244.4 L499.8,1246.5 L501.0,1247.4 L502.2,1248.2 L503.4,1247.7 L504.6,1247.9 L505.8,1246.7 L507.0,1247.5 L508.2,1247.3 L509.4,1247.1 L510.6,1245.9 L511.8,1244.5 L513.0,1245.1 L514.2,1245.9 L515.4,1246.6 L516.6,1246.8 L517.8,1248.2 L519.0,1248.8 L520.2,1249.9 L521.4,1250.0 L522.6,1250.8 L523.8,1251.0 L525.0,1251.5 L526.2,1252.1 L527.4,1252.1 L528.6,1252.1 L529.8,1252.4 L531.0,1253.1 L532.2,1254.1 L533.4,1254.3 L534.6,1255.6 L535.8,1255.5 L537.0,1257.5 L538.2,1257.0 L539.4,1254.4 L540.6,1247.9 L541.8,1239.5 L543.0,1233.0 L544.2,1229.0 L545.4,1225.0 L546.6,1219.3 L547.8,1215.7 L549.0,1214.6 L550.2,1218.1 L551.4,1220.7 L552.6,1225.2 L553.8,1226.6 L555.0,1230.7 L556.2,1232.8 L557.4,1235.4 L558.6,1236.7 L559.8,1238.0 L561.0,1239.4 L562.2,1238.5 L563.4,1238.3 L564.6,1237.5 L565.8,1238.5 L567.0,1239.5 L568.2,1240.7 L569.4,1241.7 L570.6,1241.1 L571.8,1241.4 L573.0,1240.9 L574.2,1241.8 L575.4,1242.4 L576.6,1242.7 L577.9,1242.9 L579.1,1243.5 L580.3,1243.8 L581.5,1244.1 L582.7,1244.8 L583.9,1246.9 L585.1,1247.6 L586.3,1248.4 L587.5,1248.0 L588.7,1248.7 L589.9,1249.0 L591.1,1250.5 L592.3,1253.6 L593.5,1256.3 L594.7,1256.9 L595.9,1256.4 L597.1,1256.4 L598.3,1257.9 L599.5,1259.0 L600.7,1258.1 L601.9,1257.7 L603.1,1257.4 L604.3,1258.1 L605.5,1258.1 L606.7,1257.9 L607.9,1258.0 L609.1,1259.4 L610.3,1260.1 L611.5,1260.3 L612.7,1259.8 L613.9,1259.4 L615.1,1260.0 L616.3,1260.7 L617.5,1260.9 L618.7,1260.6 L619.9,1260.4 L619.9,1281.2 L618.7,1280.3 L617.5,1279.7 L616.3,1279.0 L615.1,1278.9 L613.9,1279.8 L612.7,1279.6 L611.5,1279.3 L610.3,1278.9 L609.1,1278.6 L607.9,1278.2 L606.7,1277.5 L605.5,1278.0 L604.3,1277.5 L603.1,1277.7 L601.9,1278.0 L600.7,1278.3 L599.5,1278.8 L598.3,1277.4 L597.1,1276.7 L595.9,1275.7 L594.7,1275.3 L593.5,1275.0 L592.3,1274.3 L591.1,1273.7 L589.9,1271.9 L588.7,1270.3 L587.5,1269.0 L586.3,1268.7 L585.1,1267.0 L583.9,1265.5 L582.7,1265.1 L581.5,1263.9 L580.3,1264.1 L579.1,1264.0 L577.9,1264.8 L576.6,1264.2 L575.4,1264.0 L574.2,1263.4 L573.0,1263.2 L571.8,1261.3 L570.6,1260.4 L569.4,1259.1 L568.2,1259.1 L567.0,1258.9 L565.8,1259.9 L564.6,1259.4 L563.4,1260.0 L562.2,1260.2 L561.0,1262.4 L559.8,1263.0 L558.6,1263.7 L557.4,1263.2 L556.2,1261.6 L555.0,1259.0 L553.8,1257.6 L552.6,1256.7 L551.4,1253.7 L550.2,1249.6 L549.0,1246.7 L547.8,1247.1 L546.6,1248.9 L545.4,1251.9 L544.2,1254.3 L543.0,1256.7 L541.8,1261.7 L540.6,1267.6 L539.4,1272.8 L538.2,1274.2 L537.0,1273.4 L535.8,1271.9 L534.6,1271.5 L533.4,1272.0 L532.2,1272.5 L531.0,1271.0 L529.8,1271.2 L528.6,1271.0 L527.4,1271.5 L526.2,1269.7 L525.0,1269.0 L523.8,1268.1 L522.6,1268.2 L521.4,1267.3 L520.2,1267.2 L519.0,1267.2 L517.8,1266.8 L516.6,1266.2 L515.4,1264.4 L514.2,1264.1 L513.0,1263.0 L511.8,1262.7 L510.6,1261.7 L509.4,1261.7 L508.2,1263.4 L507.0,1264.5 L505.8,1265.0 L504.6,1263.9 L503.4,1264.1 L502.2,1264.8 L501.0,1264.4 L499.8,1263.3 L498.6,1261.4 L497.4,1260.4 L496.2,1254.5 L495.0,1246.3 L493.8,1237.9 L492.6,1233.0 L491.4,1226.0 L490.2,1217.9 L489.0,1211.1 L487.8,1205.1 L486.6,1198.3 L485.4,1195.5 L484.2,1197.8 L483.0,1203.9 L481.8,1211.7 L480.6,1220.6 L479.4,1226.3 L478.2,1230.6 L477.0,1235.1 L475.8,1239.5 L474.6,1242.2 L473.4,1243.3 L472.2,1244.5 L471.0,1245.2 L469.8,1244.9 L468.6,1244.4 L467.4,1243.9 L466.2,1244.0 L465.0,1245.0 L463.8,1246.2 L462.6,1247.3 L461.4,1246.3 L460.2,1245.3 L459.0,1245.1 L457.8,1246.1 L456.6,1247.0 L455.4,1246.7 L454.2,1246.7 L452.9,1247.2 L451.7,1248.0 L450.5,1247.1 L449.3,1246.4 L448.1,1245.3 L446.9,1246.3 L445.7,1246.1 L444.5,1246.8 L443.3,1244.8 L442.1,1243.3 L440.9,1240.3 L439.7,1239.0 L438.5,1236.6 L437.3,1233.5 L436.1,1229.2 L434.9,1227.4 L433.7,1225.6 L432.5,1225.0 L431.3,1224.1 L430.1,1223.3 L428.9,1223.0 L427.7,1223.3 L426.5,1225.6 L425.3,1227.4 L424.1,1228.6 L422.9,1232.6 L421.7,1236.6 L420.5,1240.7 L419.3,1241.8 L418.1,1243.9 L416.9,1245.3 L415.7,1246.8 L414.5,1246.9 L413.3,1248.7 L412.1,1248.5 L410.9,1248.9 L409.7,1247.7 L408.5,1247.1 L407.3,1245.9 L406.1,1244.6 L404.9,1244.0 L403.7,1242.8 L402.5,1241.7 L401.3,1240.4Z" fill="#a0a3cb"/><path d="M401.3,1235.6 L402.5,1236.0 L403.7,1237.9 L404.9,1240.1 L406.1,1241.2 L407.3,1242.3 L408.5,1242.5 L409.7,1243.8 L410.9,1244.3 L412.1,1245.1 L413.3,1244.9 L414.5,1243.5 L415.7,1241.4 L416.9,1239.5 L418.1,1238.2 L419.3,1237.8 L420.5,1236.0 L421.7,1231.5 L422.9,1225.2 L424.1,1220.4 L425.3,1218.6 L426.5,1216.5 L427.7,1215.1 L428.9,1214.6 L430.1,1215.0 L431.3,1216.8 L432.5,1217.6 L433.7,1219.8 L434.9,1220.6 L436.1,1222.5 L437.3,1225.6 L438.5,1227.9 L439.7,1229.9 L440.9,1231.7 L442.1,1235.6 L443.3,1238.6 L444.5,1240.3 L445.7,1240.0 L446.9,1240.1 L448.1,1239.4 L449.3,1239.4 L450.5,1240.2 L451.7,1240.7 L452.9,1241.4 L454.2,1240.2 L455.4,1240.3 L456.6,1239.7 L457.8,1239.7 L459.0,1239.7 L460.2,1239.5 L461.4,1239.6 L462.6,1239.0 L463.8,1238.4 L465.0,1238.4 L466.2,1238.7 L467.4,1238.9 L468.6,1238.8 L469.8,1237.4 L471.0,1236.2 L472.2,1235.0 L473.4,1234.7 L474.6,1234.0 L475.8,1231.7 L477.0,1226.7 L478.2,1222.3 L479.4,1217.1 L480.6,1212.0 L481.8,1202.9 L483.0,1195.0 L484.2,1187.7 L485.4,1186.2 L486.6,1189.5 L487.8,1196.0 L489.0,1201.1 L490.2,1207.5 L491.4,1217.2 L492.6,1224.5 L493.8,1230.4 L495.0,1238.0 L496.2,1246.2 L497.4,1250.3 L498.6,1251.8 L499.8,1252.5 L501.0,1254.6 L502.2,1255.3 L503.4,1256.4 L504.6,1255.8 L505.8,1256.3 L507.0,1255.6 L508.2,1255.7 L509.4,1255.4 L510.6,1254.3 L511.8,1253.6 L513.0,1253.5 L514.2,1255.2 L515.4,1256.6 L516.6,1258.1 L517.8,1258.7 L519.0,1259.5 L520.2,1259.1 L521.4,1260.2 L522.6,1259.9 L523.8,1261.0 L525.0,1260.4 L526.2,1261.2 L527.4,1261.5 L528.6,1262.6 L529.8,1263.6 L531.0,1263.9 L532.2,1264.3 L533.4,1264.7 L534.6,1265.0 L535.8,1265.9 L537.0,1265.4 L538.2,1265.5 L539.4,1263.6 L540.6,1258.8 L541.8,1251.1 L543.0,1245.0 L544.2,1241.6 L545.4,1237.3 L546.6,1232.9 L547.8,1230.1 L549.0,1230.6 L550.2,1233.7 L551.4,1237.3 L552.6,1241.3 L553.8,1242.9 L555.0,1245.0 L556.2,1247.3 L557.4,1248.9 L558.6,1249.3 L559.8,1248.2 L561.0,1248.2 L562.2,1249.3 L563.4,1249.2 L564.6,1248.5 L565.8,1248.2 L567.0,1249.3 L568.2,1250.6 L569.4,1250.3 L570.6,1250.7 L571.8,1250.6 L573.0,1251.1 L574.2,1251.9 L575.4,1252.9 L576.6,1253.9 L577.9,1254.2 L579.1,1254.6 L580.3,1254.8 L581.5,1255.6 L582.7,1255.5 L583.9,1256.9 L585.1,1257.1 L586.3,1258.3 L587.5,1258.5 L588.7,1260.1 L589.9,1261.9 L591.1,1263.7 L592.3,1264.9 L593.5,1265.7 L594.7,1266.4 L595.9,1266.7 L597.1,1266.8 L598.3,1266.4 L599.5,1266.1 L600.7,1266.8 L601.9,1267.0 L603.1,1267.8 L604.3,1267.6 L605.5,1268.6 L606.7,1269.1 L607.9,1270.2 L609.1,1269.8 L610.3,1269.8 L611.5,1269.4 L612.7,1269.7 L613.9,1269.2 L615.1,1269.9 L616.3,1270.2 L617.5,1270.5 L618.7,1270.0 L619.9,1269.8" fill="none" stroke="#2e57a7" stroke-width="2.8" stroke-linejoin="round" stroke-linecap="round"/><path d="M401.3,1235.9 L402.5,1236.3 L403.7,1238.9 L404.9,1239.5 L406.1,1238.9 L407.3,1237.3 L408.5,1235.6 L409.7,1232.4 L410.9,1229.5 L412.1,1227.4 L413.3,1226.0 L414.5,1223.4 L415.7,1220.6 L416.9,1218.5 L418.1,1217.7 L419.3,1215.2 L420.5,1213.2 L421.7,1206.2 L422.9,1199.6 L424.1,1193.3 L425.3,1190.6 L426.5,1188.5 L427.7,1185.6 L428.9,1184.5 L430.1,1183.8 L431.3,1185.6 L432.5,1187.4 L433.7,1190.0 L434.9,1192.9 L436.1,1198.3 L437.3,1205.4 L438.5,1211.1 L439.7,1215.1 L440.9,1217.8 L442.1,1220.9 L443.3,1222.8 L444.5,1224.5 L445.7,1225.1 L446.9,1225.5 L448.1,1225.2 L449.3,1224.5 L450.5,1225.0 L451.7,1224.1 L452.9,1223.0 L454.2,1220.4 L455.4,1219.4 L456.6,1218.8 L457.8,1215.6 L459.0,1209.4 L460.2,1203.0 L461.4,1197.6 L462.6,1193.0 L463.8,1186.7 L465.0,1182.5 L466.2,1180.8 L467.4,1180.3 L468.6,1180.7 L469.8,1180.3 L471.0,1181.1 L472.2,1181.3 L473.4,1182.7 L474.6,1183.5 L475.8,1184.7 L477.0,1182.9 L478.2,1179.5 L479.4,1170.8 L480.6,1163.4 L481.8,1158.4 L483.0,1153.3 L484.2,1148.8 L485.4,1146.1 L486.6,1150.6 L487.8,1157.5 L489.0,1164.9 L490.2,1170.9 L491.4,1176.6 L492.6,1186.4 L493.8,1195.5 L495.0,1203.1 L496.2,1209.7 L497.4,1216.5 L498.6,1222.8 L499.8,1226.1 L501.0,1228.0 L502.2,1227.9 L503.4,1227.5 L504.6,1226.0 L505.8,1226.9 L507.0,1227.4 L508.2,1227.8 L509.4,1226.5 L510.6,1225.9 L511.8,1225.2 L513.0,1224.8 L514.2,1224.6 L515.4,1223.8 L516.6,1223.3 L517.8,1222.5 L519.0,1224.6 L520.2,1225.3 L521.4,1226.5 L522.6,1226.3 L523.8,1227.5 L525.0,1228.6 L526.2,1230.3 L527.4,1232.4 L528.6,1233.1 L529.8,1234.9 L531.0,1235.6 L532.2,1237.2 L533.4,1237.3 L534.6,1238.6 L535.8,1238.8 L537.0,1240.4 L538.2,1240.0 L539.4,1238.6 L540.6,1230.9 L541.8,1222.3 L543.0,1214.0 L544.2,1209.7 L545.4,1203.3 L546.6,1198.3 L547.8,1193.6 L549.0,1193.7 L550.2,1193.6 L551.4,1195.3 L552.6,1196.4 L553.8,1199.5 L555.0,1203.9 L556.2,1209.9 L557.4,1213.9 L558.6,1217.1 L559.8,1221.7 L561.0,1228.1 L562.2,1233.0 L563.4,1233.1 L564.6,1231.6 L565.8,1230.2 L567.0,1228.3 L568.2,1227.1 L569.4,1225.8 L570.6,1225.0 L571.8,1222.4 L573.0,1220.0 L574.2,1218.7 L575.4,1219.4 L576.6,1221.3 L577.9,1224.9 L579.1,1227.2 L580.3,1228.9 L581.5,1230.3 L582.7,1231.3 L583.9,1233.0 L585.1,1232.5 L586.3,1234.1 L587.5,1234.5 L588.7,1236.3 L589.9,1236.5 L591.1,1237.8 L592.3,1239.0 L593.5,1239.4 L594.7,1240.3 L595.9,1240.8 L597.1,1241.4 L598.3,1242.3 L599.5,1241.9 L600.7,1242.5 L601.9,1241.4 L603.1,1242.2 L604.3,1241.3 L605.5,1241.7 L606.7,1241.0 L607.9,1241.5 L609.1,1241.3 L610.3,1241.4 L611.5,1241.6 L612.7,1242.1 L613.9,1241.4 L615.1,1240.3 L616.3,1239.8 L617.5,1241.0 L618.7,1242.1 L619.9,1242.5 L619.9,1262.4 L618.7,1262.2 L617.5,1262.0 L616.3,1261.3 L615.1,1261.6 L613.9,1262.2 L612.7,1263.4 L611.5,1263.3 L610.3,1262.2 L609.1,1260.9 L607.9,1261.2 L606.7,1262.6 L605.5,1263.9 L604.3,1263.8 L603.1,1263.7 L601.9,1263.3 L600.7,1263.3 L599.5,1262.8 L598.3,1262.1 L597.1,1260.6 L595.9,1259.5 L594.7,1259.9 L593.5,1259.9 L592.3,1259.1 L591.1,1257.7 L589.9,1257.1 L588.7,1257.2 L587.5,1256.0 L586.3,1255.3 L585.1,1254.9 L583.9,1254.8 L582.7,1253.6 L581.5,1252.7 L580.3,1252.0 L579.1,1251.8 L577.9,1250.6 L576.6,1248.5 L575.4,1246.3 L574.2,1245.3 L573.0,1244.6 L571.8,1245.8 L570.6,1246.2 L569.4,1247.8 L568.2,1248.2 L567.0,1250.7 L565.8,1253.6 L564.6,1255.1 L563.4,1255.8 L562.2,1255.0 L561.0,1252.7 L559.8,1248.5 L558.6,1243.4 L557.4,1241.2 L556.2,1237.2 L555.0,1235.3 L553.8,1232.3 L552.6,1230.3 L551.4,1227.3 L550.2,1223.5 L549.0,1222.3 L547.8,1222.0 L546.6,1226.2 L545.4,1230.7 L544.2,1235.6 L543.0,1238.8 L541.8,1243.9 L540.6,1250.8 L539.4,1255.8 L538.2,1258.7 L537.0,1257.8 L535.8,1257.9 L534.6,1255.9 L533.4,1255.9 L532.2,1253.5 L531.0,1252.3 L529.8,1250.4 L528.6,1249.3 L527.4,1249.3 L526.2,1247.3 L525.0,1246.7 L523.8,1245.6 L522.6,1246.0 L521.4,1244.5 L520.2,1244.2 L519.0,1243.7 L517.8,1243.0 L516.6,1242.7 L515.4,1242.8 L514.2,1243.9 L513.0,1244.2 L511.8,1243.9 L510.6,1244.0 L509.4,1243.9 L508.2,1244.1 L507.0,1245.3 L505.8,1245.3 L504.6,1246.6 L503.4,1247.3 L502.2,1248.6 L501.0,1248.1 L499.8,1247.4 L498.6,1244.4 L497.4,1240.8 L496.2,1235.5 L495.0,1231.2 L493.8,1224.8 L492.6,1215.6 L491.4,1206.6 L490.2,1199.8 L489.0,1195.5 L487.8,1190.4 L486.6,1186.4 L485.4,1183.6 L484.2,1184.7 L483.0,1189.3 L481.8,1194.7 L480.6,1199.9 L479.4,1206.9 L478.2,1212.6 L477.0,1216.2 L475.8,1216.6 L474.6,1216.0 L473.4,1214.5 L472.2,1214.2 L471.0,1212.8 L469.8,1212.1 L468.6,1211.4 L467.4,1211.2 L466.2,1211.5 L465.0,1212.5 L463.8,1215.5 L462.6,1219.1 L461.4,1221.7 L460.2,1225.3 L459.0,1229.7 L457.8,1235.3 L456.6,1238.4 L455.4,1240.7 L454.2,1240.5 L452.9,1240.9 L451.7,1241.3 L450.5,1241.8 L449.3,1242.8 L448.1,1242.1 L446.9,1242.2 L445.7,1241.8 L444.5,1240.6 L443.3,1239.7 L442.1,1238.8 L440.9,1237.3 L439.7,1236.0 L438.5,1233.6 L437.3,1229.0 L436.1,1223.4 L434.9,1218.9 L433.7,1217.5 L432.5,1215.4 L431.3,1213.4 L430.1,1211.4 L428.9,1211.2 L427.7,1212.1 L426.5,1215.5 L425.3,1217.9 L424.1,1220.3 L422.9,1224.8 L421.7,1229.4 L420.5,1233.8 L419.3,1234.6 L418.1,1236.8 L416.9,1238.8 L415.7,1240.7 L414.5,1242.0 L413.3,1243.3 L412.1,1245.1 L410.9,1246.6 L409.7,1248.4 L408.5,1250.2 L407.3,1251.5 L406.1,1253.3 L404.9,1253.2 L403.7,1253.4 L402.5,1252.0 L401.3,1251.7Z" fill="#eca2a7"/><path d="M401.3,1243.7 L402.5,1244.4 L403.7,1245.2 L404.9,1246.1 L406.1,1245.8 L407.3,1244.6 L408.5,1242.6 L409.7,1240.5 L410.9,1238.2 L412.1,1235.8 L413.3,1234.4 L414.5,1233.5 L415.7,1231.9 L416.9,1229.7 L418.1,1226.8 L419.3,1225.4 L420.5,1222.6 L421.7,1217.9 L422.9,1211.1 L424.1,1206.9 L425.3,1204.6 L426.5,1202.5 L427.7,1199.1 L428.9,1197.3 L430.1,1198.1 L431.3,1199.7 L432.5,1201.9 L433.7,1203.3 L434.9,1205.5 L436.1,1209.9 L437.3,1216.6 L438.5,1222.4 L439.7,1225.4 L440.9,1227.7 L442.1,1229.7 L443.3,1231.8 L444.5,1231.9 L445.7,1231.7 L446.9,1231.6 L448.1,1231.7 L449.3,1232.9 L450.5,1233.1 L451.7,1233.1 L452.9,1232.5 L454.2,1231.6 L455.4,1231.3 L456.6,1229.4 L457.8,1226.0 L459.0,1219.3 L460.2,1213.7 L461.4,1209.3 L462.6,1206.6 L463.8,1202.1 L465.0,1197.9 L466.2,1195.1 L467.4,1195.1 L468.6,1196.3 L469.8,1197.4 L471.0,1197.8 L472.2,1197.7 L473.4,1198.5 L474.6,1199.2 L475.8,1200.7 L477.0,1199.2 L478.2,1195.2 L479.4,1187.5 L480.6,1180.8 L481.8,1176.1 L483.0,1172.0 L484.2,1167.0 L485.4,1165.5 L486.6,1168.1 L487.8,1173.7 L489.0,1180.1 L490.2,1185.4 L491.4,1192.0 L492.6,1200.9 L493.8,1210.0 L495.0,1216.4 L496.2,1221.8 L497.4,1227.5 L498.6,1232.7 L499.8,1235.5 L501.0,1236.8 L502.2,1236.7 L503.4,1236.2 L504.6,1235.4 L505.8,1235.1 L507.0,1235.7 L508.2,1235.9 L509.4,1236.0 L510.6,1235.1 L511.8,1234.0 L513.0,1233.4 L514.2,1233.6 L515.4,1234.2 L516.6,1234.4 L517.8,1234.3 L519.0,1234.4 L520.2,1235.2 L521.4,1235.0 L522.6,1236.2 L523.8,1237.1 L525.0,1238.7 L526.2,1239.8 L527.4,1240.8 L528.6,1241.6 L529.8,1242.2 L531.0,1243.0 L532.2,1244.4 L533.4,1245.8 L534.6,1246.6 L535.8,1247.9 L537.0,1248.8 L538.2,1249.3 L539.4,1247.1 L540.6,1241.1 L541.8,1233.7 L543.0,1227.2 L544.2,1223.7 L545.4,1218.8 L546.6,1213.8 L547.8,1208.8 L549.0,1208.0 L550.2,1208.6 L551.4,1212.0 L552.6,1213.8 L553.8,1216.0 L555.0,1219.2 L556.2,1223.5 L557.4,1227.8 L558.6,1231.1 L559.8,1235.3 L561.0,1239.4 L562.2,1242.1 L563.4,1243.2 L564.6,1242.7 L565.8,1240.6 L567.0,1239.0 L568.2,1237.5 L569.4,1236.7 L570.6,1235.3 L571.8,1233.0 L573.0,1232.4 L574.2,1232.0 L575.4,1233.3 L576.6,1234.9 L577.9,1237.1 L579.1,1239.0 L580.3,1241.0 L581.5,1241.8 L582.7,1243.1 L583.9,1243.0 L585.1,1244.7 L586.3,1245.0 L587.5,1246.0 L588.7,1246.9 L589.9,1248.3 L591.1,1249.3 L592.3,1249.2 L593.5,1249.7 L594.7,1250.4 L595.9,1251.9 L597.1,1252.9 L598.3,1253.7 L599.5,1253.8 L600.7,1252.7 L601.9,1252.3 L603.1,1251.5 L604.3,1251.5 L605.5,1251.1 L606.7,1251.5 L607.9,1251.2 L609.1,1250.9 L610.3,1249.9 L611.5,1250.5 L612.7,1250.4 L613.9,1251.6 L615.1,1251.5 L616.3,1251.7 L617.5,1251.1 L618.7,1251.4 L619.9,1251.3" fill="none" stroke="#e9492f" stroke-width="2.8" stroke-linejoin="round" stroke-linecap="round"/></g>
<line x1="401.30" y1="1123.50" x2="401.30" y2="1339.50" stroke="#231f20" stroke-width="1.7"/>
<line x1="398.10" y1="1338.70" x2="619.90" y2="1338.70" stroke="#231f20" stroke-width="1.8"/>
<line x1="396.10" y1="1134.40" x2="401.30" y2="1134.40" stroke="#231f20" stroke-width="1.6"/>
<line x1="396.10" y1="1237.60" x2="401.30" y2="1237.60" stroke="#231f20" stroke-width="1.6"/>
<line x1="446.60" y1="1338.70" x2="446.60" y2="1343.50" stroke="#231f20" stroke-width="1.6"/>
<line x1="540.60" y1="1338.70" x2="540.60" y2="1343.50" stroke="#231f20" stroke-width="1.6"/>
<text x="380.70" y="1142.90" font-size="22.5" fill="#231f20">2</text>
<text x="380.36" y="1246.10" font-size="22.5" fill="#231f20">1</text>
<text x="428.88" y="1367.50" font-size="22.5" fill="#231f20">−2</text>
<text x="533.45" y="1367.50" font-size="22.5" fill="#231f20">0</text>
<text x="477.68" y="1128.60" font-size="22.3" fill="#231f20">No stim</text>
<text x="440.63" y="1159.40" font-size="22.3" fill="#231f20">S</text>
<text x="502.33" y="1159.40" font-size="22.3" fill="#231f20">D</text>
<text x="568.64" y="1159.40" font-size="22.3" fill="#231f20">R</text>
<line x1="680.60" y1="1341.80" x2="680.60" y2="1146.00" stroke="#1e1e1e" stroke-width="1.3" stroke-dasharray="2.6 1.9"/>
<line x1="741.20" y1="1341.80" x2="741.20" y2="1146.00" stroke="#1e1e1e" stroke-width="1.3" stroke-dasharray="2.6 1.9"/>
<line x1="801.75" y1="1341.80" x2="801.75" y2="1146.00" stroke="#1e1e1e" stroke-width="1.3" stroke-dasharray="2.6 1.9"/>
<line x1="662.40" y1="1240.10" x2="876.90" y2="1240.10" stroke="#1e1e1e" stroke-width="1.3" stroke-dasharray="2.4 2.3"/>
<g clip-path="url(#c12)"><path d="M662.4,1232.0 L663.6,1232.3 L664.8,1233.2 L666.0,1234.0 L667.2,1235.3 L668.4,1236.4 L669.6,1239.2 L670.8,1242.0 L672.0,1243.5 L673.3,1241.4 L674.5,1237.0 L675.7,1230.1 L676.9,1224.5 L678.1,1219.0 L679.3,1216.3 L680.5,1211.8 L681.7,1208.0 L682.9,1202.7 L684.1,1198.4 L685.3,1195.1 L686.5,1192.1 L687.7,1189.8 L688.9,1187.1 L690.1,1185.9 L691.3,1184.7 L692.5,1184.8 L693.7,1187.3 L694.9,1193.4 L696.1,1199.3 L697.3,1203.0 L698.6,1205.5 L699.8,1208.8 L701.0,1212.8 L702.2,1215.3 L703.4,1217.9 L704.6,1223.1 L705.8,1227.2 L707.0,1231.7 L708.2,1232.2 L709.4,1234.7 L710.6,1236.3 L711.8,1238.1 L713.0,1238.8 L714.2,1238.6 L715.4,1237.8 L716.6,1238.1 L717.8,1238.0 L719.0,1238.1 L720.2,1237.2 L721.4,1237.4 L722.7,1234.5 L723.9,1229.8 L725.1,1223.5 L726.3,1220.7 L727.5,1219.4 L728.7,1219.2 L729.9,1220.6 L731.1,1221.1 L732.3,1223.1 L733.5,1224.2 L734.7,1226.3 L735.9,1227.4 L737.1,1224.9 L738.3,1218.9 L739.5,1209.7 L740.7,1202.0 L741.9,1197.0 L743.1,1192.0 L744.3,1188.8 L745.5,1187.4 L746.7,1188.3 L748.0,1189.2 L749.2,1192.4 L750.4,1195.0 L751.6,1203.0 L752.8,1211.0 L754.0,1218.7 L755.2,1222.5 L756.4,1228.0 L757.6,1233.0 L758.8,1237.3 L760.0,1241.0 L761.2,1243.6 L762.4,1246.8 L763.6,1248.7 L764.8,1250.3 L766.0,1251.8 L767.2,1253.1 L768.4,1255.7 L769.6,1258.0 L770.8,1260.0 L772.0,1260.2 L773.3,1262.0 L774.5,1262.5 L775.7,1264.3 L776.9,1264.3 L778.1,1265.1 L779.3,1265.6 L780.5,1266.8 L781.7,1268.1 L782.9,1267.7 L784.1,1265.3 L785.3,1263.5 L786.5,1261.6 L787.7,1260.5 L788.9,1258.3 L790.1,1257.0 L791.3,1255.7 L792.5,1254.5 L793.7,1253.4 L794.9,1251.6 L796.1,1250.5 L797.4,1247.5 L798.6,1244.4 L799.8,1240.3 L801.0,1237.2 L802.2,1230.3 L803.4,1220.5 L804.6,1209.8 L805.8,1201.3 L807.0,1197.8 L808.2,1196.8 L809.4,1197.6 L810.6,1197.7 L811.8,1198.0 L813.0,1198.3 L814.2,1199.9 L815.4,1202.6 L816.6,1204.9 L817.8,1206.9 L819.0,1208.3 L820.2,1211.2 L821.4,1211.8 L822.7,1213.3 L823.9,1213.0 L825.1,1213.6 L826.3,1213.8 L827.5,1214.9 L828.7,1216.0 L829.9,1216.3 L831.1,1215.9 L832.3,1216.8 L833.5,1217.3 L834.7,1218.7 L835.9,1218.8 L837.1,1222.0 L838.3,1225.3 L839.5,1228.4 L840.7,1230.8 L841.9,1232.2 L843.1,1235.1 L844.3,1237.1 L845.5,1238.7 L846.7,1239.3 L848.0,1240.3 L849.2,1241.1 L850.4,1240.8 L851.6,1240.0 L852.8,1239.7 L854.0,1240.1 L855.2,1240.0 L856.4,1238.4 L857.6,1237.7 L858.8,1237.3 L860.0,1237.2 L861.2,1236.1 L862.4,1234.7 L863.6,1235.2 L864.8,1235.2 L866.0,1236.7 L867.2,1239.8 L868.4,1243.3 L869.6,1246.1 L870.8,1247.3 L872.1,1248.6 L873.3,1250.0 L874.5,1249.8 L875.7,1250.6 L875.7,1275.3 L874.5,1274.6 L873.3,1273.2 L872.1,1270.8 L870.8,1268.9 L869.6,1267.5 L868.4,1266.4 L867.2,1264.9 L866.0,1263.0 L864.8,1262.8 L863.6,1261.8 L862.4,1261.1 L861.2,1260.0 L860.0,1260.5 L858.8,1261.7 L857.6,1263.6 L856.4,1264.0 L855.2,1264.7 L854.0,1265.7 L852.8,1265.9 L851.6,1266.2 L850.4,1264.7 L849.2,1264.8 L848.0,1265.2 L846.7,1265.7 L845.5,1265.2 L844.3,1263.0 L843.1,1261.8 L841.9,1260.9 L840.7,1259.4 L839.5,1257.1 L838.3,1254.6 L837.1,1252.8 L835.9,1251.0 L834.7,1249.4 L833.5,1249.0 L832.3,1249.2 L831.1,1249.0 L829.9,1248.7 L828.7,1248.3 L827.5,1247.9 L826.3,1246.8 L825.1,1244.7 L823.9,1244.2 L822.7,1242.6 L821.4,1242.9 L820.2,1241.3 L819.0,1241.4 L817.8,1239.3 L816.6,1238.2 L815.4,1236.8 L814.2,1236.5 L813.0,1236.3 L811.8,1236.2 L810.6,1236.4 L809.4,1237.1 L808.2,1237.3 L807.0,1238.4 L805.8,1239.7 L804.6,1243.5 L803.4,1248.5 L802.2,1254.2 L801.0,1258.6 L799.8,1260.3 L798.6,1264.1 L797.4,1266.9 L796.1,1270.9 L794.9,1272.6 L793.7,1274.5 L792.5,1275.4 L791.3,1276.0 L790.1,1277.3 L788.9,1277.5 L787.7,1279.4 L786.5,1280.4 L785.3,1283.3 L784.1,1284.7 L782.9,1287.6 L781.7,1287.8 L780.5,1288.0 L779.3,1286.7 L778.1,1285.7 L776.9,1285.2 L775.7,1283.6 L774.5,1282.7 L773.3,1280.4 L772.0,1280.1 L770.8,1278.5 L769.6,1277.3 L768.4,1275.8 L767.2,1274.9 L766.0,1273.7 L764.8,1271.6 L763.6,1269.5 L762.4,1267.1 L761.2,1265.1 L760.0,1264.2 L758.8,1262.3 L757.6,1258.8 L756.4,1253.6 L755.2,1249.4 L754.0,1245.8 L752.8,1238.2 L751.6,1229.2 L750.4,1220.3 L749.2,1218.0 L748.0,1215.1 L746.7,1215.0 L745.5,1213.7 L744.3,1214.5 L743.1,1215.3 L741.9,1218.3 L740.7,1221.0 L739.5,1227.7 L738.3,1233.9 L737.1,1239.4 L735.9,1241.4 L734.7,1242.3 L733.5,1241.2 L732.3,1239.3 L731.1,1236.8 L729.9,1236.7 L728.7,1235.8 L727.5,1236.1 L726.3,1237.2 L725.1,1239.9 L723.9,1245.4 L722.7,1249.1 L721.4,1251.3 L720.2,1252.9 L719.0,1253.6 L717.8,1254.1 L716.6,1254.1 L715.4,1254.5 L714.2,1254.5 L713.0,1253.8 L711.8,1252.3 L710.6,1250.6 L709.4,1248.1 L708.2,1247.6 L707.0,1247.6 L705.8,1244.4 L704.6,1239.5 L703.4,1234.4 L702.2,1232.7 L701.0,1230.0 L699.8,1229.2 L698.6,1227.8 L697.3,1226.1 L696.1,1221.3 L694.9,1214.5 L693.7,1209.4 L692.5,1206.2 L691.3,1205.8 L690.1,1206.9 L688.9,1209.3 L687.7,1211.9 L686.5,1214.8 L685.3,1215.7 L684.1,1219.4 L682.9,1223.8 L681.7,1229.1 L680.5,1233.0 L679.3,1235.8 L678.1,1239.0 L676.9,1242.2 L675.7,1247.0 L674.5,1251.2 L673.3,1255.9 L672.0,1257.8 L670.8,1257.3 L669.6,1254.5 L668.4,1252.4 L667.2,1251.6 L666.0,1249.9 L664.8,1249.5 L663.6,1248.8 L662.4,1248.6Z" fill="#a0a3cb"/><path d="M662.4,1239.2 L663.6,1239.6 L664.8,1240.7 L666.0,1242.9 L667.2,1243.4 L668.4,1244.5 L669.6,1246.2 L670.8,1250.7 L672.0,1251.9 L673.3,1249.8 L674.5,1244.4 L675.7,1237.8 L676.9,1232.7 L678.1,1228.9 L679.3,1226.5 L680.5,1222.7 L681.7,1218.5 L682.9,1214.0 L684.1,1209.6 L685.3,1206.1 L686.5,1203.2 L687.7,1201.2 L688.9,1199.8 L690.1,1198.3 L691.3,1196.5 L692.5,1196.1 L693.7,1198.4 L694.9,1203.8 L696.1,1209.7 L697.3,1215.0 L698.6,1217.0 L699.8,1219.7 L701.0,1221.8 L702.2,1224.4 L703.4,1226.6 L704.6,1230.7 L705.8,1235.3 L707.0,1238.5 L708.2,1240.2 L709.4,1241.5 L710.6,1243.4 L711.8,1244.3 L713.0,1245.6 L714.2,1246.1 L715.4,1246.7 L716.6,1246.4 L717.8,1246.0 L719.0,1245.0 L720.2,1243.9 L721.4,1243.1 L722.7,1240.8 L723.9,1235.9 L725.1,1231.0 L726.3,1227.1 L727.5,1226.5 L728.7,1227.1 L729.9,1227.9 L731.1,1228.8 L732.3,1229.0 L733.5,1231.3 L734.7,1233.0 L735.9,1233.8 L737.1,1232.0 L738.3,1225.3 L739.5,1217.0 L740.7,1210.5 L741.9,1207.0 L743.1,1203.5 L744.3,1200.6 L745.5,1200.2 L746.7,1200.6 L748.0,1202.2 L749.2,1203.9 L750.4,1207.2 L751.6,1214.6 L752.8,1223.9 L754.0,1231.9 L755.2,1236.4 L756.4,1240.5 L757.6,1244.9 L758.8,1248.7 L760.0,1252.4 L761.2,1254.7 L762.4,1256.2 L763.6,1259.0 L764.8,1261.2 L766.0,1264.4 L767.2,1266.3 L768.4,1267.1 L769.6,1267.3 L770.8,1267.8 L772.0,1270.0 L773.3,1271.5 L774.5,1272.6 L775.7,1272.5 L776.9,1273.5 L778.1,1275.2 L779.3,1277.5 L780.5,1278.3 L781.7,1278.9 L782.9,1278.6 L784.1,1277.1 L785.3,1273.9 L786.5,1270.1 L787.7,1267.3 L788.9,1265.4 L790.1,1265.1 L791.3,1264.6 L792.5,1264.9 L793.7,1264.3 L794.9,1263.6 L796.1,1261.3 L797.4,1258.0 L798.6,1254.6 L799.8,1250.5 L801.0,1247.4 L802.2,1241.3 L803.4,1233.9 L804.6,1226.3 L805.8,1220.2 L807.0,1217.0 L808.2,1215.7 L809.4,1215.7 L810.6,1217.0 L811.8,1217.2 L813.0,1217.9 L814.2,1217.8 L815.4,1219.6 L816.6,1221.3 L817.8,1223.3 L819.0,1225.1 L820.2,1226.3 L821.4,1227.9 L822.7,1229.1 L823.9,1229.6 L825.1,1230.9 L826.3,1230.6 L827.5,1231.1 L828.7,1231.0 L829.9,1231.5 L831.1,1232.3 L832.3,1232.6 L833.5,1233.4 L834.7,1233.8 L835.9,1234.0 L837.1,1236.4 L838.3,1239.9 L839.5,1243.7 L840.7,1245.6 L841.9,1247.6 L843.1,1249.4 L844.3,1250.3 L845.5,1251.5 L846.7,1251.8 L848.0,1253.1 L849.2,1252.7 L850.4,1253.2 L851.6,1253.5 L852.8,1253.9 L854.0,1253.1 L855.2,1251.8 L856.4,1250.7 L857.6,1250.7 L858.8,1250.4 L860.0,1250.4 L861.2,1249.0 L862.4,1248.9 L863.6,1248.8 L864.8,1249.3 L866.0,1250.0 L867.2,1252.4 L868.4,1255.2 L869.6,1256.8 L870.8,1257.1 L872.1,1259.3 L873.3,1260.5 L874.5,1261.6 L875.7,1262.1" fill="none" stroke="#2e57a7" stroke-width="2.8" stroke-linejoin="round" stroke-linecap="round"/><path d="M662.4,1233.4 L663.6,1234.1 L664.8,1234.9 L666.0,1235.0 L667.2,1235.1 L668.4,1235.4 L669.6,1237.5 L670.8,1239.3 L672.0,1239.3 L673.3,1235.9 L674.5,1230.9 L675.7,1224.5 L676.9,1219.0 L678.1,1214.5 L679.3,1212.2 L680.5,1208.7 L681.7,1205.0 L682.9,1201.5 L684.1,1198.8 L685.3,1196.6 L686.5,1195.3 L687.7,1194.0 L688.9,1193.0 L690.1,1190.9 L691.3,1190.6 L692.5,1191.1 L693.7,1191.6 L694.9,1193.2 L696.1,1195.4 L697.3,1197.8 L698.6,1201.3 L699.8,1206.8 L701.0,1213.6 L702.2,1218.1 L703.4,1222.5 L704.6,1229.2 L705.8,1233.6 L707.0,1233.9 L708.2,1231.1 L709.4,1226.5 L710.6,1222.0 L711.8,1219.6 L713.0,1217.8 L714.2,1214.5 L715.4,1210.4 L716.6,1207.4 L717.8,1205.5 L719.0,1204.3 L720.2,1203.1 L721.4,1198.9 L722.7,1194.1 L723.9,1190.3 L725.1,1189.1 L726.3,1189.6 L727.5,1191.0 L728.7,1194.2 L729.9,1197.4 L731.1,1200.7 L732.3,1204.4 L733.5,1207.0 L734.7,1206.1 L735.9,1203.4 L737.1,1198.2 L738.3,1193.4 L739.5,1189.8 L740.7,1186.1 L741.9,1180.0 L743.1,1173.4 L744.3,1169.0 L745.5,1168.9 L746.7,1173.7 L748.0,1181.7 L749.2,1188.8 L750.4,1194.0 L751.6,1201.8 L752.8,1211.1 L754.0,1218.9 L755.2,1224.5 L756.4,1229.6 L757.6,1234.4 L758.8,1237.6 L760.0,1240.4 L761.2,1243.5 L762.4,1246.6 L763.6,1249.9 L764.8,1252.3 L766.0,1254.9 L767.2,1256.6 L768.4,1258.5 L769.6,1261.6 L770.8,1264.7 L772.0,1267.4 L773.3,1268.1 L774.5,1267.4 L775.7,1268.0 L776.9,1267.9 L778.1,1269.2 L779.3,1267.4 L780.5,1267.0 L781.7,1264.5 L782.9,1262.2 L784.1,1259.5 L785.3,1257.4 L786.5,1255.3 L787.7,1252.9 L788.9,1249.7 L790.1,1247.6 L791.3,1243.9 L792.5,1240.4 L793.7,1239.5 L794.9,1240.5 L796.1,1243.7 L797.4,1242.7 L798.6,1241.1 L799.8,1234.9 L801.0,1227.1 L802.2,1218.1 L803.4,1208.5 L804.6,1201.6 L805.8,1198.7 L807.0,1200.6 L808.2,1206.0 L809.4,1211.9 L810.6,1217.3 L811.8,1219.8 L813.0,1223.2 L814.2,1228.2 L815.4,1233.2 L816.6,1236.1 L817.8,1239.8 L819.0,1246.0 L820.2,1253.3 L821.4,1258.0 L822.7,1259.9 L823.9,1260.8 L825.1,1262.7 L826.3,1264.1 L827.5,1264.2 L828.7,1265.6 L829.9,1265.9 L831.1,1266.0 L832.3,1264.6 L833.5,1263.5 L834.7,1263.4 L835.9,1264.6 L837.1,1264.8 L838.3,1264.7 L839.5,1264.7 L840.7,1265.2 L841.9,1264.7 L843.1,1263.9 L844.3,1262.7 L845.5,1263.6 L846.7,1262.4 L848.0,1263.3 L849.2,1262.8 L850.4,1263.6 L851.6,1263.0 L852.8,1262.5 L854.0,1262.7 L855.2,1263.1 L856.4,1263.8 L857.6,1264.5 L858.8,1264.8 L860.0,1266.2 L861.2,1265.3 L862.4,1265.0 L863.6,1263.7 L864.8,1263.1 L866.0,1262.0 L867.2,1261.9 L868.4,1261.8 L869.6,1262.0 L870.8,1262.9 L872.1,1264.2 L873.3,1265.6 L874.5,1265.8 L875.7,1265.4 L875.7,1283.2 L874.5,1284.2 L873.3,1284.6 L872.1,1285.3 L870.8,1285.1 L869.6,1285.0 L868.4,1285.4 L867.2,1284.9 L866.0,1284.2 L864.8,1283.1 L863.6,1284.1 L862.4,1284.6 L861.2,1285.3 L860.0,1285.5 L858.8,1285.6 L857.6,1285.7 L856.4,1284.0 L855.2,1284.0 L854.0,1284.1 L852.8,1285.2 L851.6,1284.7 L850.4,1283.7 L849.2,1282.6 L848.0,1283.3 L846.7,1283.7 L845.5,1285.0 L844.3,1283.7 L843.1,1283.9 L841.9,1283.6 L840.7,1285.6 L839.5,1286.1 L838.3,1286.2 L837.1,1284.9 L835.9,1284.0 L834.7,1283.9 L833.5,1283.0 L832.3,1284.5 L831.1,1284.8 L829.9,1285.6 L828.7,1285.6 L827.5,1284.9 L826.3,1285.5 L825.1,1284.6 L823.9,1284.9 L822.7,1283.5 L821.4,1281.7 L820.2,1277.5 L819.0,1273.2 L817.8,1269.0 L816.6,1265.9 L815.4,1264.5 L814.2,1261.8 L813.0,1259.4 L811.8,1255.7 L810.6,1253.4 L809.4,1248.5 L808.2,1244.8 L807.0,1241.9 L805.8,1241.8 L804.6,1242.6 L803.4,1246.1 L802.2,1251.3 L801.0,1256.4 L799.8,1261.2 L798.6,1263.6 L797.4,1265.1 L796.1,1263.8 L794.9,1262.8 L793.7,1262.8 L792.5,1264.4 L791.3,1266.4 L790.1,1268.9 L788.9,1271.7 L787.7,1275.9 L786.5,1279.2 L785.3,1281.3 L784.1,1282.6 L782.9,1283.8 L781.7,1286.2 L780.5,1288.8 L779.3,1290.2 L778.1,1290.7 L776.9,1290.7 L775.7,1290.0 L774.5,1290.6 L773.3,1290.6 L772.0,1290.7 L770.8,1288.8 L769.6,1286.6 L768.4,1283.7 L767.2,1282.3 L766.0,1279.8 L764.8,1278.0 L763.6,1275.9 L762.4,1273.2 L761.2,1272.0 L760.0,1269.7 L758.8,1267.2 L757.6,1262.8 L756.4,1255.9 L755.2,1250.4 L754.0,1245.1 L752.8,1238.0 L751.6,1229.9 L750.4,1223.6 L749.2,1219.0 L748.0,1214.4 L746.7,1208.5 L745.5,1205.5 L744.3,1204.2 L743.1,1206.4 L741.9,1211.0 L740.7,1215.5 L739.5,1218.1 L738.3,1220.4 L737.1,1223.7 L735.9,1228.3 L734.7,1232.3 L733.5,1233.5 L732.3,1230.6 L731.1,1226.9 L729.9,1225.2 L728.7,1222.7 L727.5,1219.3 L726.3,1216.9 L725.1,1216.4 L723.9,1217.9 L722.7,1220.7 L721.4,1223.9 L720.2,1226.8 L719.0,1227.2 L717.8,1227.8 L716.6,1229.3 L715.4,1233.0 L714.2,1236.9 L713.0,1238.9 L711.8,1241.0 L710.6,1243.5 L709.4,1248.0 L708.2,1251.3 L707.0,1254.5 L705.8,1255.8 L704.6,1252.4 L703.4,1246.8 L702.2,1242.4 L701.0,1237.3 L699.8,1230.6 L698.6,1225.4 L697.3,1223.0 L696.1,1220.8 L694.9,1217.8 L693.7,1216.5 L692.5,1216.9 L691.3,1217.9 L690.1,1218.9 L688.9,1219.6 L687.7,1220.0 L686.5,1220.7 L685.3,1222.2 L684.1,1224.7 L682.9,1227.4 L681.7,1229.0 L680.5,1231.3 L679.3,1233.7 L678.1,1236.0 L676.9,1239.1 L675.7,1243.3 L674.5,1247.4 L673.3,1251.4 L672.0,1253.4 L670.8,1253.6 L669.6,1251.1 L668.4,1248.9 L667.2,1248.7 L666.0,1248.6 L664.8,1248.9 L663.6,1247.4 L662.4,1245.7Z" fill="#eca2a7"/><path d="M662.4,1241.0 L663.6,1241.0 L664.8,1241.1 L666.0,1241.2 L667.2,1242.5 L668.4,1242.8 L669.6,1244.6 L670.8,1246.8 L672.0,1247.7 L673.3,1244.4 L674.5,1239.5 L675.7,1233.1 L676.9,1228.9 L678.1,1225.9 L679.3,1223.7 L680.5,1220.0 L681.7,1216.7 L682.9,1213.8 L684.1,1212.4 L685.3,1210.9 L686.5,1210.3 L687.7,1208.0 L688.9,1206.2 L690.1,1204.5 L691.3,1203.9 L692.5,1203.4 L693.7,1203.7 L694.9,1204.8 L696.1,1206.8 L697.3,1209.5 L698.6,1213.3 L699.8,1219.3 L701.0,1225.4 L702.2,1229.3 L703.4,1234.2 L704.6,1239.9 L705.8,1244.2 L707.0,1243.6 L708.2,1240.9 L709.4,1237.0 L710.6,1233.1 L711.8,1230.6 L713.0,1229.1 L714.2,1226.3 L715.4,1222.7 L716.6,1219.5 L717.8,1216.8 L719.0,1215.6 L720.2,1214.5 L721.4,1212.1 L722.7,1209.0 L723.9,1206.1 L725.1,1204.2 L726.3,1204.4 L727.5,1206.0 L728.7,1209.3 L729.9,1212.3 L731.1,1214.9 L732.3,1217.7 L733.5,1219.0 L734.7,1218.6 L735.9,1216.5 L737.1,1212.4 L738.3,1207.1 L739.5,1203.5 L740.7,1200.4 L741.9,1195.2 L743.1,1189.9 L744.3,1186.1 L745.5,1187.2 L746.7,1191.9 L748.0,1198.1 L749.2,1203.9 L750.4,1207.5 L751.6,1215.9 L752.8,1224.2 L754.0,1232.1 L755.2,1236.5 L756.4,1242.8 L757.6,1248.2 L758.8,1252.2 L760.0,1254.9 L761.2,1257.7 L762.4,1261.2 L763.6,1263.3 L764.8,1265.9 L766.0,1267.3 L767.2,1269.0 L768.4,1270.9 L769.6,1273.7 L770.8,1276.2 L772.0,1277.8 L773.3,1278.0 L774.5,1278.2 L775.7,1278.3 L776.9,1278.4 L778.1,1278.7 L779.3,1278.6 L780.5,1277.5 L781.7,1275.5 L782.9,1272.6 L784.1,1271.0 L785.3,1268.4 L786.5,1267.3 L787.7,1265.5 L788.9,1263.1 L790.1,1259.3 L791.3,1255.6 L792.5,1253.0 L793.7,1252.1 L794.9,1252.4 L796.1,1254.0 L797.4,1254.8 L798.6,1253.4 L799.8,1248.4 L801.0,1241.4 L802.2,1234.5 L803.4,1227.2 L804.6,1221.7 L805.8,1219.5 L807.0,1221.7 L808.2,1225.4 L809.4,1230.2 L810.6,1234.9 L811.8,1237.7 L813.0,1241.7 L814.2,1246.0 L815.4,1249.7 L816.6,1252.7 L817.8,1255.4 L819.0,1260.1 L820.2,1264.4 L821.4,1269.2 L822.7,1271.9 L823.9,1273.0 L825.1,1273.7 L826.3,1274.8 L827.5,1275.4 L828.7,1276.1 L829.9,1275.3 L831.1,1274.4 L832.3,1273.2 L833.5,1273.0 L834.7,1273.7 L835.9,1274.8 L837.1,1275.0 L838.3,1275.3 L839.5,1274.7 L840.7,1274.5 L841.9,1273.6 L843.1,1273.2 L844.3,1272.8 L845.5,1272.7 L846.7,1272.2 L848.0,1272.5 L849.2,1272.8 L850.4,1272.5 L851.6,1272.9 L852.8,1272.5 L854.0,1273.5 L855.2,1273.8 L856.4,1274.6 L857.6,1274.7 L858.8,1275.4 L860.0,1276.2 L861.2,1276.0 L862.4,1274.6 L863.6,1274.0 L864.8,1273.3 L866.0,1272.9 L867.2,1272.6 L868.4,1273.2 L869.6,1274.0 L870.8,1273.5 L872.1,1273.4 L873.3,1274.1 L874.5,1275.0 L875.7,1275.1" fill="none" stroke="#e9492f" stroke-width="2.8" stroke-linejoin="round" stroke-linecap="round"/></g>
<rect x="741.90" y="1125.40" width="59.10" height="22.30" fill="#17a3db"/>
<line x1="662.40" y1="1125.40" x2="662.40" y2="1342.60" stroke="#231f20" stroke-width="1.7"/>
<line x1="661.60" y1="1341.80" x2="880.50" y2="1341.80" stroke="#231f20" stroke-width="1.8"/>
<line x1="657.20" y1="1137.10" x2="662.40" y2="1137.10" stroke="#231f20" stroke-width="1.6"/>
<line x1="657.20" y1="1240.10" x2="662.40" y2="1240.10" stroke="#231f20" stroke-width="1.6"/>
<line x1="708.50" y1="1341.80" x2="708.50" y2="1346.60" stroke="#231f20" stroke-width="1.6"/>
<line x1="801.75" y1="1341.80" x2="801.75" y2="1346.60" stroke="#231f20" stroke-width="1.6"/>
<text x="638.70" y="1145.60" font-size="22.5" fill="#231f20">2</text>
<text x="638.36" y="1248.60" font-size="22.5" fill="#231f20">1</text>
<text x="689.38" y="1367.50" font-size="22.5" fill="#231f20">−2</text>
<text x="794.60" y="1367.50" font-size="22.5" fill="#231f20">0</text>
<line x1="926.50" y1="1281.70" x2="935.00" y2="1281.40" stroke="#f3c6c9" stroke-width="0.8"/>
<text x="982.46" y="794.70" font-size="43.5" font-weight="bold" fill="#231f20">d</text>
<text x="1079.71" y="791.00" font-size="29.7" fill="#231f20">SC photoinhibition</text>
<text x="1124.27" y="826.00" font-size="29.7" fill="#231f20">ALM record</text>
<text x="1059.28" y="861.00" font-size="29.7" fill="#231f20">Opposite hemisphere</text>
<text x="1070.65" y="908.00" font-size="22.5" fill="#231f20">VGAT-ChR2-EYFP mice</text>
<ellipse cx="1077.50" cy="1018.40" rx="57.85" ry="51.30" fill="#fff" stroke="#231f20" stroke-width="3.4"/>
<ellipse cx="1079.00" cy="1174.10" rx="57.95" ry="51.25" fill="#fff" stroke="#231f20" stroke-width="3.4"/>
<ellipse cx="1288.00" cy="1017.90" rx="58.90" ry="51.00" fill="#fff" stroke="#231f20" stroke-width="3.4"/>
<ellipse cx="1289.90" cy="1174.10" rx="58.80" ry="51.20" fill="#fff" stroke="#231f20" stroke-width="3.4"/>
<line x1="1068.90" y1="1069.10" x2="1068.90" y2="1110.50" stroke="#231f20" stroke-width="3.8"/>
<line x1="1056.60" y1="1110.50" x2="1081.00" y2="1110.50" stroke="#231f20" stroke-width="3.8"/>
<line x1="1089.60" y1="1078.60" x2="1089.60" y2="1122.60" stroke="#231f20" stroke-width="3.8"/>
<line x1="1077.30" y1="1078.60" x2="1102.10" y2="1078.60" stroke="#231f20" stroke-width="3.8"/>
<circle cx="1043.50" cy="1016.70" r="17.50" fill="#ea2836" stroke="none" stroke-width="0"/>
<circle cx="1070.20" cy="1044.20" r="17.40" fill="#ea2836" stroke="none" stroke-width="0"/>
<circle cx="1076.50" cy="985.70" r="9.80" fill="#2c4597" stroke="none" stroke-width="0"/>
<circle cx="1104.80" cy="1014.50" r="9.80" fill="#2c4597" stroke="none" stroke-width="0"/>
<circle cx="1079.60" cy="1148.10" r="17.30" fill="#2c4597" stroke="none" stroke-width="0"/>
<circle cx="1106.50" cy="1175.90" r="17.50" fill="#2c4597" stroke="none" stroke-width="0"/>
<circle cx="1046.30" cy="1177.10" r="10.00" fill="#ea2836" stroke="none" stroke-width="0"/>
<circle cx="1074.40" cy="1206.00" r="10.00" fill="#ea2836" stroke="none" stroke-width="0"/>
<circle cx="1257.00" cy="1017.30" r="17.50" fill="#ea2836" stroke="none" stroke-width="0"/>
<circle cx="1283.70" cy="1044.80" r="17.40" fill="#ea2836" stroke="none" stroke-width="0"/>
<circle cx="1290.00" cy="986.30" r="9.80" fill="#2c4597" stroke="none" stroke-width="0"/>
<circle cx="1318.30" cy="1015.10" r="9.80" fill="#2c4597" stroke="none" stroke-width="0"/>
<circle cx="1294.90" cy="1146.50" r="17.30" fill="#2c4597" stroke="none" stroke-width="0"/>
<circle cx="1321.80" cy="1174.30" r="17.50" fill="#2c4597" stroke="none" stroke-width="0"/>
<circle cx="1261.60" cy="1175.50" r="10.00" fill="#ea2836" stroke="none" stroke-width="0"/>
<circle cx="1289.70" cy="1204.40" r="10.00" fill="#ea2836" stroke="none" stroke-width="0"/>
<polygon points="1005.50,933.00 1021.50,950.20 1017.90,955.10 1036.20,969.10 1032.70,972.50 1056.40,998.20 1020.90,983.40 1025.50,978.00 1003.60,968.10 1008.90,962.20 985.20,951.00" fill="#22a3d7" stroke="none" stroke-width="0"/>
<polygon points="1207.77,1082.55 1243.45,1137.44 1262.30,1152.00 1257.40,1130.60 1256.25,1127.15 1221.15,1073.98" fill="#fff" stroke="none" stroke-width="0"/>
<path d="M1207.77,1082.55 L1243.45,1137.44 L1262.30,1152.00 L1257.40,1130.60 L1256.25,1127.15 L1221.15,1073.98" fill="none" stroke="#231f20" stroke-width="1.3" stroke-linejoin="miter"/>
<circle cx="1219.70" cy="1086.30" r="3.80" fill="#231f20" stroke="none" stroke-width="0"/>
<circle cx="1227.10" cy="1098.00" r="3.80" fill="#231f20" stroke="none" stroke-width="0"/>
<circle cx="1234.90" cy="1109.40" r="3.80" fill="#231f20" stroke="none" stroke-width="0"/>
<circle cx="1242.30" cy="1121.10" r="3.80" fill="#231f20" stroke="none" stroke-width="0"/>
<circle cx="1250.00" cy="1132.60" r="3.80" fill="#231f20" stroke="none" stroke-width="0"/>
<text x="1059.52" y="959.00" font-size="29.7" fill="#231f20">SC</text>
<text x="1255.00" y="960.00" font-size="29.7" fill="#231f20">ALM</text>
<line x1="1148.00" y1="1014.50" x2="1214.10" y2="1014.50" stroke="#2c4597" stroke-width="2.9"/>
<polygon points="1211.70,1005.80 1219.60,1014.50 1211.70,1023.20 1213.60,1016.90 1213.60,1012.10" fill="#2c4597" stroke="none" stroke-width="0"/>
<polygon points="1143.60,1164.00 1195.00,1164.00 1180.00,1140.00 1228.40,1170.60 1182.00,1200.40 1193.60,1178.60 1143.60,1178.60" fill="#2c4597" stroke="none" stroke-width="0"/>
<circle cx="1062.80" cy="1283.75" r="13.70" fill="#1b51a3" stroke="none" stroke-width="0"/>
<circle cx="1062.80" cy="1328.90" r="13.70" fill="#ea2836" stroke="none" stroke-width="0"/>
<text x="1093.18" y="1292.20" font-size="22.3" xml:space="preserve"><tspan fill="#2054a5">Contra-preferring</tspan><tspan fill="#231f20"> neurons</tspan></text>
<text x="1092.59" y="1333.30" font-size="22.3" xml:space="preserve"><tspan fill="#e8212f">Ipsi-preferring</tspan><tspan fill="#231f20"> neurons</tspan></text>
<text x="1459.32" y="790.50" font-size="29.7" fill="#231f20">Contra-preferring ALM neurons</text>
<text x="1459.03" y="1097.70" font-size="29.7" fill="#231f20">Ipsi-preferring ALM neurons</text>
<text transform="translate(1419.00,1234.50) rotate(-90)" x="-106.50" y="0" font-size="22.3" fill="#231f20">Normalized firing rate</text>
<text x="1464.55" y="1391.70" font-size="22.3" fill="#231f20">Time from go cue (s)</text>
<line x1="1483.20" y1="1036.90" x2="1483.20" y2="844.40" stroke="#1e1e1e" stroke-width="1.3" stroke-dasharray="2.6 1.9"/>
<line x1="1542.60" y1="1036.90" x2="1542.60" y2="844.40" stroke="#1e1e1e" stroke-width="1.3" stroke-dasharray="2.6 1.9"/>
<line x1="1602.20" y1="1036.90" x2="1602.20" y2="844.40" stroke="#1e1e1e" stroke-width="1.3" stroke-dasharray="2.6 1.9"/>
<line x1="1465.00" y1="974.10" x2="1676.60" y2="974.10" stroke="#1e1e1e" stroke-width="1.3" stroke-dasharray="2.4 2.3"/>
<g clip-path="url(#c13)"><path d="M1465.0,983.2 L1466.2,982.6 L1467.4,983.3 L1468.6,981.2 L1469.8,980.3 L1471.0,979.4 L1472.2,980.2 L1473.4,981.0 L1474.6,980.1 L1475.8,980.6 L1477.0,981.4 L1478.2,983.5 L1479.4,983.8 L1480.6,982.5 L1481.8,979.9 L1483.0,975.8 L1484.2,972.1 L1485.4,969.5 L1486.6,967.9 L1487.8,965.4 L1489.0,960.9 L1490.2,959.8 L1491.4,960.2 L1492.6,963.6 L1493.8,965.1 L1495.0,966.4 L1496.2,968.2 L1497.5,970.6 L1498.7,972.1 L1499.9,973.2 L1501.1,974.9 L1502.3,975.7 L1503.5,977.8 L1504.7,978.2 L1505.9,979.6 L1507.1,978.2 L1508.3,978.5 L1509.5,978.0 L1510.7,977.9 L1511.9,977.1 L1513.1,975.5 L1514.3,974.5 L1515.5,974.2 L1516.7,973.9 L1517.9,974.7 L1519.1,974.1 L1520.3,975.0 L1521.5,974.2 L1522.7,973.4 L1523.9,971.7 L1525.1,971.3 L1526.3,971.2 L1527.5,972.0 L1528.7,971.3 L1529.9,969.4 L1531.1,968.5 L1532.3,967.6 L1533.5,967.2 L1534.7,963.1 L1535.9,958.5 L1537.1,953.5 L1538.3,949.5 L1539.5,946.6 L1540.7,941.4 L1541.9,935.2 L1543.2,926.5 L1544.4,921.1 L1545.6,917.1 L1546.8,917.4 L1548.0,920.2 L1549.2,923.7 L1550.4,928.0 L1551.6,933.2 L1552.8,940.2 L1554.0,943.6 L1555.2,943.8 L1556.4,942.5 L1557.6,941.3 L1558.8,939.1 L1560.0,937.2 L1561.2,935.7 L1562.4,935.5 L1563.6,935.8 L1564.8,935.7 L1566.0,933.9 L1567.2,933.0 L1568.4,930.4 L1569.6,928.0 L1570.8,924.9 L1572.0,923.1 L1573.2,921.0 L1574.4,919.7 L1575.6,917.4 L1576.8,914.3 L1578.0,910.8 L1579.2,907.1 L1580.4,906.0 L1581.6,904.1 L1582.8,903.0 L1584.0,900.7 L1585.2,899.7 L1586.4,898.4 L1587.6,898.5 L1588.9,895.4 L1590.1,893.0 L1591.3,890.8 L1592.5,889.9 L1593.7,888.5 L1594.9,887.2 L1596.1,885.1 L1597.3,884.2 L1598.5,882.1 L1599.7,881.3 L1600.9,878.3 L1602.1,874.2 L1603.3,870.3 L1604.5,867.6 L1605.7,867.1 L1606.9,867.9 L1608.1,869.4 L1609.3,872.4 L1610.5,875.5 L1611.7,879.2 L1612.9,886.5 L1614.1,893.7 L1615.3,898.4 L1616.5,903.3 L1617.7,908.6 L1618.9,913.3 L1620.1,918.9 L1621.3,926.0 L1622.5,929.6 L1623.7,931.4 L1624.9,932.1 L1626.1,933.5 L1627.3,934.3 L1628.5,936.1 L1629.7,937.2 L1630.9,939.3 L1632.1,940.3 L1633.4,942.8 L1634.6,943.2 L1635.8,944.3 L1637.0,943.0 L1638.2,940.4 L1639.4,937.7 L1640.6,936.7 L1641.8,935.6 L1643.0,933.3 L1644.2,932.4 L1645.4,932.3 L1646.6,934.4 L1647.8,935.2 L1649.0,937.7 L1650.2,939.1 L1651.4,942.7 L1652.6,946.0 L1653.8,948.7 L1655.0,950.7 L1656.2,951.6 L1657.4,953.9 L1658.6,956.3 L1659.8,958.4 L1661.0,959.7 L1662.2,960.0 L1663.4,960.3 L1664.6,960.0 L1665.8,960.6 L1667.0,961.1 L1668.2,962.3 L1669.4,963.8 L1670.6,966.0 L1671.8,968.1 L1673.0,970.3 L1674.2,973.0 L1675.4,975.7 L1676.6,977.5 L1676.6,995.0 L1675.4,994.2 L1674.2,993.3 L1673.0,993.0 L1671.8,991.6 L1670.6,990.2 L1669.4,988.4 L1668.2,988.0 L1667.0,987.5 L1665.8,987.3 L1664.6,987.2 L1663.4,985.5 L1662.2,983.8 L1661.0,981.6 L1659.8,981.8 L1658.6,981.8 L1657.4,982.0 L1656.2,979.9 L1655.0,978.7 L1653.8,976.0 L1652.6,975.4 L1651.4,973.7 L1650.2,973.1 L1649.0,971.5 L1647.8,970.7 L1646.6,970.9 L1645.4,971.1 L1644.2,971.7 L1643.0,972.3 L1641.8,972.8 L1640.6,973.6 L1639.4,974.4 L1638.2,976.7 L1637.0,979.9 L1635.8,981.8 L1634.6,982.5 L1633.4,981.2 L1632.1,979.7 L1630.9,977.1 L1629.7,975.1 L1628.5,973.8 L1627.3,973.5 L1626.1,972.2 L1624.9,970.0 L1623.7,968.8 L1622.5,966.5 L1621.3,961.9 L1620.1,955.7 L1618.9,951.1 L1617.7,947.9 L1616.5,940.9 L1615.3,934.8 L1614.1,929.8 L1612.9,923.8 L1611.7,917.3 L1610.5,914.8 L1609.3,911.2 L1608.1,907.0 L1606.9,903.3 L1605.7,903.4 L1604.5,904.3 L1603.3,907.3 L1602.1,909.7 L1600.9,912.3 L1599.7,914.3 L1598.5,915.4 L1597.3,917.3 L1596.1,918.6 L1594.9,918.5 L1593.7,919.9 L1592.5,920.2 L1591.3,922.2 L1590.1,922.5 L1588.9,924.3 L1587.6,926.2 L1586.4,927.6 L1585.2,928.9 L1584.0,928.7 L1582.8,930.4 L1581.6,931.6 L1580.4,933.0 L1579.2,934.0 L1578.0,935.8 L1576.8,938.7 L1575.6,941.0 L1574.4,942.9 L1573.2,943.8 L1572.0,944.9 L1570.8,946.5 L1569.6,948.5 L1568.4,950.4 L1567.2,952.4 L1566.0,954.4 L1564.8,956.6 L1563.6,957.6 L1562.4,958.1 L1561.2,958.5 L1560.0,959.8 L1558.8,961.2 L1557.6,963.8 L1556.4,965.4 L1555.2,967.0 L1554.0,965.7 L1552.8,961.1 L1551.6,954.5 L1550.4,950.2 L1549.2,948.1 L1548.0,944.1 L1546.8,940.5 L1545.6,939.5 L1544.4,943.8 L1543.2,950.6 L1541.9,957.0 L1540.7,963.6 L1539.5,967.3 L1538.3,971.2 L1537.1,973.4 L1535.9,976.0 L1534.7,978.5 L1533.5,981.3 L1532.3,983.0 L1531.1,983.3 L1529.9,983.6 L1528.7,983.5 L1527.5,984.6 L1526.3,984.7 L1525.1,984.8 L1523.9,984.5 L1522.7,984.9 L1521.5,986.4 L1520.3,987.0 L1519.1,988.4 L1517.9,988.8 L1516.7,989.4 L1515.5,989.1 L1514.3,989.3 L1513.1,989.6 L1511.9,991.0 L1510.7,991.5 L1509.5,992.5 L1508.3,992.1 L1507.1,993.1 L1505.9,992.7 L1504.7,993.5 L1503.5,993.0 L1502.3,993.0 L1501.1,991.7 L1499.9,990.8 L1498.7,990.2 L1497.5,988.5 L1496.2,985.9 L1495.0,984.0 L1493.8,984.1 L1492.6,982.2 L1491.4,979.6 L1490.2,976.8 L1489.0,977.8 L1487.8,980.9 L1486.6,983.3 L1485.4,985.5 L1484.2,986.4 L1483.0,990.5 L1481.8,993.2 L1480.6,994.9 L1479.4,994.8 L1478.2,993.8 L1477.0,992.2 L1475.8,990.0 L1474.6,988.5 L1473.4,988.8 L1472.2,989.7 L1471.0,990.0 L1469.8,990.3 L1468.6,991.3 L1467.4,992.6 L1466.2,993.1 L1465.0,993.0Z" fill="#a0a3cb"/><path d="M1465.0,987.8 L1466.2,988.2 L1467.4,987.7 L1468.6,985.7 L1469.8,983.7 L1471.0,983.4 L1472.2,983.7 L1473.4,984.5 L1474.6,985.2 L1475.8,986.1 L1477.0,987.1 L1478.2,988.3 L1479.4,988.8 L1480.6,988.7 L1481.8,986.4 L1483.0,983.2 L1484.2,979.6 L1485.4,976.7 L1486.6,975.5 L1487.8,973.0 L1489.0,970.7 L1490.2,969.5 L1491.4,970.8 L1492.6,972.6 L1493.8,974.7 L1495.0,975.3 L1496.2,977.5 L1497.5,978.8 L1498.7,980.6 L1499.9,982.5 L1501.1,984.2 L1502.3,984.6 L1503.5,984.8 L1504.7,984.9 L1505.9,985.4 L1507.1,984.9 L1508.3,985.0 L1509.5,984.9 L1510.7,985.3 L1511.9,983.8 L1513.1,983.1 L1514.3,981.9 L1515.5,981.4 L1516.7,980.8 L1517.9,980.1 L1519.1,979.6 L1520.3,978.9 L1521.5,979.1 L1522.7,978.4 L1523.9,978.0 L1525.1,976.8 L1526.3,977.5 L1527.5,978.1 L1528.7,978.0 L1529.9,977.0 L1531.1,975.8 L1532.3,975.2 L1533.5,973.7 L1534.7,970.9 L1535.9,968.1 L1537.1,964.2 L1538.3,961.3 L1539.5,958.1 L1540.7,954.3 L1541.9,947.0 L1543.2,939.0 L1544.4,931.9 L1545.6,927.9 L1546.8,927.5 L1548.0,931.3 L1549.2,935.6 L1550.4,939.8 L1551.6,945.0 L1552.8,951.6 L1554.0,955.5 L1555.2,956.1 L1556.4,954.5 L1557.6,952.7 L1558.8,949.9 L1560.0,947.7 L1561.2,946.9 L1562.4,946.6 L1563.6,945.9 L1564.8,945.1 L1566.0,943.4 L1567.2,942.9 L1568.4,940.7 L1569.6,938.7 L1570.8,936.7 L1572.0,934.5 L1573.2,932.9 L1574.4,930.8 L1575.6,928.5 L1576.8,925.3 L1578.0,922.8 L1579.2,920.9 L1580.4,919.0 L1581.6,917.4 L1582.8,916.2 L1584.0,915.1 L1585.2,913.9 L1586.4,913.1 L1587.6,912.5 L1588.9,910.9 L1590.1,908.8 L1591.3,907.0 L1592.5,905.6 L1593.7,904.4 L1594.9,902.6 L1596.1,901.3 L1597.3,899.5 L1598.5,898.7 L1599.7,897.1 L1600.9,894.6 L1602.1,891.7 L1603.3,888.5 L1604.5,886.4 L1605.7,884.5 L1606.9,884.9 L1608.1,887.4 L1609.3,891.4 L1610.5,895.3 L1611.7,898.2 L1612.9,904.3 L1614.1,911.3 L1615.3,915.5 L1616.5,922.3 L1617.7,928.6 L1618.9,932.9 L1620.1,937.2 L1621.3,942.8 L1622.5,947.4 L1623.7,950.1 L1624.9,951.5 L1626.1,953.6 L1627.3,954.6 L1628.5,955.0 L1629.7,955.6 L1630.9,956.8 L1632.1,958.5 L1633.4,960.6 L1634.6,962.3 L1635.8,963.5 L1637.0,961.6 L1638.2,958.9 L1639.4,956.7 L1640.6,955.5 L1641.8,954.3 L1643.0,952.6 L1644.2,951.4 L1645.4,951.7 L1646.6,952.0 L1647.8,953.3 L1649.0,953.9 L1650.2,955.5 L1651.4,957.6 L1652.6,960.5 L1653.8,962.5 L1655.0,965.0 L1656.2,966.2 L1657.4,967.9 L1658.6,968.7 L1659.8,969.8 L1661.0,970.0 L1662.2,971.4 L1663.4,971.5 L1664.6,972.4 L1665.8,972.9 L1667.0,974.0 L1668.2,975.3 L1669.4,976.0 L1670.6,977.8 L1671.8,979.1 L1673.0,981.0 L1674.2,983.0 L1675.4,984.8 L1676.6,986.0" fill="none" stroke="#2e57a7" stroke-width="2.8" stroke-linejoin="round" stroke-linecap="round"/><path d="M1465.0,988.2 L1466.2,987.8 L1467.4,987.4 L1468.6,987.1 L1469.8,986.5 L1471.0,987.1 L1472.2,985.8 L1473.4,985.5 L1474.6,986.2 L1475.8,988.2 L1477.0,988.7 L1478.2,987.6 L1479.4,986.1 L1480.6,985.0 L1481.8,980.8 L1483.0,974.3 L1484.2,967.4 L1485.4,961.1 L1486.6,956.7 L1487.8,950.3 L1489.0,946.6 L1490.2,944.3 L1491.4,947.1 L1492.6,951.6 L1493.8,957.5 L1495.0,960.9 L1496.2,965.3 L1497.5,969.3 L1498.7,974.2 L1499.9,977.6 L1501.1,980.8 L1502.3,982.3 L1503.5,985.9 L1504.7,988.0 L1505.9,990.8 L1507.1,991.6 L1508.3,992.3 L1509.5,991.5 L1510.7,989.3 L1511.9,987.1 L1513.1,986.4 L1514.3,986.2 L1515.5,986.8 L1516.7,986.3 L1517.9,987.2 L1519.1,987.1 L1520.3,989.3 L1521.5,991.3 L1522.7,993.6 L1523.9,992.9 L1525.1,991.5 L1526.3,990.4 L1527.5,990.6 L1528.7,989.1 L1529.9,987.1 L1531.1,985.2 L1532.3,984.6 L1533.5,985.0 L1534.7,983.5 L1535.9,983.1 L1537.1,982.1 L1538.3,981.5 L1539.5,980.7 L1540.7,977.6 L1541.9,973.7 L1543.2,969.5 L1544.4,967.2 L1545.6,966.7 L1546.8,967.9 L1548.0,970.3 L1549.2,973.5 L1550.4,976.6 L1551.6,978.0 L1552.8,980.3 L1554.0,983.1 L1555.2,986.0 L1556.4,988.5 L1557.6,990.0 L1558.8,992.5 L1560.0,993.6 L1561.2,992.9 L1562.4,991.4 L1563.6,988.4 L1564.8,987.9 L1566.0,986.7 L1567.2,986.5 L1568.4,984.9 L1569.6,983.2 L1570.8,981.4 L1572.0,981.5 L1573.2,981.1 L1574.4,981.6 L1575.6,979.8 L1576.8,980.2 L1578.0,978.1 L1579.2,977.8 L1580.4,977.3 L1581.6,976.7 L1582.8,976.3 L1584.0,973.5 L1585.2,973.1 L1586.4,972.0 L1587.6,971.7 L1588.9,971.7 L1590.1,971.5 L1591.3,971.9 L1592.5,970.6 L1593.7,969.5 L1594.9,968.3 L1596.1,966.4 L1597.3,961.9 L1598.5,957.7 L1599.7,954.0 L1600.9,951.8 L1602.1,949.2 L1603.3,946.2 L1604.5,944.1 L1605.7,944.8 L1606.9,946.3 L1608.1,948.6 L1609.3,950.9 L1610.5,954.2 L1611.7,956.9 L1612.9,960.0 L1614.1,964.2 L1615.3,970.3 L1616.5,975.2 L1617.7,979.1 L1618.9,983.2 L1620.1,986.6 L1621.3,991.7 L1622.5,995.4 L1623.7,997.2 L1624.9,997.4 L1626.1,997.0 L1627.3,996.9 L1628.5,996.3 L1629.7,995.3 L1630.9,994.5 L1632.1,994.3 L1633.4,995.5 L1634.6,997.5 L1635.8,999.0 L1637.0,999.1 L1638.2,999.2 L1639.4,999.0 L1640.6,999.3 L1641.8,998.6 L1643.0,997.6 L1644.2,998.2 L1645.4,997.8 L1646.6,996.8 L1647.8,994.8 L1649.0,991.4 L1650.2,987.9 L1651.4,983.9 L1652.6,981.4 L1653.8,979.1 L1655.0,978.5 L1656.2,978.9 L1657.4,980.7 L1658.6,981.1 L1659.8,981.4 L1661.0,982.4 L1662.2,983.6 L1663.4,983.0 L1664.6,980.3 L1665.8,978.0 L1667.0,977.0 L1668.2,976.2 L1669.4,974.4 L1670.6,971.3 L1671.8,969.6 L1673.0,969.1 L1674.2,970.8 L1675.4,972.4 L1676.6,972.8 L1676.6,993.6 L1675.4,991.0 L1674.2,989.5 L1673.0,986.8 L1671.8,987.1 L1670.6,989.5 L1669.4,994.0 L1668.2,996.6 L1667.0,996.3 L1665.8,996.8 L1664.6,998.4 L1663.4,999.6 L1662.2,1001.7 L1661.0,1001.7 L1659.8,1001.2 L1658.6,999.2 L1657.4,998.3 L1656.2,998.0 L1655.0,998.2 L1653.8,999.1 L1652.6,1001.6 L1651.4,1004.6 L1650.2,1007.2 L1649.0,1011.1 L1647.8,1014.4 L1646.6,1016.2 L1645.4,1016.1 L1644.2,1016.5 L1643.0,1016.7 L1641.8,1017.6 L1640.6,1017.7 L1639.4,1018.9 L1638.2,1019.3 L1637.0,1018.5 L1635.8,1016.8 L1634.6,1015.5 L1633.4,1015.7 L1632.1,1016.5 L1630.9,1015.5 L1629.7,1015.6 L1628.5,1015.6 L1627.3,1015.7 L1626.1,1015.7 L1624.9,1014.6 L1623.7,1014.2 L1622.5,1012.8 L1621.3,1010.2 L1620.1,1006.6 L1618.9,1002.1 L1617.7,998.1 L1616.5,996.1 L1615.3,990.8 L1614.1,985.2 L1612.9,978.7 L1611.7,976.2 L1610.5,973.8 L1609.3,971.7 L1608.1,970.5 L1606.9,969.3 L1605.7,969.3 L1604.5,969.2 L1603.3,970.8 L1602.1,971.9 L1600.9,974.4 L1599.7,976.0 L1598.5,980.1 L1597.3,982.9 L1596.1,986.5 L1594.9,986.8 L1593.7,986.7 L1592.5,986.1 L1591.3,986.5 L1590.1,987.9 L1588.9,988.9 L1587.6,988.8 L1586.4,989.1 L1585.2,989.6 L1584.0,991.6 L1582.8,991.9 L1581.6,992.4 L1580.4,993.9 L1579.2,994.3 L1578.0,996.0 L1576.8,995.6 L1575.6,996.4 L1574.4,996.8 L1573.2,998.3 L1572.0,998.6 L1570.8,999.0 L1569.6,999.6 L1568.4,1002.1 L1567.2,1003.2 L1566.0,1003.7 L1564.8,1004.0 L1563.6,1005.5 L1562.4,1006.9 L1561.2,1007.8 L1560.0,1008.7 L1558.8,1008.9 L1557.6,1008.9 L1556.4,1005.8 L1555.2,1002.9 L1554.0,998.4 L1552.8,996.7 L1551.6,994.7 L1550.4,993.3 L1549.2,990.6 L1548.0,988.3 L1546.8,985.7 L1545.6,985.3 L1544.4,986.6 L1543.2,989.1 L1541.9,991.5 L1540.7,993.4 L1539.5,995.1 L1538.3,996.0 L1537.1,996.6 L1535.9,997.6 L1534.7,998.9 L1533.5,1000.7 L1532.3,1001.9 L1531.1,1002.0 L1529.9,1003.9 L1528.7,1005.2 L1527.5,1006.7 L1526.3,1008.0 L1525.1,1008.9 L1523.9,1009.2 L1522.7,1008.3 L1521.5,1006.5 L1520.3,1005.7 L1519.1,1003.6 L1517.9,1002.4 L1516.7,1001.7 L1515.5,1001.9 L1514.3,1002.6 L1513.1,1003.4 L1511.9,1005.3 L1510.7,1007.5 L1509.5,1008.6 L1508.3,1008.8 L1507.1,1009.1 L1505.9,1008.9 L1504.7,1007.2 L1503.5,1004.9 L1502.3,1002.0 L1501.1,1000.0 L1499.9,998.2 L1498.7,993.6 L1497.5,989.7 L1496.2,984.1 L1495.0,980.7 L1493.8,977.2 L1492.6,973.9 L1491.4,970.9 L1490.2,969.0 L1489.0,969.5 L1487.8,972.4 L1486.6,975.5 L1485.4,978.1 L1484.2,983.1 L1483.0,990.8 L1481.8,997.6 L1480.6,1001.6 L1479.4,1001.7 L1478.2,1002.0 L1477.0,1000.6 L1475.8,1000.2 L1474.6,998.4 L1473.4,998.9 L1472.2,998.9 L1471.0,999.9 L1469.8,1000.3 L1468.6,999.9 L1467.4,1001.0 L1466.2,1001.2 L1465.0,1001.5Z" fill="#eca2a7"/><path d="M1465.0,994.2 L1466.2,994.7 L1467.4,994.4 L1468.6,993.8 L1469.8,993.4 L1471.0,993.4 L1472.2,993.1 L1473.4,993.0 L1474.6,993.3 L1475.8,994.5 L1477.0,994.7 L1478.2,995.8 L1479.4,995.2 L1480.6,995.0 L1481.8,990.5 L1483.0,983.4 L1484.2,975.0 L1485.4,969.4 L1486.6,965.5 L1487.8,961.2 L1489.0,956.5 L1490.2,955.6 L1491.4,958.1 L1492.6,962.4 L1493.8,966.8 L1495.0,969.1 L1496.2,974.0 L1497.5,979.4 L1498.7,984.3 L1499.9,988.3 L1501.1,990.0 L1502.3,992.0 L1503.5,994.6 L1504.7,997.6 L1505.9,999.9 L1507.1,1000.4 L1508.3,1000.3 L1509.5,1000.1 L1510.7,998.7 L1511.9,996.5 L1513.1,994.6 L1514.3,993.2 L1515.5,992.7 L1516.7,992.2 L1517.9,993.1 L1519.1,995.1 L1520.3,996.9 L1521.5,999.4 L1522.7,1000.1 L1523.9,1000.9 L1525.1,1000.6 L1526.3,1000.3 L1527.5,998.7 L1528.7,996.8 L1529.9,994.4 L1531.1,993.7 L1532.3,992.2 L1533.5,992.5 L1534.7,991.7 L1535.9,991.1 L1537.1,990.1 L1538.3,988.5 L1539.5,987.6 L1540.7,985.8 L1541.9,982.7 L1543.2,979.9 L1544.4,976.2 L1545.6,975.2 L1546.8,975.8 L1548.0,978.6 L1549.2,982.2 L1550.4,985.2 L1551.6,987.6 L1552.8,989.2 L1554.0,991.8 L1555.2,994.6 L1556.4,997.4 L1557.6,999.1 L1558.8,1000.6 L1560.0,1001.5 L1561.2,1001.1 L1562.4,999.1 L1563.6,997.6 L1564.8,996.4 L1566.0,995.5 L1567.2,993.5 L1568.4,992.4 L1569.6,990.8 L1570.8,989.5 L1572.0,989.1 L1573.2,988.9 L1574.4,988.2 L1575.6,987.0 L1576.8,987.0 L1578.0,986.8 L1579.2,986.8 L1580.4,986.4 L1581.6,985.7 L1582.8,984.0 L1584.0,982.1 L1585.2,981.0 L1586.4,981.0 L1587.6,980.5 L1588.9,979.4 L1590.1,978.6 L1591.3,978.5 L1592.5,978.1 L1593.7,977.5 L1594.9,976.4 L1596.1,975.4 L1597.3,973.3 L1598.5,969.5 L1599.7,965.8 L1600.9,961.9 L1602.1,961.2 L1603.3,958.6 L1604.5,956.7 L1605.7,955.5 L1606.9,957.0 L1608.1,959.2 L1609.3,961.5 L1610.5,963.2 L1611.7,965.6 L1612.9,967.9 L1614.1,974.7 L1615.3,980.6 L1616.5,986.0 L1617.7,988.4 L1618.9,993.3 L1620.1,997.2 L1621.3,1001.5 L1622.5,1004.1 L1623.7,1005.9 L1624.9,1006.7 L1626.1,1006.8 L1627.3,1006.4 L1628.5,1005.1 L1629.7,1005.3 L1630.9,1005.2 L1632.1,1005.3 L1633.4,1005.4 L1634.6,1005.6 L1635.8,1006.6 L1637.0,1006.8 L1638.2,1008.2 L1639.4,1008.1 L1640.6,1008.4 L1641.8,1007.0 L1643.0,1006.2 L1644.2,1005.2 L1645.4,1005.6 L1646.6,1005.2 L1647.8,1004.5 L1649.0,1001.2 L1650.2,998.7 L1651.4,994.9 L1652.6,992.7 L1653.8,990.0 L1655.0,988.6 L1656.2,987.5 L1657.4,987.6 L1658.6,988.9 L1659.8,990.8 L1661.0,992.7 L1662.2,993.1 L1663.4,992.5 L1664.6,990.2 L1665.8,988.7 L1667.0,986.8 L1668.2,985.7 L1669.4,982.8 L1670.6,979.2 L1671.8,976.5 L1673.0,977.0 L1674.2,979.8 L1675.4,982.6 L1676.6,984.4" fill="none" stroke="#e91c2e" stroke-width="2.8" stroke-linejoin="round" stroke-linecap="round"/></g>
<line x1="1465.00" y1="821.20" x2="1465.00" y2="1037.70" stroke="#231f20" stroke-width="1.7"/>
<line x1="1464.20" y1="1036.90" x2="1676.60" y2="1036.90" stroke="#231f20" stroke-width="1.8"/>
<line x1="1459.80" y1="875.50" x2="1465.00" y2="875.50" stroke="#231f20" stroke-width="1.6"/>
<line x1="1459.80" y1="974.10" x2="1465.00" y2="974.10" stroke="#231f20" stroke-width="1.6"/>
<line x1="1510.40" y1="1036.90" x2="1510.40" y2="1041.70" stroke="#231f20" stroke-width="1.6"/>
<line x1="1602.20" y1="1036.90" x2="1602.20" y2="1041.70" stroke="#231f20" stroke-width="1.6"/>
<text x="1440.90" y="884.00" font-size="22.5" fill="#231f20">2</text>
<text x="1440.56" y="982.60" font-size="22.5" fill="#231f20">1</text>
<text x="1491.88" y="1063.25" font-size="22.5" fill="#231f20">−2</text>
<text x="1595.80" y="1063.25" font-size="22.5" fill="#231f20">0</text>
<text x="1536.78" y="821.80" font-size="22.3" fill="#231f20">No stim</text>
<text x="1513.73" y="856.80" font-size="22.3" fill="#231f20">S</text>
<text x="1565.63" y="856.80" font-size="22.3" fill="#231f20">D</text>
<text x="1621.74" y="856.80" font-size="22.3" fill="#231f20">R</text>
<line x1="1763.00" y1="1037.00" x2="1763.00" y2="845.40" stroke="#1e1e1e" stroke-width="1.3" stroke-dasharray="2.6 1.9"/>
<line x1="1822.60" y1="1037.00" x2="1822.60" y2="845.40" stroke="#1e1e1e" stroke-width="1.3" stroke-dasharray="2.6 1.9"/>
<line x1="1882.00" y1="1037.00" x2="1882.00" y2="845.40" stroke="#1e1e1e" stroke-width="1.3" stroke-dasharray="2.6 1.9"/>
<line x1="1744.80" y1="974.80" x2="1950.00" y2="974.80" stroke="#1e1e1e" stroke-width="1.3" stroke-dasharray="2.4 2.3"/>
<g clip-path="url(#c14)"><path d="M1744.8,968.9 L1746.0,969.9 L1747.2,972.3 L1748.4,974.6 L1749.6,976.1 L1750.8,977.2 L1752.0,979.0 L1753.2,982.9 L1754.4,984.7 L1755.6,984.5 L1756.8,982.7 L1758.0,979.9 L1759.2,976.0 L1760.4,971.3 L1761.6,968.9 L1762.8,965.6 L1764.0,962.4 L1765.3,957.6 L1766.5,956.5 L1767.7,955.5 L1768.9,955.5 L1770.1,953.9 L1771.3,953.0 L1772.5,953.6 L1773.7,954.3 L1774.9,956.4 L1776.1,958.9 L1777.3,961.9 L1778.5,963.7 L1779.7,964.2 L1780.9,966.1 L1782.1,969.6 L1783.3,972.2 L1784.5,974.1 L1785.7,974.2 L1786.9,973.7 L1788.1,971.3 L1789.3,967.8 L1790.6,964.7 L1791.8,963.8 L1793.0,964.0 L1794.2,966.3 L1795.4,968.3 L1796.6,970.1 L1797.8,970.1 L1799.0,969.4 L1800.2,967.9 L1801.4,966.3 L1802.6,964.8 L1803.8,964.7 L1805.0,965.0 L1806.2,965.9 L1807.4,965.8 L1808.6,965.1 L1809.8,963.7 L1811.0,962.5 L1812.2,961.2 L1813.4,958.7 L1814.6,954.2 L1815.9,949.4 L1817.1,945.4 L1818.3,941.9 L1819.5,936.6 L1820.7,928.8 L1821.9,919.8 L1823.1,911.5 L1824.3,904.4 L1825.5,900.4 L1826.7,899.7 L1827.9,904.1 L1829.1,912.3 L1830.3,916.7 L1831.5,921.6 L1832.7,926.9 L1833.9,933.3 L1835.1,938.4 L1836.3,941.9 L1837.5,942.0 L1838.7,938.6 L1839.9,935.4 L1841.2,931.4 L1842.4,929.3 L1843.6,927.1 L1844.8,924.8 L1846.0,923.4 L1847.2,920.6 L1848.4,920.6 L1849.6,919.9 L1850.8,923.3 L1852.0,927.5 L1853.2,930.6 L1854.4,930.2 L1855.6,928.6 L1856.8,927.2 L1858.0,926.4 L1859.2,925.4 L1860.4,924.9 L1861.6,923.5 L1862.8,921.1 L1864.0,918.7 L1865.2,915.4 L1866.5,912.5 L1867.7,910.2 L1868.9,909.0 L1870.1,908.4 L1871.3,906.6 L1872.5,906.1 L1873.7,905.0 L1874.9,904.6 L1876.1,903.3 L1877.3,903.0 L1878.5,902.3 L1879.7,901.6 L1880.9,898.3 L1882.1,894.1 L1883.3,890.0 L1884.5,886.6 L1885.7,885.6 L1886.9,884.2 L1888.1,885.3 L1889.3,885.8 L1890.5,887.4 L1891.8,890.0 L1893.0,898.1 L1894.2,907.8 L1895.4,910.6 L1896.6,913.9 L1897.8,916.6 L1899.0,921.0 L1900.2,924.5 L1901.4,927.2 L1902.6,929.8 L1903.8,931.7 L1905.0,933.8 L1906.2,935.8 L1907.4,937.7 L1908.6,938.7 L1909.8,939.2 L1911.0,940.8 L1912.2,941.9 L1913.4,942.7 L1914.6,942.1 L1915.8,941.5 L1917.1,940.9 L1918.3,939.1 L1919.5,936.7 L1920.7,934.0 L1921.9,932.2 L1923.1,930.4 L1924.3,929.4 L1925.5,931.2 L1926.7,937.1 L1927.9,942.1 L1929.1,945.3 L1930.3,948.0 L1931.5,951.1 L1932.7,953.8 L1933.9,955.0 L1935.1,956.2 L1936.3,956.9 L1937.5,958.3 L1938.7,960.3 L1939.9,962.1 L1941.1,963.6 L1942.4,963.0 L1943.6,960.9 L1944.8,958.7 L1946.0,956.3 L1947.2,955.5 L1948.4,955.5 L1949.6,958.7 L1950.8,962.1 L1952.0,967.0 L1953.2,971.8 L1954.4,977.3 L1955.6,979.8 L1955.6,1001.5 L1954.4,1000.2 L1953.2,996.3 L1952.0,993.3 L1950.8,988.1 L1949.6,984.7 L1948.4,980.9 L1947.2,982.1 L1946.0,982.4 L1944.8,984.2 L1943.6,984.7 L1942.4,986.5 L1941.1,987.7 L1939.9,987.9 L1938.7,987.3 L1937.5,986.8 L1936.3,985.8 L1935.1,985.2 L1933.9,984.4 L1932.7,983.5 L1931.5,980.6 L1930.3,977.0 L1929.1,974.2 L1927.9,972.5 L1926.7,968.3 L1925.5,964.5 L1924.3,963.0 L1923.1,964.3 L1921.9,967.6 L1920.7,969.5 L1919.5,971.1 L1918.3,971.9 L1917.1,973.9 L1915.8,976.1 L1914.6,977.2 L1913.4,977.0 L1912.2,976.9 L1911.0,975.4 L1909.8,973.1 L1908.6,970.5 L1907.4,969.3 L1906.2,968.1 L1905.0,966.1 L1903.8,963.8 L1902.6,962.4 L1901.4,961.4 L1900.2,960.3 L1899.0,957.6 L1897.8,952.7 L1896.6,947.4 L1895.4,942.5 L1894.2,939.6 L1893.0,934.5 L1891.8,929.1 L1890.5,926.9 L1889.3,924.3 L1888.1,923.7 L1886.9,924.3 L1885.7,925.8 L1884.5,925.6 L1883.3,927.6 L1882.1,928.6 L1880.9,930.9 L1879.7,931.4 L1878.5,933.0 L1877.3,934.0 L1876.1,934.9 L1874.9,935.7 L1873.7,936.1 L1872.5,936.1 L1871.3,936.3 L1870.1,937.4 L1868.9,939.6 L1867.7,940.9 L1866.5,942.0 L1865.2,943.7 L1864.0,944.8 L1862.8,947.6 L1861.6,948.2 L1860.4,950.5 L1859.2,951.5 L1858.0,952.8 L1856.8,954.6 L1855.6,955.5 L1854.4,956.2 L1853.2,955.2 L1852.0,952.7 L1850.8,950.2 L1849.6,949.4 L1848.4,950.6 L1847.2,952.1 L1846.0,952.9 L1844.8,954.2 L1843.6,955.6 L1842.4,957.7 L1841.2,961.0 L1839.9,965.1 L1838.7,968.7 L1837.5,970.3 L1836.3,970.7 L1835.1,967.6 L1833.9,963.8 L1832.7,957.7 L1831.5,953.2 L1830.3,948.2 L1829.1,944.3 L1827.9,937.4 L1826.7,933.8 L1825.5,934.9 L1824.3,938.5 L1823.1,943.7 L1821.9,951.0 L1820.7,959.6 L1819.5,967.1 L1818.3,971.3 L1817.1,975.0 L1815.9,978.3 L1814.6,981.9 L1813.4,984.0 L1812.2,987.0 L1811.0,989.0 L1809.8,989.6 L1808.6,988.6 L1807.4,987.6 L1806.2,988.6 L1805.0,989.9 L1803.8,991.5 L1802.6,991.4 L1801.4,991.9 L1800.2,991.7 L1799.0,992.8 L1797.8,992.7 L1796.6,993.0 L1795.4,990.9 L1794.2,990.7 L1793.0,988.9 L1791.8,988.6 L1790.6,988.1 L1789.3,990.3 L1788.1,993.3 L1786.9,996.5 L1785.7,998.0 L1784.5,998.5 L1783.3,996.0 L1782.1,993.9 L1780.9,989.9 L1779.7,988.5 L1778.5,986.2 L1777.3,986.4 L1776.1,983.7 L1774.9,983.0 L1773.7,981.1 L1772.5,981.0 L1771.3,980.0 L1770.1,980.6 L1768.9,980.3 L1767.7,980.6 L1766.5,981.4 L1765.3,984.6 L1764.0,988.8 L1762.8,990.8 L1761.6,992.6 L1760.4,995.1 L1759.2,1000.6 L1758.0,1004.5 L1756.8,1006.6 L1755.6,1007.2 L1754.4,1006.8 L1753.2,1006.6 L1752.0,1005.2 L1750.8,1004.1 L1749.6,1002.4 L1748.4,999.4 L1747.2,997.1 L1746.0,994.8 L1744.8,993.7Z" fill="#a0a3cb"/><path d="M1744.8,980.8 L1746.0,982.1 L1747.2,983.8 L1748.4,986.5 L1749.6,988.3 L1750.8,989.2 L1752.0,991.1 L1753.2,993.9 L1754.4,996.1 L1755.6,996.6 L1756.8,995.4 L1758.0,993.0 L1759.2,988.9 L1760.4,985.4 L1761.6,982.6 L1762.8,980.0 L1764.0,976.2 L1765.3,972.6 L1766.5,969.8 L1767.7,967.9 L1768.9,966.6 L1770.1,965.9 L1771.3,966.2 L1772.5,966.3 L1773.7,967.4 L1774.9,969.2 L1776.1,971.0 L1777.3,973.7 L1778.5,975.2 L1779.7,977.4 L1780.9,979.5 L1782.1,981.9 L1783.3,983.7 L1784.5,985.5 L1785.7,985.6 L1786.9,985.0 L1788.1,982.6 L1789.3,980.0 L1790.6,978.2 L1791.8,977.7 L1793.0,978.1 L1794.2,979.3 L1795.4,980.6 L1796.6,982.3 L1797.8,981.9 L1799.0,980.8 L1800.2,979.6 L1801.4,979.4 L1802.6,978.3 L1803.8,977.7 L1805.0,977.1 L1806.2,976.7 L1807.4,976.3 L1808.6,975.4 L1809.8,975.0 L1811.0,974.5 L1812.2,973.2 L1813.4,971.6 L1814.6,968.9 L1815.9,965.0 L1817.1,960.5 L1818.3,956.5 L1819.5,950.6 L1820.7,943.0 L1821.9,934.9 L1823.1,927.3 L1824.3,922.1 L1825.5,917.6 L1826.7,917.6 L1827.9,921.0 L1829.1,927.8 L1830.3,932.2 L1831.5,937.0 L1832.7,942.4 L1833.9,948.6 L1835.1,953.1 L1836.3,956.5 L1837.5,956.5 L1838.7,954.1 L1839.9,950.9 L1841.2,947.1 L1842.4,944.6 L1843.6,942.3 L1844.8,940.5 L1846.0,938.3 L1847.2,936.1 L1848.4,934.6 L1849.6,933.8 L1850.8,935.9 L1852.0,939.2 L1853.2,943.0 L1854.4,944.1 L1855.6,943.2 L1856.8,940.8 L1858.0,939.1 L1859.2,937.5 L1860.4,937.1 L1861.6,934.9 L1862.8,932.7 L1864.0,930.2 L1865.2,929.1 L1866.5,928.1 L1867.7,927.3 L1868.9,926.2 L1870.1,925.0 L1871.3,923.7 L1872.5,922.5 L1873.7,921.8 L1874.9,921.1 L1876.1,919.8 L1877.3,918.3 L1878.5,918.1 L1879.7,916.7 L1880.9,914.8 L1882.1,911.4 L1883.3,908.2 L1884.5,905.2 L1885.7,903.9 L1886.9,904.4 L1888.1,905.5 L1889.3,906.1 L1890.5,907.8 L1891.8,910.1 L1893.0,917.9 L1894.2,925.0 L1895.4,928.2 L1896.6,931.8 L1897.8,935.1 L1899.0,938.7 L1900.2,941.4 L1901.4,943.0 L1902.6,944.8 L1903.8,947.2 L1905.0,950.1 L1906.2,953.0 L1907.4,954.4 L1908.6,955.1 L1909.8,956.3 L1911.0,958.0 L1912.2,959.4 L1913.4,960.3 L1914.6,959.9 L1915.8,959.4 L1917.1,957.1 L1918.3,955.6 L1919.5,954.0 L1920.7,952.6 L1921.9,950.6 L1923.1,948.6 L1924.3,947.0 L1925.5,948.8 L1926.7,953.3 L1927.9,958.2 L1929.1,960.1 L1930.3,962.2 L1931.5,964.7 L1932.7,967.6 L1933.9,969.0 L1935.1,970.3 L1936.3,970.8 L1937.5,972.2 L1938.7,973.9 L1939.9,974.9 L1941.1,974.7 L1942.4,974.4 L1943.6,973.8 L1944.8,972.6 L1946.0,970.0 L1947.2,968.7 L1948.4,968.7 L1949.6,971.2 L1950.8,974.4 L1952.0,978.7 L1953.2,982.9 L1954.4,986.8 L1955.6,989.9" fill="none" stroke="#2e57a7" stroke-width="2.8" stroke-linejoin="round" stroke-linecap="round"/><path d="M1744.8,982.3 L1746.0,981.2 L1747.2,980.0 L1748.4,981.0 L1749.6,982.8 L1750.8,987.7 L1752.0,994.1 L1753.2,1000.2 L1754.4,1003.8 L1755.6,1004.1 L1756.8,1000.5 L1758.0,995.8 L1759.2,988.7 L1760.4,983.9 L1761.6,980.0 L1762.8,976.7 L1764.0,971.8 L1765.3,966.5 L1766.5,962.1 L1767.7,958.3 L1768.9,956.1 L1770.1,954.6 L1771.3,955.5 L1772.5,958.8 L1773.7,962.4 L1774.9,966.4 L1776.1,973.7 L1777.3,984.7 L1778.5,992.9 L1779.7,998.2 L1780.9,999.2 L1782.1,1002.8 L1783.3,1004.5 L1784.5,1005.5 L1785.7,1004.0 L1786.9,999.2 L1788.1,994.7 L1789.3,990.1 L1790.6,987.8 L1791.8,986.6 L1793.0,984.3 L1794.2,982.5 L1795.4,980.6 L1796.6,981.4 L1797.8,982.4 L1799.0,984.4 L1800.2,985.3 L1801.4,985.6 L1802.6,984.9 L1803.8,981.1 L1805.0,977.5 L1806.2,974.2 L1807.4,974.9 L1808.6,976.4 L1809.8,978.5 L1811.0,980.8 L1812.2,982.5 L1813.4,983.6 L1814.6,982.9 L1815.9,976.1 L1817.1,967.0 L1818.3,957.2 L1819.5,951.8 L1820.7,948.4 L1821.9,941.6 L1823.1,935.0 L1824.3,929.0 L1825.5,926.6 L1826.7,925.9 L1827.9,929.1 L1829.1,933.6 L1830.3,938.0 L1831.5,942.8 L1832.7,950.5 L1833.9,958.9 L1835.1,966.6 L1836.3,970.8 L1837.5,971.5 L1838.7,970.8 L1839.9,969.2 L1841.2,966.1 L1842.4,962.9 L1843.6,960.4 L1844.8,959.5 L1846.0,959.5 L1847.2,958.9 L1848.4,958.1 L1849.6,957.1 L1850.8,957.4 L1852.0,956.6 L1853.2,954.5 L1854.4,949.8 L1855.6,946.2 L1856.8,942.7 L1858.0,939.4 L1859.2,936.7 L1860.4,933.3 L1861.6,930.5 L1862.8,927.5 L1864.0,922.7 L1865.2,919.7 L1866.5,916.8 L1867.7,916.0 L1868.9,915.4 L1870.1,915.9 L1871.3,916.1 L1872.5,914.8 L1873.7,914.1 L1874.9,912.7 L1876.1,912.6 L1877.3,911.5 L1878.5,910.0 L1879.7,908.5 L1880.9,904.6 L1882.1,900.3 L1883.3,894.8 L1884.5,891.0 L1885.7,889.4 L1886.9,890.3 L1888.1,893.0 L1889.3,897.1 L1890.5,900.0 L1891.8,907.2 L1893.0,914.5 L1894.2,921.3 L1895.4,924.5 L1896.6,930.3 L1897.8,936.5 L1899.0,940.1 L1900.2,940.1 L1901.4,937.5 L1902.6,937.6 L1903.8,939.8 L1905.0,947.2 L1906.2,955.0 L1907.4,960.7 L1908.6,963.0 L1909.8,965.9 L1911.0,970.4 L1912.2,973.7 L1913.4,976.5 L1914.6,977.4 L1915.8,980.3 L1917.1,982.4 L1918.3,985.2 L1919.5,987.0 L1920.7,987.9 L1921.9,986.7 L1923.1,985.7 L1924.3,984.1 L1925.5,982.9 L1926.7,982.1 L1927.9,983.4 L1929.1,985.4 L1930.3,988.2 L1931.5,989.4 L1932.7,990.8 L1933.9,990.8 L1935.1,990.2 L1936.3,990.1 L1937.5,990.1 L1938.7,990.0 L1939.9,990.1 L1941.1,989.6 L1942.4,990.2 L1943.6,990.3 L1944.8,990.9 L1946.0,992.1 L1947.2,993.0 L1948.4,994.4 L1949.6,994.6 L1950.8,993.6 L1952.0,993.3 L1953.2,993.8 L1954.4,994.7 L1955.6,995.0 L1955.6,1014.8 L1954.4,1014.5 L1953.2,1015.9 L1952.0,1017.4 L1950.8,1016.9 L1949.6,1015.9 L1948.4,1015.9 L1947.2,1017.2 L1946.0,1017.7 L1944.8,1016.1 L1943.6,1014.7 L1942.4,1013.9 L1941.1,1013.8 L1939.9,1012.7 L1938.7,1012.6 L1937.5,1013.7 L1936.3,1015.5 L1935.1,1016.7 L1933.9,1016.3 L1932.7,1014.6 L1931.5,1012.8 L1930.3,1011.1 L1929.1,1009.7 L1927.9,1009.0 L1926.7,1008.2 L1925.5,1009.1 L1924.3,1009.8 L1923.1,1011.0 L1921.9,1011.4 L1920.7,1010.9 L1919.5,1011.3 L1918.3,1009.6 L1917.1,1008.8 L1915.8,1006.3 L1914.6,1004.7 L1913.4,1003.2 L1912.2,1001.3 L1911.0,998.9 L1909.8,995.7 L1908.6,992.0 L1907.4,989.9 L1906.2,985.1 L1905.0,978.8 L1903.8,972.5 L1902.6,969.9 L1901.4,970.0 L1900.2,970.8 L1899.0,970.9 L1897.8,967.9 L1896.6,963.0 L1895.4,957.9 L1894.2,954.5 L1893.0,949.3 L1891.8,941.6 L1890.5,935.7 L1889.3,932.7 L1888.1,929.9 L1886.9,928.0 L1885.7,928.1 L1884.5,930.3 L1883.3,933.4 L1882.1,935.1 L1880.9,937.0 L1879.7,938.9 L1878.5,941.2 L1877.3,943.7 L1876.1,943.8 L1874.9,944.5 L1873.7,944.4 L1872.5,945.0 L1871.3,945.7 L1870.1,945.3 L1868.9,946.1 L1867.7,946.5 L1866.5,947.8 L1865.2,948.7 L1864.0,949.6 L1862.8,952.9 L1861.6,956.9 L1860.4,961.5 L1859.2,964.3 L1858.0,965.8 L1856.8,968.3 L1855.6,971.6 L1854.4,975.7 L1853.2,978.9 L1852.0,981.4 L1850.8,982.3 L1849.6,982.9 L1848.4,983.3 L1847.2,983.3 L1846.0,982.3 L1844.8,982.2 L1843.6,983.7 L1842.4,986.4 L1841.2,989.6 L1839.9,991.6 L1838.7,993.4 L1837.5,993.5 L1836.3,993.0 L1835.1,990.2 L1833.9,984.2 L1832.7,978.4 L1831.5,972.8 L1830.3,969.9 L1829.1,965.4 L1827.9,958.5 L1826.7,953.1 L1825.5,951.6 L1824.3,954.2 L1823.1,959.7 L1821.9,965.8 L1820.7,971.3 L1819.5,974.6 L1818.3,980.0 L1817.1,988.0 L1815.9,996.1 L1814.6,1002.7 L1813.4,1004.1 L1812.2,1003.8 L1811.0,1001.0 L1809.8,998.3 L1808.6,994.9 L1807.4,993.2 L1806.2,993.7 L1805.0,996.9 L1803.8,1001.4 L1802.6,1005.0 L1801.4,1006.2 L1800.2,1005.3 L1799.0,1003.0 L1797.8,1001.6 L1796.6,1000.4 L1795.4,1001.7 L1794.2,1002.6 L1793.0,1005.5 L1791.8,1007.0 L1790.6,1009.0 L1789.3,1011.2 L1788.1,1015.3 L1786.9,1020.3 L1785.7,1023.0 L1784.5,1024.2 L1783.3,1023.3 L1782.1,1022.4 L1780.9,1019.3 L1779.7,1016.7 L1778.5,1011.4 L1777.3,1003.1 L1776.1,993.8 L1774.9,987.6 L1773.7,984.6 L1772.5,981.7 L1771.3,978.5 L1770.1,977.9 L1768.9,979.1 L1767.7,981.7 L1766.5,986.0 L1765.3,989.9 L1764.0,994.5 L1762.8,997.6 L1761.6,1001.1 L1760.4,1004.6 L1759.2,1010.7 L1758.0,1016.4 L1756.8,1020.9 L1755.6,1022.5 L1754.4,1022.1 L1753.2,1019.1 L1752.0,1014.5 L1750.8,1007.6 L1749.6,1002.9 L1748.4,999.8 L1747.2,1001.1 L1746.0,1002.1 L1744.8,1003.9Z" fill="#eca2a7"/><path d="M1744.8,993.2 L1746.0,992.6 L1747.2,990.5 L1748.4,990.3 L1749.6,992.5 L1750.8,998.3 L1752.0,1004.2 L1753.2,1009.7 L1754.4,1013.1 L1755.6,1013.7 L1756.8,1010.6 L1758.0,1005.6 L1759.2,999.6 L1760.4,994.7 L1761.6,990.3 L1762.8,986.6 L1764.0,981.4 L1765.3,976.5 L1766.5,972.1 L1767.7,968.0 L1768.9,966.0 L1770.1,965.3 L1771.3,967.9 L1772.5,970.4 L1773.7,974.4 L1774.9,977.4 L1776.1,984.8 L1777.3,993.9 L1778.5,1002.5 L1779.7,1008.0 L1780.9,1009.5 L1782.1,1010.8 L1783.3,1012.6 L1784.5,1013.8 L1785.7,1013.3 L1786.9,1009.3 L1788.1,1004.1 L1789.3,1000.5 L1790.6,998.0 L1791.8,997.3 L1793.0,994.7 L1794.2,993.6 L1795.4,991.6 L1796.6,991.9 L1797.8,992.4 L1799.0,994.1 L1800.2,994.8 L1801.4,994.7 L1802.6,994.4 L1803.8,991.4 L1805.0,987.1 L1806.2,984.0 L1807.4,983.6 L1808.6,985.7 L1809.8,988.4 L1811.0,992.2 L1812.2,993.9 L1813.4,994.6 L1814.6,992.6 L1815.9,986.4 L1817.1,977.5 L1818.3,968.8 L1819.5,964.0 L1820.7,959.1 L1821.9,954.0 L1823.1,947.7 L1824.3,943.2 L1825.5,939.3 L1826.7,939.6 L1827.9,944.2 L1829.1,950.0 L1830.3,954.9 L1831.5,958.3 L1832.7,965.3 L1833.9,971.0 L1835.1,977.3 L1836.3,980.4 L1837.5,981.7 L1838.7,980.4 L1839.9,978.7 L1841.2,976.1 L1842.4,974.6 L1843.6,973.4 L1844.8,972.2 L1846.0,971.1 L1847.2,969.8 L1848.4,969.9 L1849.6,969.9 L1850.8,969.5 L1852.0,967.6 L1853.2,964.9 L1854.4,961.9 L1855.6,958.2 L1856.8,955.0 L1858.0,951.6 L1859.2,949.8 L1860.4,946.5 L1861.6,944.1 L1862.8,940.3 L1864.0,936.6 L1865.2,933.2 L1866.5,931.9 L1867.7,931.6 L1868.9,930.7 L1870.1,930.3 L1871.3,930.1 L1872.5,930.5 L1873.7,930.4 L1874.9,929.3 L1876.1,927.7 L1877.3,925.9 L1878.5,924.9 L1879.7,924.4 L1880.9,921.6 L1882.1,917.9 L1883.3,913.5 L1884.5,910.6 L1885.7,908.1 L1886.9,908.6 L1888.1,911.0 L1889.3,914.9 L1890.5,918.3 L1891.8,923.9 L1893.0,931.3 L1894.2,937.3 L1895.4,942.4 L1896.6,948.3 L1897.8,953.4 L1899.0,956.0 L1900.2,954.9 L1901.4,954.3 L1902.6,952.8 L1903.8,955.4 L1905.0,961.5 L1906.2,969.5 L1907.4,975.6 L1908.6,978.6 L1909.8,982.3 L1911.0,985.3 L1912.2,988.4 L1913.4,989.7 L1914.6,990.9 L1915.8,992.8 L1917.1,995.6 L1918.3,997.0 L1919.5,997.4 L1920.7,997.2 L1921.9,996.8 L1923.1,996.6 L1924.3,995.3 L1925.5,995.0 L1926.7,995.0 L1927.9,995.9 L1929.1,997.3 L1930.3,999.2 L1931.5,1001.6 L1932.7,1003.5 L1933.9,1002.9 L1935.1,1002.4 L1936.3,1001.2 L1937.5,1001.6 L1938.7,1001.0 L1939.9,1000.7 L1941.1,1000.1 L1942.4,1001.8 L1943.6,1002.9 L1944.8,1004.9 L1946.0,1004.9 L1947.2,1005.2 L1948.4,1004.2 L1949.6,1004.4 L1950.8,1004.1 L1952.0,1004.0 L1953.2,1004.3 L1954.4,1005.2 L1955.6,1005.3" fill="none" stroke="#e91c2e" stroke-width="2.8" stroke-linejoin="round" stroke-linecap="round"/></g>
<rect x="1827.30" y="825.50" width="55.00" height="21.70" fill="#17a3db"/>
<line x1="1744.80" y1="822.30" x2="1744.80" y2="1037.80" stroke="#231f20" stroke-width="1.7"/>
<line x1="1744.00" y1="1037.00" x2="1953.50" y2="1037.00" stroke="#231f20" stroke-width="1.8"/>
<line x1="1739.60" y1="879.80" x2="1744.80" y2="879.80" stroke="#231f20" stroke-width="1.6"/>
<line x1="1739.60" y1="974.80" x2="1744.80" y2="974.80" stroke="#231f20" stroke-width="1.6"/>
<line x1="1790.50" y1="1037.00" x2="1790.50" y2="1041.80" stroke="#231f20" stroke-width="1.6"/>
<line x1="1882.00" y1="1037.00" x2="1882.00" y2="1041.80" stroke="#231f20" stroke-width="1.6"/>
<text x="1720.90" y="888.30" font-size="22.5" fill="#231f20">2</text>
<text x="1720.56" y="983.30" font-size="22.5" fill="#231f20">1</text>
<text x="1771.38" y="1063.25" font-size="22.5" fill="#231f20">−2</text>
<text x="1875.30" y="1063.25" font-size="22.5" fill="#231f20">0</text>
<text x="1892.74" y="849.90" font-size="22.0" fill="#2e57a7">Lick contra</text>
<text x="1893.14" y="878.60" font-size="22.0" fill="#e91c2e">Lick ipsi</text>
<line x1="1482.10" y1="1342.40" x2="1482.10" y2="1149.70" stroke="#1e1e1e" stroke-width="1.3" stroke-dasharray="2.6 1.9"/>
<line x1="1543.20" y1="1342.40" x2="1543.20" y2="1149.70" stroke="#1e1e1e" stroke-width="1.3" stroke-dasharray="2.6 1.9"/>
<line x1="1603.80" y1="1342.40" x2="1603.80" y2="1149.70" stroke="#1e1e1e" stroke-width="1.3" stroke-dasharray="2.6 1.9"/>
<line x1="1463.20" y1="1270.40" x2="1677.20" y2="1270.40" stroke="#1e1e1e" stroke-width="1.3" stroke-dasharray="2.4 2.3"/>
<g clip-path="url(#c15)"><path d="M1463.2,1275.6 L1464.4,1275.0 L1465.6,1274.6 L1466.8,1274.8 L1468.0,1274.5 L1469.2,1274.0 L1470.4,1273.4 L1471.6,1272.2 L1472.8,1271.6 L1474.0,1269.9 L1475.2,1270.4 L1476.4,1269.2 L1477.6,1269.7 L1478.8,1269.4 L1480.0,1270.3 L1481.2,1269.8 L1482.4,1270.3 L1483.6,1269.4 L1484.8,1271.3 L1486.0,1271.6 L1487.2,1273.0 L1488.4,1272.9 L1489.7,1274.8 L1490.9,1276.1 L1492.1,1277.9 L1493.3,1278.7 L1494.5,1279.2 L1495.7,1280.7 L1496.9,1281.6 L1498.1,1284.0 L1499.3,1284.9 L1500.5,1287.1 L1501.7,1287.9 L1502.9,1288.5 L1504.1,1289.2 L1505.3,1289.3 L1506.5,1288.9 L1507.7,1287.8 L1508.9,1286.6 L1510.1,1285.6 L1511.3,1284.9 L1512.5,1284.8 L1513.7,1284.4 L1514.9,1282.4 L1516.1,1279.9 L1517.3,1277.7 L1518.5,1276.3 L1519.7,1275.3 L1520.9,1274.6 L1522.1,1274.8 L1523.3,1276.3 L1524.5,1277.1 L1525.7,1277.5 L1526.9,1277.7 L1528.1,1278.6 L1529.3,1279.3 L1530.5,1278.5 L1531.7,1278.8 L1532.9,1278.4 L1534.1,1279.1 L1535.3,1279.1 L1536.5,1278.7 L1537.7,1278.7 L1538.9,1278.2 L1540.2,1278.0 L1541.4,1278.1 L1542.6,1278.4 L1543.8,1279.4 L1545.0,1278.9 L1546.2,1278.5 L1547.4,1278.6 L1548.6,1279.6 L1549.8,1279.6 L1551.0,1278.8 L1552.2,1277.0 L1553.4,1276.0 L1554.6,1275.7 L1555.8,1274.2 L1557.0,1273.7 L1558.2,1271.2 L1559.4,1271.4 L1560.6,1270.1 L1561.8,1269.9 L1563.0,1268.7 L1564.2,1267.7 L1565.4,1267.9 L1566.6,1268.3 L1567.8,1268.9 L1569.0,1268.1 L1570.2,1267.2 L1571.4,1266.5 L1572.6,1267.4 L1573.8,1268.4 L1575.0,1268.9 L1576.2,1268.3 L1577.4,1268.2 L1578.6,1267.1 L1579.8,1267.4 L1581.0,1266.5 L1582.2,1267.0 L1583.4,1265.6 L1584.6,1264.2 L1585.8,1262.4 L1587.0,1262.5 L1588.2,1262.7 L1589.5,1262.8 L1590.7,1262.1 L1591.9,1261.4 L1593.1,1261.2 L1594.3,1260.3 L1595.5,1259.6 L1596.7,1258.1 L1597.9,1257.1 L1599.1,1256.0 L1600.3,1253.3 L1601.5,1249.2 L1602.7,1245.9 L1603.9,1242.0 L1605.1,1232.5 L1606.3,1221.0 L1607.5,1213.9 L1608.7,1207.1 L1609.9,1201.8 L1611.1,1201.9 L1612.3,1208.3 L1613.5,1216.9 L1614.7,1223.5 L1615.9,1228.2 L1617.1,1235.8 L1618.3,1243.1 L1619.5,1250.3 L1620.7,1254.3 L1621.9,1259.4 L1623.1,1265.6 L1624.3,1272.7 L1625.5,1278.9 L1626.7,1282.1 L1627.9,1285.3 L1629.1,1287.5 L1630.3,1291.4 L1631.5,1293.0 L1632.7,1294.9 L1633.9,1294.8 L1635.1,1296.1 L1636.3,1296.9 L1637.5,1298.2 L1638.7,1297.5 L1640.0,1296.4 L1641.2,1295.6 L1642.4,1296.3 L1643.6,1296.1 L1644.8,1296.0 L1646.0,1296.4 L1647.2,1297.9 L1648.4,1298.0 L1649.6,1296.9 L1650.8,1295.7 L1652.0,1296.5 L1653.2,1297.3 L1654.4,1297.2 L1655.6,1297.5 L1656.8,1297.8 L1658.0,1297.9 L1659.2,1297.0 L1660.4,1296.1 L1661.6,1296.7 L1662.8,1297.8 L1664.0,1298.9 L1665.2,1299.4 L1666.4,1299.4 L1667.6,1298.7 L1668.8,1298.8 L1670.0,1298.2 L1671.2,1298.6 L1672.4,1299.3 L1673.6,1299.3 L1674.8,1300.5 L1676.0,1299.6 L1677.2,1299.0 L1678.4,1298.7 L1678.4,1310.1 L1677.2,1310.8 L1676.0,1310.6 L1674.8,1310.5 L1673.6,1310.6 L1672.4,1310.6 L1671.2,1310.3 L1670.0,1309.3 L1668.8,1308.7 L1667.6,1309.3 L1666.4,1310.4 L1665.2,1310.7 L1664.0,1310.4 L1662.8,1310.2 L1661.6,1309.4 L1660.4,1308.6 L1659.2,1307.6 L1658.0,1308.5 L1656.8,1309.2 L1655.6,1309.0 L1654.4,1308.4 L1653.2,1307.5 L1652.0,1307.1 L1650.8,1306.4 L1649.6,1308.0 L1648.4,1309.0 L1647.2,1310.2 L1646.0,1309.5 L1644.8,1309.2 L1643.6,1309.9 L1642.4,1309.7 L1641.2,1311.1 L1640.0,1311.2 L1638.7,1311.2 L1637.5,1310.5 L1636.3,1309.2 L1635.1,1309.1 L1633.9,1309.6 L1632.7,1309.6 L1631.5,1309.5 L1630.3,1307.7 L1629.1,1305.3 L1627.9,1302.7 L1626.7,1299.6 L1625.5,1298.1 L1624.3,1294.2 L1623.1,1289.3 L1621.9,1284.9 L1620.7,1280.6 L1619.5,1278.0 L1618.3,1273.0 L1617.1,1267.7 L1615.9,1261.9 L1614.7,1257.5 L1613.5,1253.7 L1612.3,1248.3 L1611.1,1244.3 L1609.9,1244.2 L1608.7,1248.1 L1607.5,1251.1 L1606.3,1255.1 L1605.1,1262.9 L1603.9,1271.5 L1602.7,1273.9 L1601.5,1273.7 L1600.3,1272.9 L1599.1,1272.9 L1597.9,1273.0 L1596.7,1274.4 L1595.5,1275.6 L1594.3,1277.0 L1593.1,1276.8 L1591.9,1277.0 L1590.7,1277.2 L1589.5,1278.0 L1588.2,1278.3 L1587.0,1278.1 L1585.8,1278.9 L1584.6,1279.5 L1583.4,1280.9 L1582.2,1280.3 L1581.0,1280.8 L1579.8,1279.8 L1578.6,1279.5 L1577.4,1278.5 L1576.2,1279.3 L1575.0,1280.8 L1573.8,1281.0 L1572.6,1281.9 L1571.4,1281.7 L1570.2,1282.2 L1569.0,1281.9 L1567.8,1282.1 L1566.6,1282.7 L1565.4,1283.3 L1564.2,1284.0 L1563.0,1285.4 L1561.8,1285.5 L1560.6,1284.7 L1559.4,1284.2 L1558.2,1285.5 L1557.0,1287.9 L1555.8,1288.8 L1554.6,1288.9 L1553.4,1289.8 L1552.2,1292.4 L1551.0,1294.4 L1549.8,1295.0 L1548.6,1293.8 L1547.4,1292.5 L1546.2,1291.7 L1545.0,1291.8 L1543.8,1291.8 L1542.6,1292.8 L1541.4,1292.8 L1540.2,1292.3 L1538.9,1291.3 L1537.7,1291.9 L1536.5,1292.0 L1535.3,1293.2 L1534.1,1292.1 L1532.9,1292.1 L1531.7,1290.5 L1530.5,1290.9 L1529.3,1291.0 L1528.1,1291.7 L1526.9,1290.7 L1525.7,1290.7 L1524.5,1290.8 L1523.3,1290.6 L1522.1,1290.3 L1520.9,1290.1 L1519.7,1290.5 L1518.5,1291.3 L1517.3,1291.8 L1516.1,1292.3 L1514.9,1293.7 L1513.7,1294.7 L1512.5,1295.8 L1511.3,1294.9 L1510.1,1295.5 L1508.9,1296.1 L1507.7,1298.3 L1506.5,1298.4 L1505.3,1299.4 L1504.1,1299.6 L1502.9,1300.2 L1501.7,1298.9 L1500.5,1296.7 L1499.3,1295.9 L1498.1,1296.1 L1496.9,1296.2 L1495.7,1293.8 L1494.5,1291.6 L1493.3,1290.0 L1492.1,1289.7 L1490.9,1290.2 L1489.7,1289.9 L1488.4,1288.5 L1487.2,1287.3 L1486.0,1285.6 L1484.8,1284.5 L1483.6,1282.6 L1482.4,1282.9 L1481.2,1283.4 L1480.0,1283.6 L1478.8,1282.6 L1477.6,1282.1 L1476.4,1282.8 L1475.2,1283.6 L1474.0,1285.4 L1472.8,1285.9 L1471.6,1286.6 L1470.4,1287.0 L1469.2,1288.3 L1468.0,1288.9 L1466.8,1288.9 L1465.6,1288.8 L1464.4,1289.7 L1463.2,1289.8Z" fill="#a0a3cb"/><path d="M1463.2,1284.0 L1464.4,1283.5 L1465.6,1282.2 L1466.8,1280.8 L1468.0,1279.6 L1469.2,1279.2 L1470.4,1279.0 L1471.6,1278.4 L1472.8,1278.7 L1474.0,1278.3 L1475.2,1278.4 L1476.4,1277.2 L1477.6,1276.8 L1478.8,1276.9 L1480.0,1277.7 L1481.2,1277.2 L1482.4,1276.6 L1483.6,1276.7 L1484.8,1277.4 L1486.0,1277.9 L1487.2,1278.8 L1488.4,1280.4 L1489.7,1281.6 L1490.9,1282.0 L1492.1,1282.1 L1493.3,1282.9 L1494.5,1284.2 L1495.7,1286.8 L1496.9,1288.8 L1498.1,1290.7 L1499.3,1291.2 L1500.5,1292.5 L1501.7,1293.3 L1502.9,1294.7 L1504.1,1294.4 L1505.3,1294.1 L1506.5,1292.5 L1507.7,1292.0 L1508.9,1290.4 L1510.1,1289.6 L1511.3,1288.9 L1512.5,1288.6 L1513.7,1287.7 L1514.9,1286.7 L1516.1,1286.2 L1517.3,1285.7 L1518.5,1285.1 L1519.7,1283.9 L1520.9,1283.3 L1522.1,1283.1 L1523.3,1283.7 L1524.5,1284.6 L1525.7,1284.8 L1526.9,1285.2 L1528.1,1284.6 L1529.3,1285.0 L1530.5,1284.4 L1531.7,1285.4 L1532.9,1284.9 L1534.1,1285.3 L1535.3,1284.8 L1536.5,1285.0 L1537.7,1284.5 L1538.9,1284.2 L1540.2,1283.8 L1541.4,1284.0 L1542.6,1285.0 L1543.8,1286.1 L1545.0,1287.1 L1546.2,1286.9 L1547.4,1287.2 L1548.6,1286.7 L1549.8,1286.7 L1551.0,1286.0 L1552.2,1286.0 L1553.4,1285.2 L1554.6,1283.6 L1555.8,1281.6 L1557.0,1279.5 L1558.2,1278.1 L1559.4,1276.7 L1560.6,1276.5 L1561.8,1275.8 L1563.0,1276.0 L1564.2,1275.5 L1565.4,1275.0 L1566.6,1274.0 L1567.8,1274.3 L1569.0,1274.2 L1570.2,1275.0 L1571.4,1274.7 L1572.6,1275.1 L1573.8,1274.6 L1575.0,1274.6 L1576.2,1274.7 L1577.4,1273.9 L1578.6,1273.6 L1579.8,1272.8 L1581.0,1273.4 L1582.2,1272.6 L1583.4,1272.2 L1584.6,1271.3 L1585.8,1270.9 L1587.0,1270.4 L1588.2,1270.5 L1589.5,1271.0 L1590.7,1271.5 L1591.9,1270.4 L1593.1,1269.4 L1594.3,1268.6 L1595.5,1268.3 L1596.7,1266.9 L1597.9,1266.2 L1599.1,1265.6 L1600.3,1264.7 L1601.5,1262.7 L1602.7,1260.1 L1603.9,1255.9 L1605.1,1246.3 L1606.3,1236.4 L1607.5,1232.0 L1608.7,1227.0 L1609.9,1223.3 L1611.1,1223.9 L1612.3,1229.6 L1613.5,1236.5 L1614.7,1241.1 L1615.9,1245.3 L1617.1,1251.7 L1618.3,1257.4 L1619.5,1263.5 L1620.7,1267.8 L1621.9,1272.8 L1623.1,1278.8 L1624.3,1284.2 L1625.5,1289.1 L1626.7,1291.7 L1627.9,1294.0 L1629.1,1296.5 L1630.3,1299.1 L1631.5,1302.2 L1632.7,1303.1 L1633.9,1303.9 L1635.1,1303.1 L1636.3,1303.3 L1637.5,1302.8 L1638.7,1303.5 L1640.0,1303.4 L1641.2,1302.8 L1642.4,1303.1 L1643.6,1303.1 L1644.8,1303.0 L1646.0,1302.0 L1647.2,1301.7 L1648.4,1301.5 L1649.6,1301.6 L1650.8,1302.4 L1652.0,1302.6 L1653.2,1303.1 L1654.4,1303.1 L1655.6,1303.2 L1656.8,1303.7 L1658.0,1303.9 L1659.2,1304.8 L1660.4,1305.0 L1661.6,1304.1 L1662.8,1304.2 L1664.0,1304.2 L1665.2,1304.7 L1666.4,1304.8 L1667.6,1304.4 L1668.8,1304.6 L1670.0,1304.9 L1671.2,1305.1 L1672.4,1305.7 L1673.6,1305.6 L1674.8,1305.7 L1676.0,1305.7 L1677.2,1305.8 L1678.4,1306.1" fill="none" stroke="#2e57a7" stroke-width="2.8" stroke-linejoin="round" stroke-linecap="round"/><path d="M1463.2,1274.8 L1464.4,1275.6 L1465.6,1274.3 L1466.8,1273.5 L1468.0,1273.4 L1469.2,1274.2 L1470.4,1275.6 L1471.6,1276.1 L1472.8,1276.7 L1474.0,1275.6 L1475.2,1275.4 L1476.4,1275.5 L1477.6,1276.6 L1478.8,1276.1 L1480.0,1275.7 L1481.2,1275.5 L1482.4,1276.6 L1483.6,1274.9 L1484.8,1271.6 L1486.0,1268.2 L1487.2,1266.1 L1488.4,1264.4 L1489.7,1262.4 L1490.9,1259.8 L1492.1,1258.4 L1493.3,1256.3 L1494.5,1257.0 L1495.7,1259.2 L1496.9,1262.9 L1498.1,1266.3 L1499.3,1268.4 L1500.5,1270.4 L1501.7,1271.9 L1502.9,1271.9 L1504.1,1271.3 L1505.3,1268.4 L1506.5,1265.4 L1507.7,1262.8 L1508.9,1260.6 L1510.1,1260.3 L1511.3,1258.1 L1512.5,1257.2 L1513.7,1255.7 L1514.9,1254.4 L1516.1,1253.6 L1517.3,1252.8 L1518.5,1252.7 L1519.7,1251.4 L1520.9,1250.2 L1522.1,1249.3 L1523.3,1248.8 L1524.5,1247.8 L1525.7,1247.7 L1526.9,1247.5 L1528.1,1248.0 L1529.3,1247.4 L1530.5,1247.5 L1531.7,1247.0 L1532.9,1246.3 L1534.1,1245.2 L1535.3,1244.9 L1536.5,1245.3 L1537.7,1246.7 L1538.9,1246.1 L1540.2,1245.7 L1541.4,1245.6 L1542.6,1246.8 L1543.8,1247.9 L1545.0,1246.6 L1546.2,1246.3 L1547.4,1246.2 L1548.6,1248.1 L1549.8,1249.1 L1551.0,1249.6 L1552.2,1249.6 L1553.4,1248.5 L1554.6,1247.3 L1555.8,1244.4 L1557.0,1241.9 L1558.2,1239.2 L1559.4,1237.2 L1560.6,1235.3 L1561.8,1232.9 L1563.0,1230.3 L1564.2,1227.7 L1565.4,1224.6 L1566.6,1222.3 L1567.8,1221.1 L1569.0,1220.4 L1570.2,1219.4 L1571.4,1218.5 L1572.6,1217.4 L1573.8,1215.6 L1575.0,1214.9 L1576.2,1213.6 L1577.4,1212.2 L1578.6,1210.2 L1579.8,1208.1 L1581.0,1207.8 L1582.2,1207.2 L1583.4,1206.6 L1584.6,1204.4 L1585.8,1202.9 L1587.0,1200.4 L1588.2,1200.7 L1589.5,1199.6 L1590.7,1200.8 L1591.9,1199.4 L1593.1,1199.9 L1594.3,1198.8 L1595.5,1196.6 L1596.7,1192.3 L1597.9,1189.7 L1599.1,1188.0 L1600.3,1185.0 L1601.5,1179.3 L1602.7,1173.1 L1603.9,1154.2 L1605.1,1128.8 L1606.3,1120.2 L1607.5,1118.9 L1608.7,1118.6 L1609.9,1123.4 L1611.1,1137.8 L1612.3,1154.8 L1613.5,1163.7 L1614.7,1174.2 L1615.9,1187.1 L1617.1,1197.3 L1618.3,1203.9 L1619.5,1213.8 L1620.7,1225.4 L1621.9,1236.9 L1623.1,1242.2 L1624.3,1248.7 L1625.5,1254.4 L1626.7,1259.5 L1627.9,1262.4 L1629.1,1266.5 L1630.3,1270.4 L1631.5,1273.4 L1632.7,1274.1 L1633.9,1276.4 L1635.1,1278.2 L1636.3,1280.0 L1637.5,1280.0 L1638.7,1282.1 L1640.0,1282.3 L1641.2,1283.2 L1642.4,1281.8 L1643.6,1281.6 L1644.8,1280.1 L1646.0,1277.8 L1647.2,1275.3 L1648.4,1273.4 L1649.6,1272.4 L1650.8,1272.5 L1652.0,1272.2 L1653.2,1272.9 L1654.4,1271.1 L1655.6,1271.1 L1656.8,1270.7 L1658.0,1271.8 L1659.2,1270.9 L1660.4,1270.4 L1661.6,1270.6 L1662.8,1270.4 L1664.0,1270.4 L1665.2,1269.6 L1666.4,1269.0 L1667.6,1268.0 L1668.8,1268.3 L1670.0,1269.4 L1671.2,1270.2 L1672.4,1269.4 L1673.6,1268.9 L1674.8,1268.5 L1676.0,1267.6 L1677.2,1267.4 L1678.4,1266.9 L1678.4,1294.8 L1677.2,1295.1 L1676.0,1294.5 L1674.8,1293.9 L1673.6,1294.2 L1672.4,1294.5 L1671.2,1294.9 L1670.0,1294.9 L1668.8,1295.0 L1667.6,1295.7 L1666.4,1295.0 L1665.2,1295.7 L1664.0,1295.5 L1662.8,1296.6 L1661.6,1296.5 L1660.4,1296.9 L1659.2,1295.7 L1658.0,1296.2 L1656.8,1295.7 L1655.6,1296.7 L1654.4,1296.2 L1653.2,1297.6 L1652.0,1298.1 L1650.8,1298.4 L1649.6,1298.2 L1648.4,1298.2 L1647.2,1299.9 L1646.0,1300.7 L1644.8,1302.5 L1643.6,1302.5 L1642.4,1303.5 L1641.2,1303.3 L1640.0,1303.4 L1638.7,1302.6 L1637.5,1301.9 L1636.3,1300.2 L1635.1,1298.0 L1633.9,1295.5 L1632.7,1294.7 L1631.5,1294.2 L1630.3,1292.9 L1629.1,1289.9 L1627.9,1286.4 L1626.7,1283.3 L1625.5,1279.0 L1624.3,1274.2 L1623.1,1268.4 L1621.9,1262.8 L1620.7,1254.2 L1619.5,1244.1 L1618.3,1235.0 L1617.1,1228.2 L1615.9,1220.3 L1614.7,1211.2 L1613.5,1202.3 L1612.3,1193.1 L1611.1,1177.9 L1609.9,1163.7 L1608.7,1158.6 L1607.5,1157.3 L1606.3,1160.8 L1605.1,1168.9 L1603.9,1187.7 L1602.7,1199.5 L1601.5,1203.8 L1600.3,1208.6 L1599.1,1211.8 L1597.9,1213.1 L1596.7,1215.1 L1595.5,1218.0 L1594.3,1220.7 L1593.1,1221.8 L1591.9,1223.0 L1590.7,1223.4 L1589.5,1223.5 L1588.2,1223.9 L1587.0,1223.6 L1585.8,1225.4 L1584.6,1225.7 L1583.4,1226.7 L1582.2,1227.8 L1581.0,1229.2 L1579.8,1231.0 L1578.6,1232.6 L1577.4,1234.6 L1576.2,1237.6 L1575.0,1238.2 L1573.8,1238.5 L1572.6,1239.0 L1571.4,1241.6 L1570.2,1243.7 L1569.0,1244.9 L1567.8,1245.2 L1566.6,1247.2 L1565.4,1249.1 L1564.2,1252.4 L1563.0,1254.6 L1561.8,1257.8 L1560.6,1260.5 L1559.4,1262.5 L1558.2,1265.0 L1557.0,1266.9 L1555.8,1268.9 L1554.6,1271.0 L1553.4,1273.5 L1552.2,1274.8 L1551.0,1274.4 L1549.8,1274.7 L1548.6,1274.8 L1547.4,1274.6 L1546.2,1274.5 L1545.0,1274.1 L1543.8,1275.1 L1542.6,1274.8 L1541.4,1274.3 L1540.2,1274.2 L1538.9,1273.2 L1537.7,1273.5 L1536.5,1273.2 L1535.3,1274.0 L1534.1,1274.4 L1532.9,1274.5 L1531.7,1273.9 L1530.5,1273.9 L1529.3,1273.2 L1528.1,1274.7 L1526.9,1274.8 L1525.7,1276.0 L1524.5,1276.3 L1523.3,1277.4 L1522.1,1276.8 L1520.9,1276.8 L1519.7,1277.0 L1518.5,1278.0 L1517.3,1278.8 L1516.1,1279.2 L1514.9,1280.1 L1513.7,1281.0 L1512.5,1282.8 L1511.3,1284.5 L1510.1,1284.6 L1508.9,1284.7 L1507.7,1285.2 L1506.5,1286.9 L1505.3,1288.1 L1504.1,1288.6 L1502.9,1288.9 L1501.7,1290.2 L1500.5,1291.6 L1499.3,1293.1 L1498.1,1291.4 L1496.9,1289.9 L1495.7,1287.6 L1494.5,1287.2 L1493.3,1286.8 L1492.1,1286.4 L1490.9,1286.0 L1489.7,1285.9 L1488.4,1286.8 L1487.2,1287.7 L1486.0,1288.7 L1484.8,1289.4 L1483.6,1290.8 L1482.4,1292.3 L1481.2,1293.7 L1480.0,1293.4 L1478.8,1292.6 L1477.6,1291.0 L1476.4,1292.0 L1475.2,1292.5 L1474.0,1292.7 L1472.8,1292.6 L1471.6,1293.0 L1470.4,1292.7 L1469.2,1292.3 L1468.0,1290.3 L1466.8,1290.5 L1465.6,1288.8 L1464.4,1289.1 L1463.2,1288.9Z" fill="#eca2a7"/><path d="M1463.2,1283.1 L1464.4,1282.4 L1465.6,1282.9 L1466.8,1283.2 L1468.0,1283.6 L1469.2,1284.2 L1470.4,1283.4 L1471.6,1284.4 L1472.8,1284.3 L1474.0,1284.4 L1475.2,1284.4 L1476.4,1284.2 L1477.6,1284.3 L1478.8,1284.5 L1480.0,1284.5 L1481.2,1285.1 L1482.4,1283.9 L1483.6,1282.7 L1484.8,1280.1 L1486.0,1277.7 L1487.2,1276.1 L1488.4,1275.5 L1489.7,1275.3 L1490.9,1274.3 L1492.1,1273.6 L1493.3,1272.8 L1494.5,1272.1 L1495.7,1273.1 L1496.9,1275.8 L1498.1,1278.5 L1499.3,1280.3 L1500.5,1280.5 L1501.7,1280.9 L1502.9,1280.7 L1504.1,1280.7 L1505.3,1279.0 L1506.5,1276.5 L1507.7,1274.3 L1508.9,1273.4 L1510.1,1273.2 L1511.3,1271.3 L1512.5,1270.0 L1513.7,1268.5 L1514.9,1267.6 L1516.1,1267.0 L1517.3,1266.6 L1518.5,1266.1 L1519.7,1264.5 L1520.9,1263.6 L1522.1,1262.3 L1523.3,1262.4 L1524.5,1261.1 L1525.7,1260.8 L1526.9,1259.9 L1528.1,1260.8 L1529.3,1261.4 L1530.5,1261.8 L1531.7,1261.1 L1532.9,1261.2 L1534.1,1260.7 L1535.3,1260.1 L1536.5,1260.1 L1537.7,1259.4 L1538.9,1260.2 L1540.2,1259.6 L1541.4,1259.5 L1542.6,1259.3 L1543.8,1258.9 L1545.0,1260.0 L1546.2,1260.6 L1547.4,1261.5 L1548.6,1261.9 L1549.8,1262.0 L1551.0,1261.8 L1552.2,1261.1 L1553.4,1260.8 L1554.6,1258.8 L1555.8,1256.7 L1557.0,1253.0 L1558.2,1251.2 L1559.4,1248.4 L1560.6,1247.2 L1561.8,1244.0 L1563.0,1241.1 L1564.2,1238.2 L1565.4,1236.5 L1566.6,1234.8 L1567.8,1233.9 L1569.0,1232.5 L1570.2,1232.3 L1571.4,1230.3 L1572.6,1228.9 L1573.8,1226.8 L1575.0,1226.1 L1576.2,1224.0 L1577.4,1222.1 L1578.6,1220.3 L1579.8,1218.6 L1581.0,1217.2 L1582.2,1215.8 L1583.4,1214.7 L1584.6,1214.4 L1585.8,1214.0 L1587.0,1213.4 L1588.2,1211.8 L1589.5,1211.6 L1590.7,1211.2 L1591.9,1211.2 L1593.1,1210.9 L1594.3,1209.4 L1595.5,1207.0 L1596.7,1203.6 L1597.9,1201.1 L1599.1,1199.2 L1600.3,1195.2 L1601.5,1190.8 L1602.7,1186.5 L1603.9,1171.6 L1605.1,1150.0 L1606.3,1141.6 L1607.5,1138.7 L1608.7,1138.6 L1609.9,1142.3 L1611.1,1157.1 L1612.3,1173.5 L1613.5,1184.0 L1614.7,1193.8 L1615.9,1204.9 L1617.1,1213.3 L1618.3,1219.4 L1619.5,1228.5 L1620.7,1240.0 L1621.9,1250.1 L1623.1,1255.3 L1624.3,1260.9 L1625.5,1265.6 L1626.7,1271.3 L1627.9,1273.9 L1629.1,1277.6 L1630.3,1280.7 L1631.5,1284.4 L1632.7,1286.7 L1633.9,1288.1 L1635.1,1289.1 L1636.3,1289.9 L1637.5,1291.0 L1638.7,1291.8 L1640.0,1291.8 L1641.2,1292.2 L1642.4,1291.1 L1643.6,1290.5 L1644.8,1289.7 L1646.0,1289.6 L1647.2,1288.3 L1648.4,1286.6 L1649.6,1286.2 L1650.8,1285.3 L1652.0,1284.9 L1653.2,1284.3 L1654.4,1284.0 L1655.6,1283.2 L1656.8,1282.2 L1658.0,1282.0 L1659.2,1282.7 L1660.4,1283.1 L1661.6,1283.0 L1662.8,1282.1 L1664.0,1281.9 L1665.2,1282.2 L1666.4,1282.1 L1667.6,1281.9 L1668.8,1281.9 L1670.0,1282.4 L1671.2,1283.0 L1672.4,1282.8 L1673.6,1282.7 L1674.8,1281.9 L1676.0,1281.7 L1677.2,1281.5 L1678.4,1281.2" fill="none" stroke="#e91c2e" stroke-width="2.8" stroke-linejoin="round" stroke-linecap="round"/></g>
<line x1="1463.20" y1="1126.20" x2="1463.20" y2="1343.20" stroke="#231f20" stroke-width="1.7"/>
<line x1="1462.40" y1="1342.40" x2="1677.20" y2="1342.40" stroke="#231f20" stroke-width="1.8"/>
<line x1="1458.00" y1="1198.90" x2="1463.20" y2="1198.90" stroke="#231f20" stroke-width="1.6"/>
<line x1="1458.00" y1="1270.40" x2="1463.20" y2="1270.40" stroke="#231f20" stroke-width="1.6"/>
<line x1="1510.00" y1="1342.40" x2="1510.00" y2="1347.20" stroke="#231f20" stroke-width="1.6"/>
<line x1="1603.80" y1="1342.40" x2="1603.80" y2="1347.20" stroke="#231f20" stroke-width="1.6"/>
<text x="1439.80" y="1207.40" font-size="22.5" fill="#231f20">2</text>
<text x="1439.46" y="1278.90" font-size="22.5" fill="#231f20">1</text>
<text x="1491.88" y="1367.50" font-size="22.5" fill="#231f20">−2</text>
<text x="1596.60" y="1367.50" font-size="22.5" fill="#231f20">0</text>
<text x="1526.78" y="1134.65" font-size="22.3" fill="#231f20">No stim</text>
<text x="1512.23" y="1161.80" font-size="22.3" fill="#231f20">S</text>
<text x="1568.13" y="1161.80" font-size="22.3" fill="#231f20">D</text>
<text x="1627.64" y="1161.80" font-size="22.3" fill="#231f20">R</text>
<line x1="1764.30" y1="1342.20" x2="1764.30" y2="1149.60" stroke="#1e1e1e" stroke-width="1.3" stroke-dasharray="2.6 1.9"/>
<line x1="1825.30" y1="1342.20" x2="1825.30" y2="1149.60" stroke="#1e1e1e" stroke-width="1.3" stroke-dasharray="2.6 1.9"/>
<line x1="1885.90" y1="1342.20" x2="1885.90" y2="1149.60" stroke="#1e1e1e" stroke-width="1.3" stroke-dasharray="2.6 1.9"/>
<line x1="1742.30" y1="1270.30" x2="1961.00" y2="1270.30" stroke="#1e1e1e" stroke-width="1.3" stroke-dasharray="2.4 2.3"/>
<g clip-path="url(#c16)"><path d="M1744.2,1257.6 L1745.4,1258.5 L1746.6,1259.4 L1747.8,1260.3 L1749.0,1260.3 L1750.2,1260.6 L1751.4,1261.4 L1752.6,1260.5 L1753.8,1259.1 L1755.0,1257.2 L1756.2,1257.7 L1757.4,1257.7 L1758.7,1257.0 L1759.9,1255.3 L1761.1,1254.4 L1762.3,1254.0 L1763.5,1253.6 L1764.7,1254.2 L1765.9,1255.7 L1767.1,1257.3 L1768.3,1258.3 L1769.5,1259.6 L1770.7,1261.7 L1771.9,1263.3 L1773.1,1264.9 L1774.3,1266.0 L1775.5,1268.6 L1776.7,1270.5 L1777.9,1272.8 L1779.1,1274.9 L1780.3,1277.6 L1781.5,1279.0 L1782.7,1281.6 L1783.9,1283.1 L1785.2,1284.3 L1786.4,1284.3 L1787.6,1284.1 L1788.8,1284.0 L1790.0,1283.4 L1791.2,1283.0 L1792.4,1282.1 L1793.6,1282.1 L1794.8,1283.0 L1796.0,1282.8 L1797.2,1281.8 L1798.4,1281.2 L1799.6,1281.5 L1800.8,1281.1 L1802.0,1279.5 L1803.2,1277.7 L1804.4,1275.3 L1805.6,1274.7 L1806.8,1274.7 L1808.0,1276.1 L1809.2,1275.8 L1810.4,1276.0 L1811.7,1274.6 L1812.9,1274.9 L1814.1,1273.9 L1815.3,1275.1 L1816.5,1274.3 L1817.7,1275.0 L1818.9,1273.9 L1820.1,1274.5 L1821.3,1273.4 L1822.5,1272.8 L1823.7,1271.1 L1824.9,1270.3 L1826.1,1270.2 L1827.3,1270.2 L1828.5,1270.5 L1829.7,1272.1 L1830.9,1273.8 L1832.1,1276.4 L1833.3,1278.0 L1834.5,1279.1 L1835.7,1279.6 L1836.9,1279.3 L1838.2,1278.6 L1839.4,1277.7 L1840.6,1277.4 L1841.8,1277.5 L1843.0,1276.2 L1844.2,1274.9 L1845.4,1274.9 L1846.6,1275.3 L1847.8,1275.5 L1849.0,1275.5 L1850.2,1275.6 L1851.4,1275.8 L1852.6,1275.6 L1853.8,1275.8 L1855.0,1276.5 L1856.2,1277.3 L1857.4,1277.0 L1858.6,1276.6 L1859.8,1275.2 L1861.0,1275.1 L1862.2,1275.0 L1863.4,1275.2 L1864.7,1275.3 L1865.9,1275.2 L1867.1,1276.0 L1868.3,1277.5 L1869.5,1278.7 L1870.7,1280.2 L1871.9,1281.0 L1873.1,1281.2 L1874.3,1280.1 L1875.5,1278.6 L1876.7,1278.6 L1877.9,1278.0 L1879.1,1277.7 L1880.3,1277.4 L1881.5,1278.9 L1882.7,1278.7 L1883.9,1277.4 L1885.1,1265.4 L1886.3,1252.8 L1887.5,1244.6 L1888.7,1237.9 L1889.9,1231.6 L1891.2,1230.7 L1892.4,1234.5 L1893.6,1240.9 L1894.8,1245.8 L1896.0,1250.3 L1897.2,1257.1 L1898.4,1266.7 L1899.6,1270.9 L1900.8,1274.0 L1902.0,1277.8 L1903.2,1281.3 L1904.4,1285.2 L1905.6,1287.1 L1906.8,1289.5 L1908.0,1290.8 L1909.2,1293.1 L1910.4,1294.3 L1911.6,1295.8 L1912.8,1296.7 L1914.0,1297.7 L1915.2,1298.0 L1916.4,1297.2 L1917.7,1298.2 L1918.9,1298.0 L1920.1,1299.3 L1921.3,1298.9 L1922.5,1300.2 L1923.7,1300.5 L1924.9,1301.4 L1926.1,1302.0 L1927.3,1302.1 L1928.5,1302.9 L1929.7,1302.4 L1930.9,1301.7 L1932.1,1300.9 L1933.3,1299.4 L1934.5,1297.9 L1935.7,1295.1 L1936.9,1292.8 L1938.1,1291.3 L1939.3,1289.7 L1940.5,1288.2 L1941.7,1286.6 L1942.9,1285.3 L1944.2,1285.9 L1945.4,1286.0 L1946.6,1286.9 L1947.8,1287.8 L1949.0,1289.1 L1950.2,1289.4 L1951.4,1290.3 L1952.6,1290.9 L1953.8,1292.1 L1955.0,1293.3 L1956.2,1293.8 L1957.4,1294.2 L1958.6,1294.2 L1959.8,1295.8 L1961.0,1296.4 L1962.2,1296.8 L1962.2,1311.7 L1961.0,1311.4 L1959.8,1312.3 L1958.6,1310.6 L1957.4,1311.0 L1956.2,1309.1 L1955.0,1309.3 L1953.8,1308.1 L1952.6,1307.1 L1951.4,1304.9 L1950.2,1304.0 L1949.0,1302.8 L1947.8,1301.7 L1946.6,1299.7 L1945.4,1298.8 L1944.2,1300.0 L1942.9,1300.0 L1941.7,1301.7 L1940.5,1302.0 L1939.3,1304.8 L1938.1,1306.3 L1936.9,1307.4 L1935.7,1309.7 L1934.5,1312.1 L1933.3,1314.3 L1932.1,1313.8 L1930.9,1315.1 L1929.7,1316.8 L1928.5,1317.1 L1927.3,1317.5 L1926.1,1316.7 L1924.9,1316.1 L1923.7,1314.8 L1922.5,1314.7 L1921.3,1315.6 L1920.1,1315.4 L1918.9,1314.4 L1917.7,1313.5 L1916.4,1313.6 L1915.2,1313.8 L1914.0,1313.0 L1912.8,1313.5 L1911.6,1313.1 L1910.4,1314.2 L1909.2,1312.6 L1908.0,1310.8 L1906.8,1308.0 L1905.6,1306.3 L1904.4,1305.7 L1903.2,1303.3 L1902.0,1302.0 L1900.8,1299.5 L1899.6,1298.3 L1898.4,1294.3 L1897.2,1289.4 L1896.0,1285.0 L1894.8,1281.2 L1893.6,1274.4 L1892.4,1268.3 L1891.2,1264.3 L1889.9,1264.5 L1888.7,1269.4 L1887.5,1275.0 L1886.3,1280.6 L1885.1,1287.4 L1883.9,1295.2 L1882.7,1296.4 L1881.5,1297.6 L1880.3,1295.5 L1879.1,1295.6 L1877.9,1295.5 L1876.7,1296.8 L1875.5,1297.3 L1874.3,1297.4 L1873.1,1298.3 L1871.9,1298.3 L1870.7,1298.6 L1869.5,1297.2 L1868.3,1295.9 L1867.1,1294.5 L1865.9,1293.3 L1864.7,1292.6 L1863.4,1291.6 L1862.2,1291.8 L1861.0,1292.2 L1859.8,1293.5 L1858.6,1293.5 L1857.4,1295.4 L1856.2,1295.5 L1855.0,1296.5 L1853.8,1295.3 L1852.6,1294.8 L1851.4,1294.1 L1850.2,1293.8 L1849.0,1293.0 L1847.8,1293.3 L1846.6,1293.4 L1845.4,1294.1 L1844.2,1293.6 L1843.0,1293.1 L1841.8,1293.5 L1840.6,1294.7 L1839.4,1296.0 L1838.2,1297.0 L1836.9,1296.9 L1835.7,1296.3 L1834.5,1295.9 L1833.3,1294.1 L1832.1,1292.8 L1830.9,1290.0 L1829.7,1288.8 L1828.5,1288.2 L1827.3,1289.2 L1826.1,1289.8 L1824.9,1290.2 L1823.7,1289.7 L1822.5,1289.6 L1821.3,1290.3 L1820.1,1291.1 L1818.9,1291.5 L1817.7,1291.1 L1816.5,1290.5 L1815.3,1290.2 L1814.1,1290.4 L1812.9,1290.7 L1811.7,1291.4 L1810.4,1291.8 L1809.2,1292.1 L1808.0,1291.0 L1806.8,1291.5 L1805.6,1291.1 L1804.4,1292.9 L1803.2,1294.3 L1802.0,1297.1 L1800.8,1298.9 L1799.6,1299.4 L1798.4,1299.4 L1797.2,1299.9 L1796.0,1299.6 L1794.8,1300.5 L1793.6,1300.9 L1792.4,1302.6 L1791.2,1302.7 L1790.0,1302.7 L1788.8,1301.9 L1787.6,1300.7 L1786.4,1301.1 L1785.2,1301.9 L1783.9,1301.9 L1782.7,1299.8 L1781.5,1298.0 L1780.3,1296.7 L1779.1,1296.0 L1777.9,1294.7 L1776.7,1294.6 L1775.5,1293.1 L1774.3,1292.2 L1773.1,1290.0 L1771.9,1288.7 L1770.7,1286.8 L1769.5,1285.7 L1768.3,1284.2 L1767.1,1282.7 L1765.9,1280.7 L1764.7,1280.0 L1763.5,1279.3 L1762.3,1280.8 L1761.1,1281.4 L1759.9,1283.1 L1758.7,1282.7 L1757.4,1283.6 L1756.2,1284.2 L1755.0,1286.0 L1753.8,1286.0 L1752.6,1286.2 L1751.4,1286.5 L1750.2,1286.7 L1749.0,1285.7 L1747.8,1284.9 L1746.6,1285.3 L1745.4,1285.0 L1744.2,1284.7Z" fill="#a0a3cb"/><path d="M1744.2,1270.2 L1745.4,1271.4 L1746.6,1273.0 L1747.8,1273.3 L1749.0,1273.1 L1750.2,1272.5 L1751.4,1272.2 L1752.6,1272.2 L1753.8,1271.7 L1755.0,1271.8 L1756.2,1270.7 L1757.4,1270.0 L1758.7,1268.7 L1759.9,1268.4 L1761.1,1267.4 L1762.3,1267.0 L1763.5,1266.5 L1764.7,1267.4 L1765.9,1269.0 L1767.1,1270.7 L1768.3,1272.7 L1769.5,1273.2 L1770.7,1274.1 L1771.9,1275.3 L1773.1,1277.7 L1774.3,1279.6 L1775.5,1281.9 L1776.7,1282.8 L1777.9,1283.6 L1779.1,1285.0 L1780.3,1287.1 L1781.5,1289.5 L1782.7,1291.2 L1783.9,1292.5 L1785.2,1293.0 L1786.4,1293.5 L1787.6,1293.7 L1788.8,1294.1 L1790.0,1293.4 L1791.2,1292.5 L1792.4,1292.3 L1793.6,1291.9 L1794.8,1291.3 L1796.0,1290.3 L1797.2,1290.0 L1798.4,1290.4 L1799.6,1289.9 L1800.8,1289.0 L1802.0,1287.4 L1803.2,1286.1 L1804.4,1284.3 L1805.6,1282.5 L1806.8,1282.3 L1808.0,1282.8 L1809.2,1282.9 L1810.4,1282.0 L1811.7,1282.1 L1812.9,1282.9 L1814.1,1283.4 L1815.3,1282.9 L1816.5,1282.4 L1817.7,1282.0 L1818.9,1282.4 L1820.1,1282.3 L1821.3,1282.7 L1822.5,1281.9 L1823.7,1281.6 L1824.9,1281.3 L1826.1,1281.3 L1827.3,1280.7 L1828.5,1280.7 L1829.7,1282.0 L1830.9,1283.5 L1832.1,1285.0 L1833.3,1286.2 L1834.5,1287.3 L1835.7,1287.6 L1836.9,1287.0 L1838.2,1286.5 L1839.4,1286.1 L1840.6,1285.4 L1841.8,1285.0 L1843.0,1284.6 L1844.2,1284.4 L1845.4,1284.0 L1846.6,1284.2 L1847.8,1284.3 L1849.0,1285.3 L1850.2,1285.6 L1851.4,1285.9 L1852.6,1286.1 L1853.8,1286.6 L1855.0,1286.7 L1856.2,1286.5 L1857.4,1285.7 L1858.6,1285.3 L1859.8,1284.6 L1861.0,1284.2 L1862.2,1283.7 L1863.4,1283.4 L1864.7,1283.6 L1865.9,1284.7 L1867.1,1285.2 L1868.3,1286.3 L1869.5,1288.0 L1870.7,1289.1 L1871.9,1289.5 L1873.1,1288.3 L1874.3,1288.6 L1875.5,1287.7 L1876.7,1287.2 L1877.9,1286.3 L1879.1,1286.5 L1880.3,1288.2 L1881.5,1289.2 L1882.7,1288.8 L1883.9,1286.4 L1885.1,1276.9 L1886.3,1265.7 L1887.5,1259.0 L1888.7,1252.9 L1889.9,1247.9 L1891.2,1247.5 L1892.4,1251.3 L1893.6,1257.1 L1894.8,1262.7 L1896.0,1266.9 L1897.2,1272.8 L1898.4,1278.9 L1899.6,1283.0 L1900.8,1286.7 L1902.0,1291.0 L1903.2,1294.5 L1904.4,1297.3 L1905.6,1298.5 L1906.8,1300.0 L1908.0,1301.9 L1909.2,1304.2 L1910.4,1305.0 L1911.6,1304.8 L1912.8,1304.2 L1914.0,1304.2 L1915.2,1304.4 L1916.4,1305.2 L1917.7,1306.1 L1918.9,1307.0 L1920.1,1307.5 L1921.3,1307.6 L1922.5,1308.2 L1923.7,1308.1 L1924.9,1309.2 L1926.1,1309.4 L1927.3,1310.4 L1928.5,1309.4 L1929.7,1309.1 L1930.9,1307.8 L1932.1,1308.2 L1933.3,1307.2 L1934.5,1305.4 L1935.7,1301.7 L1936.9,1300.1 L1938.1,1298.7 L1939.3,1297.2 L1940.5,1294.9 L1941.7,1294.1 L1942.9,1293.5 L1944.2,1293.0 L1945.4,1292.9 L1946.6,1293.8 L1947.8,1295.2 L1949.0,1296.6 L1950.2,1296.6 L1951.4,1297.1 L1952.6,1297.9 L1953.8,1299.3 L1955.0,1300.5 L1956.2,1300.9 L1957.4,1302.1 L1958.6,1302.5 L1959.8,1303.0 L1961.0,1303.7 L1962.2,1304.8" fill="none" stroke="#2e57a7" stroke-width="2.8" stroke-linejoin="round" stroke-linecap="round"/><path d="M1744.2,1267.8 L1745.4,1267.9 L1746.6,1269.9 L1747.8,1272.1 L1749.0,1274.2 L1750.2,1275.5 L1751.4,1276.0 L1752.6,1277.4 L1753.8,1277.6 L1755.0,1279.6 L1756.2,1279.4 L1757.4,1280.7 L1758.7,1280.6 L1759.9,1282.3 L1761.1,1283.0 L1762.3,1284.1 L1763.5,1282.8 L1764.7,1281.4 L1765.9,1278.5 L1767.1,1277.0 L1768.3,1274.3 L1769.5,1272.5 L1770.7,1270.3 L1771.9,1267.0 L1773.1,1262.7 L1774.3,1258.7 L1775.5,1255.9 L1776.7,1253.9 L1777.9,1250.3 L1779.1,1249.7 L1780.3,1251.1 L1781.5,1255.9 L1782.7,1260.7 L1783.9,1263.9 L1785.2,1264.9 L1786.4,1266.3 L1787.6,1269.9 L1788.8,1272.7 L1790.0,1274.5 L1791.2,1273.0 L1792.4,1270.7 L1793.6,1267.4 L1794.8,1264.4 L1796.0,1262.1 L1797.2,1257.6 L1798.4,1253.8 L1799.6,1249.9 L1800.8,1247.9 L1802.0,1246.1 L1803.2,1245.2 L1804.4,1244.2 L1805.6,1245.0 L1806.8,1245.8 L1808.0,1247.1 L1809.2,1248.1 L1810.4,1247.9 L1811.7,1248.5 L1812.9,1249.0 L1814.1,1250.5 L1815.3,1251.8 L1816.5,1254.1 L1817.7,1255.2 L1818.9,1256.4 L1820.1,1255.8 L1821.3,1256.4 L1822.5,1255.5 L1823.7,1255.1 L1824.9,1255.2 L1826.1,1257.1 L1827.3,1258.8 L1828.5,1260.9 L1829.7,1263.3 L1830.9,1266.5 L1832.1,1268.4 L1833.3,1269.2 L1834.5,1269.9 L1835.7,1270.8 L1836.9,1271.8 L1838.2,1270.7 L1839.4,1270.0 L1840.6,1268.0 L1841.8,1267.2 L1843.0,1265.2 L1844.2,1263.6 L1845.4,1262.4 L1846.6,1261.8 L1847.8,1261.1 L1849.0,1260.1 L1850.2,1259.8 L1851.4,1260.4 L1852.6,1260.3 L1853.8,1256.9 L1855.0,1254.0 L1856.2,1251.9 L1857.4,1251.0 L1858.6,1249.1 L1859.8,1247.6 L1861.0,1247.9 L1862.2,1248.5 L1863.4,1248.8 L1864.7,1249.4 L1865.9,1251.1 L1867.1,1252.2 L1868.3,1252.7 L1869.5,1253.8 L1870.7,1255.3 L1871.9,1255.5 L1873.1,1255.7 L1874.3,1253.9 L1875.5,1253.5 L1876.7,1252.1 L1877.9,1251.5 L1879.1,1252.6 L1880.3,1255.5 L1881.5,1261.1 L1882.7,1261.1 L1883.9,1255.2 L1885.1,1245.6 L1886.3,1236.6 L1887.5,1221.5 L1888.7,1206.1 L1889.9,1197.3 L1891.2,1189.4 L1892.4,1183.7 L1893.6,1187.7 L1894.8,1198.5 L1896.0,1204.8 L1897.2,1211.0 L1898.4,1218.6 L1899.6,1225.1 L1900.8,1231.8 L1902.0,1239.2 L1903.2,1244.0 L1904.4,1246.9 L1905.6,1248.9 L1906.8,1251.9 L1908.0,1254.9 L1909.2,1257.0 L1910.4,1258.4 L1911.6,1259.3 L1912.8,1261.2 L1914.0,1262.4 L1915.2,1264.2 L1916.4,1265.6 L1917.7,1267.3 L1918.9,1267.7 L1920.1,1267.6 L1921.3,1268.5 L1922.5,1269.5 L1923.7,1273.6 L1924.9,1278.8 L1926.1,1283.4 L1927.3,1286.5 L1928.5,1288.1 L1929.7,1290.6 L1930.9,1291.7 L1932.1,1292.2 L1933.3,1289.9 L1934.5,1286.2 L1935.7,1283.3 L1936.9,1281.9 L1938.1,1281.8 L1939.3,1282.2 L1940.5,1283.4 L1941.7,1284.7 L1942.9,1285.8 L1944.2,1287.0 L1945.4,1288.5 L1946.6,1288.5 L1947.8,1287.9 L1949.0,1286.8 L1950.2,1286.2 L1951.4,1285.5 L1952.6,1285.4 L1953.8,1285.2 L1955.0,1285.4 L1956.2,1286.0 L1957.4,1286.1 L1958.6,1287.5 L1959.8,1287.7 L1961.0,1290.1 L1962.2,1291.1 L1962.2,1309.9 L1961.0,1308.7 L1959.8,1307.0 L1958.6,1305.3 L1957.4,1304.0 L1956.2,1304.1 L1955.0,1304.1 L1953.8,1304.4 L1952.6,1304.1 L1951.4,1304.3 L1950.2,1305.4 L1949.0,1305.2 L1947.8,1306.3 L1946.6,1305.7 L1945.4,1306.1 L1944.2,1304.6 L1942.9,1304.2 L1941.7,1303.3 L1940.5,1301.3 L1939.3,1299.2 L1938.1,1298.8 L1936.9,1299.4 L1935.7,1301.9 L1934.5,1304.3 L1933.3,1308.0 L1932.1,1308.4 L1930.9,1308.9 L1929.7,1308.1 L1928.5,1306.9 L1927.3,1305.2 L1926.1,1303.4 L1924.9,1300.5 L1923.7,1298.1 L1922.5,1295.0 L1921.3,1293.8 L1920.1,1292.2 L1918.9,1290.4 L1917.7,1289.3 L1916.4,1287.6 L1915.2,1287.4 L1914.0,1286.4 L1912.8,1286.0 L1911.6,1284.9 L1910.4,1284.0 L1909.2,1281.7 L1908.0,1279.9 L1906.8,1278.0 L1905.6,1275.1 L1904.4,1272.5 L1903.2,1269.6 L1902.0,1267.4 L1900.8,1263.6 L1899.6,1260.1 L1898.4,1255.6 L1897.2,1250.3 L1896.0,1247.2 L1894.8,1243.5 L1893.6,1237.6 L1892.4,1236.4 L1891.2,1241.1 L1889.9,1247.0 L1888.7,1251.3 L1887.5,1260.8 L1886.3,1270.0 L1885.1,1274.7 L1883.9,1280.5 L1882.7,1285.2 L1881.5,1284.8 L1880.3,1281.1 L1879.1,1276.4 L1877.9,1276.6 L1876.7,1276.2 L1875.5,1277.3 L1874.3,1278.1 L1873.1,1280.0 L1871.9,1281.0 L1870.7,1281.1 L1869.5,1279.2 L1868.3,1277.2 L1867.1,1274.7 L1865.9,1273.3 L1864.7,1272.7 L1863.4,1272.4 L1862.2,1273.1 L1861.0,1274.2 L1859.8,1276.2 L1858.6,1277.6 L1857.4,1277.9 L1856.2,1278.3 L1855.0,1279.4 L1853.8,1280.8 L1852.6,1281.3 L1851.4,1281.0 L1850.2,1281.8 L1849.0,1283.3 L1847.8,1284.4 L1846.6,1284.4 L1845.4,1284.0 L1844.2,1283.9 L1843.0,1284.5 L1841.8,1285.9 L1840.6,1288.3 L1839.4,1291.3 L1838.2,1293.3 L1836.9,1293.3 L1835.7,1292.2 L1834.5,1291.8 L1833.3,1292.2 L1832.1,1291.9 L1830.9,1290.8 L1829.7,1288.1 L1828.5,1286.7 L1827.3,1283.4 L1826.1,1282.5 L1824.9,1281.4 L1823.7,1282.1 L1822.5,1281.5 L1821.3,1282.7 L1820.1,1282.5 L1818.9,1283.2 L1817.7,1281.6 L1816.5,1280.5 L1815.3,1277.9 L1814.1,1276.0 L1812.9,1275.4 L1811.7,1276.1 L1810.4,1275.8 L1809.2,1275.2 L1808.0,1273.0 L1806.8,1272.2 L1805.6,1271.9 L1804.4,1272.6 L1803.2,1272.6 L1802.0,1272.7 L1800.8,1273.8 L1799.6,1276.0 L1798.4,1279.1 L1797.2,1282.8 L1796.0,1286.7 L1794.8,1289.0 L1793.6,1290.8 L1792.4,1293.5 L1791.2,1295.4 L1790.0,1296.1 L1788.8,1295.4 L1787.6,1295.2 L1786.4,1294.2 L1785.2,1292.4 L1783.9,1291.2 L1782.7,1288.3 L1781.5,1285.0 L1780.3,1280.5 L1779.1,1279.0 L1777.9,1278.4 L1776.7,1280.7 L1775.5,1283.0 L1774.3,1285.3 L1773.1,1286.8 L1771.9,1288.8 L1770.7,1292.0 L1769.5,1294.3 L1768.3,1297.1 L1767.1,1298.8 L1765.9,1301.8 L1764.7,1304.3 L1763.5,1305.9 L1762.3,1306.1 L1761.1,1304.2 L1759.9,1303.4 L1758.7,1301.7 L1757.4,1302.6 L1756.2,1301.6 L1755.0,1300.4 L1753.8,1298.1 L1752.6,1296.9 L1751.4,1295.9 L1750.2,1294.9 L1749.0,1294.1 L1747.8,1293.7 L1746.6,1292.7 L1745.4,1291.4 L1744.2,1290.9Z" fill="#eca2a7"/><path d="M1744.2,1277.9 L1745.4,1279.7 L1746.6,1281.6 L1747.8,1283.6 L1749.0,1284.4 L1750.2,1284.8 L1751.4,1285.2 L1752.6,1286.3 L1753.8,1287.8 L1755.0,1289.8 L1756.2,1290.9 L1757.4,1291.8 L1758.7,1292.1 L1759.9,1292.3 L1761.1,1293.5 L1762.3,1294.2 L1763.5,1295.2 L1764.7,1293.7 L1765.9,1291.4 L1767.1,1288.7 L1768.3,1286.3 L1769.5,1283.4 L1770.7,1281.2 L1771.9,1277.4 L1773.1,1273.7 L1774.3,1270.1 L1775.5,1267.4 L1776.7,1266.4 L1777.9,1264.3 L1779.1,1264.1 L1780.3,1266.0 L1781.5,1269.9 L1782.7,1275.0 L1783.9,1277.8 L1785.2,1280.1 L1786.4,1282.1 L1787.6,1284.4 L1788.8,1285.2 L1790.0,1285.6 L1791.2,1284.0 L1792.4,1281.3 L1793.6,1277.3 L1794.8,1275.7 L1796.0,1274.2 L1797.2,1271.5 L1798.4,1267.0 L1799.6,1263.9 L1800.8,1261.7 L1802.0,1260.2 L1803.2,1258.5 L1804.4,1258.3 L1805.6,1259.0 L1806.8,1259.8 L1808.0,1259.9 L1809.2,1260.7 L1810.4,1262.0 L1811.7,1263.8 L1812.9,1265.0 L1814.1,1265.6 L1815.3,1266.7 L1816.5,1268.1 L1817.7,1268.9 L1818.9,1269.9 L1820.1,1270.1 L1821.3,1270.0 L1822.5,1268.8 L1823.7,1267.8 L1824.9,1267.9 L1826.1,1268.9 L1827.3,1270.4 L1828.5,1273.1 L1829.7,1275.9 L1830.9,1278.2 L1832.1,1279.9 L1833.3,1280.2 L1834.5,1281.0 L1835.7,1280.5 L1836.9,1281.3 L1838.2,1281.3 L1839.4,1280.6 L1840.6,1278.9 L1841.8,1276.4 L1843.0,1275.1 L1844.2,1274.0 L1845.4,1273.2 L1846.6,1272.4 L1847.8,1271.6 L1849.0,1272.3 L1850.2,1271.5 L1851.4,1271.1 L1852.6,1270.1 L1853.8,1268.3 L1855.0,1265.3 L1856.2,1262.7 L1857.4,1262.3 L1858.6,1262.2 L1859.8,1261.6 L1861.0,1261.1 L1862.2,1260.7 L1863.4,1261.1 L1864.7,1261.8 L1865.9,1262.8 L1867.1,1264.3 L1868.3,1265.4 L1869.5,1267.3 L1870.7,1268.4 L1871.9,1268.8 L1873.1,1267.8 L1874.3,1267.0 L1875.5,1265.5 L1876.7,1263.9 L1877.9,1263.1 L1879.1,1263.7 L1880.3,1267.7 L1881.5,1272.3 L1882.7,1273.1 L1883.9,1268.4 L1885.1,1260.4 L1886.3,1253.1 L1887.5,1241.9 L1888.7,1230.0 L1889.9,1223.2 L1891.2,1215.4 L1892.4,1210.4 L1893.6,1212.7 L1894.8,1221.2 L1896.0,1226.4 L1897.2,1231.9 L1898.4,1238.0 L1899.6,1242.1 L1900.8,1246.3 L1902.0,1250.8 L1903.2,1255.2 L1904.4,1258.7 L1905.6,1261.6 L1906.8,1265.1 L1908.0,1267.1 L1909.2,1269.7 L1910.4,1271.0 L1911.6,1272.3 L1912.8,1273.2 L1914.0,1274.6 L1915.2,1276.1 L1916.4,1277.4 L1917.7,1277.5 L1918.9,1278.8 L1920.1,1280.7 L1921.3,1282.2 L1922.5,1283.2 L1923.7,1285.5 L1924.9,1289.6 L1926.1,1293.0 L1927.3,1295.1 L1928.5,1295.9 L1929.7,1297.5 L1930.9,1298.7 L1932.1,1299.9 L1933.3,1298.0 L1934.5,1294.6 L1935.7,1290.5 L1936.9,1289.1 L1938.1,1289.6 L1939.3,1290.5 L1940.5,1292.5 L1941.7,1292.2 L1942.9,1293.1 L1944.2,1294.6 L1945.4,1297.0 L1946.6,1298.5 L1947.8,1297.1 L1949.0,1295.4 L1950.2,1293.8 L1951.4,1293.3 L1952.6,1293.1 L1953.8,1293.6 L1955.0,1293.7 L1956.2,1294.2 L1957.4,1294.9 L1958.6,1296.7 L1959.8,1298.5 L1961.0,1299.4 L1962.2,1300.2" fill="none" stroke="#e91c2e" stroke-width="2.8" stroke-linejoin="round" stroke-linecap="round"/></g>
<rect x="1827.00" y="1128.60" width="59.40" height="21.80" fill="#17a3db"/>
<line x1="1742.30" y1="1126.10" x2="1742.30" y2="1343.00" stroke="#231f20" stroke-width="1.7"/>
<line x1="1741.50" y1="1342.20" x2="1964.60" y2="1342.20" stroke="#231f20" stroke-width="1.8"/>
<line x1="1737.10" y1="1197.60" x2="1742.30" y2="1197.60" stroke="#231f20" stroke-width="1.6"/>
<line x1="1737.10" y1="1270.30" x2="1742.30" y2="1270.30" stroke="#231f20" stroke-width="1.6"/>
<line x1="1791.90" y1="1342.20" x2="1791.90" y2="1347.00" stroke="#231f20" stroke-width="1.6"/>
<line x1="1885.90" y1="1342.20" x2="1885.90" y2="1347.00" stroke="#231f20" stroke-width="1.6"/>
<text x="1716.10" y="1206.10" font-size="22.5" fill="#231f20">2</text>
<text x="1715.76" y="1278.80" font-size="22.5" fill="#231f20">1</text>
<text x="1773.38" y="1367.50" font-size="22.5" fill="#231f20">−2</text>
<text x="1877.80" y="1367.50" font-size="22.5" fill="#231f20">0</text></svg>
</body></html>
